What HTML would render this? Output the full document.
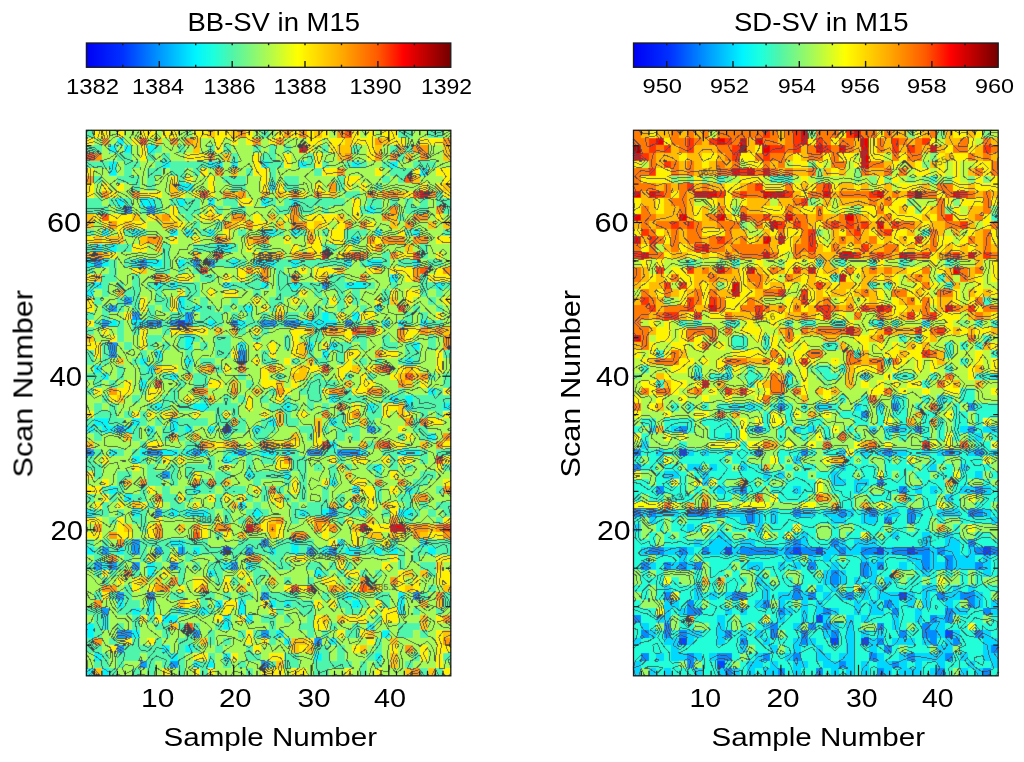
<!DOCTYPE html>
<html><head><meta charset="utf-8"><style>html,body{margin:0;padding:0;background:#fff;}svg{display:block;}</style></head>
<body><svg width="1024" height="762" viewBox="0 0 1024 762">
<defs><filter id="bl" filterUnits="userSpaceOnUse" x="0" y="0" width="1024" height="762"><feConvolveMatrix order="3" kernelMatrix="0 1 0 1 8 1 0 1 0" divisor="12" edgeMode="duplicate"/></filter></defs>
<defs><linearGradient id="cb" x1="0" x2="1" y1="0" y2="0"><stop offset="0.0" stop-color="#0000f5"/><stop offset="0.1" stop-color="#0032ff"/><stop offset="0.2" stop-color="#0096ff"/><stop offset="0.3" stop-color="#00f5ff"/><stop offset="0.35" stop-color="#1effdc"/><stop offset="0.4" stop-color="#50f5aa"/><stop offset="0.5" stop-color="#affa50"/><stop offset="0.58" stop-color="#ffff00"/><stop offset="0.7" stop-color="#ffaa00"/><stop offset="0.8" stop-color="#ff5a00"/><stop offset="0.87" stop-color="#ff0000"/><stop offset="1.0" stop-color="#730000"/></linearGradient></defs>
<rect width="1024" height="762" fill="#fff"/>
<g filter="url(#bl)"><g transform="translate(86.4 130.3) scale(7.59167 7.57639)" shape-rendering="crispEdges">
<path fill="#50f5aa" d="M0 0h1v1h-1zM23 0h1v1h-1zM41 0h2v1h-2zM45 0h2v1h-2zM0 2h2v1h-2zM9 2h1v1h-1zM12 2h1v1h-1zM16 2h1v1h-1zM18 2h1v1h-1zM22 2h1v1h-1zM24 2h1v1h-1zM26 2h1v1h-1zM31 2h1v1h-1zM35 2h1v1h-1zM40 2h1v1h-1zM42 2h1v1h-1zM4 3h2v1h-2zM8 3h1v1h-1zM10 3h1v1h-1zM19 3h1v1h-1zM23 3h2v1h-2zM29 3h1v1h-1zM41 3h1v1h-1zM0 4h3v1h-3zM5 4h2v1h-2zM9 4h1v1h-1zM11 4h5v1h-5zM24 4h2v1h-2zM29 4h1v1h-1zM31 4h1v1h-1zM34 4h1v1h-1zM36 4h1v1h-1zM39 4h1v1h-1zM43 4h3v1h-3zM5 5h1v1h-1zM8 5h2v1h-2zM11 5h2v1h-2zM14 5h1v1h-1zM21 5h1v1h-1zM24 5h1v1h-1zM30 5h1v1h-1zM40 5h3v1h-3zM1 6h1v1h-1zM4 6h3v1h-3zM8 6h1v1h-1zM12 6h1v1h-1zM18 6h3v1h-3zM24 6h1v1h-1zM26 6h2v1h-2zM33 6h1v1h-1zM39 6h1v1h-1zM41 6h1v1h-1zM6 7h1v1h-1zM8 7h1v1h-1zM19 7h2v1h-2zM26 7h2v1h-2zM33 7h1v1h-1zM38 7h1v1h-1zM34 8h2v1h-2zM46 8h1v1h-1zM0 9h2v1h-2zM3 9h1v1h-1zM5 9h1v1h-1zM9 9h1v1h-1zM11 9h1v1h-1zM13 9h2v1h-2zM18 9h2v1h-2zM24 9h1v1h-1zM26 9h1v1h-1zM28 9h6v1h-6zM37 9h2v1h-2zM40 9h1v1h-1zM42 9h1v1h-1zM44 9h1v1h-1zM46 9h2v1h-2zM0 10h3v1h-3zM4 10h1v1h-1zM7 10h1v1h-1zM9 10h1v1h-1zM12 10h3v1h-3zM17 10h1v1h-1zM19 10h2v1h-2zM25 10h2v1h-2zM28 10h2v1h-2zM31 10h1v1h-1zM36 10h1v1h-1zM38 10h1v1h-1zM42 10h3v1h-3zM47 10h1v1h-1zM13 11h1v1h-1zM41 11h1v1h-1zM14 12h1v1h-1zM17 12h1v1h-1zM0 13h1v1h-1zM5 13h1v1h-1zM7 13h1v1h-1zM15 13h1v1h-1zM20 13h1v1h-1zM25 13h1v1h-1zM28 13h1v1h-1zM31 13h1v1h-1zM34 13h3v1h-3zM42 13h1v1h-1zM47 13h1v1h-1zM34 14h1v1h-1zM0 15h1v1h-1zM2 15h1v1h-1zM4 15h2v1h-2zM10 15h1v1h-1zM14 15h3v1h-3zM19 15h1v1h-1zM23 15h1v1h-1zM31 15h2v1h-2zM44 15h1v1h-1zM10 16h1v1h-1zM39 16h1v1h-1zM44 16h1v1h-1zM3 17h1v1h-1zM5 17h1v1h-1zM10 17h1v1h-1zM13 17h1v1h-1zM17 17h2v1h-2zM20 17h1v1h-1zM25 17h2v1h-2zM28 17h6v1h-6zM36 17h1v1h-1zM39 17h1v1h-1zM41 17h2v1h-2zM45 17h2v1h-2zM0 18h1v1h-1zM3 18h1v1h-1zM9 18h2v1h-2zM12 18h1v1h-1zM14 18h1v1h-1zM25 18h1v1h-1zM2 19h2v1h-2zM6 19h1v1h-1zM15 19h2v1h-2zM22 19h1v1h-1zM25 19h2v1h-2zM32 19h2v1h-2zM44 19h1v1h-1zM0 20h1v1h-1zM2 20h1v1h-1zM4 20h1v1h-1zM6 20h1v1h-1zM8 20h1v1h-1zM10 20h1v1h-1zM12 20h3v1h-3zM19 20h4v1h-4zM25 20h2v1h-2zM28 20h3v1h-3zM32 20h2v1h-2zM37 20h1v1h-1zM40 20h1v1h-1zM44 20h2v1h-2zM47 20h1v1h-1zM2 21h1v1h-1zM5 21h2v1h-2zM9 21h1v1h-1zM13 21h2v1h-2zM22 21h1v1h-1zM25 21h3v1h-3zM30 21h1v1h-1zM33 21h1v1h-1zM35 21h1v1h-1zM39 21h1v1h-1zM44 21h1v1h-1zM46 21h1v1h-1zM1 22h1v1h-1zM4 22h1v1h-1zM6 22h1v1h-1zM9 22h2v1h-2zM13 22h1v1h-1zM15 22h1v1h-1zM19 22h1v1h-1zM24 22h2v1h-2zM31 22h1v1h-1zM33 22h1v1h-1zM35 22h1v1h-1zM39 22h1v1h-1zM45 22h1v1h-1zM2 23h1v1h-1zM4 23h1v1h-1zM6 23h1v1h-1zM8 23h1v1h-1zM10 23h1v1h-1zM13 23h1v1h-1zM15 23h2v1h-2zM18 23h1v1h-1zM20 23h1v1h-1zM24 23h1v1h-1zM28 23h1v1h-1zM30 23h1v1h-1zM33 23h1v1h-1zM36 23h1v1h-1zM43 23h1v1h-1zM46 23h1v1h-1zM0 24h1v1h-1zM2 24h1v1h-1zM8 24h1v1h-1zM11 24h2v1h-2zM15 24h3v1h-3zM19 24h1v1h-1zM21 24h1v1h-1zM23 24h1v1h-1zM26 24h2v1h-2zM30 24h1v1h-1zM32 24h1v1h-1zM42 24h1v1h-1zM44 24h1v1h-1zM1 25h1v1h-1zM4 25h1v1h-1zM10 25h1v1h-1zM14 25h2v1h-2zM17 25h1v1h-1zM21 25h2v1h-2zM25 25h1v1h-1zM35 25h1v1h-1zM37 25h1v1h-1zM42 25h1v1h-1zM45 25h2v1h-2zM0 26h1v1h-1zM4 26h1v1h-1zM6 26h1v1h-1zM10 26h1v1h-1zM20 26h1v1h-1zM23 26h1v1h-1zM30 26h1v1h-1zM4 27h1v1h-1zM8 27h2v1h-2zM12 27h1v1h-1zM14 27h1v1h-1zM17 27h2v1h-2zM22 27h1v1h-1zM26 27h1v1h-1zM29 27h2v1h-2zM35 27h2v1h-2zM39 27h1v1h-1zM45 27h1v1h-1zM2 28h1v1h-1zM5 28h1v1h-1zM8 28h1v1h-1zM10 28h1v1h-1zM12 28h1v1h-1zM15 28h1v1h-1zM17 28h2v1h-2zM26 28h1v1h-1zM33 28h2v1h-2zM36 28h1v1h-1zM39 28h2v1h-2zM42 28h1v1h-1zM45 28h1v1h-1zM0 29h1v1h-1zM2 29h1v1h-1zM7 29h1v1h-1zM13 29h1v1h-1zM17 29h2v1h-2zM23 29h1v1h-1zM29 29h1v1h-1zM33 29h1v1h-1zM42 29h2v1h-2zM47 29h1v1h-1zM0 30h1v1h-1zM2 30h1v1h-1zM6 30h1v1h-1zM9 30h1v1h-1zM15 30h2v1h-2zM23 30h2v1h-2zM27 30h1v1h-1zM30 30h2v1h-2zM33 30h1v1h-1zM36 30h1v1h-1zM38 30h1v1h-1zM41 30h1v1h-1zM43 30h1v1h-1zM4 31h1v1h-1zM7 31h1v1h-1zM13 31h1v1h-1zM17 31h1v1h-1zM0 32h2v1h-2zM4 32h1v1h-1zM7 32h2v1h-2zM10 32h1v1h-1zM14 32h2v1h-2zM20 32h1v1h-1zM25 32h1v1h-1zM30 32h1v1h-1zM34 32h1v1h-1zM37 32h1v1h-1zM45 32h1v1h-1zM47 32h1v1h-1zM1 33h1v1h-1zM3 33h1v1h-1zM12 33h1v1h-1zM14 33h2v1h-2zM21 33h1v1h-1zM29 33h4v1h-4zM47 33h1v1h-1zM0 34h1v1h-1zM7 34h1v1h-1zM11 34h1v1h-1zM24 34h1v1h-1zM28 34h3v1h-3zM34 34h1v1h-1zM41 34h1v1h-1zM46 34h1v1h-1zM2 35h1v1h-1zM6 35h1v1h-1zM10 35h2v1h-2zM15 35h1v1h-1zM18 35h1v1h-1zM20 35h1v1h-1zM23 35h1v1h-1zM26 35h1v1h-1zM29 35h2v1h-2zM33 35h4v1h-4zM39 35h1v1h-1zM41 35h1v1h-1zM43 35h5v1h-5zM1 36h1v1h-1zM3 36h1v1h-1zM8 36h1v1h-1zM10 36h1v1h-1zM12 36h2v1h-2zM16 36h4v1h-4zM24 36h2v1h-2zM27 36h1v1h-1zM29 36h1v1h-1zM31 36h1v1h-1zM38 36h1v1h-1zM43 36h4v1h-4zM1 37h3v1h-3zM5 37h1v1h-1zM7 37h1v1h-1zM17 37h1v1h-1zM19 37h1v1h-1zM26 37h1v1h-1zM33 37h1v1h-1zM37 37h2v1h-2zM44 37h1v1h-1zM46 37h1v1h-1zM0 38h1v1h-1zM3 38h2v1h-2zM7 38h1v1h-1zM9 38h1v1h-1zM12 38h4v1h-4zM17 38h2v1h-2zM20 38h1v1h-1zM23 38h1v1h-1zM26 38h2v1h-2zM33 38h1v1h-1zM37 38h1v1h-1zM43 38h1v1h-1zM1 39h1v1h-1zM6 39h1v1h-1zM10 39h1v1h-1zM12 39h1v1h-1zM19 39h2v1h-2zM23 39h2v1h-2zM28 39h2v1h-2zM31 39h1v1h-1zM33 39h3v1h-3zM38 39h1v1h-1zM43 39h2v1h-2zM1 40h1v1h-1zM6 40h1v1h-1zM8 40h1v1h-1zM10 40h1v1h-1zM12 40h1v1h-1zM18 40h1v1h-1zM22 40h2v1h-2zM29 40h1v1h-1zM33 40h1v1h-1zM35 40h1v1h-1zM41 40h1v1h-1zM44 40h1v1h-1zM7 41h1v1h-1zM13 41h2v1h-2zM37 41h1v1h-1zM1 42h1v1h-1zM4 42h1v1h-1zM6 42h1v1h-1zM12 42h1v1h-1zM18 42h1v1h-1zM21 42h2v1h-2zM25 42h1v1h-1zM27 42h1v1h-1zM31 42h2v1h-2zM39 42h2v1h-2zM44 42h1v1h-1zM46 42h2v1h-2zM0 43h1v1h-1zM7 43h1v1h-1zM9 43h1v1h-1zM16 43h1v1h-1zM19 43h1v1h-1zM21 43h1v1h-1zM23 43h2v1h-2zM27 43h2v1h-2zM33 43h1v1h-1zM40 43h1v1h-1zM44 43h1v1h-1zM0 44h2v1h-2zM8 44h1v1h-1zM11 44h1v1h-1zM13 44h4v1h-4zM21 44h1v1h-1zM27 44h2v1h-2zM30 44h1v1h-1zM32 44h1v1h-1zM34 44h1v1h-1zM37 44h1v1h-1zM40 44h1v1h-1zM42 44h1v1h-1zM47 44h1v1h-1zM1 45h1v1h-1zM4 45h2v1h-2zM8 45h2v1h-2zM11 45h1v1h-1zM13 45h1v1h-1zM17 45h2v1h-2zM22 45h4v1h-4zM28 45h1v1h-1zM32 45h1v1h-1zM38 45h1v1h-1zM44 45h2v1h-2zM4 46h1v1h-1zM8 46h2v1h-2zM11 46h1v1h-1zM15 46h1v1h-1zM17 46h1v1h-1zM22 46h1v1h-1zM26 46h1v1h-1zM28 46h1v1h-1zM43 46h2v1h-2zM2 47h1v1h-1zM4 47h1v1h-1zM7 47h1v1h-1zM10 47h1v1h-1zM13 47h1v1h-1zM15 47h2v1h-2zM18 47h3v1h-3zM23 47h1v1h-1zM25 47h1v1h-1zM28 47h1v1h-1zM31 47h1v1h-1zM38 47h1v1h-1zM43 47h1v1h-1zM46 47h1v1h-1zM0 48h1v1h-1zM3 48h1v1h-1zM6 48h2v1h-2zM10 48h2v1h-2zM13 48h1v1h-1zM17 48h1v1h-1zM21 48h1v1h-1zM23 48h1v1h-1zM26 48h1v1h-1zM28 48h1v1h-1zM31 48h1v1h-1zM33 48h1v1h-1zM38 48h1v1h-1zM41 48h2v1h-2zM2 49h1v1h-1zM8 49h1v1h-1zM11 49h2v1h-2zM17 49h1v1h-1zM22 49h1v1h-1zM27 49h1v1h-1zM29 49h3v1h-3zM33 49h1v1h-1zM35 49h1v1h-1zM42 49h1v1h-1zM44 49h1v1h-1zM46 49h2v1h-2zM1 50h2v1h-2zM4 50h1v1h-1zM7 50h1v1h-1zM10 50h1v1h-1zM12 50h1v1h-1zM16 50h1v1h-1zM18 50h1v1h-1zM21 50h1v1h-1zM23 50h1v1h-1zM27 50h1v1h-1zM29 50h2v1h-2zM33 50h3v1h-3zM39 50h1v1h-1zM43 50h1v1h-1zM45 50h1v1h-1zM47 50h1v1h-1zM3 51h1v1h-1zM6 51h2v1h-2zM15 51h2v1h-2zM18 51h1v1h-1zM20 51h1v1h-1zM22 51h1v1h-1zM27 51h1v1h-1zM33 51h1v1h-1zM42 51h1v1h-1zM46 51h1v1h-1zM7 52h1v1h-1zM17 53h1v1h-1zM0 54h1v1h-1zM2 54h1v1h-1zM5 54h1v1h-1zM7 54h4v1h-4zM13 54h3v1h-3zM20 54h3v1h-3zM25 54h2v1h-2zM28 54h2v1h-2zM37 54h1v1h-1zM40 54h1v1h-1zM45 54h3v1h-3zM1 55h1v1h-1zM3 55h1v1h-1zM5 55h1v1h-1zM7 55h1v1h-1zM10 55h1v1h-1zM13 55h1v1h-1zM15 55h3v1h-3zM19 55h2v1h-2zM22 55h2v1h-2zM25 55h2v1h-2zM28 55h1v1h-1zM30 55h1v1h-1zM33 55h1v1h-1zM36 55h2v1h-2zM39 55h1v1h-1zM41 55h1v1h-1zM43 55h2v1h-2zM46 55h2v1h-2zM1 56h1v1h-1zM5 56h1v1h-1zM7 56h1v1h-1zM10 56h1v1h-1zM13 56h1v1h-1zM17 56h1v1h-1zM19 56h1v1h-1zM24 56h2v1h-2zM41 56h1v1h-1zM43 56h1v1h-1zM0 57h1v1h-1zM4 57h1v1h-1zM9 57h1v1h-1zM12 57h1v1h-1zM14 57h1v1h-1zM16 57h2v1h-2zM22 57h1v1h-1zM25 57h2v1h-2zM29 57h2v1h-2zM32 57h1v1h-1zM34 57h1v1h-1zM41 57h1v1h-1zM44 57h2v1h-2zM1 58h1v1h-1zM3 58h1v1h-1zM6 58h1v1h-1zM12 58h1v1h-1zM17 58h1v1h-1zM22 58h2v1h-2zM31 58h1v1h-1zM33 58h1v1h-1zM36 58h1v1h-1zM38 58h1v1h-1zM45 58h1v1h-1zM2 59h1v1h-1zM12 59h1v1h-1zM17 59h1v1h-1zM19 59h1v1h-1zM22 59h1v1h-1zM26 59h1v1h-1zM29 59h1v1h-1zM34 59h1v1h-1zM37 59h1v1h-1zM5 60h1v1h-1zM23 60h1v1h-1zM45 60h1v1h-1zM1 61h1v1h-1zM3 61h1v1h-1zM5 61h1v1h-1zM11 61h2v1h-2zM15 61h2v1h-2zM18 61h1v1h-1zM20 61h2v1h-2zM24 61h4v1h-4zM31 61h1v1h-1zM33 61h1v1h-1zM35 61h1v1h-1zM38 61h2v1h-2zM44 61h1v1h-1zM47 61h1v1h-1zM5 62h2v1h-2zM15 62h1v1h-1zM25 62h1v1h-1zM27 62h3v1h-3zM33 62h2v1h-2zM36 62h1v1h-1zM39 62h1v1h-1zM47 62h1v1h-1zM0 63h2v1h-2zM4 63h2v1h-2zM7 63h1v1h-1zM11 63h1v1h-1zM13 63h2v1h-2zM16 63h1v1h-1zM25 63h1v1h-1zM28 63h2v1h-2zM34 63h2v1h-2zM43 63h1v1h-1zM46 63h1v1h-1zM1 64h1v1h-1zM6 64h1v1h-1zM8 64h1v1h-1zM23 64h2v1h-2zM26 64h1v1h-1zM29 64h1v1h-1zM38 64h1v1h-1zM1 65h1v1h-1zM4 65h1v1h-1zM6 65h1v1h-1zM9 65h2v1h-2zM12 65h1v1h-1zM14 65h1v1h-1zM17 65h1v1h-1zM24 65h1v1h-1zM28 65h2v1h-2zM32 65h1v1h-1zM35 65h1v1h-1zM41 65h3v1h-3zM1 66h1v1h-1zM10 66h1v1h-1zM13 66h1v1h-1zM16 66h1v1h-1zM20 66h1v1h-1zM22 66h1v1h-1zM24 66h1v1h-1zM29 66h1v1h-1zM31 66h1v1h-1zM34 66h2v1h-2zM41 66h2v1h-2zM44 66h1v1h-1zM0 67h1v1h-1zM3 67h1v1h-1zM6 67h1v1h-1zM9 67h1v1h-1zM12 67h2v1h-2zM16 67h1v1h-1zM18 67h1v1h-1zM24 67h1v1h-1zM38 67h1v1h-1zM0 68h2v1h-2zM5 68h5v1h-5zM12 68h1v1h-1zM14 68h1v1h-1zM17 68h1v1h-1zM21 68h1v1h-1zM30 68h2v1h-2zM33 68h1v1h-1zM38 68h1v1h-1zM2 69h1v1h-1zM4 69h3v1h-3zM8 69h3v1h-3zM12 69h1v1h-1zM16 69h1v1h-1zM21 69h2v1h-2zM26 69h2v1h-2zM31 69h1v1h-1zM33 69h1v1h-1zM37 69h1v1h-1zM43 69h1v1h-1zM47 69h1v1h-1zM1 70h2v1h-2zM4 70h1v1h-1zM8 70h1v1h-1zM10 70h1v1h-1zM12 70h1v1h-1zM15 70h1v1h-1zM18 70h1v1h-1zM20 70h1v1h-1zM24 70h1v1h-1zM26 70h2v1h-2zM30 70h5v1h-5zM36 70h1v1h-1zM38 70h1v1h-1zM42 70h1v1h-1zM3 71h1v1h-1zM6 71h1v1h-1zM8 71h1v1h-1zM12 71h1v1h-1zM15 71h1v1h-1zM21 71h1v1h-1zM30 71h2v1h-2zM36 71h1v1h-1zM44 71h1v1h-1zM46 71h1v1h-1z"/>
<path fill="#fff100" d="M1 0h2v1h-2zM4 0h1v1h-1zM7 0h2v1h-2zM10 0h2v1h-2zM14 0h2v1h-2zM17 0h2v1h-2zM21 0h1v1h-1zM25 0h1v1h-1zM27 0h1v1h-1zM29 0h1v1h-1zM31 0h1v1h-1zM35 0h1v1h-1zM37 0h1v1h-1zM39 0h2v1h-2zM0 1h1v1h-1zM6 1h1v1h-1zM17 1h1v1h-1zM19 1h1v1h-1zM21 1h1v1h-1zM24 1h1v1h-1zM29 1h2v1h-2zM32 1h2v1h-2zM35 1h3v1h-3zM40 1h2v1h-2zM44 1h3v1h-3zM7 2h1v1h-1zM17 2h1v1h-1zM29 2h1v1h-1zM32 2h1v1h-1zM37 2h1v1h-1zM7 3h1v1h-1zM13 3h3v1h-3zM22 3h1v1h-1zM26 3h1v1h-1zM30 3h1v1h-1zM37 3h1v1h-1zM22 4h1v1h-1zM26 4h1v1h-1zM30 4h1v1h-1zM0 5h1v1h-1zM15 5h1v1h-1zM22 5h2v1h-2zM31 5h2v1h-2zM38 5h1v1h-1zM43 5h1v1h-1zM46 5h2v1h-2zM11 6h1v1h-1zM13 6h1v1h-1zM16 6h1v1h-1zM23 6h1v1h-1zM34 6h2v1h-2zM47 6h1v1h-1zM0 7h1v1h-1zM2 7h1v1h-1zM4 7h1v1h-1zM16 7h1v1h-1zM23 7h1v1h-1zM25 7h1v1h-1zM30 7h1v1h-1zM34 7h1v1h-1zM36 7h1v1h-1zM44 7h1v1h-1zM46 7h1v1h-1zM0 8h1v1h-1zM3 8h1v1h-1zM7 8h3v1h-3zM12 8h1v1h-1zM14 8h1v1h-1zM16 8h1v1h-1zM26 8h1v1h-1zM28 8h1v1h-1zM31 8h1v1h-1zM38 8h1v1h-1zM42 8h1v1h-1zM47 8h1v1h-1zM20 9h2v1h-2zM35 9h1v1h-1zM11 10h1v1h-1zM16 10h1v1h-1zM35 10h1v1h-1zM1 11h1v1h-1zM3 11h3v1h-3zM8 11h1v1h-1zM11 11h1v1h-1zM15 11h1v1h-1zM17 11h1v1h-1zM22 11h1v1h-1zM26 11h1v1h-1zM29 11h4v1h-4zM35 11h1v1h-1zM46 11h1v1h-1zM2 12h1v1h-1zM4 12h1v1h-1zM6 12h2v1h-2zM12 12h1v1h-1zM20 12h1v1h-1zM22 12h2v1h-2zM29 12h1v1h-1zM31 12h1v1h-1zM33 12h1v1h-1zM37 12h1v1h-1zM4 13h1v1h-1zM18 13h1v1h-1zM32 13h2v1h-2zM41 13h1v1h-1zM0 14h1v1h-1zM2 14h1v1h-1zM11 14h1v1h-1zM14 14h1v1h-1zM26 14h1v1h-1zM30 14h1v1h-1zM32 14h2v1h-2zM38 14h1v1h-1zM46 14h2v1h-2zM6 15h2v1h-2zM21 15h1v1h-1zM27 15h1v1h-1zM29 15h2v1h-2zM34 15h1v1h-1zM37 15h1v1h-1zM3 16h1v1h-1zM22 16h1v1h-1zM30 16h1v1h-1zM33 16h1v1h-1zM41 16h2v1h-2zM46 16h1v1h-1zM6 18h1v1h-1zM20 18h1v1h-1zM22 18h1v1h-1zM28 18h1v1h-1zM30 18h3v1h-3zM37 18h1v1h-1zM40 18h3v1h-3zM46 18h1v1h-1zM0 19h1v1h-1zM12 19h2v1h-2zM18 19h1v1h-1zM20 19h1v1h-1zM30 19h1v1h-1zM42 19h1v1h-1zM45 19h3v1h-3zM12 21h1v1h-1zM16 21h1v1h-1zM18 21h2v1h-2zM28 21h1v1h-1zM40 21h1v1h-1zM42 21h2v1h-2zM0 22h1v1h-1zM7 22h1v1h-1zM11 22h1v1h-1zM22 22h1v1h-1zM27 22h1v1h-1zM32 22h1v1h-1zM34 22h1v1h-1zM38 22h1v1h-1zM42 22h1v1h-1zM47 22h1v1h-1zM0 23h1v1h-1zM7 23h1v1h-1zM11 23h1v1h-1zM23 23h1v1h-1zM25 23h1v1h-1zM5 24h1v1h-1zM33 24h1v1h-1zM36 24h2v1h-2zM46 24h1v1h-1zM0 25h1v1h-1zM2 26h1v1h-1zM7 26h1v1h-1zM11 26h2v1h-2zM14 26h2v1h-2zM22 26h1v1h-1zM27 26h2v1h-2zM34 26h1v1h-1zM38 26h1v1h-1zM42 26h2v1h-2zM3 27h1v1h-1zM7 27h1v1h-1zM27 27h1v1h-1zM34 27h1v1h-1zM42 27h1v1h-1zM0 28h2v1h-2zM7 28h1v1h-1zM22 28h1v1h-1zM24 28h1v1h-1zM27 28h1v1h-1zM31 28h1v1h-1zM1 29h1v1h-1zM19 29h1v1h-1zM24 29h1v1h-1zM27 29h1v1h-1zM34 29h2v1h-2zM39 29h2v1h-2zM46 29h1v1h-1zM22 30h1v1h-1zM26 30h1v1h-1zM34 30h1v1h-1zM46 30h1v1h-1zM10 31h2v1h-2zM18 31h1v1h-1zM23 31h1v1h-1zM25 31h1v1h-1zM27 31h1v1h-1zM29 31h2v1h-2zM33 31h2v1h-2zM37 31h1v1h-1zM41 31h1v1h-1zM43 31h1v1h-1zM46 31h1v1h-1zM23 32h1v1h-1zM33 32h1v1h-1zM36 32h1v1h-1zM40 32h1v1h-1zM5 33h1v1h-1zM16 33h2v1h-2zM23 33h2v1h-2zM27 33h1v1h-1zM36 33h2v1h-2zM44 33h1v1h-1zM1 34h1v1h-1zM4 34h2v1h-2zM8 34h2v1h-2zM26 34h1v1h-1zM31 34h1v1h-1zM35 34h2v1h-2zM47 34h1v1h-1zM3 35h1v1h-1zM8 35h1v1h-1zM13 35h1v1h-1zM21 35h1v1h-1zM25 35h1v1h-1zM21 36h1v1h-1zM35 36h1v1h-1zM39 36h2v1h-2zM0 37h1v1h-1zM6 37h1v1h-1zM8 37h1v1h-1zM10 37h1v1h-1zM14 37h1v1h-1zM18 37h1v1h-1zM23 37h1v1h-1zM28 37h1v1h-1zM34 37h1v1h-1zM39 37h1v1h-1zM42 37h1v1h-1zM47 37h1v1h-1zM34 38h1v1h-1zM45 38h2v1h-2zM41 39h1v1h-1zM30 40h1v1h-1zM42 40h1v1h-1zM8 41h2v1h-2zM17 41h1v1h-1zM21 41h1v1h-1zM25 41h1v1h-1zM27 41h1v1h-1zM30 41h1v1h-1zM40 41h2v1h-2zM47 41h1v1h-1zM2 43h1v1h-1zM10 43h1v1h-1zM12 43h1v1h-1zM25 43h1v1h-1zM32 43h1v1h-1zM35 43h2v1h-2zM39 43h1v1h-1zM41 43h2v1h-2zM47 43h1v1h-1zM6 44h1v1h-1zM18 44h1v1h-1zM25 44h2v1h-2zM33 44h1v1h-1zM46 44h1v1h-1zM0 45h1v1h-1zM14 45h1v1h-1zM40 45h1v1h-1zM2 46h1v1h-1zM27 46h1v1h-1zM31 46h1v1h-1zM35 46h2v1h-2zM47 46h1v1h-1zM0 47h2v1h-2zM8 47h1v1h-1zM22 47h1v1h-1zM27 47h1v1h-1zM36 47h2v1h-2zM40 47h1v1h-1zM2 48h1v1h-1zM12 48h1v1h-1zM16 48h1v1h-1zM18 48h1v1h-1zM20 48h1v1h-1zM24 48h1v1h-1zM37 48h1v1h-1zM1 49h1v1h-1zM4 49h1v1h-1zM7 49h1v1h-1zM9 49h1v1h-1zM14 49h1v1h-1zM25 49h1v1h-1zM34 49h1v1h-1zM37 49h1v1h-1zM40 49h1v1h-1zM40 50h1v1h-1zM0 51h2v1h-2zM4 51h1v1h-1zM9 51h1v1h-1zM17 51h1v1h-1zM23 51h1v1h-1zM29 51h1v1h-1zM34 51h1v1h-1zM47 51h1v1h-1zM4 52h1v1h-1zM8 52h1v1h-1zM15 52h1v1h-1zM23 52h1v1h-1zM25 52h1v1h-1zM31 52h1v1h-1zM37 52h3v1h-3zM0 53h2v1h-2zM4 53h2v1h-2zM8 53h1v1h-1zM15 53h1v1h-1zM18 53h1v1h-1zM25 53h1v1h-1zM31 53h1v1h-1zM35 53h1v1h-1zM41 53h1v1h-1zM45 53h2v1h-2zM32 54h1v1h-1zM35 54h1v1h-1zM39 54h1v1h-1zM8 56h1v1h-1zM11 56h1v1h-1zM27 56h2v1h-2zM40 56h1v1h-1zM46 56h2v1h-2zM33 57h1v1h-1zM39 57h1v1h-1zM2 58h1v1h-1zM10 58h1v1h-1zM20 58h1v1h-1zM34 58h2v1h-2zM41 58h1v1h-1zM46 58h2v1h-2zM4 59h1v1h-1zM6 59h1v1h-1zM14 59h2v1h-2zM18 59h1v1h-1zM21 59h1v1h-1zM31 59h2v1h-2zM41 59h1v1h-1zM43 59h1v1h-1zM46 59h2v1h-2zM6 60h1v1h-1zM8 60h1v1h-1zM12 60h1v1h-1zM14 60h1v1h-1zM18 60h1v1h-1zM26 60h1v1h-1zM28 60h1v1h-1zM35 60h1v1h-1zM38 60h1v1h-1zM41 60h1v1h-1zM43 60h1v1h-1zM2 61h1v1h-1zM13 62h2v1h-2zM18 62h2v1h-2zM23 62h1v1h-1zM30 62h1v1h-1zM32 62h1v1h-1zM38 62h1v1h-1zM18 63h1v1h-1zM24 63h1v1h-1zM37 63h1v1h-1zM39 63h2v1h-2zM7 64h1v1h-1zM9 64h1v1h-1zM17 64h1v1h-1zM20 64h1v1h-1zM30 64h1v1h-1zM34 64h3v1h-3zM39 64h2v1h-2zM46 64h1v1h-1zM30 65h2v1h-2zM21 66h1v1h-1zM33 66h1v1h-1zM36 66h1v1h-1zM46 66h1v1h-1zM5 67h1v1h-1zM8 67h1v1h-1zM21 67h1v1h-1zM23 67h1v1h-1zM29 67h1v1h-1zM37 67h1v1h-1zM46 67h1v1h-1zM3 68h1v1h-1zM22 68h1v1h-1zM28 68h1v1h-1zM35 68h1v1h-1zM40 68h1v1h-1zM44 68h1v1h-1zM46 68h2v1h-2zM14 69h2v1h-2zM19 69h1v1h-1zM24 69h2v1h-2zM44 69h1v1h-1zM46 69h1v1h-1zM46 70h1v1h-1zM10 71h1v1h-1zM14 71h1v1h-1zM16 71h1v1h-1zM23 71h3v1h-3zM27 71h2v1h-2zM34 71h1v1h-1zM38 71h1v1h-1zM47 71h1v1h-1z"/>
<path fill="#a6fa59" d="M3 0h1v1h-1zM5 0h2v1h-2zM9 0h1v1h-1zM12 0h1v1h-1zM22 0h1v1h-1zM24 0h1v1h-1zM32 0h1v1h-1zM36 0h1v1h-1zM38 0h1v1h-1zM43 0h2v1h-2zM47 0h1v1h-1zM1 1h1v1h-1zM3 1h1v1h-1zM5 1h1v1h-1zM8 1h1v1h-1zM10 1h1v1h-1zM12 1h1v1h-1zM15 1h2v1h-2zM18 1h1v1h-1zM20 1h1v1h-1zM23 1h1v1h-1zM26 1h3v1h-3zM31 1h1v1h-1zM42 1h2v1h-2zM2 2h1v1h-1zM4 2h1v1h-1zM6 2h1v1h-1zM10 2h2v1h-2zM13 2h1v1h-1zM15 2h1v1h-1zM19 2h3v1h-3zM23 2h1v1h-1zM25 2h1v1h-1zM27 2h1v1h-1zM30 2h1v1h-1zM36 2h1v1h-1zM39 2h1v1h-1zM45 2h2v1h-2zM2 3h2v1h-2zM6 3h1v1h-1zM9 3h1v1h-1zM11 3h2v1h-2zM17 3h1v1h-1zM20 3h2v1h-2zM25 3h1v1h-1zM27 3h2v1h-2zM31 3h2v1h-2zM35 3h2v1h-2zM39 3h1v1h-1zM43 3h1v1h-1zM45 3h2v1h-2zM4 4h1v1h-1zM7 4h2v1h-2zM18 4h1v1h-1zM20 4h2v1h-2zM27 4h1v1h-1zM32 4h2v1h-2zM37 4h2v1h-2zM41 4h2v1h-2zM46 4h2v1h-2zM1 5h2v1h-2zM4 5h1v1h-1zM6 5h2v1h-2zM10 5h1v1h-1zM13 5h1v1h-1zM16 5h1v1h-1zM18 5h1v1h-1zM20 5h1v1h-1zM25 5h5v1h-5zM34 5h4v1h-4zM39 5h1v1h-1zM45 5h1v1h-1zM2 6h2v1h-2zM7 6h1v1h-1zM9 6h2v1h-2zM14 6h2v1h-2zM17 6h1v1h-1zM21 6h2v1h-2zM25 6h1v1h-1zM28 6h5v1h-5zM36 6h3v1h-3zM40 6h1v1h-1zM44 6h3v1h-3zM1 7h1v1h-1zM3 7h1v1h-1zM5 7h1v1h-1zM7 7h1v1h-1zM9 7h2v1h-2zM14 7h2v1h-2zM17 7h2v1h-2zM21 7h2v1h-2zM28 7h2v1h-2zM31 7h1v1h-1zM35 7h1v1h-1zM37 7h1v1h-1zM39 7h5v1h-5zM45 7h1v1h-1zM1 8h1v1h-1zM4 8h2v1h-2zM10 8h1v1h-1zM13 8h1v1h-1zM17 8h1v1h-1zM21 8h2v1h-2zM24 8h1v1h-1zM29 8h1v1h-1zM33 8h1v1h-1zM36 8h1v1h-1zM2 9h1v1h-1zM6 9h1v1h-1zM10 9h1v1h-1zM15 9h1v1h-1zM17 9h1v1h-1zM22 9h1v1h-1zM25 9h1v1h-1zM34 9h1v1h-1zM36 9h1v1h-1zM39 9h1v1h-1zM41 9h1v1h-1zM43 9h1v1h-1zM45 9h1v1h-1zM3 10h1v1h-1zM6 10h1v1h-1zM10 10h1v1h-1zM15 10h1v1h-1zM18 10h1v1h-1zM21 10h4v1h-4zM30 10h1v1h-1zM32 10h3v1h-3zM39 10h1v1h-1zM41 10h1v1h-1zM45 10h1v1h-1zM7 11h1v1h-1zM12 11h1v1h-1zM14 11h1v1h-1zM18 11h1v1h-1zM21 11h1v1h-1zM23 11h1v1h-1zM25 11h1v1h-1zM28 11h1v1h-1zM34 11h1v1h-1zM36 11h3v1h-3zM42 11h1v1h-1zM45 11h1v1h-1zM47 11h1v1h-1zM1 12h1v1h-1zM8 12h2v1h-2zM13 12h1v1h-1zM15 12h2v1h-2zM24 12h1v1h-1zM26 12h1v1h-1zM32 12h1v1h-1zM35 12h1v1h-1zM38 12h2v1h-2zM41 12h1v1h-1zM43 12h2v1h-2zM46 12h1v1h-1zM1 13h1v1h-1zM3 13h1v1h-1zM8 13h3v1h-3zM12 13h1v1h-1zM14 13h1v1h-1zM17 13h1v1h-1zM19 13h1v1h-1zM21 13h2v1h-2zM26 13h1v1h-1zM30 13h1v1h-1zM37 13h1v1h-1zM39 13h2v1h-2zM44 13h3v1h-3zM5 14h2v1h-2zM10 14h1v1h-1zM12 14h2v1h-2zM15 14h2v1h-2zM19 14h2v1h-2zM24 14h2v1h-2zM27 14h2v1h-2zM31 14h1v1h-1zM36 14h1v1h-1zM42 14h1v1h-1zM45 14h1v1h-1zM8 15h1v1h-1zM11 15h3v1h-3zM20 15h1v1h-1zM22 15h1v1h-1zM24 15h3v1h-3zM28 15h1v1h-1zM33 15h1v1h-1zM35 15h2v1h-2zM39 15h3v1h-3zM43 15h1v1h-1zM45 15h3v1h-3zM4 16h6v1h-6zM11 16h3v1h-3zM15 16h2v1h-2zM18 16h4v1h-4zM26 16h1v1h-1zM32 16h1v1h-1zM37 16h2v1h-2zM45 16h1v1h-1zM47 16h1v1h-1zM4 17h1v1h-1zM11 17h1v1h-1zM15 17h1v1h-1zM21 17h1v1h-1zM35 17h1v1h-1zM40 17h1v1h-1zM44 17h1v1h-1zM47 17h1v1h-1zM1 18h2v1h-2zM4 18h2v1h-2zM8 18h1v1h-1zM11 18h1v1h-1zM13 18h1v1h-1zM16 18h4v1h-4zM24 18h1v1h-1zM26 18h2v1h-2zM29 18h1v1h-1zM34 18h3v1h-3zM39 18h1v1h-1zM45 18h1v1h-1zM4 19h2v1h-2zM7 19h2v1h-2zM11 19h1v1h-1zM14 19h1v1h-1zM17 19h1v1h-1zM19 19h1v1h-1zM21 19h1v1h-1zM24 19h1v1h-1zM28 19h2v1h-2zM34 19h2v1h-2zM37 19h3v1h-3zM41 19h1v1h-1zM3 20h1v1h-1zM5 20h1v1h-1zM7 20h1v1h-1zM15 20h3v1h-3zM24 20h1v1h-1zM38 20h2v1h-2zM41 20h3v1h-3zM1 21h1v1h-1zM3 21h1v1h-1zM7 21h2v1h-2zM10 21h2v1h-2zM15 21h1v1h-1zM17 21h1v1h-1zM20 21h2v1h-2zM23 21h2v1h-2zM29 21h1v1h-1zM31 21h2v1h-2zM34 21h1v1h-1zM36 21h3v1h-3zM41 21h1v1h-1zM45 21h1v1h-1zM47 21h1v1h-1zM2 22h2v1h-2zM8 22h1v1h-1zM14 22h1v1h-1zM16 22h3v1h-3zM20 22h2v1h-2zM23 22h1v1h-1zM26 22h1v1h-1zM28 22h3v1h-3zM36 22h2v1h-2zM41 22h1v1h-1zM43 22h2v1h-2zM46 22h1v1h-1zM1 23h1v1h-1zM5 23h1v1h-1zM9 23h1v1h-1zM17 23h1v1h-1zM19 23h1v1h-1zM22 23h1v1h-1zM26 23h2v1h-2zM29 23h1v1h-1zM31 23h2v1h-2zM34 23h2v1h-2zM37 23h1v1h-1zM39 23h2v1h-2zM42 23h1v1h-1zM44 23h2v1h-2zM47 23h1v1h-1zM1 24h1v1h-1zM3 24h2v1h-2zM7 24h1v1h-1zM9 24h2v1h-2zM14 24h1v1h-1zM18 24h1v1h-1zM20 24h1v1h-1zM22 24h1v1h-1zM24 24h1v1h-1zM28 24h1v1h-1zM34 24h1v1h-1zM38 24h4v1h-4zM43 24h1v1h-1zM45 24h1v1h-1zM47 24h1v1h-1zM5 25h1v1h-1zM18 25h1v1h-1zM33 25h1v1h-1zM36 25h1v1h-1zM38 25h1v1h-1zM40 25h1v1h-1zM43 25h1v1h-1zM47 25h1v1h-1zM1 26h1v1h-1zM3 26h1v1h-1zM5 26h1v1h-1zM8 26h2v1h-2zM16 26h1v1h-1zM18 26h1v1h-1zM21 26h1v1h-1zM24 26h3v1h-3zM39 26h2v1h-2zM1 27h2v1h-2zM5 27h2v1h-2zM10 27h2v1h-2zM15 27h2v1h-2zM19 27h3v1h-3zM23 27h3v1h-3zM28 27h1v1h-1zM31 27h3v1h-3zM37 27h2v1h-2zM40 27h1v1h-1zM43 27h2v1h-2zM46 27h1v1h-1zM4 28h1v1h-1zM6 28h1v1h-1zM9 28h1v1h-1zM11 28h1v1h-1zM14 28h1v1h-1zM16 28h1v1h-1zM19 28h1v1h-1zM21 28h1v1h-1zM23 28h1v1h-1zM25 28h1v1h-1zM30 28h1v1h-1zM35 28h1v1h-1zM37 28h2v1h-2zM41 28h1v1h-1zM44 28h1v1h-1zM46 28h1v1h-1zM4 29h3v1h-3zM8 29h1v1h-1zM10 29h3v1h-3zM14 29h3v1h-3zM21 29h2v1h-2zM25 29h2v1h-2zM30 29h1v1h-1zM32 29h1v1h-1zM36 29h2v1h-2zM41 29h1v1h-1zM44 29h2v1h-2zM1 30h1v1h-1zM3 30h1v1h-1zM5 30h1v1h-1zM8 30h1v1h-1zM10 30h3v1h-3zM14 30h1v1h-1zM17 30h3v1h-3zM21 30h1v1h-1zM25 30h1v1h-1zM28 30h1v1h-1zM32 30h1v1h-1zM35 30h1v1h-1zM37 30h1v1h-1zM39 30h2v1h-2zM44 30h2v1h-2zM47 30h1v1h-1zM0 31h1v1h-1zM2 31h2v1h-2zM5 31h2v1h-2zM12 31h1v1h-1zM14 31h1v1h-1zM19 31h1v1h-1zM21 31h2v1h-2zM26 31h1v1h-1zM32 31h1v1h-1zM36 31h1v1h-1zM40 31h1v1h-1zM44 31h2v1h-2zM47 31h1v1h-1zM3 32h1v1h-1zM5 32h2v1h-2zM9 32h1v1h-1zM12 32h1v1h-1zM16 32h4v1h-4zM21 32h2v1h-2zM24 32h1v1h-1zM26 32h1v1h-1zM29 32h1v1h-1zM31 32h2v1h-2zM35 32h1v1h-1zM38 32h2v1h-2zM46 32h1v1h-1zM0 33h1v1h-1zM2 33h1v1h-1zM4 33h1v1h-1zM6 33h1v1h-1zM8 33h1v1h-1zM10 33h2v1h-2zM13 33h1v1h-1zM18 33h1v1h-1zM20 33h1v1h-1zM22 33h1v1h-1zM26 33h1v1h-1zM28 33h1v1h-1zM33 33h1v1h-1zM35 33h1v1h-1zM38 33h3v1h-3zM43 33h1v1h-1zM45 33h2v1h-2zM2 34h1v1h-1zM6 34h1v1h-1zM10 34h1v1h-1zM12 34h2v1h-2zM16 34h3v1h-3zM20 34h2v1h-2zM23 34h1v1h-1zM27 34h1v1h-1zM39 34h2v1h-2zM42 34h3v1h-3zM0 35h2v1h-2zM5 35h1v1h-1zM7 35h1v1h-1zM9 35h1v1h-1zM12 35h1v1h-1zM14 35h1v1h-1zM17 35h1v1h-1zM19 35h1v1h-1zM22 35h1v1h-1zM24 35h1v1h-1zM27 35h2v1h-2zM31 35h1v1h-1zM37 35h2v1h-2zM0 36h1v1h-1zM2 36h1v1h-1zM4 36h4v1h-4zM11 36h1v1h-1zM20 36h1v1h-1zM22 36h2v1h-2zM28 36h1v1h-1zM30 36h1v1h-1zM32 36h1v1h-1zM34 36h1v1h-1zM36 36h1v1h-1zM4 37h1v1h-1zM9 37h1v1h-1zM12 37h2v1h-2zM15 37h2v1h-2zM20 37h3v1h-3zM24 37h1v1h-1zM27 37h1v1h-1zM29 37h2v1h-2zM32 37h1v1h-1zM36 37h1v1h-1zM40 37h1v1h-1zM43 37h1v1h-1zM45 37h1v1h-1zM5 38h1v1h-1zM8 38h1v1h-1zM10 38h1v1h-1zM16 38h1v1h-1zM21 38h2v1h-2zM28 38h2v1h-2zM31 38h1v1h-1zM35 38h1v1h-1zM38 38h4v1h-4zM47 38h1v1h-1zM7 39h1v1h-1zM9 39h1v1h-1zM14 39h2v1h-2zM17 39h1v1h-1zM21 39h1v1h-1zM25 39h3v1h-3zM32 39h1v1h-1zM36 39h1v1h-1zM39 39h2v1h-2zM42 39h1v1h-1zM45 39h3v1h-3zM0 40h1v1h-1zM2 40h3v1h-3zM7 40h1v1h-1zM9 40h1v1h-1zM13 40h1v1h-1zM15 40h3v1h-3zM19 40h3v1h-3zM24 40h3v1h-3zM28 40h1v1h-1zM31 40h2v1h-2zM34 40h1v1h-1zM36 40h5v1h-5zM43 40h1v1h-1zM46 40h1v1h-1zM1 41h6v1h-6zM10 41h3v1h-3zM20 41h1v1h-1zM22 41h1v1h-1zM28 41h2v1h-2zM33 41h3v1h-3zM42 41h2v1h-2zM45 41h1v1h-1zM2 42h1v1h-1zM5 42h1v1h-1zM16 42h2v1h-2zM28 42h1v1h-1zM37 42h2v1h-2zM45 42h1v1h-1zM1 43h1v1h-1zM3 43h3v1h-3zM8 43h1v1h-1zM11 43h1v1h-1zM13 43h3v1h-3zM17 43h1v1h-1zM20 43h1v1h-1zM22 43h1v1h-1zM29 43h3v1h-3zM34 43h1v1h-1zM37 43h2v1h-2zM43 43h1v1h-1zM45 43h1v1h-1zM2 44h4v1h-4zM7 44h1v1h-1zM9 44h2v1h-2zM12 44h1v1h-1zM17 44h1v1h-1zM19 44h2v1h-2zM22 44h3v1h-3zM29 44h1v1h-1zM31 44h1v1h-1zM35 44h2v1h-2zM39 44h1v1h-1zM41 44h1v1h-1zM43 44h3v1h-3zM2 45h2v1h-2zM6 45h2v1h-2zM12 45h1v1h-1zM15 45h2v1h-2zM19 45h2v1h-2zM27 45h1v1h-1zM29 45h3v1h-3zM33 45h1v1h-1zM35 45h3v1h-3zM39 45h1v1h-1zM41 45h3v1h-3zM46 45h2v1h-2zM0 46h2v1h-2zM3 46h1v1h-1zM6 46h1v1h-1zM10 46h1v1h-1zM12 46h2v1h-2zM19 46h3v1h-3zM23 46h3v1h-3zM29 46h2v1h-2zM33 46h2v1h-2zM37 46h1v1h-1zM39 46h2v1h-2zM42 46h1v1h-1zM45 46h2v1h-2zM5 47h2v1h-2zM9 47h1v1h-1zM11 47h2v1h-2zM17 47h1v1h-1zM21 47h1v1h-1zM26 47h1v1h-1zM29 47h2v1h-2zM32 47h3v1h-3zM39 47h1v1h-1zM41 47h1v1h-1zM44 47h2v1h-2zM1 48h1v1h-1zM4 48h1v1h-1zM8 48h1v1h-1zM14 48h2v1h-2zM19 48h1v1h-1zM22 48h1v1h-1zM27 48h1v1h-1zM29 48h2v1h-2zM32 48h1v1h-1zM34 48h1v1h-1zM36 48h1v1h-1zM39 48h2v1h-2zM45 48h3v1h-3zM0 49h1v1h-1zM3 49h1v1h-1zM5 49h1v1h-1zM10 49h1v1h-1zM13 49h1v1h-1zM15 49h2v1h-2zM18 49h1v1h-1zM21 49h1v1h-1zM23 49h2v1h-2zM26 49h1v1h-1zM28 49h1v1h-1zM36 49h1v1h-1zM38 49h1v1h-1zM41 49h1v1h-1zM43 49h1v1h-1zM45 49h1v1h-1zM3 50h1v1h-1zM5 50h1v1h-1zM8 50h1v1h-1zM17 50h1v1h-1zM19 50h2v1h-2zM24 50h3v1h-3zM37 50h2v1h-2zM44 50h1v1h-1zM46 50h1v1h-1zM2 51h1v1h-1zM5 51h1v1h-1zM8 51h1v1h-1zM10 51h5v1h-5zM19 51h1v1h-1zM26 51h1v1h-1zM28 51h1v1h-1zM32 51h1v1h-1zM35 51h2v1h-2zM38 51h2v1h-2zM41 51h1v1h-1zM43 51h3v1h-3zM0 52h1v1h-1zM2 52h2v1h-2zM6 52h1v1h-1zM10 52h2v1h-2zM13 52h1v1h-1zM16 52h1v1h-1zM19 52h2v1h-2zM26 52h4v1h-4zM33 52h2v1h-2zM2 53h1v1h-1zM6 53h2v1h-2zM10 53h4v1h-4zM16 53h1v1h-1zM19 53h1v1h-1zM21 53h3v1h-3zM26 53h1v1h-1zM29 53h2v1h-2zM32 53h3v1h-3zM36 53h1v1h-1zM39 53h1v1h-1zM42 53h1v1h-1zM1 54h1v1h-1zM3 54h1v1h-1zM16 54h4v1h-4zM24 54h1v1h-1zM30 54h2v1h-2zM34 54h1v1h-1zM36 54h1v1h-1zM38 54h1v1h-1zM41 54h3v1h-3zM8 55h1v1h-1zM11 55h1v1h-1zM42 55h1v1h-1zM0 56h1v1h-1zM2 56h1v1h-1zM4 56h1v1h-1zM6 56h1v1h-1zM9 56h1v1h-1zM12 56h1v1h-1zM14 56h3v1h-3zM18 56h1v1h-1zM20 56h1v1h-1zM23 56h1v1h-1zM26 56h1v1h-1zM29 56h4v1h-4zM34 56h1v1h-1zM36 56h4v1h-4zM42 56h1v1h-1zM44 56h2v1h-2zM5 57h1v1h-1zM7 57h1v1h-1zM10 57h1v1h-1zM13 57h1v1h-1zM15 57h1v1h-1zM20 57h1v1h-1zM23 57h2v1h-2zM27 57h2v1h-2zM31 57h1v1h-1zM35 57h4v1h-4zM40 57h1v1h-1zM42 57h2v1h-2zM47 57h1v1h-1zM0 58h1v1h-1zM4 58h1v1h-1zM7 58h1v1h-1zM9 58h1v1h-1zM11 58h1v1h-1zM13 58h3v1h-3zM18 58h2v1h-2zM21 58h1v1h-1zM24 58h6v1h-6zM32 58h1v1h-1zM37 58h1v1h-1zM39 58h2v1h-2zM43 58h1v1h-1zM0 59h2v1h-2zM3 59h1v1h-1zM5 59h1v1h-1zM8 59h1v1h-1zM10 59h1v1h-1zM13 59h1v1h-1zM16 59h1v1h-1zM20 59h1v1h-1zM23 59h1v1h-1zM25 59h1v1h-1zM27 59h2v1h-2zM30 59h1v1h-1zM33 59h1v1h-1zM35 59h1v1h-1zM38 59h2v1h-2zM42 59h1v1h-1zM44 59h2v1h-2zM0 60h2v1h-2zM4 60h1v1h-1zM7 60h1v1h-1zM11 60h1v1h-1zM13 60h1v1h-1zM16 60h2v1h-2zM19 60h1v1h-1zM21 60h2v1h-2zM24 60h2v1h-2zM30 60h2v1h-2zM34 60h1v1h-1zM39 60h2v1h-2zM44 60h1v1h-1zM46 60h1v1h-1zM0 61h1v1h-1zM6 61h2v1h-2zM9 61h2v1h-2zM13 61h2v1h-2zM17 61h1v1h-1zM19 61h1v1h-1zM22 61h1v1h-1zM28 61h3v1h-3zM32 61h1v1h-1zM36 61h2v1h-2zM40 61h1v1h-1zM42 61h1v1h-1zM45 61h1v1h-1zM0 62h1v1h-1zM2 62h2v1h-2zM7 62h1v1h-1zM9 62h3v1h-3zM16 62h1v1h-1zM21 62h2v1h-2zM31 62h1v1h-1zM37 62h1v1h-1zM40 62h1v1h-1zM42 62h2v1h-2zM45 62h1v1h-1zM3 63h1v1h-1zM9 63h2v1h-2zM17 63h1v1h-1zM19 63h1v1h-1zM21 63h3v1h-3zM26 63h2v1h-2zM30 63h4v1h-4zM36 63h1v1h-1zM38 63h1v1h-1zM42 63h1v1h-1zM44 63h2v1h-2zM47 63h1v1h-1zM0 64h1v1h-1zM3 64h3v1h-3zM12 64h5v1h-5zM19 64h1v1h-1zM22 64h1v1h-1zM25 64h1v1h-1zM27 64h2v1h-2zM32 64h1v1h-1zM37 64h1v1h-1zM41 64h3v1h-3zM45 64h1v1h-1zM3 65h1v1h-1zM5 65h1v1h-1zM7 65h2v1h-2zM15 65h2v1h-2zM19 65h5v1h-5zM25 65h3v1h-3zM33 65h2v1h-2zM36 65h1v1h-1zM38 65h3v1h-3zM45 65h3v1h-3zM2 66h2v1h-2zM7 66h3v1h-3zM11 66h2v1h-2zM15 66h1v1h-1zM17 66h3v1h-3zM26 66h3v1h-3zM30 66h1v1h-1zM32 66h1v1h-1zM38 66h1v1h-1zM40 66h1v1h-1zM43 66h1v1h-1zM45 66h1v1h-1zM2 67h1v1h-1zM4 67h1v1h-1zM7 67h1v1h-1zM10 67h2v1h-2zM14 67h1v1h-1zM17 67h1v1h-1zM19 67h2v1h-2zM22 67h1v1h-1zM25 67h1v1h-1zM31 67h1v1h-1zM33 67h4v1h-4zM39 67h1v1h-1zM41 67h5v1h-5zM2 68h1v1h-1zM11 68h1v1h-1zM15 68h2v1h-2zM18 68h3v1h-3zM23 68h4v1h-4zM32 68h1v1h-1zM34 68h1v1h-1zM37 68h1v1h-1zM39 68h1v1h-1zM41 68h1v1h-1zM43 68h1v1h-1zM45 68h1v1h-1zM0 69h1v1h-1zM3 69h1v1h-1zM7 69h1v1h-1zM13 69h1v1h-1zM17 69h1v1h-1zM20 69h1v1h-1zM23 69h1v1h-1zM28 69h2v1h-2zM32 69h1v1h-1zM34 69h3v1h-3zM39 69h1v1h-1zM41 69h2v1h-2zM45 69h1v1h-1zM0 70h1v1h-1zM3 70h1v1h-1zM5 70h2v1h-2zM9 70h1v1h-1zM13 70h1v1h-1zM17 70h1v1h-1zM19 70h1v1h-1zM21 70h2v1h-2zM28 70h2v1h-2zM35 70h1v1h-1zM37 70h1v1h-1zM39 70h1v1h-1zM41 70h1v1h-1zM43 70h3v1h-3zM47 70h1v1h-1zM4 71h2v1h-2zM7 71h1v1h-1zM9 71h1v1h-1zM11 71h1v1h-1zM13 71h1v1h-1zM17 71h4v1h-4zM22 71h1v1h-1zM26 71h1v1h-1zM29 71h1v1h-1zM32 71h2v1h-2zM35 71h1v1h-1zM37 71h1v1h-1zM39 71h3v1h-3z"/>
<path fill="#89f874" d="M13 0h1v1h-1z"/>
<path fill="#ffc600" d="M16 0h1v1h-1zM19 0h1v1h-1zM30 0h1v1h-1zM9 1h1v1h-1zM14 1h1v1h-1zM34 1h1v1h-1zM39 1h1v1h-1zM14 2h1v1h-1zM33 2h2v1h-2zM38 2h1v1h-1zM41 2h1v1h-1zM47 2h1v1h-1zM18 3h1v1h-1zM33 3h1v1h-1zM42 3h1v1h-1zM47 3h1v1h-1zM19 5h1v1h-1zM43 6h1v1h-1zM11 7h1v1h-1zM47 7h1v1h-1zM11 8h1v1h-1zM19 8h1v1h-1zM23 8h1v1h-1zM25 8h1v1h-1zM32 8h1v1h-1zM41 8h1v1h-1zM0 11h1v1h-1zM6 11h1v1h-1zM9 11h1v1h-1zM16 11h1v1h-1zM24 11h1v1h-1zM33 11h1v1h-1zM40 11h1v1h-1zM0 12h1v1h-1zM5 12h1v1h-1zM10 12h2v1h-2zM19 12h1v1h-1zM25 12h1v1h-1zM30 12h1v1h-1zM40 12h1v1h-1zM45 12h1v1h-1zM47 12h1v1h-1zM29 13h1v1h-1zM1 14h1v1h-1zM3 14h2v1h-2zM7 14h1v1h-1zM18 14h1v1h-1zM21 14h1v1h-1zM9 15h1v1h-1zM42 15h1v1h-1zM0 16h1v1h-1zM2 16h1v1h-1zM14 16h1v1h-1zM23 16h3v1h-3zM27 16h1v1h-1zM7 18h1v1h-1zM33 18h1v1h-1zM38 18h1v1h-1zM1 19h1v1h-1zM10 19h1v1h-1zM31 19h1v1h-1zM4 21h1v1h-1zM40 22h1v1h-1zM25 24h1v1h-1zM29 24h1v1h-1zM13 26h1v1h-1zM17 26h1v1h-1zM19 26h1v1h-1zM29 26h1v1h-1zM31 26h1v1h-1zM33 26h1v1h-1zM45 26h1v1h-1zM47 26h1v1h-1zM0 27h1v1h-1zM28 28h1v1h-1zM28 29h1v1h-1zM4 30h1v1h-1zM29 30h1v1h-1zM9 31h1v1h-1zM15 31h1v1h-1zM28 31h1v1h-1zM35 31h1v1h-1zM42 31h1v1h-1zM13 32h1v1h-1zM27 32h2v1h-2zM41 32h1v1h-1zM43 32h1v1h-1zM19 33h1v1h-1zM25 33h1v1h-1zM34 33h1v1h-1zM42 33h1v1h-1zM22 34h1v1h-1zM4 35h1v1h-1zM16 35h1v1h-1zM41 36h1v1h-1zM11 37h1v1h-1zM25 37h1v1h-1zM41 37h1v1h-1zM19 38h1v1h-1zM25 38h1v1h-1zM30 38h1v1h-1zM36 38h1v1h-1zM30 39h1v1h-1zM5 40h1v1h-1zM11 40h1v1h-1zM14 40h1v1h-1zM27 40h1v1h-1zM0 41h1v1h-1zM16 41h1v1h-1zM18 41h1v1h-1zM24 41h1v1h-1zM36 41h1v1h-1zM44 41h1v1h-1zM34 45h1v1h-1zM5 46h1v1h-1zM18 46h1v1h-1zM25 48h1v1h-1zM35 48h1v1h-1zM43 48h1v1h-1zM6 49h1v1h-1zM19 49h1v1h-1zM32 49h1v1h-1zM39 49h1v1h-1zM21 51h1v1h-1zM24 51h1v1h-1zM37 51h1v1h-1zM5 52h1v1h-1zM12 52h1v1h-1zM35 52h1v1h-1zM42 52h1v1h-1zM45 52h1v1h-1zM20 53h1v1h-1zM24 53h1v1h-1zM37 53h2v1h-2zM40 53h1v1h-1zM44 53h1v1h-1zM21 56h1v1h-1zM33 56h1v1h-1zM35 56h1v1h-1zM46 57h1v1h-1zM42 58h1v1h-1zM44 58h1v1h-1zM7 59h1v1h-1zM9 59h1v1h-1zM24 59h1v1h-1zM20 60h1v1h-1zM33 60h1v1h-1zM42 60h1v1h-1zM47 60h1v1h-1zM12 62h1v1h-1zM44 62h1v1h-1zM46 62h1v1h-1zM31 64h1v1h-1zM33 64h1v1h-1zM44 64h1v1h-1zM11 65h1v1h-1zM44 65h1v1h-1zM37 66h1v1h-1zM47 66h1v1h-1zM15 67h1v1h-1zM27 67h2v1h-2zM40 67h1v1h-1zM27 68h1v1h-1zM29 68h1v1h-1zM36 68h1v1h-1zM40 69h1v1h-1zM25 70h1v1h-1zM40 70h1v1h-1zM1 71h1v1h-1zM42 71h1v1h-1zM45 71h1v1h-1z"/>
<path fill="#ff9a00" d="M20 0h1v1h-1zM26 0h1v1h-1zM28 0h1v1h-1zM33 0h1v1h-1zM2 1h1v1h-1zM11 1h1v1h-1zM13 1h1v1h-1zM22 1h1v1h-1zM25 1h1v1h-1zM38 1h1v1h-1zM47 1h1v1h-1zM43 2h2v1h-2zM1 3h1v1h-1zM16 3h1v1h-1zM34 3h1v1h-1zM38 3h1v1h-1zM40 3h1v1h-1zM44 3h1v1h-1zM17 5h1v1h-1zM33 5h1v1h-1zM0 6h1v1h-1zM32 7h1v1h-1zM2 8h1v1h-1zM6 8h1v1h-1zM18 8h1v1h-1zM20 8h1v1h-1zM27 8h1v1h-1zM30 8h1v1h-1zM37 8h1v1h-1zM39 8h2v1h-2zM45 8h1v1h-1zM27 10h1v1h-1zM40 10h1v1h-1zM46 10h1v1h-1zM10 11h1v1h-1zM19 11h2v1h-2zM27 11h1v1h-1zM39 11h1v1h-1zM43 11h2v1h-2zM3 12h1v1h-1zM18 12h1v1h-1zM21 12h1v1h-1zM27 12h2v1h-2zM34 12h1v1h-1zM36 12h1v1h-1zM42 12h1v1h-1zM8 14h2v1h-2zM17 14h1v1h-1zM22 14h2v1h-2zM29 14h1v1h-1zM37 14h1v1h-1zM39 14h3v1h-3zM43 14h2v1h-2zM38 15h1v1h-1zM1 16h1v1h-1zM28 16h2v1h-2zM34 16h1v1h-1zM36 16h1v1h-1zM40 16h1v1h-1zM21 18h1v1h-1zM23 18h1v1h-1zM43 18h1v1h-1zM47 18h1v1h-1zM9 19h1v1h-1zM23 19h1v1h-1zM27 19h1v1h-1zM36 19h1v1h-1zM43 19h1v1h-1zM32 26h1v1h-1zM36 26h1v1h-1zM41 26h1v1h-1zM44 26h1v1h-1zM46 26h1v1h-1zM41 27h1v1h-1zM47 27h1v1h-1zM47 28h1v1h-1zM38 29h1v1h-1zM16 31h1v1h-1zM20 31h1v1h-1zM24 31h1v1h-1zM38 31h1v1h-1zM44 32h1v1h-1zM41 33h1v1h-1zM3 34h1v1h-1zM14 34h2v1h-2zM19 34h1v1h-1zM25 34h1v1h-1zM32 34h2v1h-2zM37 34h2v1h-2zM33 36h1v1h-1zM31 37h1v1h-1zM35 37h1v1h-1zM42 38h1v1h-1zM44 38h1v1h-1zM47 40h1v1h-1zM15 41h1v1h-1zM19 41h1v1h-1zM23 41h1v1h-1zM26 41h1v1h-1zM38 41h1v1h-1zM46 41h1v1h-1zM26 43h1v1h-1zM7 46h1v1h-1zM14 46h1v1h-1zM16 46h1v1h-1zM38 46h1v1h-1zM41 46h1v1h-1zM24 47h1v1h-1zM47 47h1v1h-1zM9 48h1v1h-1zM44 48h1v1h-1zM25 51h1v1h-1zM30 51h2v1h-2zM40 51h1v1h-1zM1 52h1v1h-1zM9 52h1v1h-1zM14 52h1v1h-1zM17 52h2v1h-2zM22 52h1v1h-1zM24 52h1v1h-1zM30 52h1v1h-1zM32 52h1v1h-1zM43 52h2v1h-2zM46 52h1v1h-1zM3 53h1v1h-1zM9 53h1v1h-1zM27 53h2v1h-2zM43 53h1v1h-1zM47 53h1v1h-1zM4 54h1v1h-1zM3 56h1v1h-1zM22 56h1v1h-1zM5 58h1v1h-1zM11 59h1v1h-1zM36 59h1v1h-1zM40 59h1v1h-1zM2 60h2v1h-2zM9 60h2v1h-2zM15 60h1v1h-1zM32 60h1v1h-1zM37 60h1v1h-1zM46 61h1v1h-1zM1 62h1v1h-1zM47 64h1v1h-1zM1 67h1v1h-1zM47 67h1v1h-1zM42 68h1v1h-1zM43 71h1v1h-1z"/>
<path fill="#ff5a00" d="M34 0h1v1h-1zM7 1h1v1h-1zM0 3h1v1h-1zM42 6h1v1h-1zM15 8h1v1h-1zM43 8h1v1h-1zM2 11h1v1h-1zM17 16h1v1h-1zM35 16h1v1h-1zM43 16h1v1h-1zM15 18h1v1h-1zM44 18h1v1h-1zM41 23h1v1h-1zM35 26h1v1h-1zM37 26h1v1h-1zM31 31h1v1h-1zM39 31h1v1h-1zM42 32h1v1h-1zM9 33h1v1h-1zM31 41h1v1h-1zM39 41h1v1h-1zM46 43h1v1h-1zM47 52h1v1h-1zM14 53h1v1h-1zM27 60h1v1h-1zM29 60h1v1h-1zM36 60h1v1h-1zM13 65h1v1h-1z"/>
<path fill="#06f7f8" d="M4 1h1v1h-1zM3 2h1v1h-1zM5 2h1v1h-1zM8 2h1v1h-1zM3 4h1v1h-1zM10 4h1v1h-1zM16 4h2v1h-2zM19 4h1v1h-1zM23 4h1v1h-1zM28 4h1v1h-1zM35 4h1v1h-1zM40 4h1v1h-1zM3 5h1v1h-1zM44 5h1v1h-1zM12 7h2v1h-2zM24 7h1v1h-1zM4 9h1v1h-1zM7 9h2v1h-2zM12 9h1v1h-1zM16 9h1v1h-1zM23 9h1v1h-1zM27 9h1v1h-1zM37 10h1v1h-1zM2 13h1v1h-1zM6 13h1v1h-1zM11 13h1v1h-1zM13 13h1v1h-1zM16 13h1v1h-1zM23 13h2v1h-2zM27 13h1v1h-1zM38 13h1v1h-1zM43 13h1v1h-1zM35 14h1v1h-1zM1 15h1v1h-1zM3 15h1v1h-1zM17 15h2v1h-2zM0 17h1v1h-1zM2 17h1v1h-1zM6 17h1v1h-1zM8 17h2v1h-2zM12 17h1v1h-1zM19 17h1v1h-1zM22 17h3v1h-3zM27 17h1v1h-1zM34 17h1v1h-1zM37 17h2v1h-2zM43 17h1v1h-1zM40 19h1v1h-1zM1 20h1v1h-1zM9 20h1v1h-1zM11 20h1v1h-1zM18 20h1v1h-1zM23 20h1v1h-1zM27 20h1v1h-1zM34 20h3v1h-3zM46 20h1v1h-1zM0 21h1v1h-1zM12 22h1v1h-1zM12 23h1v1h-1zM14 23h1v1h-1zM21 23h1v1h-1zM38 23h1v1h-1zM31 24h1v1h-1zM35 24h1v1h-1zM3 25h1v1h-1zM6 25h2v1h-2zM16 25h1v1h-1zM20 25h1v1h-1zM28 25h5v1h-5zM39 25h1v1h-1zM41 25h1v1h-1zM44 25h1v1h-1zM13 27h1v1h-1zM13 28h1v1h-1zM20 28h1v1h-1zM29 28h1v1h-1zM32 28h1v1h-1zM43 28h1v1h-1zM9 29h1v1h-1zM31 29h1v1h-1zM7 30h1v1h-1zM13 30h1v1h-1zM42 30h1v1h-1zM1 31h1v1h-1zM8 31h1v1h-1zM2 32h1v1h-1zM11 32h1v1h-1zM7 33h1v1h-1zM45 34h1v1h-1zM32 35h1v1h-1zM40 35h1v1h-1zM42 35h1v1h-1zM9 36h1v1h-1zM14 36h2v1h-2zM26 36h1v1h-1zM37 36h1v1h-1zM42 36h1v1h-1zM47 36h1v1h-1zM1 38h2v1h-2zM6 38h1v1h-1zM11 38h1v1h-1zM24 38h1v1h-1zM32 38h1v1h-1zM0 39h1v1h-1zM2 39h2v1h-2zM5 39h1v1h-1zM8 39h1v1h-1zM11 39h1v1h-1zM13 39h1v1h-1zM16 39h1v1h-1zM22 39h1v1h-1zM45 40h1v1h-1zM32 41h1v1h-1zM3 42h1v1h-1zM7 42h1v1h-1zM10 42h2v1h-2zM13 42h1v1h-1zM15 42h1v1h-1zM19 42h1v1h-1zM23 42h2v1h-2zM26 42h1v1h-1zM36 42h1v1h-1zM41 42h3v1h-3zM6 43h1v1h-1zM18 43h1v1h-1zM38 44h1v1h-1zM21 45h1v1h-1zM26 45h1v1h-1zM32 46h1v1h-1zM3 47h1v1h-1zM14 47h1v1h-1zM35 47h1v1h-1zM42 47h1v1h-1zM5 48h1v1h-1zM20 49h1v1h-1zM0 50h1v1h-1zM6 50h1v1h-1zM11 50h1v1h-1zM13 50h3v1h-3zM22 50h1v1h-1zM28 50h1v1h-1zM31 50h1v1h-1zM36 50h1v1h-1zM41 50h2v1h-2zM11 54h2v1h-2zM27 54h1v1h-1zM33 54h1v1h-1zM44 54h1v1h-1zM0 55h1v1h-1zM4 55h1v1h-1zM14 55h1v1h-1zM24 55h1v1h-1zM27 55h1v1h-1zM31 55h1v1h-1zM34 55h2v1h-2zM38 55h1v1h-1zM40 55h1v1h-1zM45 55h1v1h-1zM2 57h1v1h-1zM8 57h1v1h-1zM18 57h1v1h-1zM21 57h1v1h-1zM8 58h1v1h-1zM16 58h1v1h-1zM30 58h1v1h-1zM34 61h1v1h-1zM41 61h1v1h-1zM4 62h1v1h-1zM8 62h1v1h-1zM17 62h1v1h-1zM20 62h1v1h-1zM24 62h1v1h-1zM26 62h1v1h-1zM35 62h1v1h-1zM41 62h1v1h-1zM6 63h1v1h-1zM8 63h1v1h-1zM12 63h1v1h-1zM15 63h1v1h-1zM20 63h1v1h-1zM41 63h1v1h-1zM2 64h1v1h-1zM10 64h2v1h-2zM18 64h1v1h-1zM21 64h1v1h-1zM0 65h1v1h-1zM2 65h1v1h-1zM18 65h1v1h-1zM37 65h1v1h-1zM0 66h1v1h-1zM6 66h1v1h-1zM25 66h1v1h-1zM39 66h1v1h-1zM26 67h1v1h-1zM32 67h1v1h-1zM10 68h1v1h-1zM13 68h1v1h-1zM1 69h1v1h-1zM11 69h1v1h-1zM18 69h1v1h-1zM30 69h1v1h-1zM38 69h1v1h-1zM14 70h1v1h-1zM16 70h1v1h-1zM0 71h1v1h-1zM2 71h1v1h-1z"/>
<path fill="#f40000" d="M28 2h1v1h-1zM44 8h1v1h-1zM31 16h1v1h-1zM21 52h1v1h-1zM36 52h1v1h-1zM40 52h2v1h-2z"/>
<path fill="#009fff" d="M5 10h1v1h-1zM8 10h1v1h-1zM1 17h1v1h-1zM7 17h1v1h-1zM14 17h1v1h-1zM16 17h1v1h-1zM31 20h1v1h-1zM5 22h1v1h-1zM3 23h1v1h-1zM6 24h1v1h-1zM13 24h1v1h-1zM2 25h1v1h-1zM8 25h2v1h-2zM11 25h1v1h-1zM13 25h1v1h-1zM19 25h1v1h-1zM23 25h2v1h-2zM26 25h2v1h-2zM34 25h1v1h-1zM3 28h1v1h-1zM3 29h1v1h-1zM20 29h1v1h-1zM20 30h1v1h-1zM4 39h1v1h-1zM37 39h1v1h-1zM0 42h1v1h-1zM8 42h2v1h-2zM14 42h1v1h-1zM20 42h1v1h-1zM29 42h2v1h-2zM33 42h3v1h-3zM10 45h1v1h-1zM9 50h1v1h-1zM32 50h1v1h-1zM6 54h1v1h-1zM23 54h1v1h-1zM2 55h1v1h-1zM6 55h1v1h-1zM9 55h1v1h-1zM12 55h1v1h-1zM21 55h1v1h-1zM29 55h1v1h-1zM32 55h1v1h-1zM1 57h1v1h-1zM3 57h1v1h-1zM6 57h1v1h-1zM11 57h1v1h-1zM19 57h1v1h-1zM4 61h1v1h-1zM8 61h1v1h-1zM23 61h1v1h-1zM43 61h1v1h-1zM2 63h1v1h-1zM4 66h2v1h-2zM14 66h1v1h-1zM23 66h1v1h-1zM30 67h1v1h-1zM4 68h1v1h-1zM7 70h1v1h-1zM11 70h1v1h-1zM23 70h1v1h-1z"/>
<path fill="#0046ff" d="M12 25h1v1h-1zM18 39h1v1h-1zM18 55h1v1h-1z"/>
</g>
<path transform="scale(0.1)" fill="none" stroke="#40404a" stroke-width="10.0" shape-rendering="crispEdges" d="M1844 3224l-50-12-43 12 43 7 50-7M2416 3608l-1-16-2 16 2 1 1-1M1175 4299l-1 0-1 0 1 1 1-1M2275 4299l-15-13-11 13 11 16 15-16M2268 5529l-8-7-10 7 10 6 8-6M1265 2071l-13-16-20 16 20 8 13-8M964 2609l-22-6-29 6 29 11 22-11M1445 2609l-38-14-36 14 36 8 38-8M1953 2609l-4-3-7 3 7 6 4-6M2121 2609l-16-11-11 11 11 12 16-12M3290 2840l-23-9-20 9 20 13 23-13M1256 2993l-4-4-5 4 5 2 4-2M1102 3070l-5-5-6 5 6 4 5-4M1332 3147l-3-3-2 3 2 12 3-12M1894 3224l-9-77-13-19-19 19-59 44-77 16-20 17 20 9 77 11 78-12 22-8M1585 3224l-23-14-78-7-22 21 22 12 78 4 23-16M2383 3224l-46-15-9 15 9 5 46-5M2737 3224l-12-8-78-18-23 26 23 19 78-11 12-8M2962 3224l-5-2-77-13-19 15 19 10 77-9 5-1M3508 3224l-8-6-8 6 8 4 8-4M1107 3454l-10-7-18 7 18 72 10-72M2433 3608l-4-77-14-35-12 35-8 77 20 12 18-12M1216 4299l-42-24-34 24 34 17 42-17M2297 4299l-37-33-27 33 27 39 37-39M864 4535l4-5-4-2M1588 4530l-26-9-78 6-11 3 11 4 78 16 26-20M1978 4530l-29-19-33 19 33 13 29-13M3199 4530l-9-5-78-8-11 13 11 10 78-3 9-7M3578 4530l0 0-78-9-77 0-12 9 12 13 77-3 78-10 0 0M3354 5145l-9-4-16 4 16 4 9-4M1351 5529l-3-77-19-9-11 9-10 77 21 14 22-14M2662 5452l-15-14-18 14 18 26 15-26M1032 5529l-13-10-11 10 11 6 13-6M1579 5529l-17-19-14 19 14 13 17-13M2287 5529l-27-23-34 23 34 23 27-23M2502 5529l-10-9-9 9 9 3 10-3M3128 5529l-16-16-18 16 18 12 16-12M3355 5529l-10-5-22 5 22 7 10-7M961 5682l-19-13-13 13 13 10 19-10M1114 5682l-17-6-25 6 25 19 17-19M1335 5682l-6-5-4 5 4 7 6-7M2347 5682l-10-17-27 17 27 11 10-11M1200 5990l-26-15-23 15 23 42 26-42M1496 5990l-12-10-12 10 12 28 12-28M4204 5990l-6-3-4 3 4 3 6-3M1023 6143l-4-4-8 4 8 47 4-47M1279 6374l-27-14-78-2-10 16 10 8 78 3 27-11M1959 6374l-10-16-13 16 13 9 10-9M3199 6451l-9-9-6 9 6 13 9-13M1181 6528l-7-5-3 5 3 8 7-8M1409 6681l-2-1-2 1 2 2 2-2M1731 6681l-14-18-15 18 15 9 14-9M2662 6681l-15-10-10 10 10 7 15-7M1110 1457l-13-15-16 15 16 13 13-13M1665 1610l-26-28-33 28 33 17 26-17M2123 1610l-18-2-14 2 14 5 18-5M3040 1610l-5-1-1 1 1 2 5-2M3585 1610l-7-3-5 3 5 4 7-4M1101 1687l-4-23-6 23 6 7 4-7M4298 1687l-23-50-16 50 16 21 23-21M2730 1841l-5-14-6 14 6 9 5-9M1287 2071l-35-41-55-36-23-17-21 17 21 33 25 44 53 21 35-21M1520 2071l-36-70-22-7-55-4-7 4 7 16 37 61 40 18 36-18M2663 1994l-16-3-7 3 7 8 16-8M4431 1994l-1 0 0 0 0 1 1-1M1350 2302l-21-8-19 8 19 12 21-12M2110 2302l-5-6-12 6 12 5 5-5M2731 2302l-6-5-78-1-9 6 9 4 78 0 6-4M2960 2302l-3-1-2 1 2 2 3-2M3585 2379l-7-13-13 13 13 6 7-6M2289 2455l-29-6-78 6-8 0 8 1 78 11 29-12M864 2614l78 26 64-31-64-17-78 16M1584 2609l-22-10-78 0-77-26-78 27-22 9 22 6 78 15 77-10 78 18 22-29M1802 2609l-8-3-3 3 3 6 8-6M1975 2609l-26-18-47 18 47 36 26-36M2150 2609l-45-32-31 32 31 33 45-33M2638 2609l-68-5-8 5 8 5 68-5M2740 2609l-15-5-70 5 70 9 15-9M3978 2763l-13-8-14 8 14 18 13-18M864 2922l9-6 69-73 6-3-6-2-30 2-48 29M1578 2840l-16-4-21 4 21 13 16-13M1748 2840l-31-10-20 10 20 8 31-8M2970 2840l-13-4-14 4 14 16 13-16M3320 2840l-53-21-47 21 47 31 53-31M3544 2840l-44-17-29 17 29 16 44-16M3663 2840l-8-3-22 3 22 5 8-5M4448 2840l-18-7-21 7 21 17 18-17M1296 2993l-44-43-48 43 48 23 44-23M1926 3224l-21-77 44-75 5-2-5-2-4 2-73 30-56-30-21-77-1 0 0 0-8 77 8 21 30 56-30 22-77 10-54 45 54 25 77 9 78-13 54-21M1133 3070l-36-39-40 39 40 28 36-28M2493 3070l-1-2-2 2 2 4 1-4M3822 3070l-12-7-13 7 13 10 12-10M1371 3224l-16-77-26-33-22 33 6 77 16 26 42-26M1119 3224l-22-9-78-25-34 34 34 14 78-7 22-7M1618 3224l-56-33-78-27-62 60 62 34 78 3 56-37M2453 3224l-38-16-78-32-30 48 30 18 78 10 38-28M2773 3224l-48-30-78-25-48 55 48 42 78-9 48-33M3040 3224l-5-1-78-36-77-3-51 40 51 27 77-11 78-16 5 0M3242 3224l-52-29-41 29 41 26 52-26M3535 3224l-35-29-39 29 39 20 35-20M3900 3224l-12-14-12 14 12 11 12-11M4073 3224l-30-17-15 17 15 6 30-6M1117 3531l11-77-31-23-55 23 4 77 51 26 20-26M2450 3608l-1-77-29-77-5-5-7 5-21 77-11 77 39 23 35-23M3115 3454l-3-10-1 10 1 4 3-4M3376 3454l-31-21-13 21 13 18 31-18M1576 3531l-14-13-17 13 17 44 14-44M4121 3608l-1 0 0 0 0 0 1 0M1021 3762l-2-2-2 2 2 1 2-1M1720 3762l-3-2-9 2 9 3 3-3M3986 3992l-21-11-19 11 19 7 21-7M1569 4069l-7-5-8 5 8 5 7-5M1951 4069l-2 0 0 0 0 0 2 0M2897 4069l-17-5-7 5 7 5 17-5M3740 4069l-7-5-4 5 4 8 7-8M4133 4069l-13-50-3 50 3 3 13-3M4508 4035l-22 34 22 9M864 4309l17-10 61-54 48 54 29 23 56-23-56-75-3-1-74-26-37 26-41 48M1263 4299l66-60 10-16-10-4-5 4-72 73-78-46-68 49 68 33 78-31 11-2M1746 4299l-21-76-8-3-6 3-8 76 14 3 29-3M3369 4223l-24-11-8 11 8 10 24-10M1494 4299l-10-9-8 9 8 14 10-14M2108 4299l-3-4-3 4 3 5 3-5M2320 4299l-60-52-42 52 42 63 60-63M2600 4299l-30-17-18 17 18 36 30-36M3761 4299l-28-34-25 34 25 19 28-19M864 4581l43-51-43-16M1109 4530l-12-6-7 6 7 8 12-8M1632 4530l-70-23-78 5-64 18 64 25 78 27 70-52M2020 4530l-71-46-77 37-7 9 7 4 77 29 71-33M2451 4530l-36-17-77 17 77 20 36-20M2741 4530l-16-5-30 5 30 17 16-17M3229 4530l-39-21-78-18-32 39 32 28 78 2 39-30M3663 4530l-8-5-77-24-78-4-77 0-41 33 41 45 77-9 78-18 77-13 8-5M4148 4530l-28-4-61 4 61 3 28-3M1364 4607l-35-25-16 25 16 10 35-10M2270 4607l-10-10-7 10 7 3 10-3M3811 4684l-1-2-2 2 2 1 1-1M1675 4760l-36-20-35 20 35 23 36-23M2509 4760l-17-25-15 25 15 14 17-14M3353 4837l-8-15-5 15 5 8 8-8M1962 4914l-13-4-22 4 22 7 13-7M2432 5068l-17-10-8 10 8 13 17-13M1350 5145l-21-6-9 6 9 16 21-16M1605 5145l-43-17-21 17 21 15 43-15M1744 5145l-27-20-31 20 31 14 27-14M2044 5145l-17-10-78 1-77-10-32 19 32 17 77-5 78 6 17-18M3052 5145l-17-10-22 10 22 11 17-11M3393 5145l-48-17-78 8-4 9 4 1 78 23 48-24M3666 5145l-11-10-15 10 15 11 11-11M4130 5145l-10-15-30 15 30 9 10-9M1385 5529l9-77-65-32-39 32-13 77 52 36 56-36M1828 5529l-6-77-28-13-77 10-4 3 4 2 56 75 21 18 34-18M2738 5529l-13-6-43-71-35-33-43 33 43 62 55 15 23 15 13-15M3390 5529l33-48 16-29-16-13-11 13-67 56-78 13-13 8 13 7 78 23 45-30M4277 5452l-2-1-1 1 1 3 2-3M864 5531l5-2-5-5M1072 5529l-53-40-46 40 46 25 53-25M1174 5529l0 0 0 0 0 0 0 0M1608 5529l-46-50-37 50 37 36 46-36M1969 5529l-20-22-15 22 15 8 20-8M2307 5529l-47-39-58 39 58 39 47-39M2543 5529l-51-46-44 46 44 17 51-17M3155 5529l-43-44-51 44 51 35 43-35M3608 5529l-30-8-40 8 40 8 30-8M1017 5682l-75-52-51 52 51 37 75-37M1149 5682l-52-18-76 18 76 57 52-57M1362 5682l-33-30-25 30 25 42 33-42M1760 5682l-43-16-23 16 23 22 43-22M2367 5682l-30-50-77 50 77 30 30-30M2503 5682l-11-3-5 3 5 7 11-7M1485 5759l-1-10 0 10 0 1 1-1M2125 5759l-20-39-13 39 13 13 20-13M3207 5759l-17-19-10 19 10 7 17-7M1194 6067l40-77-60-35-53 35 39 77 14 16 20-16M1492 6143l-6-76 30-77-32-26-34 26 33 77-19 76 20 10 8-10M2732 6067l-7-7-39-70-39-31-23 31 23 17 76 60 2 1 7-1M4243 5990l-45-18-26 18 26 24 45-24M2185 6067l-3-6-4 6 4 3 3-3M2910 6067l-30-20-29 20 29 14 30-14M3579 6067l-1-3-2 3 2 2 1-2M4053 6143l-6-76-4-15-4 15-2 76 6 10 10-10M1024 6297l13-77 5-77-23-25-43 25-7 77 40 77 10 6 5-6M2052 6143l-25-22-15 22 15 14 25-14M2417 6143l-2-17-2 17 2 2 2-2M1721 6220l-4-20-29 20 29 2 4-2M864 6353l7-56-7-5M1316 6374l-64-33-78-23-34 56 34 28 78-2 64-26M1979 6374l-30-50-43 50 43 29 30-29M2667 6374l-20-13-25 13 25 8 20-8M2810 6374l-8-8-11 8 11 7 8-7M3223 6451l-33-29-22 29 22 47 33-47M1216 6528l-42-27-18 27 18 50 42-50M1643 6528l-4-4-12 4 12 6 4-6M951 6604l-9-7-6 7 6 14 9-14M2264 6604l-4-6-11 6 11 10 4-10M3812 6604l-2-2-2 2 2 3 2-3M1448 6681l-41-24-24 24 24 30 41-30M1761 6681l-44-55-46 55 46 28 44-28M2690 6681l-43-31-31 31 31 21 43-21M871 6758l-7-11M1129 1687l2-77 43-65 65 65 13 38 77-35 2-3-2-2-77-22-55-53 55-25 27-51-27-26-47-51-31-21-41 21-36 28-50 49 50 44 68 32-68 49-78 24-17 4 17 3 42 74 36 49 32-49M1174 1525l-34-68 34-43 49 43-49 68M1485 1764l77-62 16-15 61-32 69-45-69-75-77 62-67-64 67-60 16-16-16-5-78-20-18 25 14 76 4 11 64 66-64 76-1 1 1 77 0 11 1-11M1815 1457l-21-24-20 24 20 22 21-22M4125 1457l-5-17-6 17 6 7 5-7M2802 1610l0 0-77-3-48-74-30-14-9 14-9 77 18 19 78-8 77-10 0-1M1886 1610l-14 0-6 0 6 2 14-2M2205 1610l-23-21-77 5-78 7-56 9 56 8 78 30 77-29 23-9M2350 1610l-13-50-10 50 10 4 13-4M3127 1610l-15-49-77 19-25 30 25 45 77-16 15-29M3662 1610l-7-5-77-32-55 37 55 36 77-31 7-5M4061 1687l-18-3-58-74-20-10-77-6-19 16 19 14 77 43 60 20 18 21 18-21M4323 1687l30-64 37-13-37-13-78 5-77 0-16 8 16 7 43 70 34 44 48-44M1339 1764l-10-12-32 12 32 17 10-17M2371 1764l-34-1-37 1 37 22 34-22M1911 1841l-39-18-78-15-8 33 8 9 78 26 39-35M2747 1841l-22-58-24 58 24 40 22-40M3818 1841l-8-6-4 6 4 3 8-3M1308 2071l-56-67-15-10-63-47-60 47 47 77 13 7 78 27 56-34M1558 2071l-21-77-53-20-77-4-38 24 27 77 11 8 77 29 74-37M1895 2071l54-74 1-3-1 0-2 0-75 53-29-53-49-13-33 13 33 62 36 15 42 35 23-35M2134 1994l-29-16-28 16 28 17 29-17M2733 1994l-8-10-78-8-40 18 40 43 78-35 8-8M3121 2071l69-66 22-11-22-3-78-43-77 37-78 0-68 9 68 10 78 28 57 39 20 5 9-5M3831 2071l11-77-32-13-74 13-3 5-32 72 32 20 77-3 21-17M4496 1994l-66-41-35 41 35 14 66-14M4165 2071l-45-31-10 31 10 7 45-7M1900 2302l49-65 17-12-17-12-13 12-64 46-27 31 27 34 28-34M2140 2302l42-72 2-5-2-3-6 3-71 39-74 38 74 35 35-35M864 2302l1 0-1 0M1059 2302l-40-19-44 19 44 21 40-21M1397 2302l-68-27-62 27 62 40 68-40M1735 2302l-18-10-21 10 21 13 18-13M2419 2302l-4-1-3 1 3 3 4-3M2776 2302l-51-41-78 15-38 26 38 19 78 18 51-37M3004 2302l-47-14-39 14 39 42 47-42M3826 2302l-16-11-8 11 8 5 16-5M4225 2302l-27-18-57 18 57 10 27-10M3616 2379l-38-68-68 68 68 31 38-31M999 2455l-57-15-56 15 56 12 57-12M1150 2455l-53-15-61 15 61 21 53-21M2360 2455l-23-23-77 0-78 8-77-2-78 16-78-2-8 3 8 4 78-3 78 20 77-7 78 27 77-22 23-19M2663 2455l-16-4-11 4 11 6 16-6M1641 2686l2-77 4-77-8-46-10 46-67 39-78 0-77-20-78 17-77 28-13 13 13 17 77 9 78 9 77 7 58 35 20 7 77-6 2-1M864 2677l78-16 77-28 62-24-62-12-77-16-78 9M1996 2609l-47-33-77 15-78-25-37 43 37 73 78-60 77 53 47-66M2179 2609l-74-52-50 52 50 54 74-54M2406 2609l-69-37-76 37 76 32 69-32M2791 2609l-66-22-78 6-77-7-39 23 39 24 77-9 78 21 66-36M3051 2609l-16-2-78-16-76 18 76 33 78-29 16-4M3523 2609l-23-8-58 8 58 20 23-20M3872 2609l-62-33-77 0-59 33 59 18 77-2 62-16M4212 2609l-14-3-32 3 32 4 14-4M4422 2609l-69-23-24 23 24 16 69-16M864 2944l75 49 3 4 4-4-4-5-35-72 35-36 64-40 13-74 26-3-26-1 0 1-77 58-78 0M1336 2763l-7-4-6 4 6 33 7-33M2119 2763l-14-13-46 13 46 12 14-12M2874 2840l-1-77-71-61-21 61 4 77 17 65 72-65M3434 2916l66-30 78 4 77-9 55-41-55-21-77-3-78-25-72-28-5-2-7 2-71 63-78-19-74 33-3 21-61-21-17-2-8 2 8 1 66 75 12 13 11-13 66-27 78-42 70 69 8 20 11-20M4008 2763l-43-26-45 26 45 57 43-57M1164 3070l10-40 78 6 77-20 6-23 12-77-18-50-77 43-65-69-13-12-15 12 15 5 75 71-75 71-55 6-22 4-74 73 74 52 67-52M1334 3301l73-63 77 42 78 3 77-26 78 8 77 7 78-15 77-25 78-8 78 33 56-33-56-62-78 57-78-9-24-63 24-41 71-36-71-39-70-38 70-61 15-16-15-71-8-5-69-5-78-8-77-25-78 36-77-18-78 4-16 16 16 12 78 56 77-66 78 31 77-19 78 20 34 42-34 52-78 1-22 24-8 77 30 75 2 2-2 1-77 2-78 57-77-36-55-24-23-55-24 55-53 50-29-50-49-63-42 63-10 77 40 77 12 12 5-12M2294 2840l-34-16-26 16 26 16 34-16M2683 2840l-36-16-77-37-78 41-38 12 38 26 78 34 77-23 36-37M2961 2916l63-76-67-18-75 18 44 76 31 4 4-4M4500 2840l-70-26-77 23-78-60-16 63 16 59 78-53 77 63 70-69M1641 2993l-2-2-77-52-13 54 13 25 77-11 2-14M2810 2993l-8-50-39 50 39 3 8-3M1872 3071l-1-1 1-13 1 13-1 1M2109 3070l-4-5-36 5 36 23 4-23M2548 3224l-38-77 19-77-37-50-60 50 48 77-65 38-73-38-5-5-5 5-45 77 50 32 78 36 77-50 56-18M3148 3454l24-77 18-54 1-22 76-64 78-2 56-11-50-77-6-14-78-15-72-48-5-5-4 5 0 77-74 65-77-27-78-32-77 6-78 61-77-48-64-25-14-7-15 7-59 77 74 64 78-6 77-48 78 35 77-13 78-12 77-9 76 66-76 66-18 10 2 77 16 59 36-59M3849 3070l-39-22-43 22 43 35 39-35M4130 3224l-2-77 70-74 2-3-2-2-4 2-74 66-13 11-64 26-44 51 44 19 77-15 10-4M864 3152l10-5-10-4M3562 3224l16-30 17-47-17-35-34 35-44 25-69 52 69 35 62-35M1202 3224l-28-21-77-22-78-28-71 71 71 29 78 9 77 5 28-43M3930 3224l-42-50-43 50 43 38 42-38M4356 3224l-3-1-78-56-29 57 29 15 78-15 3 0M1913 3454l30-77-71-16-63 16-15 21-24 56 24 24 78 19 41-43M2256 3377l-74-3-6 3 6 20 74-20M3588 3377l-10-1-3 1 3 6 10-6M957 3838l62-36 40-40-40-35-48-42 48-67 15-10 63-23 41-54 11-77-52-38-78 26-9 12-3 77 1 77-66 47-34 30 34 53 19 24-19 45-9 31 9 6 15-6M1497 3685l65-65 22-12 18-77 37-70 7-7-7-7-6 7-71 39-49 38 25 77-54 52-48-52-21-77-8-3-6 3-53 77 42 77 17 62 77-10 13-52M2466 3608l3-77-16-77-38-38-47 38 3 77-14 77 58 34 51-34M3423 3531l0-7-3-70-75-53-31 53-47 58-38 19 38 59 30-59 48-34 77 34 1 3 0-3M4196 3608l2-13 6-64 23-77-29-22-78 21-3 1 3 5 65 72-65 30-62 47 62 15 76-15M2237 3531l-55-28-12 28 12 24 55-24M1874 3685l29-77-31-50-29 50 28 77 1 0 2 0M2653 3608l-6-5-1 5 1 1 6-1M3811 3608l-1 0 0 0 0 0 1 0M2185 3685l-3-14-2 14 2 8 3-8M2085 4069l-51-77-7-6-21 6-57 37-77 38-78-7-50-68-4-77 54-63 16-14-16-12-45-64-32-24-78 16-10 8 10 17 78 20 62 39-62 52-27 25-51 74-2 3-75 42-62 35 62 37 55-37 22-70 78 16 70 54 7 8 78-3 77 20 78 25 58-50M2815 3762l-13-6-10 6 10 5 13-5M1408 3915l17-77-18-64-18 64 15 77 3 3 1-3M3214 3992l-20-77 8-77-12-49-78 41-6 8-30 77 15 77 21 17 78 3 24-20M3351 3838l-6-10-9 10 9 3 6-3M4358 4069l-5-17-78-28-77 12-8-44-70-47-69-30-8-1-4 1-74 37-70 40 70 25 78-25 0-1 0 1 56 77 21 22 78-18 77 14 78-17 5-1M4419 3915l-66-32-35 32 35 72 66-72M2277 3992l-17-12-16 12 16 55 17-55M3407 3992l-62-13-33 13 33 32 62-32M3508 3992l-8-7-19 7 19 2 8-2M3792 4069l-59-37-63-40-15-8-26 8 26 10 50 67 28 63 59-63M4508 3982l-69 10 3 77 66 27M2977 4069l-20-21-77-26-64 47 64 50 77-18 20-32M864 4340l66-41 12-10 9 10 68 55 78-32 77 26 78-29 77 21 17-41 49-76-66-24-36 24-41 41-78-38-77 10-11-13 11-28 14-49-14-33-78-11-66 44-11 2-78 62M2285 4376l52-58 37-19-37-5-77-67-48-4-25-77-5-76-13 76-1 77-63 29-33 47 33 49 35-49 42-68 20 68 40 77 18 9 25-9M2350 4146l-13-67-9 67 9 7 13-7M3470 4299l-41-76 4-77-10-9-25 9-53 34-34 43 34 40 76 36 2 21 47-21M1921 4299l-49-54-78 14-25-36-52-19-35 19-43 73-7 3 7 30 78-11 77 48 78-33 49-34M2662 4376l63-57 17-20-5-76-12-23-47 23-31 60-77-31-48 47 32 77 16 16 77-12 15-4M3802 4299l-62-76-7-25-3 25-55 76 58 45 69-45M1532 4299l-48-45-37 45 37 66 48-66M4380 4376l-27-36-78 18-55-59-22-15-10 15 10 14 66 63 11 4 78 19 27-23M3115 4376l-3-45-13 45 13 15 3-15M4045 4376l-2-2-5 2 5 3 2-3M3427 4607l73-16 78-25 77-13 40-23-40-24-77-33-78 1-77 0-43-21-35-26-10 26 10 58 7 19 70 77 1 1 4-1M864 4659l52 25 25 76 1 1 0-1 8-76-8-6-58-71 58-71 6-6-6-5-78-26M1165 4530l-68-34-39 34 39 47 68-47M1569 4607l70-57 78 8 47-28-47-22-78-14-77-2-78 5-77-35-72 68-6 3-46 74 46 31 78-13 15-18 62-31 67 31 11 13 7-13M2113 4684l-7-77-1-1-54-76-24-13-78-61-77 1-61 73 61 33 77 20 78-21 76 45-17 77 19 6 8-6M2326 4607l11-13 78-20 77-37 78 12 77 25 78 19 62-63-62-20-78 13-77-18-78 24-77-37-78 24-58 14-19 17-42 60 42 23 66-23M2951 4530l-71-13-56 13 56 15 71-15M3047 4760l9-76-6-77 62-30 78 6 70-53-70-37-78-27-54 64-23 57-61 20 3 77 46 76 12 55 12-55M4272 4530l-74-27-78-2-77 7-74 22 74 18 77 6 78 2 74-26M1740 4837l-23-58-3-19 3-9 29-67-29-33-22 33-56 33-73 43 73 47 64 30 14 16 23-16M1881 4760l62-76-71-14-20 14 4 76 16 25 9-25M2549 4760l-49-76-8-23-8 23-43 76 51 46 57-46M3193 4684l-3-5-5 5 5 5 3-5M3852 4684l-42-44-77 36-8 8 8 6 77 57 42-63M2914 4760l-34-13-78 9-77-8-66 12 66 14 77-6 78 26 34-34M3383 4837l-37-77-1-26 0 26-27 77 27 39 38-39M4178 5145l-50-77-6-77 52-77 24-59 77-11 8-7 49-77-57-18-10 18-67 72-5 5-73 50-30 27 21 77-2 77-66 45-15 32 15 30 77 31 58-61M1308 4991l-56-26-70-51-8-33-77 16-74 17 69 77 5 7 7-7 70-68 48 68 30 29 56-29M2009 4914l-60-18-77-5-20 23 20 27 77 8 60-35M2109 4914l-4-1-10 1 10 2 4-2M2351 4914l-14-2-3 2 3 2 14-2M3039 4991l14-77-18-62-9 62 4 77 5 4 4-4M3598 4914l-20-17-43 17 43 15 20-15M1413 4991l-6-19-23 19 23 3 6-3M2649 4991l-2-41-6 41 6 12 2-12M2885 4991l-5-5-2 5 2 4 5-4M3696 5145l-41-35-75-42-2-1-2 1-76 75-77-14-78-15-73-46-4-77-1 0 0 0-55 77 2 77 53 16 78 28 78-15 77-28 5-1 73-72 23 72 54 40 41-40M3449 4991l-26-21-24 21 24 28 26-28M2467 5068l-52-28-24 28 24 40 52-40M4508 5059l-25 9 22 77 3 2M864 5157l78-10 77 4 8-6-8-55-77 51-78-18M1184 5145l-10-6-14 6 14 5 10-5M1407 5298l8-77-1-76-7-4-78-19-38 23 38 70 28 6 48 77 2 2 0-2M2105 5221l1-76-1-1-78-43-78 16-77-20-78 24-77-35-78 39-77-14-45 34 45 31 77-18 78 29 77-37 78 40 77-5 72 36 6 3 78-2 0-1M2634 5145l-64-68-46 68 46 61 64-61M3102 5145l-67-38-78-15-7 53 7 31 78 14 67-45M2283 5221l-23-66-10 66 10 7 23-7M864 5694l78 52 77-39 63 52-63 70-8 7 8 4 8-4 70-60 15-17 62-67 11-10 67-66 32 66 45 77 60-77-60-56-60-20 60-19 78-6 23-52 41-77-64-38-78-17-68 55-9 47-78 16-77-1-78-55-77 65-78-70M1637 5529l-51-77-24-3-38 3-21 77 59 58 75-58M2101 5529l-70-77-4-2-78-2-77-13-78-25-77 3-59 39 59 37 30 40 47 40 74-40 4-22 5 22 72 36 78-28 74-8M2195 5836l-13-48-12-29-32-77 44-76 33 76 45 37 77 12 49-49-35-76 64-72 77 26 78-25 77 22 59 49 19 16 71 60 6 7 22-7-17-76 52-77 21-8 7 8 70 12 78-7 77 52 70-57-70-71-22-6-55-9-78 1-77-19-78 25-4 2-73 38-23-38-55-52-68 52-9 40-57-40-21-9-18 9-59 66-10 11-68 55-10-55-67-55-78 47-74 8 74 77-77 48-24 28-17 77 41 41 57 36 20 22 13-22M4050 5529l-7-7-78-45-77 46-78-37-62-34-15-3-9 3-69 63-77-11-78 0-33-52-44-37-31 37-47 39-78-1-63 39 63 37 78 16 78-52 77 22 78 1 77-13 42-11 36-46 17 46 60 30 78-19 77 9 78 6 7-26M4212 5606l46-77 17-3 4 3 74 43 77-35 48-8-12-77-36-5-17 5-60 32-30-32-48-16-37 16-40 68-10 9 5 77 5 3 14-3M864 5569l57 37-57 59M1174 5669l-77-18-78 3-64-48 64-32 78-38 77 27 65 43-65 63M2260 5648l-78-42 78-21 66 21-66 42M1514 5759l48-71 6-6-6-10-78-10-44 20 9 77 35 30 30-30M1806 5682l-12-9-77-23-47 32 47 44 77 2 12-46M1978 5682l-29-26-28 26 28 25 29-25M2561 5682l-69-20-34 20 34 43 69-43M3266 5759l-69-77-7-6-24 6-21 77 45 32 76-32M4354 5682l-1-4-10 4 10 6 1-6M2583 5836l64-68 5-9-5-6-39 6-38 29-5 48 5 10 13-10M3739 5836l71-76 0-1 0 0 0 0-77 73-69-73-9-11-5 11 5 3 76 74 2 1 6-1M2354 5836l-17-16-11 16 11 18 17-18M3510 5836l-10-6-15 6 15 12 10-12M4286 5990l67-77 0 0 0 0 0 0-78 66-77-23-47 34 47 44 77-40 11-4M1246 6067l6-16 34-61-34-36-78-18-77 50-6 4 6 16 27 61 50 57 72-57M1544 6143l-11-76 4-77-53-43-57 43 17 77-37 47-78-24-67 53 67 75 78-62 77 62 60-75M2106 6143l76-47 26-29-26-47-63-30-14-11-57 11 57 8 44 69-44 75-78-69-48 70 48 44 78-39 1-5M3070 6143l42-38 12-38-12-17-74 17-3 3-5-3-73-58-77-4-78 12-46-27-31-4-78-59-47 63 47 35 53 42 25 23 77 0 78 20 77-32 62 65 16 25 35-25M3592 6143l36-76-45-77-5-3-78-27-74 30 74 55 18 22 8 76 52 9 14-9M4086 6143l5-76-25-77-23-15-21 15-18 77 14 76 25 40 43-40M2534 6220l-42-24-40-53 5-76-42-73-21 73-13 76 34 23 64 54 13 24 42-24M864 6432l78-53 18-5 59-34 32-43 6-77 4-77-42-46-77 46 0 0-32 77-46 31M1755 6220l39-45 78-24 12-8-12-4-78-11-77-6-24 21-54 51-21 26 21 63 78-43 38-20M2294 6297l-12-77-22-16-20 16-52 77 72 27 34-27M2741 6220l-16-6-23 6 23 56 16-56M3766 6297l44-51 10-26-10-19-18 19-59 53-32 24 32 14 33-14M942 6316l-6-19 6-12 5 12-5 19M1330 6451l24-77-25-42-77-10-57-25-21-19-17 19-42 77 59 49 78-8 77 36 0 10 1-10M1801 6758l-7-50-3-27-2-77 5-5 78-45 49-26-33-77 61-28 50-49-41-77-9-11-3 11-70 77-4 22-78 40-9 15-7 77-61 61-46-61-32-38-77-15-29 53-49 52-14 24-63 30-47 47-31 66-18 11M3579 6374l20-77-21-11-13 11-1 77 14 2 1-2M2108 6451l-3-77 0-1-1 1-1 77 2 9 3-9M2712 6374l-65-41-77 35-3 6 3 6 77 21 65-27M2896 6451l-16-39-34-38-44-41-63 41 63 41 42 36 36 38 16-38M3433 6681l-10-39-78 35-51-73 3-76 48-41 24-36-24-26-62-51-16-8-15 8-62 28-37 49 34 77-22 76 2 77 23 53 77-32 78-19 78 7 10-9M3923 6374l-35-35-32 35 32 36 35-36M2264 6451l-4-3-5 3 5 2 4-2M3267 6501l-21-50 21-57 45 57-45 50M1119 6758l55-68 7-9 51-77 18-76-76-48-33 48 19 76-1 77-62 45-70-45-8-29-9-48-68-50-59-26-19-31M864 6538l41 66 24 77-65 37M1489 6758l0-77 22-77 51-45 77 32 28 13-27 77 77 46 69 31M2147 6681l-11-77-31-32-9 32-33 77 42 20 42-20M2285 6604l-25-32-57 32 57 54 25-54M2906 6681l-20-77-6-2-1 2-1 77 2 5 26-5M3847 6604l-37-55-43 55 43 67 37-67M1988 6681l-39-23-33 23 33 22 39-22M2421 6681l-6-8-11 8 11 7 6-7M2718 6681l-71-51-51 51 51 34 71-34M888 6758l54-71 59 71M1349 6758l58-19 68 19M864 1323l24-20M864 2087l78-6 77 3 60-13 18-23 13 23 64 33 78 14 77-46 78 59 77-4 78-36 67-20-25-77-42-21-78-21-77-2-70 44-8 69-22-69-55-44-71-32-7-3-70-74 70-52 78 27 40 25 37 6 37-6 21-77-58-73-5-4 5-4 53-73-53-66-16-11 7-76-68-63-13-14-65-44-77 22-4 22-74 72-77-36-78 23M1779 1303l15 50 78-48 4-2M2586 1303l61 42 42-42M2958 1457l15-77-16-5-6 5-71 44-44 33 44 21 77-13 1-8M4028 1303l15 9 77 46 36-55M4297 1303l56 30 77-17 21-13M1174 1466l-5-9 5-6 7 6-7 9M2170 2302l12-21 19-56-19-35-64 35-13 8-78-3-4-5-74-52-34-25 34-40 78-28 10-9 68-36 56 36 21 24 78 1 77-11 78-8 32-6-32-10-59-67-19-12-77-3-65 15-13 16-6-16-71-38-66 38-12 45-19-45-59-27-75-49 75-70 12-7 66-45 24-32-24-23-59-54 59-45 78 39 77-46 66-25-66-62-77 32-78-13-78 13-77 1-78-23-44-25 44-13 58-63-58-67-59 67-18 51-72-51-6-18-77-7-78-32-42 57 11 76 24 77-31 77-17 77-1 77 56 28 78-21 28-7 49-65 2-12 76-53 63 53-14 77 28 31 77 46-77 43-77 29-19 4 19 7 51 70 26 63 16 14 62 53 17 24-17 12-56 65 56 73 60-73 17-23 30 23 48 54 78 11 65-65M2127 1457l-22-47-52 47 52 14 22-14M2414 1610l-36-77-41-72-7-4-70-28-18 28 18 14 55 62-41 77 63 22 77-22M3872 2071l16-77-78-34-77 18-77-60-1-3-77-56-78 41-61-59 15-77-31-19-51 19 40 77 11 38 38 39-38 30-78 33-78-4-77-4-65-55-12-77-1-6-64-71 64-55 30-22 11-77-20-77 57-74 77 57 61 17-61 22-21 55 21 17 63-17 15-53 2-24-2-2-53-74-25-32-77 29-3 3-75 53-40 23-37 19-49 58 5 77-34 15-77-3-78 59-25-71 25-23 32-54-32-49-44-28 4-76-37-16-39 16-39 22-44-22-33-9-35 9 35 15 42 61-6 77 41 42 50 35 8 77-22 77 42 71 39-71 38-76 64 76 14 17 77-1 77-16 1-20 33 20 24 77-57 41-78 11-77-1-47 25-31 35-26-35-51-66-78 32-74 34-3 27-25 50 25 7 77 2 5-9 73-27 36 27 41 45 78-16 15-29 62-51 66 51 12 48 77-9 71-39 7-7 10 7 67 25 70-25 8-11 78-9 74-57 3-4 78-45 77-7 11 56-11 30-12 47 12 32 78 28 77-9 62-51M3624 1457l-46-25-18 25 18 61 46-61M4508 1609l-68-76-10-28-49 28-28 10-78 43-77-19-78 39-65-73 65-47 21-29-21-68-25 68-52 66-73-66-5-8-14 8 14 4 68 72-68 50-77-33-71 60 71 53 34 24-34 31-57 46-21 19-44 58 44 26 71-26 7-8 64-69 13-15 15 15 63 46 13-46 64-65 29-12 49-40 25 40 52 66 73-66 5-10 77-39 78-26M864 1467l78 8 71 58-71 61-78 10M1097 1535l-9-2 9-1 2 1-2 2M3754 1610l-21-2-78-62-77-7-78 59-30 12 30 68 78 1 77-6 78-30 21-33M4043 1639l-22-29 22-46 65 46-65 29M864 1621l78 53 77-9 12 22-12 67-77-48-12 58 12 74 77-72 73 75 5 6 75 71-75 56-56 20-22 16-18-16-59-59-78 37M1174 1727l-18-40 18-56 35 56-35 40M1639 1745l-8-58 8-4 12 4-12 58M2472 1841l0-77 20-20 32-57-32-52-72 52-5 6-78 51-77-44-56 64 56 43 36 34 41 16 78 3 57-19M1562 1811l-16-47 16-13 64 13-64 47M1949 1818l-77-16-62-38 62-75 77 42 28 33-28 54M4508 1967l-70-49-8-8-76-69-1-7-1 7 1 0 74 77-68 76 71 28 66 49 12 36M4002 1994l-37-11-77 11 77 13 37-13M4089 2148l31-27 78-33 77-6 58-11 7-77-65-9-40 9-37 35-38-35-40-26-39 26-33 77-5 6-19 71 19 71 46-71M864 2329l78-17 77 35 78-42 5-3-5-3-78-36-77 2-78 14M1447 2302l-40-24-78-21-77 27-22 18 22 51 77 18 78-52 40-17M1769 2302l-52-29-60 29 60 37 52-37M4508 3525l-12 6 3 77 3 77-42 77-18 76-12 13-77-2-71 66-7 14-31-14-46-44-78 31-77-9-63 22-15 7-77 35-49 35-29 33-77-26-12-7-66-37-77 20-62-60-16-12-9 12-68 62-78-15-78 28-43-75 43-73 78 20 51-24-43-76-8-26-15 26-63 71-38-71-39-28-52 28-26 21-40 55-37 48-44 29 0 77-34 19-49-19-28-15-11 15-67 54-77-30-28-24 28-22 18-55-18-24-47 24-31 37-46 40 17 77 29 13 78 38 77-31 65 57-5 77 18 37 77 8 31 31 33 77 14 60 15 17-13 77-2 5-8-5-70-24-77-3-78 7-77-14-78 12-77-43-78 32-77-26-78 30-77 9-78 6-22 14-55 34-25-34-53-27-61-50-17-18-77-45-14-14 14-7 77-59 37-11 41-26 15 26 33 77 30 9 40-9 27-77 10-15 5 15 10 77 63 33 77-28 78-2 7-3 70-73 17 73 61 64 77-44 69-20 9-8 63-69-31-76-32-63-78 40-77 22-2 1-76 72-27-72-50-36-26-41-2-77 28-26 30-51 16-77 31-21 43-56-20-76-23-13-77 7-78 1-77 1-48-73 2-77 46-31 34-46 43-62 18 62-16 77 76 45 68-45 6-77-3-77-71-70-66-7 66-15 77-52 31 67 47 16 32-16 45-44 78-9 36-23 41-15 78 0 77-15 78-8 77-8 53 46-53 46-57 30 26 77 16 77 15 17 60 60 18 24 77-12 56-12 10-77 12-9 20 9-1 77 59 26 27-26-4-77 54-59 64-18 14-8 10 8 67 73 78-54 22-19-22-17-43-60-35-8-77-9-28 17-50 57-77-42-38-15-40-5-31 5-18 77-29 35-77 15-10-50 10-20 54-57-33-76 56-47 78-5 78-8 77 34 78-43 31-8 6-77 40-53 68-24-68-54-44-23 44-77 0 0 1 0 77 30 25-30 44-76-69-54-78 15-77-26-57-12-21-14-77-11-78 17-6 8-72 32-77 19-76-51-2-70-4 70-73 32-78 13-59-45-18-77-1 0 1-1 77-9 78-31 77 41 78-49 77-12 78-11 78 16 77 36 65-57-65-24-77 1-78-8-78 25-77-16-78 9-77-7-78-17-77-10-78 29-77-22-78 8-77-10-70 42 70 43 77-14 78 35 27 13-16 77-3 77-8 54-6-54-72-32-64-45-13-19-27 19-51 35-77 23-75-58-3-13-3 13-74 37-78-37 0-1-77-70-78 57-67-63 57-77-68-48-68-29 68-47 78 15 78 23 77-41 78 43 69 7-69 16-78 47-77-59-69 73 69 75 77-22 78 10 77 3 78-42 60-24-59-77 7-77-7-76 76-70 37-7-37-8-77-23-68 31-10 26-9 51-68 36-78 11-77-30-78 4-78 28-65 27-12 36-78 1-11 40-60 77-1 77 72 28 68-28 10-8 14 8 57 77-71 45-78-5-77-29-78 40-77-9-78-35-71 70 71 54 31 22-1 77-30 40-24 37-44 77-9 9-5-9-54-77 20-77 35-77-5-76-10-77-59-33-59 33 0 77-18 14-14-14-64-57-24-20 1-77-8-77 31-44 23 44 55 70 77-23 78 1 77 25 7 4 71 26 77-1 73-25-7-77-23-77 27-77-70-39-21 39-37 77-19 11-78 1-55-12-22-5-45 5-33 4-77 17-42-21 42-26 33-51-33-57-78 44-77-18-78 5-77-9-78 14M2870 2302l-68-13-77-63-78 30-67 46 67 33 78 37 77-40 68-30M2968 2379l67-55 8-22-8-7-78-19-75 26 70 77 5 6 11-6M3291 2302l-24-23-41 23 41 63 24-63M3427 2455l73-56 78 36 70-56 7-15 49-62-49-18-77-30-78 30-30 18 7 77-54 71-78-9-78-42-15 56 15 7 78 43 78-44 4-6M3924 2302l-36-43-78-23-52 66 52 30 78-25 36-5M4274 2302l-76-48-78 33-21 15 21 52 78-23 76-29M4508 2286l-56 16 56 20M2720 2455l-73-22-52 22 52 25 73-25M4487 2609l-57-27-77-47-17-3-32-77-29-2-15 2 12 77-74 60-78-1-77-4-58 22 58 28 77-7 78-1 77-20 0-5 1 5 77 50 77-25 57-25M864 2474l78 8 77-10 78 25 62 35-62 52-78-4-77-11-78 3M3960 3224l3-77-75-26-12-51 12-72 1-5 19-77 57-63 45-13 27-77-72-43-71-34 51-77-41-77-16-40-60 40-18 9-77-2-78 56-55 14 55 63 78-26 77-4 73 44 5 67 0 10 16 77-16 11-43 65 42 77-77 39-73 38 73 59 59 18-54 77 73 65 72-65M864 2714l61-28 17-5 77-13 36 18-36 26-23 51-54 41-78-6M4508 2817l-78-22-77 13-49-45-29-14-16 14-41 77 38 76 19 59 22 18 56 48 25 29 52 26 78 51-78 54-77-34-27-20-51-44-25-33-52-56-78 54-1 2-76 73-75 4 2 77 73 32 77-7 53-25 7-77 18-20 27 20-9 77 59 30 78-7 77-12 30-11 48-77M1174 2965l-77-31-18-18 13-76 5-4 2 4 75 27 52 49-52 49M2182 3116l-26-46-51-63-17-14-61-66-8-11 5-76 3-4 78-10 77-62 10 76 68 41 77-32 78 29 53 38-53 57-78-2-77 2-48 20 2 77-32 46M942 2918l-1-2 1 0 1 0-1 2M1717 3115l-48-45 2-77-32-57-23-20 23-19 78 1 77-15 46 33-46 28-44 49-7 77-26 45M2647 2956l-5-40 5-2 34 2-34 40M3112 3191l-77-44-1 0 1-1 49-76-49-75-48 75-30 32-70-32-7-48-2-29 2-3 77-43 32-31 46-52 77 35 16 17 62 63 32 14-32 16-52 61 25 77-51 44M3345 3070l-78 12-18-12 18-35 17-42-17-32-24-45 24-10 78-16 26 26 33 77-59 77 0 0M4508 3146l-31-76-47-48-33-29 33-29 45-48 33-32M864 2966l42 27 36 47 34 30-34 76-78-29M1019 3011l-15-18 15-17 18 17-18 18M1949 2995l-3-2 3-3 5 3-5 2M2570 3147l0 0-6-77-58-77 64-56 75 56 2 3 59 74-59 43-77 34 0 0M3500 3150l-77 52-47-55 47-54 60-23-46-77 63-76 68 76 10 66 4 11-4 2-73 75-5 3M1252 3201l-78-52-77-1-2-1 2-1 77-3 40-73 38-13 42 13-27 77-15 54M2337 3094l-30-24 30-33 33 33-33 24M2802 3201l-77-51-8-3 8-17 17-60 60-48 76 48-11 77-65 54M1639 3156l-77-4-12-5 12-43 77 29 13 14-13 9M1949 3159l-4-12 4-8 19 8-19 12M1329 4178l-48-32 20-77 28-12 67-65 11-4 25-73 29-77 23-37 38-39-5-77 45-46 58-31 8-77 11-22 60-55-60-63-15-14 15-22 26-54 52-20 77 4 78-15 77-5 78-9 78 37 77-50 53-19-15-77 40-26 20 26-14 77 71 45 59 32-59 75-77-72-78 45-50 28 13 77-20 77-20 30-78-7-57 54-21 60-12-60-25-77 37-39 78 11 42-49-42-59-15-18-63-35-77 2-78 2-34 31-30 77 64 63 33 14-15 77 13 77 47 22 59 55-46 76 64 14 78 3 23-17 14-76-37-17-74-60 74-55 78-7 55 62 22 76 6 1 67 76 5 11 3-11 74-75 73 75-8 77-65 77-77-53-71 53-7 9-77 50-49-59-29-23-78 21-2 2-75 51-78-45-4-6-10-77 14-16 70-61-70-54-15-22-62-45-78 7-49 38 47 76 2 50 3 27-3 5-58 72-19 11-78 44-65 22-12 11-26 66-52 32M2415 3161l-28-14 28-37 25 37-25 14M864 3185l45 39-45 55M3799 3224l-66-27-44 27 44 13 66-13M864 3312l68-11 10-6 77-27 78 25 20 8 31 76-51 24-78 7-33 46-4 77-28 77-12 9-21-9-42-77-15-11M1407 3503l-66-49-10-77 28-76 48-41 74 41-24 76 18 77-68 49M2570 3362l-76-61 76-51 61 51-61 61M2900 3454l-10-77-10-20-21 20-8 77 29 51 20-51M4032 3454l-67-47-29-30-48-52-62 52 20 77 42 18 77 9 67-27M4252 3608l-1-77 24-54 78 25 44-48-16-77-28-12-64 12-14 22-77-17-78 49-68 23 43 77-52 39-55 38 55 20 77 11 78-4 54-27M1174 4161l-11-15-20-77-46-23-51-54-27-47-77 38-61-68 61-45 77-24 78 10 43-18 34-36 50-40 27-77-77-18-73-59 58-77 12-77 3-13 12 13 58 77 8 12 27 65 50 43 23 34 4 77-1 76-22 77-4 10-77 64-2 3-15 77-47 77-14 15M1562 3468l-52-14 52-27 25 27-25 14M1329 3559l-65-28 65-42 21 42-21 28M2785 3608l-60-17-68-60-10-16-16 16-9 77 25 29 78-21 60-8M1484 3622l-13-14 13-60 15 60-15 14M3003 3608l-46-24-37 24 37 28 46-28M3771 3762l-38-21-72-56 61-77-67-73-59 73 54 77 5 5 57 72 21 23 38-23M3872 3608l-62-19-67 19 67 17 62-17M1097 3755l-78-62-10-8 10-14 78-45 30 59-30 70M2864 3762l-62-29-48 29 48 28 62-28M3538 3762l-38-19-16 19 16 14 38-14M4403 3762l-50-64-15 64 15 56 50-56M864 3799l33 39-33 50M1717 3844l-41-6 41-4 7 4-7 6M4508 3955l-50-40 50-48M864 4039l14 30 30 77-44 35M1639 4246l-28-23-49-60-78 53-51-70 51-53 78 45 77-53 46-16 32-15 19 15 58 63 59 14-59 29-77 14-64 34-14 23M3267 4518l-77-42-58-23 8-77-6-77-22-58-77 3-23-21-47-77 46-77 24-39 42 39 35 33 58-33 20-10 19 10 58 13 78-4 4 68-4 3-59 74-19 34-22 42 22 43 63-43 15-7 14 7 11 77-25 16-22 61-56 65M3655 4286l-77-34-78 21-46-50-1-77-30-25-78-52 78-61 77 25 78-22 77 24 25 34-25 67-3 10 3 5 51 72-51 63M4508 5437l-78-17-77 19-78-17-73 30-4 6-78 67-77-63-16-10-62-15-19 15-58 47-64-47-14-10-77-14-72 24-6 5-77 30-78-29-4-6-73-60-50 60-28 23-78-16-77 33-39-40-39-40-77 15-78 3-77-50-78 43-68 29-9 5-3-5-75-71-69-6-8-1-37 1-41 3-77 61-40 13-38 40-77-34-78 20-77-7-19-19-59-33-78 14-72-58-5-22-45 22-33 5-77-2-78 22-77 31-78-1-69-55 16-77 21-77 11-76 21-49 10 49 68 48 77 17 78 6 77-13 78 15 77-4 15 7 63 31 78 8 27-39 46-76 4-6 4 6 40 76 34 24 77-12 78 45 18-57 59-66 59 66 19 14 24-14 53-52 78-22 77-2 10 0-10-2-77-14-25-61-25-77-11-77-17-62-16-15 16-14 78-3 77-9 67 26-67 40-10 37 10 14 55 63 23 55 24 22-11 77 20 76-33 71-2 6 2 24 12-24 65-21 78-39 3-17 74-56 78-11 77 22 78 32 40 13 38 35 19-35 58-49 78 25 77 17 70-69-70-60-31-17 31-73 1-4-1-2-35-75-42-35-78 18-29 17-48 15-68 62 65 77-75 33-52-33 38-77-9-77 23-6 68-71-7-77-36-76 53-51 57 51 20 18 78-16 9-2-9-2-59-75 59-23 77-13 72-41 6-15 16-62 61-71 23-6 55-59 26-18-26-38-78-28-7-10 7-12 24-65 1-77 53-48 77 15 78-19 37 52 40 42 78 14 39 21-39 51-5 26-59 76 60 77 4 19 77 7 78 38 74-64-20-77-54-15-78 5-72-66 72-69 31-8 47-29 41 29 36 20 18-20 60-32M1949 4199l-72-53 72-27 53 27-53 53M2260 4196l-44-50 44-48 40 48-40 50M1252 4232l-21-9 21-19 9 19-9 9M2337 4271l-57-48 57-48 62 48-62 48M1407 4386l-13-10-4-77 17-24 11 24 0 77-11 10M4508 4276l-38 23 38 4M864 4370l14 6 64 51 49 26-49 24-78 8M1252 4493l-78-25-77 1-53-16-2-77 55-22 77 11 78-28 59 39-7 77-52 40M1562 4477l-78 6-53-30 53-55 40-22 38-59 35 59 39 77-74 24M1794 4479l-77-16-58-10-1-77 59-43 59 43 18 56 21 21-21 26M3500 4425l-14-49 14-13 23 13-23 49M3655 4487l-66-34 63-77 3-4 78-2 38 6-38 19-24 58-54 34M4071 4376l-28-35-69 35 69 33 28-33M1019 4677l-77-58-10-12 10-12 63-65 14-37 8 37 60 77-68 70M4508 4510l-78 4-49 16-28 64-23-64-55-23-77-42-78 12-77 9-78 15-77 23-35 6-43 53-41 24-36 10-69 67 69 60 21 16 56 17 64-17 14-49 77-10 72 59 6 3 41-3 36-8 48-68-48-29-66 29-11 41-20-41-49-77 69-40 77 9 78 18 25 13 49 77-43 76-31 34-45 43-33 23-60 54-17 42-29 35 29 77-35 77 35 72 9 4 68 17 78-15 11-2 66-68 63 68 15 3 77 11 29-14 49-41M1252 4617l-48-10 48-5 0 5 0 10M1484 4649l-21-42 21-11 23 11-23 42M1639 4695l-77-1-19-10 19-8 38-69 39-32 69 32-51 77-18 11M2027 4622l-78-1-77 7-78 55-71-76 71-58 78 43 77 10 78-2 11 7-11 15M2182 4622l-2-15 2-7 1 7-1 15M2337 4849l-77 58-51-70 51-52 75-25-75-24-73-52 73-35 77 29 54-71 24-9 27 9-11 77-16 39-72 37 56 77-62 12M2880 4728l-78 3-77-26-78-13-77 26-20-34-24-77 44-26 42 26 35 66 78-22 19-44 58-59 78 14 58 45-2 77-56 44M3267 4893l-77-45-78 52-25-63 25-60 78 37 13-54 45-76-58-77-78 59-22-59 22-11 78 11 77-42 78-13 50 55-50 50-57 27 14 76-6 77-29 56M3888 4679l-68-72 68-62 66 62-66 72M4508 5005l-78 8-43 55-34 32-35-32-43-13-42 13-35 36-24-36-32-77 56-64 34-13 43-29 60-48 18-22 51-55-51-58-72-18 72-61 1-16 76-66 78 14M864 4708l49 52 29 62 77-60 3-2 20-76 55-48 77-10 17 58-17 2-42 74-2 77-33 22-78 23-25 32 25 33 42 44-42 44-28 33-49 46-78-30M1329 4932l-77 1-26-19-36-77 62-71 51-6-45-76 71-25 78 15 24 10 8 76 28 77-60 64-58 13-20 18M4508 4662l-16 22 16 37M1794 4800l-24-40 24-72 19 72-19 40M2105 4891l-61-54-17-34-14 34-64 46-72-46 31-77 41-47 78 3 78 31 16 13 40 77-56 54M1639 4856l-16-19 16-5 12 5-12 19M2957 4992l-1-1-76-75-3-2 3-15 4-62 73-72 52 72-14 77-36 77-2 1M1562 5093l-67-25-11-27-22-50-30-77 52-46 70 46 8 3 60 74 6 77-66 25M2570 4978l-78-31-24-33 24-72 78 23 47 49-47 64M3908 4991l-16-77-4-17-78 0-25 17 1 77 24 59 78-52 20-7M4444 4914l-14-32-37 32 37 55 14-55M864 5045l46-54-46-31M864 5180l78-10 77 51 1 0 77 50 26-50 51-42 61-34-61-35-77 17-20-59 20-17 60-60 17-17 12 17 66 64 77-46 78 13 67 46-67 45-78-8-68 40-9 76 76 77 0 77-76 55-13 22-65 49-77-28-31-21-47-51-73 51-4 3-4-3-74-25M1794 5041l-47-50 47-75 62 75-62 50M1949 5097l-76-29 32-77 44-14 62 14 14 77-76 29M2105 5094l-72-26 2-77 70-39 50 39-15 77-35 26M2415 5168l-78 48-34-71-43-49-36-28-20-77 56-69 77 41 78-22 59 50-59 30-40 47 40 67 35 10-35 23M3190 5014l-78-7-13-16 13-52 78 15 22 37-22 23M3578 5047l-78-56 78-46 76 46-76 56M3035 5079l-24-11 24-22 26 22-26 11M3500 5106l-71-38 71-77 38 77-38 38M3894 5221l15-76-21-18-69 18 18 76 51 18 6-18M4430 5182l-38-37 38-40 31 40-31 37M2191 5375l-9-6-15 6 15 22 9-22M1794 5631l-77 2-51-27 41-77 10-5 3 5 74 63 40 14-40 25M1174 5617l-77 22-78-14-25-19 25-13 78-39 77 44 12 8-12 11M1484 5640l-51-34 51-69 69 69-69 34M864 5735l42 24 36 31 30 46 47 22 51-22 27-23 48-54 29-31 54-46 24-24 11 24 49 77 17 28 65-28 13-29 7 29 70 58 60-58 18-27 62-50 15-18 7 18 71 67 27 10 32 77 18 26 33-26 20-77 10-77 15-25 11 25 66 58 66-58-66-61-33-15 33-13 78-9 68 22-54 76-5 77 69 69 12 8 65 72 42-72 28-77 8-3 77-5 69-69 9-67 13 67 62 77 2 4 40 73 38 73 8 4-3 77-5 30-18-30-60-44-77 23-59 21 12 77-19 76 66 44 39 33 38 69 78-13 77-7 17 28-17 7-77 5-32 65 32 74 77-29 56 32 22 66 70-66 7-3 3 3 50 77-5 76 8 77 22 49 77-27 33-22 21-77-54-17-75-59 31-77-24-77-9-7-78-68-5-2 5-22 78-9 57-46-57-66-16-11 16-4 77-16 20 20 29 77-18 77 47 39 35 38 42 26 26 51 28 77-31 76-12 77 19 77M2260 5614l-16-8 16-5 13 5-13 8M3425 6758l75-66 38-11-38-24-31-53 6-76-52-52-18-25-60-64-16-13 16-62 33-15-33-27-3 27-75 46-61 31-16 7-23-7-26-77-5-77 17-77-4-76-37-53-77-1-24-23-54-13-77-10-78-37-77-4-22-13-49-77 50-77-57-70-8-7-69-19-78-18-75-39 75-32 78-19 77 50 1 1 77 67 11 9 66 69 78-24 69-45-69-40-29-36 29-32 77-14 78-1 73 47-48 76 27 77-4 77 29 6 74 71 4 22 39 55 38 38 39-38-39-51-43-26-34-17-56-60 56-21 77-23 60-33 18-23 25 23 52 77 1 0 77 64 51-64-51-34-57-43 57-49 57-28-57-64-29 64-48 56-55-56-23-73-46 73-32 24-21-24-56-55-62-21 62-29 77 18 78 10 78-54 77 46 78-27 77 20 78-13 77 24 78-15 77-9 43 29-4 76 39 11 28-11 44-76 5-54 4 54 74 53 32 23 45 17 68 60-11 77-50 77-7 5-77 23-69 49-9 41-15-41-62-39-56 39-19 77 31 76 44 70 23 7-23 19-54 58-24 76-76-76-1 0-47-77-31-60-57 60-20 18-76 59 76 34 77-16 6 59-6 17-21 60-56 70-4 7-70 76-4 1-58 76 10 77M3695 6758l14-77 24-51 24 51 53 28 78 5 7-33-7-47-6-30-9-76 15-55 1-22 76-77 78 6 77 41 67 30 11 18 14-18 63-38 38 38 32 77 1 76 7 11 5-11 3-76 12-77-20-42-36-35-42-16-51-61-26-75-3-2 3-2 59-75-59-39-50-37 50-12 77-39 71-26 7-9 45-68-36-77 4-77 13-77-11-76 62-38 78-16M1019 5794l-51-35 51-26 31 26-31 35M3826 5836l39-77-55-62-54 62-23 22-21-22-57-72-34 72 34 20 59 57 19 18 77-10 16-8M2399 5836l-62-59-41 59 41 67 62-67M2917 5836l-37-29-30 29 30 14 37-14M864 5923l34 67 44 11 21-11-21-40-70-37-8-10M2530 6758l-38-32-31-45 31-70 78 33 6 37 71 48 78-26 16-22-16-22-78-49-34-6-43-13-56-63-22-21-45 21 26 76-58 13-78 61-31-74-46-59-34-17 34-30 71-47 6-71 78 35 27-41-27-51-77-26-1 0-25-77-52-38-47 38-31 43-56-43 23-77 33-20 49-56 29-48 54-29-54-27-78-30-77-17-78 59-59 15 39 77-58 73-77-29-78-2-77-19-60 53-18 17-33-17-8-76-36-49-5-28-73-59-77 24-78 14-55-56-22-39-58 39-20 3-77 51-35 23 9 77-52 10-77 48-78-30M1875 5990l-3-2-78-14-77-54-57 70 57 39 77-28 78-11 3 0M3644 6143l11-25 41-51-41-54-12-23-65-28-78-39-77 44-49 23 29 77 20 56 18 20 59 33 78 5 66-38M3957 6067l-39-77-30-42-78 15-52 27 52 16 62 61 16 24 69-24M4508 5984l-4 6-12 77-62 60-61 16 61 29 50-29 28-29M2105 6092l-29-25 29-24 14 24-14 25M2725 6185l-78-12-77-29-78 6-5-7 5-22 78 22 16-76 61-24 29 24 49 44 54 32-54 42M1252 6303l-13-6-65-59-54 59-23 56-18-56-1-77 2-77 17-60 47 60 30 42 78 0 33 35-3 77-30 6M4120 6150l-1-7 1-11 7 11-7 7M1484 6514l-77-14-25-49 9-77-28-77-7-77 51-42 51 42 26 68 13 9 65 48 36 29-36 25-24 52-54 63M1562 6268l-41-48 41-48 29 48-29 48M1837 6758l23-77 10-77 2-1 77-45 75-30-75-49-17-28 17-8 70-69-23-77-47-58-16 58-61 65-73-65-5-47-6-30 6-7 78-17 77-38 78 58 17 4 61 52 14 25-14 13-57 64 33 77-50 77 37 76-41 70-78-42-71 49 71 48 53 29M1717 6551l-18-23-60-71-14-6 14-22 40-55-19-77 57-39 68 39-3 77-41 77 0 77-24 23M3604 6374l49-77-75-40-46 40-32 44-21 33 21 63 78-27 26-36M2182 6456l-5-5-10-77 15-16 78-1 76 17-76 24-73 53-5 5M1097 6664l-38-60-40-54-37-22-40-9-64-68 64-54 77-14 36 68 42 19 29 58-1 76-28 60M1252 6495l-78-37-27-7 27-8 78-12 44 20-44 44M864 6588l10 16 6 77-16 9M1407 6611l-20-7 20-39 14 39-14 7M4162 6681l36-31 29-46-29-54-78 53-9 1-34 77 43 14 42-14M4508 6580l-25 24 25 72M1329 6698l-77 42-30-59 30-35 77 13 8 22-8 17M1542 6758l14-77 6-11 6 11 71 38 78 27 27 12M905 6758l37-49 40 49M1159 6758l15-19 48 19M2045 6758l60-36 77-8 41 44M2309 6758l28-49 78 22 40 27M3326 6758l19-13 59 13M4286 6758l-11-27-8 27M4452 6758l-22-26-15 26M1069 1303l2 77-52 51-73-51-4-12-23-65M864 1348l70 32-70 33M1210 1303l-36 11-34-11M1512 1303l-28 44-8 33-58 77 8 76-19 45-35-45 6-76-49-50-31-27 31-53 11-24M1562 1411l-62-31 62-48 49 48-49 31M1745 1303l28 77-56 61-54-61-24-48-27-29M2540 1303l30 21 66 56-66 47-78-29-25-18-52-9-17 9-61 42-72-42-5-7-9 7-44 77-25 40-23-40-21-77-33-22-78-21-20 43-5 77 25 76 78-43 60 43-60 32-78-31-78 13-77 5-37-19 37-44 19-32-19-15-55-62 55-49 56-28M3983 1303l60 39 48 38-15 77-33 42-46-42-32-51-77 42-10 9-6 76-62 57-77-32-30-25-24-76-24-47-77-14-44 61 18 76-52 41-77 31-50-72-28-50-19-26-59-76-77 32-50 44-28 20-77 50-62-70 62-67 28-10-28-17-78-33-77 49-1 1-77 64-77-33-58-31 58-58 21-19M3311 1303l34 31 14-31M3621 1303l34 53 41-53M3791 1303l19 7 12-7M4508 1574l-36-41-25-76-17-28-77-9-12 37-8 76-58 38-76-38-1-1-41-75 41-75 6-2 71-41 78 25 77-14 76-47M864 1482l78 12 48 39-48 41-78 14M2260 1581l-50-48 50-33 29 33-29 48M2647 1945l-50-27-5-77 20-77-42-50-13-27-29-77 3-77 39-24 17 24-3 77 63 65 17 12 5 77-3 77 34 77-53 27M2957 1626l-77 10-14-26-41-77 55-28 48 28 29 58 5 19-5 16M3190 1635l-11-25-15-77 26-34 40 34-24 77-16 25M3965 1566l-58-33 58-47 45 47-45 33M4120 1573l-35-40 35-25 75 25-75 40M864 1651l46 36-1 77-7 77-9 77-29 17M1407 1694l-5-7 5-7 2 7-2 7M2027 1711l-26-24 26-20 39 20-39 24M2182 1747l-56-60 56-35 56 35-56 60M2337 1725l-55-38 55-37 53 37-53 38M3423 1724l-78 3-78 13-40-53 40-30 78 0 78-41 50 71-50 37M3810 1710l-17-23 17-18 33 18-33 23M4198 1833l-78-2-49-67 49-50 65-27 13-10 6 10 47 77-53 69M4508 1933l-22-15-56-56-23-21 23-37 32-40-32-45-23-32 23-12 78-12M1794 1940l-77 22-61-44 9-77 16-77 36-26 30 26-1 77 48 52 40 25-40 22M1872 1780l-27-16 27-32 44 32-44 16M2105 1933l-78 49-78-42-34-22 34-32 75-45 3-2 54-75 24-37 42 37-11 77 16 77-47 15M3500 1866l-26-25 14-77 12-22 78-18 56 40-56 40-38 37-40 25M1097 1936l-78 37-55-55 14-77 41-39 38 39 40 53 25 24-25 18M1174 1857l-15-16 15-12 24 12-24 16M3035 1933l-78 22-77-15-78 39-51-61 30-77 21-42 35 42 43 50 77-17 78 15 21 29-21 15M3345 1955l-78-10-77 9-43-36 9-77 34-34 40 34 37 35 21-35 57-61 44 61 13 77-57 37M3655 1876l-43-35 43-57 66 57-66 35M4353 1972l-78 1-77 16-78-55-77 49-78-16-77 4-78-31-77 22-56-44 56-73 77 46 78-28 77-15 78 11 77 19 78-34 15-3 62-38 26 38 52 26 49 51-49 54M1562 1936l-78-6-77 0-78 47-64-59 64-50 78 13 77 19 78-5 41 23-41 18M2492 2037l-77-9-30-34-48-32-77-5-64-39 64-68 77 26 78 4 66 38 11 23 34 53-34 43M3578 2202l-57-54 8-77 19-77 30-18 32 18-11 77 29 77-50 54M1794 2273l-77-18-78 24-47-54-30-26-78-37-13-14 13-3 78-32 77-18 44-24 34-28 21 28 2 77 54 50 32 27-32 48M2182 2157l-77 45-78-18-53-36 53-31 53-46 25-13 20 13 57 65 28 12-28 9M3267 2590l-77-39-78 24-77-4-78-18-58-21 40-77 18-14 37 14 41 10 21-10-14-76 26-77-33-27-78-12-65-38-12-48-33-29 33-12 34-65 43-36 46 36 16 77 16 16 64-16 13-4 78-39 77 22 78-6 78-24 59 51 18 12 64 65-64 41-60 36 7 77-24 33-78-6-38-27 12-77 26-38 44-39-44-51-38 51-40 27-77 39-11 11 11 67 4 10 25 76 48 21 66 56-66 58M3965 2263l-36-38-41-20-71-57 71-61 16-16 61-44 56 44-17 77-5 77-34 38M4430 2202l-31-54-28-77 59-36 48 36 8 77-56 54M864 2111l78-1 77-12 78 5 77 27 78 1 77-31 57 48 21 35 42 42-42 23-78-10-77 19-56 45 33 77-55 39-77-10-78-16-77 8-78 3M2260 2399l-78 13-62-33 62-61 38-16-2-77 42-64 13-13 64-44 78-7 66 51 11 15 25-15 53-33 44 33 33 41 30 36-30 12-77 15-78 17-77-27-78 34-44 26 4 77-37 20M2725 2195l-53-47 53-63 60 63-60 47M4353 2281l-78-53-31-3-46-2-67-75 67-42 77-5 59 47 19 27 67 50-67 56M864 2357l78-12 77 25 78-39 49-29-49-27-78-33-43-17-34-26-25 26-53 32M2802 2256l-38-31 38-52 49 52-49 31M3733 2269l-78-4-63-40 63-59 78 21 32 38-32 44M4120 2268l-55-43 55-66 76 66-76 43M4508 2264l-68-39 68-69M3810 2514l-77-8-64-51 5-76 59-66 77 45 78-29 77-11 33-16 45-41 28 41 31 77-59 71-78-11-77 7-9 9-69 59M1562 2507l-78-43-77 28-78-21-8-16 8-18 24-58 54-37 77-31 78 6 70 62-40 76-30 52M1717 2411l-60-32 60-16 49 16-49 32M1949 2404l-41-25 41-55 49 55-49 25M2492 2500l-36-45-15-76 51-47 78-16 77 33 56 30-56 36-77 31-20 9-58 45M2880 2410l-48-31 48-30 27 30-27 31M4275 2431l-77 4-56-56 56-30 77-25 69 55-69 52M4508 2424l-78 1-58-46 58-43 78 14M3655 2575l-77 21-78-27-77-11-42-26 42-34 36-43 41-31 68 31 10 4 77 7 57 66-57 43M4198 2578l-78-15-77-4-78 29-40-56 40-56 78-10 7-11 70-54 56 54 22 12 56 65-56 46M864 2500l78-2 77-4 78 23 26 15-26 22-78 8-77-4-78-4M1949 2546l-32-14 32-22 61 22-61 14M2182 2579l-61-47 61-37 62 37-62 47M2802 2568l-77-16-78 9-77-12-41-17 41-53 77 20 78-10 77-6 62 49-62 36M4430 2554l-35-22 35-43 39 43-39 22M1407 2736l-78-36-28-14 28-10 78-6 45 16-45 50M2027 2733l-50-47 50-65 59 65-59 47M2647 2792l-41-29-36-51-72 51-6 4-77 24-36-28-10-77 46-27 77-32 78 43 77-17 63 33-8 77-55 29M3035 2713l-19-27 19-8 15 8-15 27M3267 2783l-77 3-35-23 26-77 9-6 77-17 78-15 78 7 56 31-56 29-78 8-32 40-46 20M3810 2738l-77-7-44-45 44-21 77-6 45 27-45 52M4198 2827l-78-25-32-39-45-52-78-9-34-16 34-43 78 29 77-10 78-17 77-18 73 59-73 48-33 29-44 64M4508 2790l-78-15-77 4-17-16 17-57 12-20 65-26 78-31M864 2746l78-33 32 50-32 24-78-12M1639 2789l-77 0-52-26 52-32 77 5 50 27-50 26M1872 2781l-78-3-38-15 38-19 78-14 28 33-28 18M2260 2776l-27-13 27-31 25 31-25 13M2957 2794l-41-31 41-58 65 58-65 31M3655 2783l-48-20 48-45 47 45-47 20M1174 2944l-49-28 49-27 29 27-29 28M1794 2920l-26-4 26-4 6 4-6 4M2105 2956l-39-40 39-40 68 40-68 40M2337 2938l-77-6-61-16 61-10 77-16 49 26-49 22M3035 2948l-19-32 19-21 39 21-39 32M3965 3059l-42-66 10-77 32-35 57 35 11 77-68 66M4120 3029l-65-36 15-77 50-46 78-12 35 58-35 56-31 21-47 36M864 2988l9 5 47 77-56 21M1407 3108l-26-38 20-77 6-12 41 12-18 77-23 38M1717 3078l-9-8-6-77 15-48 11 48-6 77-5 8M2570 3036l-33-43 33-28 38 28-38 43M2957 3043l-34-50 34-20 34 20-34 50M3345 3019l-21-26 21-43 20 43-20 26M3500 3039l-34-46 34-41 36 41-36 46M3810 3016l-57-23 57-61 46 61-46 23M4508 3044l-49-51 49-53M2647 3086l-32-16 32-27 22 27-22 16M2802 3181l-52-34 24-77 28-23 36 23 6 77-42 34M4043 3125l-73-55 73-73 57 73-57 55M3112 3171l-41-24 41-54 27 54-27 24M3423 3172l-21-25 21-24 37 24-37 25M3733 3165l-78 39-21-57 21-27 78-3 52 30-52 18M4430 3168l-39-21 39-20 31 20-31 21M864 3218l7 6-7 8M4508 3508l-66-54-5-77-7-6-77-34-78 16-77-9-30 33-48 32-77 21-63-53-6-76 69-32 77 0 78-25 77 26 78 0 77-18 70-28 8-12M1019 3371l-42-70 42-17 46 17-46 70M1407 3478l-32-24 3-77 7-76 22-19 34 19-15 76 14 77-33 24M2027 3327l-78-23-77 22-78-20-77 65-9-70 9-4 77 2 78-17 77 16 78-10 27 13-27 26M2182 3323l-41-22 41-28 38 28-38 22M2337 3345l-46-44 46-19 35 19-35 44M2570 3327l-32-26 32-22 26 22-26 26M3035 3593l-78-36-44-26 21-77-7-77-34-76 64-14 78-5 77-6 30 25-30 25-77 27-27 24 27 15 30 62 9 77-39 62M3500 3405l-42-28-35-26-78 1-78 5-35-56 35-30 78-7 78 1 77 26 78-41 77-16 78 18 77 13 44 36-44 38-77 28-78-18-77-5-54 33-24 28M864 3338l76 39 2 3 20 74-5 77-15 34-24-34-54-42M1097 3385l-65-8 65-31 17 31-17 8M2570 3511l-38-57 38-27 55 27-55 57M2725 3546l-18-15-41-77 59-52 77 52-49 77-28 15M3267 3467l-34-13 34-36 11 36-11 13M2337 3539l-4-8 4-6 2 6-2 8M3423 3816l-35-54-9-77 44-21 60-56-13-77 30-34 78 1 31 33-31 37-44 40 44 31 36 46-36 53-78-30-47 54-30 54M3965 3569l-77-13-78 14-61-39 61-59 78 44 77-5 58 20-58 38M4430 3740l-47-55-8-77 12-77 43-46 29 46 5 77 6 77-40 55M1174 3642l-42-34 42-63 54 63-54 34M2570 3655l-56-47 56-62 28 62-28 47M2802 4016l-43-24 5-77-39-53-78 29-62-53 24-76-1-77 39-20 78-28 77 4 57 44-57 26-77 43-20 8 20 17 77 34 78 10 19-61 18-77 40-16 78-46 17-15 60-36 36 36 42 57 77-29 65 49-65 74-77-56-78 27-16 32-58 76-3 5-78 43-50 29-27 13-48 64-30 24M1717 3695l-78-2-77 55-26-63 26-26 77-3 78 3 47 26-47 10M2105 3751l-78-32-43-34 43-31 78-10 36 41-36 66M2260 3716l-21-31 21-51 53 51-53 31M2415 3731l-66-46 66-21 62 21-62 46M3888 3748l-78 4-77-43-31-24 31-36 77-6 78-23 68 65-68 63M4275 3878l-39-40-38-24-34 24-44 33-77 1-50-34-28-56-21-20 21-30 25-47 53-30 77-1 78 9 46 22 31 12 46 65-3 76-43 40M1872 3811l-59-49 59-33 35 33-35 49M3888 3917l-78 63-77-7-78-47-77 11-23-22 23-32 27-45 2-76 48-32 25 32 53 59 50 17 27 7 78 62 4 8-4 2M1174 4051l-77-40-18-19-45-77 63-40 77-21 28-16 50-36 54 36-19 77-35 33-28 44-50 59M1484 4016l-34-24 7-77 27-59 7-18 71-70 58 70-11 77-47 53-36 24-42 24M2105 4025l-28-33-50-41-78 18-57-54 57-44 78 4 50-37 28-58 77 28 29 30-29 41-57 36 26 77-46 33M2337 3965l-63-50 24-77 39-40 39 40 3 77-42 50M3500 3875l-58-37 58-34 48 34-48 37M942 3946l-28-31 28-20 48 20-48 31M2570 3971l-55-56 55-66 60 66-60 56M3423 3958l-78-14-78-5-13-24 13-23 78-10 78-32 47 65-47 43M4508 3929l-17-14 17-16M1872 4018l-42-26 42-43 39 43-39 26M2492 4113l-36-44 20-77 16-35 38 35-2 77-36 44M3423 4105l-54-36 54-43 75 43-75 36M3500 4246l-21-23-6-77 27-74 10-3 68-17 77 17 0 0 0 1-25 76-52 64-28 13-50 23M4120 4281l-56-58-21-26-55-51-23-36-43 36-34 31-20-31 4-77 16-15 77 0 78-11 19 26 58 61 46 16 5 77-51 58M864 4129l8 17-8 6M1329 4158l-18-12 18-30 20 30-20 12M1484 4170l-17-24 17-18 32 18-32 24M1717 4174l-78 23-45-51 45-32 78-25 55 57-55 28M1949 4149l-4-3 4-2 3 2-3 3M2260 4162l-14-16 14-16 13 16-13 16M2647 4163l-49-17 49-21 34 21-34 17M2802 4271l-24-48-26-77 50-30 35 30-3 77-32 48M3035 4180l-24-34 24-49 54 49-54 34M3267 4503l-77-43-18-7-7-77-7-77-16-76 8-77 40-18 77-26 55 44-55 69-13 8-32 76 30 77 15 6 43 71-43 50M4508 4189l-26-43 26-14M2337 4249l-31-26 31-26 33 26-33 26M3655 4256l-54-33 54-38 26 38-26 33M4430 4249l-77-5-78 24-50-45 50-48 78 4 77 26 33 18-33 26M4043 4308l-21-9 21-17 19 17-19 9M1252 4422l-62-46 62-20 31 20-31 46M1717 4430l-38-54 38-28 38 28-38 54M1949 4415l-55-39 55-44 64 44-64 39M2957 4480l-77 9-78-10-77 3-78 11-60-40 60-41 78-13 77 7 78-13 32-17 45-55 33 55 9 77-42 27M4120 4451l-22-75 22-41 34 41-34 75M4508 4485l-78 7-55-39 55-50 24-27 54-49M864 4407l54 46-54 17M1562 4463l-78 5-26-15 26-27 78-28 30 55-30 10M2337 4487l-77-7-78-8-77 51-78-35-43-35 43-65 78 23 77 12 78 9 77-29 74 50-74 34M2492 4465l-61-12 61-29 28 29-28 12M3655 4467l-28-14 28-33 23 33-23 14M4043 4464l-78 6-77 37-78 5-39-59 39-45 78-23 77 38 78 16 73 14-73 11M4275 4483l-49-30 49-28 51 28-51 30M1019 4634l-34-27 34-36 26 36-26 27M1639 4634l-8-27 8-7 15 7-15 27M1794 4645l-35-38 35-29 53 29-53 38M2880 4710l-78-3-51-23 22-77 29-30 78 1 37 29-4 77-33 26M3345 4631l-67-24 67-26 24 26-24 24M3655 4647l-77-26-12-14 12-5 77-12 42 17-42 40M3888 4632l-24-25 24-21 22 21-22 25M4120 4622l-77 28-36-43 36-21 77 11 32 10-32 15M4508 4628l-43 56-35 54-50-54-7-77 57-50 78 30M1329 4696l-10-12 10-4 13 4-13 12M2260 4707l-33-23 33-16 36 16-36 23M3423 4728l-27-44 27-26 29 26-29 44M864 4738l21 22-3 77 60 32 27 45-27 59-78-44M1949 4869l-50-32 36-77 14-16 66 16-21 77-45 32M3500 4826l-49-66 49-32 60 32-60 66M3965 4805l-28-45 28-19 23 19-23 45M1019 4849l-24-12 24-19 35 19-35 12M1252 4901l-42-64 42-48 67 48-67 64M1407 4879l-67-42 67-67 39 67-39 42M2105 4869l-36-32 36-50 33 50-33 32M2260 4866l-21-29 21-21 36 21-36 29M2957 4928l-14-14-21-77 35-34 25 34-18 77-7 14M3267 4850l-19-13 19-46 7 46-7 13M3733 5110l-59-42 18-77-37-49-13-28-64-52-68-25 68-60 77 10 63 50 15 21 23 56 5 77 15 77-43 42M3810 4876l-67-39 67-39 59 39-59 39M4043 4901l-67-64 67-50 72 50-72 64M4508 4971l-44-57-14-77 58-33M1484 4939l-10-25 10-9 14 9-14 25M2570 4935l-34-21 34-16 15 16-15 21M2802 5090l-29-22-48-34-24-43-20-77 44-62 48 62 29 39 33 38 0 77-33 22M3965 4979l-37-65 37-57 55 57-55 65M1019 5002l-38-11 38-11 10 11-10 11M1562 5075l-20-7-44-77 64-53 43 53-24 77-19 7M1794 5007l-15-16 15-24 20 24-20 16M2105 5005l-7-14 7-4 4 4-4 14M2260 5033l-21-42 21-25 44 25-44 42M2415 5002l-46-11 46-19 22 19-22 11M3578 5027l-51-36 51-30 49 30-49 36M4275 5034l-77 17-35-60 35-41 77-26 61 67-61 43M942 5087l-43-19 43-53 20 53-20 19M1174 5081l-31-13 31-32 33 32-33 13M1407 5086l-78 2-51-20 51-32 78 14 26 18-26 18M1949 5077l-25-9 25-38 25 38-25 9M2337 5133l-58-65 58-60 22 60-22 65M3345 5087l-30-19 30-50 44 50-44 19M3500 5068l-1 0 1-1 1 1-1 0M4508 5419l-78-26-77 9-78 5-77 23-56-55-22-28-42 28-35 36-78 2-66-38-11-45-10 45-68 44-77-12-66-32-12-4-16 4-19 77-42 18-43-18-24-77-2-77 69-50 77-16 30-11 48-47 46 47 31 53 78 14 26-67 22-76-48-40-54-37 54-43 77-21 37 64-15 77 36 76 20 13 77 27 78-19 77-7 78 18 77 1 68-33 10-8M864 5203l78-10 43 28 20 77-22 77-41 33-78-7M1174 5487l-65-35-12-15-60-62 60-60 39-17 21-77 17-14 26 14 52 43 33 34-4 77-29 21-31 56-47 35M1562 5413l-78-10-36-28 6-77 30-70 12-7 66-11 36 11 28 77-5 77-59 38M2415 5416l-78-17-77 21-33-45-45-29-77-48 55-77 22-35 20 35 58 41 58 36 19 59 78-37 50 55-50 41M2802 5397l-77 27-54-49-24-45-77 24-78 6-65-62 29-77 36-40 36 40 42 31 55-31 22-22 78-23 77-2 63 47-26 77 0 77-37 22M3267 5407l-66-32-11-3-61-74-17-26-40-51 40-30 78-18 77 18 67 30 11 11 70 66-70 66-30 11-48 32M3500 5284l-27-63 27-22 40 22-40 63M864 5329l17-31-17-36M1794 5344l-45-46 45-49 59 49-59 46M2105 5376l-78 13-78 30-54-44-12-77 66-58 78 40 77 18 1 7 0 70 0 1M3035 5410l-78 5-59-40 59-61 78 3 68 58-68 35M3345 5459l-28-7 28-43 8 43-8 7M3888 5475l-32-23 32-60 28 60-28 23M1097 5627l-65-21 65-33 53 33-53 21M1484 5618l-19-12 19-26 26 26-26 12M1717 5616l-20-10 20-33 49 33-49 10M2570 5641l-78-14-42-21 42-18 78-13 47 31-47 35M3035 5649l-78 3-62-46 62-27 78 5 34 22-34 43M3423 5702l-20-20-30-76 50-35 52 35-35 76-17 20M3578 5654l-46-48 46-19 48 19-48 48M4508 5957l-67-44-11-14-37-63 10-77 0-77 18-76 9-6 78-20M3888 5721l-35-39 35-39 37 39-37 39M4508 5650l-28 32 28 56M1019 5759l0 0 0 0 0 0 0 0M1252 5822l-74-63 74-66 44 66-44 63M1639 5801l-45-42 45-33 39 33-39 42M2415 5800l-45-41 45-45 32 45-32 41M3578 5806l-78-31-21-16 21-18 78-16 15 34-15 47M4198 5926l-78 43-77-42-47-14-31-12-61-65 61-54 33-23 45-36 77-27 54 63-54 60-27 17 27 18 25-18 53-44 63 44-26 77-37 13M4275 5825l-51-66 51-36 41 36-41 66M1174 5868l-48-32 48-63 41 63-41 32M1329 5917l-4-4-41-77 45-22 78-28 62 50-62 47-71 30-7 4M1639 5971l-77-3-78-54-7-1 7-16 18-61 60-58 56 58 21 13 55 64-55 58M1717 5887l-62-51 62-59 38 59-38 51M2027 5959l-78 0-50-46-27-55-8-22 8-20 77-24 78-1 44 45 14 77-58 46M2260 5929l-27-16 20-77 7-15 6 15 22 77-28 16M2492 5860l-18-24 18-12 7 12-7 24M2725 5888l-44-52 44-56 60 56-60 52M3423 5944l-78 34-60-65-18-54-50-23 50-10 78-23 27 33 51 33 49 44-49 31M3810 5919l-77 54-78 0-77-37-43-23 43-56 9-21 68-40 42 40 36 35 77 33 13 9-13 6M1019 6027l-19-37-44-77 63-36 78-28 53 64-53 35-64 42-14 37M1794 5938l-32-25 32-21 43 21-43 25M2415 5946l-51-33 51-54 59 54-59 33M3112 5983l-77-19-78-2-77-32-30-17 30-21 77-44 78 9 77 2 56 54-56 70M4430 6108l-71-41 15-77 56-69 52 69-9 77-43 41M942 6107l-65-40 65-46 62 46-62 40M1949 6111l-77-29-78 9-63-24 63-38 78 10 77-24 35 52-35 44M2260 6160l-61-17 55-76 6-10 77-5 4 15-4 15-34 61-43 17M2647 6087l-13-20 13-5 6 5-6 20M3190 6110l-16-43 16-47 47 47-47 43M3345 6120l-56-53 56-56 30 56-30 53M3810 6119l-53-52 53-34 35 34-35 52M4275 6114l-58-47 58-29 69 29-69 47M2725 6157l-32-14 32-10 18 10-18 14M3733 6190l-38-47 38-43 43 43-43 47M3965 6257l-77 5-26-42 3-77 23-10 77-25 15 35 20 77-35 37M1407 6272l-24-52 24-19 24 19-24 52M1562 6224l-4-4 4-4 2 4-2 4M2182 6227l-8-7 8-34 5 34-5 7M2415 6258l-63-38 63-11 13 11-13 38M3267 6320l-77-14-4-9-8-77 12-28 77-44 51 72-14 77-37 23M3655 6239l-77-10-78 66-77-27-50-48 50-51 77 46 78-4 77-13 31 22-31 19M4275 6324l-22-27-27-77 49-52 73 52-23 77-50 27M4508 6282l-78-10-61-52 61-15 78-49M1717 6350l-31-53 31-21 37 21-37 53M1872 6347l-57-50 57-68 47 68-47 50M2492 6474l-55-23 37-77 18-31 16 31 17 77-33 23M3423 6425l-48-51 48-42 29 42-29 51M3655 6575l-77-16-44-31 29-77 15-7 51-70 26-40 78 17 44 23-29 77-15 19-32 58-46 47M4508 6555l-52 49-12 77-14 9-40-9 4-77 7-76 15-77-29-77 43-60 78 4M942 6497l-43-46 43-37 63 37-63 46M1252 6461l-26-10 26-5 10 5-10 10M1484 6479l-48-28 48-44 25 44-25 28M2027 6497l-56-46 56-55 33 55-33 46M2647 6496l-32-45 32-13 23 13-23 45M3112 6595l-77-27-78-6-43-34 15-77 28-59 78-7 77 46 10 20 23 77-33 67M3965 6735l-44-54-13-77 26-76-14-77 45-46 70 46-30 77 20 76 0 77-60 54M1097 6591l-46-63 46-28 14 28-14 63M2570 6550l-19-22 19-28 40 28-40 22M4120 6580l-62-52 62-66 60 66-60 52M4275 6640l-10-36-34-76 44-48 33 48-17 76-16 36M2027 6627l-78-22-2-1 2-1 78-24 13 25-13 23M2337 6628l-10-24 10-35 30 35-30 24M2590 6758l57-15 78-12 37-50-37-51-43-26 43-38 77 6 19 32 18 77 17 77M2901 6758l56-27 75-50 3-8 7 8 47 77M922 6758l20-26 21 26M1636 6758l3-1 6 1M1886 6758l63-3 7 3M2078 6758l27-16 39 16M3470 6758l30-27 39 27M3770 6758l40-17 36 17M4066 6758l54-40 78-23 46 63M4315 6758l38-68 35 68M4487 6758l21-30M864 1374l14 6-14 6M1022 1303l27 77-30 29-42-29 27-77M1431 1303l25 77-49 62-63-62 51-77M1562 1391l-23-11 23-17 18 17-18 11M1717 1411l-27-31 27-66 28 66-28 31M1949 1486l-15-29-62-48-26-29 26-23 77-28 31 51-16 77-15 29M2154 1303l-49 16-38-16M2502 1303l-10 19-77 20-68 38-10 6-11-6-66-77M2570 1405l-46-25 46-31 36 31-36 25M2802 1414l-77-32-4-2 4-4 77-69 41 73-41 34M2937 1303l-57 41-74-41M3231 1303l-41 48-52 29-26 14-4-14-73-44-58-33M3577 1303l-37 77-33 77 14 76-21 17-77 17-24-34-9-76 33-44 23-33-23-10-40-67M3915 1303l29 77-56 35-50 42 9 76-37 34-57-34-20-51-11-25-1-77 12-23 77-20 62-34M4043 1474l-20-17-13-77 33-9 11 9 3 77-14 17M4508 1538l-4-5-23-76-45-77 72-50M3035 1510l-47-53 47-51 69 51-69 53M4275 1555l-43-22-34-30-26-46 26-47 77-17 41 64-8 76-33 22M864 1497l78 16 25 20-25 22-78 18M2105 1551l-43-18 43-24 33 24-33 18M2260 1541l-8-8 8-5 4 5-4 8M2880 1535l-1-2 1 0 1 0-1 2M3965 1549l-28-16 28-22 22 22-22 16M4120 1539l-5-6 5-3 12 3-12 6M864 1681l8 6 16 77-24 73M2182 1719l-30-32 30-19 30 19-30 32M2337 1707l-28-20 28-19 27 19-27 20M3267 1687l0 0 0 0 1 0-1 0M3423 1703l-50-16 50-30 21 30-21 16M4198 1773l-78 38-34-47 34-34 78 20 7 14-7 9M1019 1945l-27-27 24-77 3-3 3 3 48 77-51 27M1794 1920l-77 14-22-16 5-77 17-67 10 67 67 74 4 3-4 2M2647 1929l-21-11 20-77 1-5 1 5 22 77-23 11M2802 1941l-19-23 15-77 4-8 7 8 52 77-59 23M3345 1928l-57-10 29-77 28-30 22 30-5 77-17 10M4508 1882l-42-41 42-54M1329 1953l-38-35 38-30 61 30-61 35M2027 1963l-73-45 73-56 68 56-68 45M2415 1995l-1-1-77-53-77-6-29-17 29-30 77 7 78 5 31 18-30 76-1 1M2957 1940l-68-22 68-26 61 26-61 22M3190 1935l-21-17 21-62 67 62-67 17M4043 1939l-78 11-77-3-78-27-77 25-35-27 35-45 77 42 78-28 77-16 78 27 37 20-37 21M4353 1945l-78 17-77 6-64-50 64-53 77-15 78 42 25 26-25 27M3112 2446l-42-67 24-77-59-48-78-4-43-25-10-77 29-77 24-20 26 20 12 77 40 41 77 22 69-63 9-4 20 4 55 77-75 26-49 51 18 77-47 67M3965 2208l-77-26-42-34 42-36 42-41 35-25 32 25-12 77-20 60M4430 2132l-37-61 37-22 30 22-30 61M864 2135l78 4 77-27 78 34 12 2 65 37 40-37 38-4 77-17 25 21-25 57-48 20-29 5-78 32-77-11-68-26-10-5-77-60-61 65-17 10M1717 2236l-78 2-11-13-66-58-32-19 32-13 77-13 47 26 31 40 41 37-41 11M2105 2172l-64-24 64-50 40 50-40 24M2337 2245l-77 42-25-62 25-38 40-39 37-26 78-5 40 31-40 60-32 17-46 20M2725 2165l-19-17 19-22 21 22-21 17M3423 2193l-34-45 34-14 16 14-16 45M3578 2156l-9-8 9-19 7 19-7 8M4275 2196l-77-6-37-42 37-23 77-6 37 29-37 48M2492 2244l-49-19 49-26 42 26-42 19M3500 2248l-64-23 64-36 36 36-36 23M3655 2246l-33-21 33-31 56 31-56 21M4120 2249l-31-24 31-38 43 38-43 24M4353 2243l-26-18 26-16 21 16-21 18M4508 2242l-30-17 30-30M4043 2415l-78 2-77-1-68-37 68-27 77-12 76-38 2-2 1 2 29 77-30 36M942 2379l-12 0 12-1 4 1-4 0M1174 2394l-77-2-45-13 45-23 77-27 21 50-21 15M1562 2464l-14-9-64-36-73 36-4 2-5-2-16-76 21-15 77-19 78 2 36 32-31 76-5 9M1949 2380l-2-1 2-3 3 3-3 1M2260 2382l-78 16-35-19 35-35 78 6 6 29-6 3M2492 2460l-4-5-22-76 26-25 78-15 77 25 29 15-29 18-77 25-72 33-6 5M3810 2489l-77-14-25-20-9-76 34-38 69 38 8 8 40 68-40 34M4275 2409l-77-10-20-20 20-11 77-21 41 32-41 30M4508 2380l-18-1 18-1M3655 2556l-77 22-78-24-72-22 63-77 9-6 14 6 64 25 77 16 31 36-31 24M4198 2563l-78-27-48-4 24-77 24-19 20 19 58 33 39 44-39 31M864 2526l78-13 77 3 56 16-56 13-77 2-78-10M2182 2563l-40-31 40-25 41 25-41 31M2802 2545l-77-10-78 9-67-12 67-14 78 8 77-11 22 17-22 13M3112 2554l-77-1-78-18-7-3 7-12 78-23 77-28 53 63-53 22M3267 2576l-67-44 67-43 50 43-50 44M3965 2560l-20-28 20-27 72 27-72 28M1407 2695l-24-9 24-3 8 3-8 9M2027 2717l-33-31 33-43 39 43-39 31M2492 2734l-77-48 77-35 69 35-69 48M2647 2776l-19-13-48-77 67-18 34 18-9 77-25 13M3423 2691l-78 0-22-5 22-5 78-1 10 6-10 5M3810 2705l-77-16-4-3 4-2 77-8 16 10-16 19M4198 2801l-61-38-7-77 68-26 77-14 50 40-50 33-51 44-26 38M4508 2762l-78-76 0 0 0 0 78-27M942 2770l-38-7 38-15 9 15-9 7M1639 2765l-77 9-22-11 22-14 77 12 4 2-4 2M2957 2780l-22-17 22-32 36 32-36 17M3267 2771l-62-8 62-50 19 50-19 8M3655 2766l-7-3 7-6 7 6-7 3M1174 2922l-10-6 10-5 6 5-6 6M3965 3007l-8-14 1-77 7-7 12 7 2 77-14 14M4198 2937l-63-21 63-21 13 21-13 21M2570 2994l-1-1 1 0 1 0-1 1M3500 2999l-4-6 4-5 5 5-5 6M3810 3001l-18-8 18-19 15 19-15 8M4043 3107l-49-37 49-49 38 49-38 37M2802 3162l-22-15 22-66 18 66-18 15M3112 3150l-5-3 5-7 4 7-4 3M3655 3151l-1-4 1-2 11 2-11 4M1019 3307l-4-6 4-2 4 2-4 6M1872 3309l-27-8 27-6 26 6-26 8M2337 3314l-14-13 14-6 11 6-11 13M3112 3306l-71-5 71-5 6 5-6 5M3423 3318l-78 13-78-6-15-24 15-14 78-8 78 9 46 13-46 17M3733 3345l-78-16-77-1-65-27 65-32 77-8 78 7 69 33-69 44M4508 3490l-44-36-3-77-31-29-77-39-78 18-77-19-64 69-14 10-77 16-30-26-11-76 41-19 77 7 78 2 77-6 78 8 77-25 78 2M864 3364l26 13 14 77-40 5M3035 3557l-69-26 9-77 60-31 15 31 1 77-16 26M3500 3561l-7-30 7-8 36 8-36 30M3810 3551l-32-20 32-31 49 31-49 20M1174 3617l-11-9 11-17 15 17-15 9M2570 3615l-8-7 8-9 4 9-4 7M3112 3661l-18-53 18-11 11 11-11 53M1562 3700l-7-15 7-7 24 7-24 15M2105 3716l-78-23-11-8 11-8 78-12 17 20-17 31M2415 3706l-31-21 31-10 28 10-28 21M2802 3689l-77 35-65-39 65-27 77 20 9 7-9 4M3035 3801l-78 24-28-63 28-51 32-26 46-27 61 27-31 77-30 39M3267 3734l-64-49 64-32 43 32-43 49M3578 3685l-3 0 3-1 0 1 0 0M3888 3732l-78-8-66-39 66-25 78-24 51 49-51 47M4120 3840l-77 12-20-14-22-76 36-77 6-3 77-12 63 15 15 18 77 17 30 42-30 70-77-48-76 54-2 2M4430 3696l-9-11 9-74 9 74-9 11M1872 3778l-20-16 20-11 12 11-12 16M1562 3932l-78 11-3-28 3-7 28-70 50-50 41 50-27 77-14 17M2105 3839l-1-1 1 0 1 0-1 1M2337 3938l-29-23 24-77 5-4 5 4 14 77-19 23M2802 3978l-18-63-17-77 35-2 10 2 32 77-42 63M3500 3846l-12-8 12-7 10 7-10 8M3655 3871l-16-33 16-51 37 51-37 33M1174 4020l-51-28-26-24-32-53 32-20 77 12 34 8-10 77-24 28M2027 3934l-78 13-34-32 34-26 78 5 45 21-45 19M2570 3935l-19-20 19-23 21 23-21 20M3423 3939l-78-13-41-11 41-12 78-24 26 36-26 24M3810 3957l-77-9-53-33 53-55 77 11 50 44-50 42M1872 3994l-3-2 3-3 3 3-3 2M2105 3999l-7-7 7-20 10 20-10 7M3423 4089l-30-20 30-24 41 24-41 20M4043 4168l-24-22 14-77 10-1 0 1 64 77-64 22M1717 4158l-78-9-2-3 2-2 78-24 24 26-24 12M2802 4229l-3-6-3-77 6-4 4 4 1 77-5 6M3267 4183l-46-37 46-24 30 24-30 37M3578 4183l-78 15-6-52 6-18 78-36 30 54-30 37M2337 4226l-4-3 4-4 5 4-5 3M3190 4377l0-1-8-77 2-76 6-12 8 12 0 76-8 77 0 1M3655 4225l-4-2 4-3 2 3-2 2M4120 4255l-32-32 32-69 29 69-29 32M4275 4247l-27-24 27-26 56 26-56 24M1252 4382l-8-6 8-2 4 2-4 6M1717 4400l-17-24 17-12 17 12-17 24M1949 4395l-26-19 26-21 31 21-31 19M2957 4454l-77 21-72-22 72-37 75-40 2-2 2 2 0 77-2 1M4508 4460l-78 9-23-16 23-21 50-56 28-26M864 4446l8 7-8 3M2105 4481l-78-8-24-20 24-37 78 20 42 17-42 28M2337 4472l-71-19 71-28 42 28-42 19M2725 4468l-78 9-37-24 37-25 78-3 68 28-68 15M3267 4488l-61-35 61-49 30 49-30 35M3888 4491l-78-12-17-26 17-19 78-28 64 47-64 38M4275 4458l-9-5 9-5 10 5-10 5M1794 4607l0 0 0-1 1 1-1 0M2880 4691l-69-7-9-35-1-42 1-2 78-10 15 12-6 77-9 7M4043 4611l-4-4 4-2 14 2-14 4M4430 4697l-12-13-26-77 38-34 66 34-57 77-9 13M3423 4684l-1 0 1-1 0 1 0 0M3500 4772l-9-12 9-5 11 5-11 12M1252 4870l-21-33 21-24 34 24-34 33M1407 4857l-32-20 32-32 19 32-19 20M1949 4855l-28-18 28-57 25 57-25 18M2105 4847l-12-10 12-16 10 16-10 10M3655 4864l-77-20-19-7 19-16 77 8 11 8-11 27M3810 4856l-31-19 31-18 28 18-28 19M4043 4871l-36-34 36-27 38 27-38 34M942 4918l-10-4 10-3 1 3-1 4M2725 4986l-27-72 27-38 29 38-29 72M3965 4916l-1-2 1-1 2 1-2 2M4508 4945l-24-31 24-47M1562 5046l-38-55 38-31 25 31-25 55M2802 5026l-63-35 63-13 11 13-11 35M3578 5008l-23-17 23-14 22 14-22 17M3733 5036l-5-45 5-29 3 29-3 45M4275 5014l-77 2-15-25 15-17 77-19 33 36-33 23M1329 5071l-8-3 8-5 28 5-28 3M2337 5087l-17-19 17-18 7 18-7 19M3345 5074l-9-6 9-15 13 15-13 6M3888 5082l-22-14 22-17 69 17-69 14M4508 5400l-62-25-16-16-77-11-16 27-62 17-77 14-32-31-46-59-77 54-22 5-56 15-25-15-37-77 30-77 31-76 1-31 1 31 36 76 41 27 77 37 78-24 77-3 78 24 77-9 78-34M942 5362l-37-64-4-77 41-5 8 5 30 77-38 64M2570 5333l-78 11-49-46 36-77 13-14 13 14 65 48 59 29-59 35M2725 5392l-19-17-34-77 2-77 51-15 77-4 26 19-26 72-3 5-17 77-57 17M3190 5340l-34-42-44-69-6-8 6-5 78-25 77 15 35 15-35 54-20 23-57 42M3733 5252l-8-31 8-7 7 7-7 31M1562 5395l-78-18-2-2-4-77 6-15 78-49 39 64-8 77-31 20M1794 5306l-7-8 7-8 10 8-10 8M1949 5404l-36-29 0-77 36-32 62 32 0 77-62 29M2260 5370l-78-48-39-24 39-65 78 46 31 19-31 72M3345 5332l-54-34 54-34 36 34-36 34M3578 5453l-3-1-1-77-19-77 23-16 77-36 72 52-72 57-74 20 0 77-3 1M864 5373l8 2-8 1M1174 5473l-39-21-38-46-30-31 30-30 77-4 38 34-10 77-28 21M2415 5393l-39-18 39-24 22 24-22 18M3035 5394l-78 7-37-26 37-39 78 8 36 31-36 19M3810 5396l-77-10-23-11 23-50 77 4 32 46-32 21M1097 5614l-27-8 27-14 22 14-22 8M2570 5619l-78-9-9-4 9-4 78-8 17 12-17 13M2957 5619l-17-13 17-8 59 8-59 13M3423 5652l-21-46 21-15 21 15-21 46M3578 5611l-6-5 6-3 6 3-6 5M4430 5706l-2-24 2-9 6 9-6 24M1252 5798l-46-39 46-40 27 40-27 39M4120 5784l-77 36-9-61 9-7 77-19 22 26-22 25M4275 5780l-16-21 16-11 13 11-13 21M1407 5851l-53-15 53-16 20 16-20 15M1639 5944l-77-4-41-27 32-77 9-8 8 8 69 42 30 35-30 31M1717 5859l-28-23 28-27 17 27-17 23M2725 5856l-17-20 17-22 23 22-23 20M3733 5949l-78 3-74-39 34-77 40-24 25 24 53 52 49 25-49 36M3965 5870l-32-34 32-28 74 28-74 34M4198 5855l-3-19 3-2 3 2-3 19M4430 5845l-5-9 5-31 30 31-30 9M1097 5929l-78 34-30-50 30-18 78-11 24 29-24 16M2027 5942l-78-27-2-2 2-8 78-68 38 76-38 29M2415 5924l-17-11 17-18 20 18-20 11M3112 5961l-77-40-78 27-64-35 64-46 78 37 77-28 39 37-39 48M3423 5921l-78 31-36-39 36-59 78 48 12 11-12 8M4120 5935l-47-22 47-24 63 24-63 22M4508 5930l-26-17 26-54M4430 6089l-38-22 7-77 31-39 29 39-6 77-23 22M942 6089l-36-22 36-25 34 25-34 22M1794 6072l-15-5 15-9 33 9-33 5M1949 6081l-41-14 41-18 12 18-12 14M3345 6071l-4-4 4-5 2 5-2 4M3810 6077l-11-10 11-8 7 8-7 10M4275 6078l-13-11 13-7 17 7-17 11M3267 6295l-34-75 34-26 19 26-19 75M3423 6236l-17-16 17-17 28 17-28 16M3888 6228l-5-8 5-17 28 17-28 8M4275 6281l-21-61 21-22 31 22-31 61M4508 6259l-59-39 59-40M1717 6306l-5-9 5-3 6 3-6 9M1872 6333l-40-36 40-48 34 48-34 36M3423 6376l-3-2 3-2 1 2-1 2M3733 6388l-78-9-1-5 1-2 78-1 5 3-5 14M4508 6530l-22-2-31-77-8-77 61-25M942 6474l-22-23 22-19 32 19-32 23M2027 6466l-19-15 19-19 11 19-11 15M2957 6537l-12-9 1-77 11-24 78-7 54 31-54 60-29 17-49 9M3965 6491l-14-40 14-15 23 15-23 40M3112 6551l-54-23 54-46 12 46-12 23M3655 6545l-50-17 50-35 17 35-17 17M4120 6558l-35-30 35-38 34 38-34 30M3965 6704l-18-23-14-77 32-58 34 58-9 77-25 23M2802 6746l-18-65 18-54 17 54-17 65M939 6758l3-3 2 3M2641 6758l6-2 55 2M2964 6758l71-16 11 16M4096 6758l24-18 78-13 23 31M4343 6758l10-17 9 17M1019 1387l-10-7 10-20 7 20-7 7M1407 1417l-37-37 37-50 29 50-29 37M1717 1380l0 0 0-1 0 1 0 0M1949 1395l-44-15 44-7 4 7-4 15M2442 1303l-27 11-78-7-3-4M2570 1384l-7-4 7-5 5 5-5 4M2802 1383l-8-3 8-8 5 8-5 3M2887 1303l-7 5-9-5M3048 1303l-13 6-10-6M3548 1303l-48 61-77-35-16-26M3888 1381l-78 50-30-51 30-16 78 11 2 5-2 1M4508 1440l-31-60 31-22M3035 1493l-32-36 32-35 47 35-47 36M4275 1539l-11-6-66-58-10-18 10-18 77-5 15 23-6 76-9 6M864 1512l78 20 2 1-2 2-78 22M2105 1537l-9-4 9-4 6 4-6 4M3810 1544l-18-11 18-46 12 46-12 11M2182 1691l-4-4 4-2 4 2-4 4M2337 1688l-1-1 1-1 1 1-1 1M864 1752l3 12-3 9M4120 1790l-19-26 19-19 46 19-46 26M1329 1928l-12-10 12-10 19 10-19 10M2027 1945l-43-27 43-33 40 33-40 27M2337 1921l-38-3 38-4 46 4-46 3M2957 1925l-23-7 23-9 21 9-21 7M3733 1928l-14-10 14-18 32 18-32 10M3965 1934l-77-10-17-6 17-6 77-17 51 23-51 16M4353 1918l-78 32-77-3-37-29 37-31 77-19 78 49 1 1-1 0M3035 2234l-78 4-21-13 4-77 12-77 5-4 6 4 7 77 65 66 26 11-26 9M3965 2141l-8-70 8-6 8 6-8 70M4430 2096l-14-25 14-9 12 9-12 25M1019 2191l-53-43 53-21 48 21-48 43M2415 2170l-78 17-10-39 10-7 78-4 14 11-14 22M3888 2158l-13-10 13-11 72 11-72 10M4275 2166l-77-9-8-9 8-5 77-6 14 11-14 18M1097 2227l-7-2 7-8 10 8-10 2M2260 2244l-8-19 8-12 43 12-43 19M3500 2230l-13-5 13-7 7 7-7 5M3655 2227l-3-2 3-3 6 3-6 2M4120 2231l-7-6 7-9 10 9-10 6M1562 2381l-78-2-2 0 2-1 78 0 1 1-1 2M2182 2383l-9-4 9-9 23 9-23 4M2647 2379l-77 19-78-14-2-5 2-2 78-16 77 17 1 1-1 0M3112 2401l-13-22 13-50 16 50-16 22M3733 2418l-10-39 10-11 19 11-19 39M4043 2381l-78 14-77-10-12-6 12-5 77-12 78 12 2 5-2 2M4275 2388l-37-9 37-10 12 10-12 9M3810 2464l-38-9 38-18 11 18-11 9M942 2536l-22-4 22-4 38 4-38 4M2182 2547l-19-15 19-12 20 12-20 15M3035 2535l-10-3 10-4 72 4-72 3M3267 2562l-46-30 46-29 35 29-35 30M3655 2536l-77 24-78-22-19-6 19-25 78-6 77 26 5 5-5 4M4198 2549l-45-17 45-24 21 24-21 17M2027 2701l-16-15 16-21 19 21-19 15M2492 2701l-24-15 24-11 21 11-21 15M2647 2726l-10-40 10-3 5 3-5 40M4198 2776l-21-13-5-77 26-10 77-11 27 21-27 17-68 60-9 13M2957 2766l-4-3 4-6 7 6-7 3M4043 3089l-25-19 25-25 19 25-19 19M3345 3310l-52-9 52-7 38 7-38 9M3733 3324l-78-14-77 2-27-11 27-13 77 0 78-4 36 17-36 23M4043 3365l-13-64 13-6 40 6-40 64M4430 3324l-46-23 46-17 54 17-54 23M4508 3472l-22-18 0-77 22-51M3810 3533l-2-2 2-2 4 2-4 2M2725 3694l-15-9 15-7 21 7-21 9M3267 3709l-31-24 31-16 21 16-21 24M3888 3716l-78-20-19-11 19-7 78-25 34 32-34 31M4120 3808l-67-46 67-75 67 75-67 46M4275 3792l-59-30 59-18 13 18-13 30M1562 3893l-29-55 29-29 24 29-24 55M1097 3917l-2-2 2 0 3 0-3 2M2027 3917l-78 8-10-10 10-8 78 7 4 1-4 2M3423 3920l-31-5 31-7 5 7-5 5M3810 3933l-77-10-12-8 12-12 77-7 22 19-22 18M3423 4073l-6-4 6-5 8 5-8 4M3267 4151l-6-5 6-3 4 3-4 5M3578 4155l-27-9 27-14 8 14-8 9M4120 4230l-7-7 7-16 7 16-7 7M4275 4227l-4-4 4-5 10 5-10 4M4508 4385l-2-9 2-2M2027 4458l-6-5 6-9 39 9-39 5M2337 4458l-17-5 17-7 10 7-10 5M2725 4454l-78 8-13-9 13-9 78 8 2 1-2 1M2880 4461l-27-8 27-13 29 13-29 8M3267 4472l-34-19 34-27 17 27-17 19M3888 4474l-66-21 66-27 36 27-36 21M4430 4654l-20-47 20-17 35 17-35 47M1252 4838l-1-1 1 0 0 0 0 1M1949 4841l-5-4 5-12 6 12-6 4M4043 4842l-5-5 5-3 5 3-5 5M2725 4939l-10-25 10-13 10 13-10 25M4508 4918l-3-4 3-6M1562 5008l-12-17 12-10 8 10-8 17M4275 4993l-24-2 24-4 4 4-4 2M3190 5307l-8-9-26-77 34-11 77 11 2 0-2 3-64 74-13 9M4043 5350l-78 14-43-66 30-77 13-32 15 32 63 41 66 36-66 52M942 5319l-12-21 12-30 12 30-12 21M1562 5377l-8-2-26-77 34-23 14 23-11 77-3 2M1949 5390l-18-15 11-77 7-6 12 6 19 77-31 15M2260 5308l-78-9 0-1 0-1 78-2 4 3-4 10M2570 5313l-78 15-32-30 32-63 78 51 24 12-24 15M2725 5314l-6-16 6-15 7 15-7 16M3345 5300l-3-2 3-2 2 2-2 2M3655 5339l-65-41 65-37 52 37-52 41M4275 5378l-77 4-8-7-45-77 53-18 77 2 48 16-38 77-10 3M4508 5381l-15-6-63-62-31-15 31-6 78-29M1097 5375l-1 0 1 0 1 0-1 0M3035 5377l-78 9-16-11 16-17 78 13 4 4-4 2M1174 5459l-13-7 13-34 9 34-9 7M1252 5774l-18-15 18-15 10 15-10 15M3733 5925l-78 6-34-18 22-77 12-7 7 7 71 68 16 9-16 12M3965 5838l-2-2 2-2 5 2-5 2M1639 5918l-72-5 72-6 5 6-5 5M2027 5926l-36-13 36-35 17 35-17 13M2957 5934l-37-21 37-27 50 27-50 21M3112 5939l-46-26 46-20 21 20-21 26M3345 5925l-12-12 12-19 33 19-33 12M4430 6069l-5-2-2-77 7-9 7 9-4 77-3 2M942 6071l-7-4 7-5 6 5-6 4M4508 6236l-24-16 24-16M1872 6318l-24-21 24-29 20 29-20 21M942 6452l-1-1 1-1 1 1-1 1M4508 6476l-17-25 17-53M4120 6535l-8-7 8-9 8 9-8 7M3965 6645l-8-41 8-14 8 14-8 41M1407 1391l-12-11 12-15 9 15-9 11M3518 1303l-18 23-48-23M3035 1476l-18-19 18-19 25 19-25 19M864 1527l26 6-26 8M4120 1769l-3-5 3-4 10 4-10 5M2027 1926l-13-8 13-10 12 10-12 8M4275 1938l-77-12-10-8 10-9 77-23 50 32-50 20M1019 2163l-18-15 18-7 16 7-16 15M2957 2225l0 0 0-1 2 1-2 0M3267 2549l-25-17 25-16 19 16-19 17M3578 2542l-35-10 35-10 30 10-30 10M4198 2535l-8-3 8-4 3 4-3 3M4275 2688l-21-2 21-3 4 3-4 2M4043 3071l-1-1 1-1 0 1 0 1M3733 3302l-9-1 9-2 2 2-2 1M4430 3301l0 0 0-1 1 1-1 0M3888 3700l-48-15 48-16 16 16-16 15M4120 3777l-22-15 22-25 22 25-22 15M1562 3854l-8-16 8-8 6 8-6 16M3267 4457l-6-4 6-5 4 5-4 4M3888 4458l-14-5 14-6 8 6-8 5M4430 4610l-1-3 1-1 3 1-3 3M2492 5313l-15-15 15-30 59 30-59 15M3655 5324l-40-26 40-23 33 23-33 26M4043 5330l-78 4-23-36 23-61 78 39 40 22-40 32M4508 5330l-31-32 31-11M2957 5919l-11-6 11-8 16 8-16 6M3112 5917l-7-4 7-4 4 4-4 4M1872 6304l-8-7 8-10 7 10-7 7M3035 1460l-3-3 3-3 4 3-4 3M4275 1926l-42-8 42-14 22 14-22 8M3267 2535l-3-3 3-2 3 2-3 3M3655 5308l-15-10 15-9 13 9-13 10M4043 5310l-78-5-4-7 4-11 78 3 15 8-15 12"/>
<g transform="translate(633.5 130.3) scale(7.59792 7.57639)" shape-rendering="crispEdges">
<path fill="#ff7a00" d="M0 0h1v1h-1zM5 0h1v1h-1zM7 0h1v1h-1zM9 0h1v1h-1zM11 0h6v1h-6zM18 0h1v1h-1zM20 0h1v1h-1zM24 0h3v1h-3zM30 0h2v1h-2zM33 0h1v1h-1zM39 0h1v1h-1zM0 1h2v1h-2zM5 1h2v1h-2zM8 1h1v1h-1zM13 1h1v1h-1zM17 1h2v1h-2zM20 1h1v1h-1zM25 1h1v1h-1zM27 1h2v1h-2zM32 1h1v1h-1zM35 1h1v1h-1zM37 1h1v1h-1zM43 1h1v1h-1zM46 1h1v1h-1zM1 2h1v1h-1zM3 2h1v1h-1zM6 2h1v1h-1zM11 2h2v1h-2zM20 2h1v1h-1zM23 2h1v1h-1zM26 2h1v1h-1zM28 2h1v1h-1zM32 2h1v1h-1zM37 2h1v1h-1zM42 2h2v1h-2zM47 2h1v1h-1zM2 3h1v1h-1zM12 3h1v1h-1zM16 3h1v1h-1zM18 3h2v1h-2zM23 3h2v1h-2zM26 3h1v1h-1zM34 3h1v1h-1zM36 3h2v1h-2zM44 3h1v1h-1zM46 3h1v1h-1zM2 4h1v1h-1zM5 4h1v1h-1zM7 4h1v1h-1zM11 4h1v1h-1zM13 4h1v1h-1zM17 4h1v1h-1zM19 4h1v1h-1zM26 4h2v1h-2zM31 4h2v1h-2zM47 4h1v1h-1zM0 5h2v1h-2zM5 5h1v1h-1zM7 5h1v1h-1zM11 5h2v1h-2zM16 5h1v1h-1zM18 5h1v1h-1zM20 5h1v1h-1zM23 5h1v1h-1zM30 5h1v1h-1zM33 5h1v1h-1zM35 5h1v1h-1zM45 5h1v1h-1zM47 5h1v1h-1zM0 6h1v1h-1zM0 7h3v1h-3zM4 7h1v1h-1zM6 7h1v1h-1zM9 7h1v1h-1zM15 7h1v1h-1zM20 7h1v1h-1zM24 7h1v1h-1zM40 7h2v1h-2zM4 8h1v1h-1zM6 8h1v1h-1zM13 8h1v1h-1zM15 8h2v1h-2zM23 8h2v1h-2zM27 8h4v1h-4zM34 8h1v1h-1zM38 8h2v1h-2zM41 8h1v1h-1zM44 8h1v1h-1zM46 8h1v1h-1zM5 9h2v1h-2zM21 9h1v1h-1zM31 9h1v1h-1zM33 9h1v1h-1zM40 9h1v1h-1zM46 9h1v1h-1zM1 10h1v1h-1zM6 10h1v1h-1zM11 10h1v1h-1zM14 10h1v1h-1zM20 10h1v1h-1zM24 10h1v1h-1zM32 10h1v1h-1zM40 10h1v1h-1zM46 10h1v1h-1zM1 11h2v1h-2zM10 11h1v1h-1zM15 11h2v1h-2zM21 11h2v1h-2zM24 11h1v1h-1zM27 11h1v1h-1zM29 11h1v1h-1zM33 11h1v1h-1zM40 11h1v1h-1zM45 11h1v1h-1zM1 12h1v1h-1zM3 12h2v1h-2zM6 12h1v1h-1zM8 12h1v1h-1zM11 12h3v1h-3zM16 12h1v1h-1zM22 12h1v1h-1zM25 12h1v1h-1zM27 12h1v1h-1zM29 12h1v1h-1zM35 12h2v1h-2zM41 12h2v1h-2zM47 12h1v1h-1zM2 13h1v1h-1zM5 13h1v1h-1zM7 13h2v1h-2zM12 13h1v1h-1zM19 13h1v1h-1zM22 13h1v1h-1zM28 13h1v1h-1zM32 13h1v1h-1zM39 13h1v1h-1zM46 13h1v1h-1zM3 14h1v1h-1zM5 14h1v1h-1zM7 14h2v1h-2zM10 14h1v1h-1zM12 14h1v1h-1zM14 14h1v1h-1zM22 14h1v1h-1zM27 14h1v1h-1zM29 14h1v1h-1zM31 14h1v1h-1zM39 14h1v1h-1zM44 14h1v1h-1zM46 14h1v1h-1zM0 15h1v1h-1zM2 15h1v1h-1zM5 15h1v1h-1zM10 15h2v1h-2zM13 15h5v1h-5zM21 15h2v1h-2zM26 15h1v1h-1zM33 15h2v1h-2zM39 15h1v1h-1zM46 15h1v1h-1zM2 16h2v1h-2zM12 16h1v1h-1zM14 16h3v1h-3zM18 16h1v1h-1zM21 16h1v1h-1zM23 16h1v1h-1zM31 16h1v1h-1zM33 16h1v1h-1zM37 16h1v1h-1zM41 16h1v1h-1zM47 16h1v1h-1zM0 18h1v1h-1zM9 18h1v1h-1zM12 18h1v1h-1zM18 18h1v1h-1zM28 18h1v1h-1zM31 18h1v1h-1zM33 18h1v1h-1zM38 18h1v1h-1zM43 18h1v1h-1zM45 18h1v1h-1zM0 19h1v1h-1zM5 19h1v1h-1zM10 19h1v1h-1zM15 19h2v1h-2zM20 19h1v1h-1zM37 19h1v1h-1zM43 19h1v1h-1zM16 20h1v1h-1zM38 20h1v1h-1zM1 21h1v1h-1zM4 21h1v1h-1zM8 21h1v1h-1zM10 21h1v1h-1zM17 21h2v1h-2zM30 21h1v1h-1zM34 21h2v1h-2zM40 21h2v1h-2zM2 22h1v1h-1zM8 22h1v1h-1zM11 22h1v1h-1zM15 22h1v1h-1zM25 22h1v1h-1zM36 22h1v1h-1zM38 22h1v1h-1zM45 22h1v1h-1zM0 23h2v1h-2zM4 23h3v1h-3zM11 23h1v1h-1zM14 23h2v1h-2zM17 23h1v1h-1zM19 23h1v1h-1zM21 23h1v1h-1zM26 23h1v1h-1zM28 23h1v1h-1zM31 23h1v1h-1zM38 23h1v1h-1zM42 23h1v1h-1zM46 23h2v1h-2zM0 24h2v1h-2zM3 24h1v1h-1zM12 24h1v1h-1zM22 24h1v1h-1zM29 24h1v1h-1zM32 24h1v1h-1zM38 24h1v1h-1zM45 24h1v1h-1zM0 25h1v1h-1zM0 26h2v1h-2zM7 26h4v1h-4zM12 26h1v1h-1zM20 26h1v1h-1zM22 26h1v1h-1zM24 26h4v1h-4zM29 26h1v1h-1zM39 26h1v1h-1zM1 27h1v1h-1zM7 27h1v1h-1zM10 27h1v1h-1zM20 27h1v1h-1zM32 27h1v1h-1zM44 27h1v1h-1zM1 28h1v1h-1zM9 28h1v1h-1zM5 29h1v1h-1zM18 29h1v1h-1zM23 29h2v1h-2zM28 29h1v1h-1zM39 29h1v1h-1zM3 30h3v1h-3zM12 30h3v1h-3zM17 30h1v1h-1zM19 30h1v1h-1zM28 30h2v1h-2zM31 30h2v1h-2zM34 30h1v1h-1zM32 31h1v1h-1zM18 32h1v1h-1zM41 32h1v1h-1zM18 33h2v1h-2zM40 33h1v1h-1zM1 34h1v1h-1zM3 34h2v1h-2zM8 34h1v1h-1zM18 34h2v1h-2zM21 34h1v1h-1zM33 34h1v1h-1zM17 35h1v1h-1zM31 35h1v1h-1zM0 36h1v1h-1zM39 36h1v1h-1zM11 37h1v1h-1zM27 40h1v1h-1zM17 41h1v1h-1zM25 41h1v1h-1zM31 41h1v1h-1zM43 41h1v1h-1zM16 48h1v1h-1zM24 48h1v1h-1zM4 49h1v1h-1zM9 49h1v1h-1z"/>
<path fill="#ffbc00" d="M1 0h1v1h-1zM3 0h2v1h-2zM6 0h1v1h-1zM8 0h1v1h-1zM19 0h1v1h-1zM34 0h2v1h-2zM38 0h1v1h-1zM41 0h1v1h-1zM44 0h1v1h-1zM9 1h1v1h-1zM15 1h1v1h-1zM19 1h1v1h-1zM29 1h1v1h-1zM33 1h1v1h-1zM36 1h1v1h-1zM41 1h2v1h-2zM47 1h1v1h-1zM5 2h1v1h-1zM8 2h3v1h-3zM15 2h1v1h-1zM22 2h1v1h-1zM29 2h1v1h-1zM33 2h1v1h-1zM35 2h1v1h-1zM38 2h1v1h-1zM40 2h1v1h-1zM45 2h1v1h-1zM3 3h3v1h-3zM7 3h2v1h-2zM11 3h1v1h-1zM20 3h1v1h-1zM22 3h1v1h-1zM41 3h1v1h-1zM45 3h1v1h-1zM47 3h1v1h-1zM3 4h1v1h-1zM6 4h1v1h-1zM8 4h1v1h-1zM10 4h1v1h-1zM12 4h1v1h-1zM18 4h1v1h-1zM33 4h1v1h-1zM36 4h1v1h-1zM39 4h1v1h-1zM6 5h1v1h-1zM8 5h3v1h-3zM19 5h1v1h-1zM21 5h2v1h-2zM25 5h1v1h-1zM27 5h1v1h-1zM31 5h2v1h-2zM44 5h1v1h-1zM3 7h1v1h-1zM5 7h1v1h-1zM8 7h1v1h-1zM10 7h2v1h-2zM14 7h1v1h-1zM22 7h1v1h-1zM27 7h2v1h-2zM30 7h1v1h-1zM33 7h1v1h-1zM38 7h1v1h-1zM44 7h1v1h-1zM1 8h1v1h-1zM7 8h1v1h-1zM21 8h1v1h-1zM26 8h1v1h-1zM33 8h1v1h-1zM35 8h1v1h-1zM45 8h1v1h-1zM47 8h1v1h-1zM1 9h2v1h-2zM4 9h1v1h-1zM7 9h1v1h-1zM11 9h1v1h-1zM15 9h3v1h-3zM19 9h2v1h-2zM25 9h1v1h-1zM27 9h4v1h-4zM32 9h1v1h-1zM2 10h1v1h-1zM4 10h2v1h-2zM7 10h1v1h-1zM9 10h1v1h-1zM15 10h2v1h-2zM21 10h1v1h-1zM35 10h1v1h-1zM39 10h1v1h-1zM44 10h2v1h-2zM3 11h3v1h-3zM7 11h1v1h-1zM9 11h1v1h-1zM12 11h1v1h-1zM18 11h2v1h-2zM23 11h1v1h-1zM25 11h2v1h-2zM30 11h1v1h-1zM32 11h1v1h-1zM38 11h1v1h-1zM44 11h1v1h-1zM0 12h1v1h-1zM2 12h1v1h-1zM9 12h2v1h-2zM20 12h1v1h-1zM23 12h1v1h-1zM31 12h1v1h-1zM33 12h1v1h-1zM37 12h1v1h-1zM39 12h2v1h-2zM44 12h1v1h-1zM4 13h1v1h-1zM6 13h1v1h-1zM13 13h2v1h-2zM17 13h1v1h-1zM26 13h1v1h-1zM30 13h1v1h-1zM36 13h1v1h-1zM40 13h1v1h-1zM42 13h1v1h-1zM45 13h1v1h-1zM1 14h1v1h-1zM6 14h1v1h-1zM9 14h1v1h-1zM13 14h1v1h-1zM16 14h1v1h-1zM18 14h1v1h-1zM21 14h1v1h-1zM26 14h1v1h-1zM28 14h1v1h-1zM30 14h1v1h-1zM33 14h1v1h-1zM35 14h1v1h-1zM45 14h1v1h-1zM4 15h1v1h-1zM7 15h1v1h-1zM12 15h1v1h-1zM18 15h1v1h-1zM24 15h1v1h-1zM27 15h1v1h-1zM29 15h1v1h-1zM31 15h2v1h-2zM36 15h1v1h-1zM38 15h1v1h-1zM41 15h1v1h-1zM43 15h1v1h-1zM45 15h1v1h-1zM47 15h1v1h-1zM5 16h2v1h-2zM9 16h1v1h-1zM11 16h1v1h-1zM13 16h1v1h-1zM22 16h1v1h-1zM24 16h3v1h-3zM30 16h1v1h-1zM34 16h1v1h-1zM40 16h1v1h-1zM43 16h1v1h-1zM45 16h1v1h-1zM25 17h1v1h-1zM45 17h1v1h-1zM1 18h1v1h-1zM8 18h1v1h-1zM10 18h1v1h-1zM13 18h1v1h-1zM16 18h1v1h-1zM19 18h1v1h-1zM22 18h1v1h-1zM25 18h2v1h-2zM30 18h1v1h-1zM32 18h1v1h-1zM34 18h2v1h-2zM41 18h1v1h-1zM44 18h1v1h-1zM1 19h1v1h-1zM3 19h1v1h-1zM8 19h2v1h-2zM11 19h3v1h-3zM17 19h1v1h-1zM21 19h1v1h-1zM23 19h1v1h-1zM30 19h2v1h-2zM33 19h1v1h-1zM36 19h1v1h-1zM38 19h1v1h-1zM41 19h1v1h-1zM44 19h1v1h-1zM0 20h1v1h-1zM2 20h2v1h-2zM8 20h1v1h-1zM10 20h1v1h-1zM15 20h1v1h-1zM18 20h2v1h-2zM23 20h1v1h-1zM25 20h1v1h-1zM27 20h2v1h-2zM30 20h1v1h-1zM42 20h1v1h-1zM2 21h1v1h-1zM5 21h1v1h-1zM7 21h1v1h-1zM11 21h2v1h-2zM16 21h1v1h-1zM24 21h1v1h-1zM26 21h2v1h-2zM29 21h1v1h-1zM31 21h1v1h-1zM37 21h1v1h-1zM44 21h1v1h-1zM46 21h1v1h-1zM0 22h1v1h-1zM3 22h1v1h-1zM16 22h1v1h-1zM21 22h1v1h-1zM24 22h1v1h-1zM28 22h1v1h-1zM31 22h1v1h-1zM35 22h1v1h-1zM40 22h2v1h-2zM3 23h1v1h-1zM8 23h2v1h-2zM18 23h1v1h-1zM23 23h1v1h-1zM27 23h1v1h-1zM36 23h2v1h-2zM40 23h1v1h-1zM43 23h1v1h-1zM2 24h1v1h-1zM6 24h1v1h-1zM13 24h3v1h-3zM20 24h2v1h-2zM23 24h1v1h-1zM33 24h1v1h-1zM35 24h1v1h-1zM44 24h1v1h-1zM46 24h1v1h-1zM2 26h1v1h-1zM19 26h1v1h-1zM23 26h1v1h-1zM32 26h1v1h-1zM34 26h3v1h-3zM42 26h1v1h-1zM44 26h1v1h-1zM47 26h1v1h-1zM25 27h2v1h-2zM31 27h1v1h-1zM39 27h1v1h-1zM0 28h1v1h-1zM27 28h1v1h-1zM36 28h1v1h-1zM38 28h1v1h-1zM46 28h1v1h-1zM6 29h1v1h-1zM30 29h1v1h-1zM35 29h1v1h-1zM40 29h1v1h-1zM2 30h1v1h-1zM15 30h2v1h-2zM30 30h1v1h-1zM40 30h1v1h-1zM28 31h1v1h-1zM45 31h1v1h-1zM3 32h1v1h-1zM19 32h1v1h-1zM28 32h1v1h-1zM4 33h1v1h-1zM11 33h1v1h-1zM17 33h1v1h-1zM28 33h1v1h-1zM42 33h1v1h-1zM45 33h1v1h-1zM7 34h1v1h-1zM13 34h1v1h-1zM24 34h1v1h-1zM26 34h1v1h-1zM22 35h1v1h-1zM3 36h1v1h-1zM13 37h1v1h-1zM23 37h1v1h-1zM37 37h1v1h-1zM36 38h1v1h-1zM39 38h1v1h-1zM3 39h1v1h-1zM18 41h1v1h-1zM30 41h1v1h-1zM26 43h2v1h-2zM17 44h1v1h-1zM14 46h1v1h-1zM41 46h1v1h-1zM9 48h1v1h-1zM25 48h1v1h-1zM35 48h1v1h-1zM7 49h1v1h-1zM26 49h1v1h-1zM30 49h1v1h-1zM40 52h1v1h-1zM34 58h1v1h-1zM9 59h1v1h-1zM11 59h1v1h-1zM7 64h1v1h-1z"/>
<path fill="#fff400" d="M2 0h1v1h-1zM27 0h1v1h-1zM32 0h1v1h-1zM37 0h1v1h-1zM42 0h2v1h-2zM45 0h1v1h-1zM4 1h1v1h-1zM23 1h1v1h-1zM26 1h1v1h-1zM31 1h1v1h-1zM39 1h1v1h-1zM44 1h1v1h-1zM16 2h1v1h-1zM31 2h1v1h-1zM41 2h1v1h-1zM44 2h1v1h-1zM6 3h1v1h-1zM9 3h2v1h-2zM14 3h2v1h-2zM21 3h1v1h-1zM25 3h1v1h-1zM27 3h2v1h-2zM31 3h2v1h-2zM35 3h1v1h-1zM40 3h1v1h-1zM42 3h2v1h-2zM0 4h1v1h-1zM9 4h1v1h-1zM15 4h2v1h-2zM21 4h2v1h-2zM24 4h1v1h-1zM29 4h1v1h-1zM34 4h1v1h-1zM37 4h1v1h-1zM40 4h1v1h-1zM42 4h1v1h-1zM45 4h2v1h-2zM3 5h2v1h-2zM26 5h1v1h-1zM37 5h2v1h-2zM40 5h1v1h-1zM42 5h1v1h-1zM46 5h1v1h-1zM1 6h4v1h-4zM8 6h1v1h-1zM14 6h3v1h-3zM22 6h1v1h-1zM32 6h1v1h-1zM34 6h1v1h-1zM42 6h1v1h-1zM45 6h1v1h-1zM47 6h1v1h-1zM12 7h2v1h-2zM17 7h3v1h-3zM21 7h1v1h-1zM23 7h1v1h-1zM26 7h1v1h-1zM29 7h1v1h-1zM32 7h1v1h-1zM35 7h3v1h-3zM42 7h2v1h-2zM45 7h3v1h-3zM5 8h1v1h-1zM12 8h1v1h-1zM22 8h1v1h-1zM40 8h1v1h-1zM0 9h1v1h-1zM3 9h1v1h-1zM10 9h1v1h-1zM12 9h1v1h-1zM14 9h1v1h-1zM34 9h2v1h-2zM41 9h1v1h-1zM43 9h3v1h-3zM47 9h1v1h-1zM0 10h1v1h-1zM3 10h1v1h-1zM8 10h1v1h-1zM12 10h1v1h-1zM17 10h3v1h-3zM22 10h2v1h-2zM25 10h1v1h-1zM27 10h1v1h-1zM30 10h2v1h-2zM33 10h2v1h-2zM36 10h1v1h-1zM38 10h1v1h-1zM42 10h1v1h-1zM8 11h1v1h-1zM13 11h1v1h-1zM31 11h1v1h-1zM34 11h4v1h-4zM39 11h1v1h-1zM42 11h2v1h-2zM46 11h1v1h-1zM17 12h1v1h-1zM24 12h1v1h-1zM38 12h1v1h-1zM46 12h1v1h-1zM0 13h1v1h-1zM3 13h1v1h-1zM9 13h3v1h-3zM18 13h1v1h-1zM20 13h2v1h-2zM27 13h1v1h-1zM31 13h1v1h-1zM34 13h2v1h-2zM44 13h1v1h-1zM47 13h1v1h-1zM4 14h1v1h-1zM15 14h1v1h-1zM20 14h1v1h-1zM24 14h1v1h-1zM32 14h1v1h-1zM34 14h1v1h-1zM36 14h1v1h-1zM38 14h1v1h-1zM40 14h2v1h-2zM43 14h1v1h-1zM47 14h1v1h-1zM1 15h1v1h-1zM6 15h1v1h-1zM19 15h2v1h-2zM25 15h1v1h-1zM28 15h1v1h-1zM35 15h1v1h-1zM37 15h1v1h-1zM40 15h1v1h-1zM42 15h1v1h-1zM44 15h1v1h-1zM4 16h1v1h-1zM7 16h2v1h-2zM10 16h1v1h-1zM19 16h1v1h-1zM39 16h1v1h-1zM1 17h1v1h-1zM3 17h1v1h-1zM16 17h1v1h-1zM20 17h2v1h-2zM23 17h1v1h-1zM32 17h1v1h-1zM39 17h1v1h-1zM47 17h1v1h-1zM5 18h2v1h-2zM14 18h1v1h-1zM17 18h1v1h-1zM20 18h1v1h-1zM24 18h1v1h-1zM27 18h1v1h-1zM29 18h1v1h-1zM36 18h2v1h-2zM40 18h1v1h-1zM47 18h1v1h-1zM2 19h1v1h-1zM4 19h1v1h-1zM6 19h2v1h-2zM14 19h1v1h-1zM18 19h1v1h-1zM22 19h1v1h-1zM24 19h2v1h-2zM28 19h1v1h-1zM32 19h1v1h-1zM34 19h1v1h-1zM45 19h1v1h-1zM47 19h1v1h-1zM1 20h1v1h-1zM7 20h1v1h-1zM9 20h1v1h-1zM12 20h1v1h-1zM14 20h1v1h-1zM17 20h1v1h-1zM20 20h1v1h-1zM22 20h1v1h-1zM26 20h1v1h-1zM29 20h1v1h-1zM34 20h1v1h-1zM37 20h1v1h-1zM39 20h1v1h-1zM45 20h1v1h-1zM3 21h1v1h-1zM6 21h1v1h-1zM9 21h1v1h-1zM14 21h2v1h-2zM23 21h1v1h-1zM25 21h1v1h-1zM28 21h1v1h-1zM32 21h1v1h-1zM36 21h1v1h-1zM38 21h1v1h-1zM42 21h1v1h-1zM45 21h1v1h-1zM47 21h1v1h-1zM6 22h1v1h-1zM9 22h1v1h-1zM12 22h3v1h-3zM20 22h1v1h-1zM23 22h1v1h-1zM27 22h1v1h-1zM30 22h1v1h-1zM32 22h1v1h-1zM34 22h1v1h-1zM37 22h1v1h-1zM39 22h1v1h-1zM42 22h1v1h-1zM44 22h1v1h-1zM12 23h2v1h-2zM20 23h1v1h-1zM22 23h1v1h-1zM29 23h1v1h-1zM34 23h2v1h-2zM45 23h1v1h-1zM7 24h1v1h-1zM10 24h2v1h-2zM17 24h3v1h-3zM24 24h1v1h-1zM27 24h1v1h-1zM34 24h1v1h-1zM37 24h1v1h-1zM40 24h3v1h-3zM47 24h1v1h-1zM2 25h1v1h-1zM4 25h1v1h-1zM15 25h1v1h-1zM18 25h1v1h-1zM28 25h1v1h-1zM41 25h1v1h-1zM3 26h2v1h-2zM6 26h1v1h-1zM14 26h3v1h-3zM31 26h1v1h-1zM38 26h1v1h-1zM41 26h1v1h-1zM43 26h1v1h-1zM45 26h2v1h-2zM3 27h2v1h-2zM6 27h1v1h-1zM8 27h1v1h-1zM16 27h1v1h-1zM18 27h1v1h-1zM21 27h1v1h-1zM29 27h2v1h-2zM38 27h1v1h-1zM2 28h1v1h-1zM5 28h2v1h-2zM8 28h1v1h-1zM11 28h1v1h-1zM18 28h1v1h-1zM20 28h1v1h-1zM22 28h1v1h-1zM30 28h1v1h-1zM32 28h1v1h-1zM34 28h1v1h-1zM37 28h1v1h-1zM47 28h1v1h-1zM0 29h1v1h-1zM2 29h1v1h-1zM4 29h1v1h-1zM13 29h4v1h-4zM19 29h1v1h-1zM21 29h2v1h-2zM33 29h2v1h-2zM36 29h2v1h-2zM45 29h1v1h-1zM1 30h1v1h-1zM6 30h2v1h-2zM9 30h1v1h-1zM11 30h1v1h-1zM18 30h1v1h-1zM21 30h1v1h-1zM23 30h1v1h-1zM26 30h1v1h-1zM35 30h1v1h-1zM37 30h1v1h-1zM39 30h1v1h-1zM45 30h1v1h-1zM47 30h1v1h-1z"/>
<path fill="#befb41" d="M10 0h1v1h-1zM47 0h1v1h-1zM40 1h1v1h-1zM45 1h1v1h-1zM29 3h1v1h-1zM33 3h1v1h-1zM38 3h1v1h-1zM1 4h1v1h-1zM14 4h1v1h-1zM20 4h1v1h-1zM25 4h1v1h-1zM28 4h1v1h-1zM35 4h1v1h-1zM41 4h1v1h-1zM43 4h2v1h-2zM28 5h1v1h-1zM34 5h1v1h-1zM36 5h1v1h-1zM39 5h1v1h-1zM41 5h1v1h-1zM43 5h1v1h-1zM6 6h1v1h-1zM10 6h1v1h-1zM13 6h1v1h-1zM17 6h1v1h-1zM21 6h1v1h-1zM23 6h1v1h-1zM25 6h4v1h-4zM30 6h1v1h-1zM35 6h1v1h-1zM37 6h1v1h-1zM40 6h1v1h-1zM43 6h1v1h-1zM31 7h1v1h-1zM34 7h1v1h-1zM39 7h1v1h-1zM8 9h2v1h-2zM13 9h1v1h-1zM18 9h1v1h-1zM24 9h1v1h-1zM26 9h1v1h-1zM37 9h3v1h-3zM10 10h1v1h-1zM26 10h1v1h-1zM28 10h1v1h-1zM43 10h1v1h-1zM15 12h1v1h-1zM45 12h1v1h-1zM15 13h2v1h-2zM25 13h1v1h-1zM37 13h1v1h-1zM41 13h1v1h-1zM43 13h1v1h-1zM25 14h1v1h-1zM42 14h1v1h-1zM3 15h1v1h-1zM20 16h1v1h-1zM0 17h1v1h-1zM2 17h1v1h-1zM4 17h2v1h-2zM9 17h2v1h-2zM12 17h1v1h-1zM14 17h2v1h-2zM17 17h2v1h-2zM22 17h1v1h-1zM28 17h3v1h-3zM33 17h2v1h-2zM37 17h2v1h-2zM40 17h1v1h-1zM43 17h2v1h-2zM46 17h1v1h-1zM2 18h1v1h-1zM4 18h1v1h-1zM39 18h1v1h-1zM46 18h1v1h-1zM19 19h1v1h-1zM29 19h1v1h-1zM35 19h1v1h-1zM39 19h1v1h-1zM42 19h1v1h-1zM46 19h1v1h-1zM5 20h1v1h-1zM21 20h1v1h-1zM32 20h1v1h-1zM35 20h2v1h-2zM40 20h1v1h-1zM43 20h2v1h-2zM46 20h2v1h-2zM0 21h1v1h-1zM20 21h2v1h-2zM33 21h1v1h-1zM39 21h1v1h-1zM43 21h1v1h-1zM5 22h1v1h-1zM17 22h3v1h-3zM26 22h1v1h-1zM29 22h1v1h-1zM33 22h1v1h-1zM43 22h1v1h-1zM47 22h1v1h-1zM39 23h1v1h-1zM9 24h1v1h-1zM26 24h1v1h-1zM28 24h1v1h-1zM30 24h2v1h-2zM43 24h1v1h-1zM1 25h1v1h-1zM3 25h1v1h-1zM5 25h1v1h-1zM9 25h3v1h-3zM14 25h1v1h-1zM16 25h2v1h-2zM19 25h1v1h-1zM21 25h1v1h-1zM24 25h2v1h-2zM29 25h2v1h-2zM33 25h1v1h-1zM35 25h3v1h-3zM39 25h2v1h-2zM42 25h1v1h-1zM44 25h1v1h-1zM46 25h1v1h-1zM5 26h1v1h-1zM11 26h1v1h-1zM13 26h1v1h-1zM17 26h2v1h-2zM21 26h1v1h-1zM30 26h1v1h-1zM2 27h1v1h-1zM5 27h1v1h-1zM9 27h1v1h-1zM11 27h2v1h-2zM15 27h1v1h-1zM19 27h1v1h-1zM22 27h3v1h-3zM27 27h2v1h-2zM33 27h2v1h-2zM36 27h1v1h-1zM40 27h4v1h-4zM45 27h1v1h-1zM47 27h1v1h-1zM3 28h2v1h-2zM7 28h1v1h-1zM10 28h1v1h-1zM12 28h1v1h-1zM15 28h2v1h-2zM19 28h1v1h-1zM21 28h1v1h-1zM23 28h2v1h-2zM28 28h2v1h-2zM31 28h1v1h-1zM33 28h1v1h-1zM35 28h1v1h-1zM39 28h2v1h-2zM42 28h1v1h-1zM44 28h1v1h-1zM1 29h1v1h-1zM7 29h6v1h-6zM17 29h1v1h-1zM20 29h1v1h-1zM25 29h3v1h-3zM31 29h2v1h-2zM42 29h3v1h-3zM46 29h1v1h-1zM0 30h1v1h-1zM8 30h1v1h-1zM10 30h1v1h-1zM24 30h2v1h-2zM27 30h1v1h-1zM36 30h1v1h-1zM38 30h1v1h-1zM41 30h2v1h-2zM44 30h1v1h-1zM46 30h1v1h-1z"/>
<path fill="#ff3300" d="M17 0h1v1h-1zM21 0h1v1h-1zM28 0h1v1h-1zM2 1h1v1h-1zM7 1h1v1h-1zM10 1h1v1h-1zM12 1h1v1h-1zM21 1h1v1h-1zM24 1h1v1h-1zM34 1h1v1h-1zM38 1h1v1h-1zM2 2h1v1h-1zM4 2h1v1h-1zM7 2h1v1h-1zM13 2h1v1h-1zM18 2h2v1h-2zM21 2h1v1h-1zM25 2h1v1h-1zM34 2h1v1h-1zM36 2h1v1h-1zM46 2h1v1h-1zM1 3h1v1h-1zM13 3h1v1h-1zM17 3h1v1h-1zM4 4h1v1h-1zM2 5h1v1h-1zM14 5h1v1h-1zM7 7h1v1h-1zM16 7h1v1h-1zM25 7h1v1h-1zM3 8h1v1h-1zM11 8h1v1h-1zM14 8h1v1h-1zM20 8h1v1h-1zM31 8h1v1h-1zM36 8h1v1h-1zM43 8h1v1h-1zM22 9h1v1h-1zM17 11h1v1h-1zM41 11h1v1h-1zM5 12h1v1h-1zM7 12h1v1h-1zM19 12h1v1h-1zM21 12h1v1h-1zM26 12h1v1h-1zM28 12h1v1h-1zM30 12h1v1h-1zM34 12h1v1h-1zM43 12h1v1h-1zM1 13h1v1h-1zM23 13h1v1h-1zM29 13h1v1h-1zM33 13h1v1h-1zM2 14h1v1h-1zM11 14h1v1h-1zM23 14h1v1h-1zM37 14h1v1h-1zM8 15h1v1h-1zM23 15h1v1h-1zM30 15h1v1h-1zM0 16h1v1h-1zM29 16h1v1h-1zM32 16h1v1h-1zM36 16h1v1h-1zM38 16h1v1h-1zM42 16h1v1h-1zM46 16h1v1h-1zM3 18h1v1h-1zM7 18h1v1h-1zM21 18h1v1h-1zM4 20h1v1h-1zM6 20h1v1h-1zM24 20h1v1h-1zM19 21h1v1h-1zM22 21h1v1h-1zM1 22h1v1h-1zM7 22h1v1h-1zM10 22h1v1h-1zM22 22h1v1h-1zM2 23h1v1h-1zM7 23h1v1h-1zM16 23h1v1h-1zM24 23h2v1h-2zM30 23h1v1h-1zM33 23h1v1h-1zM44 23h1v1h-1zM4 24h2v1h-2zM8 24h1v1h-1zM16 24h1v1h-1zM25 24h1v1h-1zM36 24h1v1h-1zM39 24h1v1h-1zM33 26h1v1h-1zM37 26h1v1h-1zM40 26h1v1h-1zM38 29h1v1h-1zM22 30h1v1h-1zM12 34h1v1h-1zM14 34h1v1h-1zM38 41h1v1h-1z"/>
<path fill="#e90000" d="M22 0h1v1h-1zM29 0h1v1h-1zM3 1h1v1h-1zM11 1h1v1h-1zM14 1h1v1h-1zM16 1h1v1h-1zM22 1h1v1h-1zM30 1h1v1h-1zM17 2h1v1h-1zM24 2h1v1h-1zM27 2h1v1h-1zM30 2h1v1h-1zM39 2h1v1h-1zM0 3h1v1h-1zM30 3h1v1h-1zM30 4h1v1h-1zM13 5h1v1h-1zM15 5h1v1h-1zM17 5h1v1h-1zM0 8h1v1h-1zM2 8h1v1h-1zM8 8h3v1h-3zM17 8h3v1h-3zM25 8h1v1h-1zM32 8h1v1h-1zM42 8h1v1h-1zM0 11h1v1h-1zM6 11h1v1h-1zM11 11h1v1h-1zM14 11h1v1h-1zM20 11h1v1h-1zM28 11h1v1h-1zM18 12h1v1h-1zM32 12h1v1h-1zM0 14h1v1h-1zM17 14h1v1h-1zM19 14h1v1h-1zM9 15h1v1h-1zM1 16h1v1h-1zM17 16h1v1h-1zM27 16h2v1h-2zM35 16h1v1h-1zM44 16h1v1h-1zM11 18h1v1h-1zM15 18h1v1h-1zM23 18h1v1h-1zM42 18h1v1h-1zM27 19h1v1h-1zM13 20h1v1h-1zM13 21h1v1h-1zM10 23h1v1h-1zM32 23h1v1h-1zM41 23h1v1h-1zM28 26h1v1h-1zM0 27h1v1h-1zM9 33h1v1h-1z"/>
<path fill="#80f87d" d="M23 0h1v1h-1zM36 0h1v1h-1zM40 0h1v1h-1zM46 0h1v1h-1zM39 3h1v1h-1zM23 4h1v1h-1zM38 4h1v1h-1zM24 5h1v1h-1zM29 5h1v1h-1zM5 6h1v1h-1zM7 6h1v1h-1zM9 6h1v1h-1zM12 6h1v1h-1zM24 6h1v1h-1zM29 6h1v1h-1zM31 6h1v1h-1zM33 6h1v1h-1zM36 6h1v1h-1zM38 6h1v1h-1zM41 6h1v1h-1zM44 6h1v1h-1zM46 6h1v1h-1zM23 9h1v1h-1zM36 9h1v1h-1zM42 9h1v1h-1zM13 10h1v1h-1zM29 10h1v1h-1zM37 10h1v1h-1zM41 10h1v1h-1zM47 10h1v1h-1zM14 12h1v1h-1zM24 13h1v1h-1zM6 17h1v1h-1zM8 17h1v1h-1zM11 17h1v1h-1zM19 17h1v1h-1zM26 17h1v1h-1zM36 17h1v1h-1zM42 17h1v1h-1zM11 20h1v1h-1zM4 22h1v1h-1zM7 25h1v1h-1zM43 25h1v1h-1zM0 32h1v1h-1zM14 32h1v1h-1zM24 32h1v1h-1zM21 33h1v1h-1zM25 33h1v1h-1z"/>
<path fill="#a90000" d="M0 2h1v1h-1zM14 2h1v1h-1zM37 8h1v1h-1z"/>
<path fill="#32fbc8" d="M11 6h1v1h-1zM18 6h3v1h-3zM39 6h1v1h-1zM47 11h1v1h-1zM38 13h1v1h-1zM7 17h1v1h-1zM13 17h1v1h-1zM24 17h1v1h-1zM27 17h1v1h-1zM31 17h1v1h-1zM35 17h1v1h-1zM41 17h1v1h-1zM26 19h1v1h-1zM40 19h1v1h-1zM31 20h1v1h-1zM33 20h1v1h-1zM41 20h1v1h-1zM46 22h1v1h-1zM6 25h1v1h-1zM8 25h1v1h-1zM12 25h2v1h-2zM20 25h1v1h-1zM22 25h2v1h-2zM26 25h2v1h-2zM31 25h1v1h-1zM34 25h1v1h-1zM45 25h1v1h-1zM47 25h1v1h-1zM13 27h2v1h-2zM17 27h1v1h-1zM35 27h1v1h-1zM37 27h1v1h-1zM46 27h1v1h-1zM13 28h2v1h-2zM17 28h1v1h-1zM25 28h2v1h-2zM41 28h1v1h-1zM43 28h1v1h-1zM45 28h1v1h-1zM3 29h1v1h-1zM29 29h1v1h-1zM41 29h1v1h-1zM47 29h1v1h-1zM20 30h1v1h-1zM33 30h1v1h-1zM43 30h1v1h-1z"/>
<path fill="#00f5ff" d="M32 25h1v1h-1zM38 25h1v1h-1z"/>
<path fill="#bbfb44" d="M0 31h1v1h-1zM2 31h3v1h-3zM7 31h1v1h-1zM9 31h2v1h-2zM14 31h1v1h-1zM16 31h2v1h-2zM19 31h3v1h-3zM26 31h1v1h-1zM33 31h1v1h-1zM35 31h2v1h-2zM38 31h1v1h-1zM40 31h1v1h-1zM42 31h2v1h-2zM46 31h1v1h-1z"/>
<path fill="#31fbc9" d="M1 31h1v1h-1zM8 31h1v1h-1zM12 31h1v1h-1zM15 31h1v1h-1zM24 31h2v1h-2zM27 31h1v1h-1zM41 31h1v1h-1z"/>
<path fill="#fff600" d="M5 31h2v1h-2zM11 31h1v1h-1zM13 31h1v1h-1zM18 31h1v1h-1zM22 31h1v1h-1zM29 31h3v1h-3zM34 31h1v1h-1zM37 31h1v1h-1zM39 31h1v1h-1zM44 31h1v1h-1zM47 31h1v1h-1z"/>
<path fill="#7ff87d" d="M23 31h1v1h-1z"/>
<path fill="#b8fb47" d="M1 32h2v1h-2zM5 32h3v1h-3zM9 32h1v1h-1zM13 32h1v1h-1zM17 32h1v1h-1zM21 32h1v1h-1zM23 32h1v1h-1zM27 32h1v1h-1zM29 32h1v1h-1zM31 32h2v1h-2zM37 32h2v1h-2zM40 32h1v1h-1zM42 32h2v1h-2z"/>
<path fill="#fff700" d="M4 32h1v1h-1zM22 32h1v1h-1zM33 32h1v1h-1zM44 32h1v1h-1z"/>
<path fill="#00f0ff" d="M8 32h1v1h-1zM12 32h1v1h-1zM20 32h1v1h-1zM30 32h1v1h-1zM47 32h1v1h-1z"/>
<path fill="#30fcca" d="M10 32h2v1h-2zM15 32h2v1h-2zM25 32h2v1h-2zM34 32h3v1h-3zM39 32h1v1h-1zM45 32h2v1h-2z"/>
<path fill="#b5fa4a" d="M0 33h1v1h-1zM7 33h1v1h-1zM10 33h1v1h-1zM12 33h3v1h-3zM23 33h2v1h-2zM26 33h2v1h-2zM29 33h1v1h-1zM31 33h1v1h-1zM33 33h1v1h-1zM35 33h1v1h-1zM39 33h1v1h-1zM43 33h2v1h-2zM46 33h2v1h-2z"/>
<path fill="#fff800" d="M1 33h2v1h-2zM5 33h2v1h-2zM8 33h1v1h-1zM16 33h1v1h-1zM22 33h1v1h-1zM30 33h1v1h-1zM32 33h1v1h-1zM34 33h1v1h-1zM36 33h2v1h-2zM41 33h1v1h-1z"/>
<path fill="#2efccc" d="M3 33h1v1h-1zM15 33h1v1h-1zM20 33h1v1h-1zM38 33h1v1h-1z"/>
<path fill="#b2fa4d" d="M0 34h1v1h-1zM6 34h1v1h-1zM9 34h1v1h-1zM11 34h1v1h-1zM16 34h1v1h-1zM20 34h1v1h-1zM23 34h1v1h-1zM27 34h4v1h-4zM34 34h1v1h-1zM36 34h2v1h-2zM39 34h2v1h-2zM45 34h2v1h-2z"/>
<path fill="#fff900" d="M2 34h1v1h-1zM5 34h1v1h-1zM10 34h1v1h-1zM15 34h1v1h-1zM17 34h1v1h-1zM22 34h1v1h-1zM25 34h1v1h-1zM31 34h2v1h-2zM35 34h1v1h-1zM38 34h1v1h-1zM41 34h2v1h-2zM47 34h1v1h-1z"/>
<path fill="#2dfccd" d="M43 34h2v1h-2z"/>
<path fill="#fffa00" d="M0 35h1v1h-1zM3 35h1v1h-1zM6 35h1v1h-1zM9 35h1v1h-1zM12 35h1v1h-1zM16 35h1v1h-1zM25 35h1v1h-1z"/>
<path fill="#affa50" d="M1 35h2v1h-2zM4 35h2v1h-2zM7 35h2v1h-2zM10 35h2v1h-2zM13 35h3v1h-3zM18 35h1v1h-1zM20 35h2v1h-2zM23 35h2v1h-2zM26 35h1v1h-1zM28 35h2v1h-2zM32 35h2v1h-2zM36 35h2v1h-2zM39 35h1v1h-1zM42 35h1v1h-1zM45 35h3v1h-3z"/>
<path fill="#2cfcce" d="M19 35h1v1h-1zM27 35h1v1h-1zM30 35h1v1h-1zM35 35h1v1h-1zM38 35h1v1h-1zM41 35h1v1h-1zM43 35h2v1h-2z"/>
<path fill="#00e9ff" d="M34 35h1v1h-1zM40 35h1v1h-1z"/>
<path fill="#adfa52" d="M1 36h1v1h-1zM4 36h1v1h-1zM6 36h1v1h-1zM8 36h1v1h-1zM10 36h1v1h-1zM17 36h1v1h-1zM21 36h1v1h-1zM23 36h1v1h-1zM27 36h2v1h-2zM31 36h1v1h-1zM33 36h1v1h-1zM36 36h1v1h-1zM38 36h1v1h-1zM41 36h1v1h-1zM43 36h1v1h-1z"/>
<path fill="#fffb00" d="M2 36h1v1h-1z"/>
<path fill="#2afcd0" d="M5 36h1v1h-1zM7 36h1v1h-1zM9 36h1v1h-1zM11 36h2v1h-2zM14 36h1v1h-1zM16 36h1v1h-1zM18 36h1v1h-1zM20 36h1v1h-1zM22 36h1v1h-1zM26 36h1v1h-1zM30 36h1v1h-1zM35 36h1v1h-1zM37 36h1v1h-1zM40 36h1v1h-1zM42 36h1v1h-1zM45 36h3v1h-3z"/>
<path fill="#00e7ff" d="M13 36h1v1h-1zM15 36h1v1h-1zM24 36h2v1h-2zM29 36h1v1h-1zM32 36h1v1h-1z"/>
<path fill="#0096ff" d="M19 36h1v1h-1zM34 36h1v1h-1zM44 36h1v1h-1z"/>
<path fill="#fffd00" d="M0 37h1v1h-1zM4 37h1v1h-1zM8 37h2v1h-2zM18 37h1v1h-1zM21 37h1v1h-1zM25 37h1v1h-1zM41 37h1v1h-1z"/>
<path fill="#aafa55" d="M1 37h3v1h-3zM5 37h3v1h-3zM10 37h1v1h-1zM12 37h1v1h-1zM14 37h3v1h-3zM19 37h1v1h-1zM22 37h1v1h-1zM24 37h1v1h-1zM26 37h1v1h-1zM31 37h1v1h-1zM33 37h1v1h-1zM36 37h1v1h-1zM40 37h1v1h-1zM44 37h1v1h-1z"/>
<path fill="#29fdd1" d="M17 37h1v1h-1zM20 37h1v1h-1zM27 37h3v1h-3zM32 37h1v1h-1zM34 37h2v1h-2zM38 37h2v1h-2zM42 37h2v1h-2zM45 37h3v1h-3z"/>
<path fill="#0094ff" d="M30 37h1v1h-1z"/>
<path fill="#a7fa58" d="M0 38h1v1h-1zM3 38h1v1h-1zM8 38h1v1h-1zM13 38h1v1h-1zM15 38h1v1h-1zM21 38h2v1h-2zM25 38h4v1h-4zM31 38h1v1h-1zM34 38h1v1h-1zM37 38h1v1h-1zM41 38h1v1h-1zM44 38h1v1h-1zM47 38h1v1h-1z"/>
<path fill="#28fdd2" d="M1 38h2v1h-2zM4 38h4v1h-4zM9 38h4v1h-4zM17 38h1v1h-1zM20 38h1v1h-1zM23 38h2v1h-2zM29 38h2v1h-2zM32 38h1v1h-1zM35 38h1v1h-1zM38 38h1v1h-1zM40 38h1v1h-1zM42 38h2v1h-2zM45 38h1v1h-1z"/>
<path fill="#fffe00" d="M14 38h1v1h-1zM16 38h1v1h-1zM18 38h2v1h-2zM33 38h1v1h-1zM46 38h1v1h-1z"/>
<path fill="#27fdd3" d="M0 39h1v1h-1zM4 39h1v1h-1zM7 39h1v1h-1zM10 39h4v1h-4zM15 39h1v1h-1zM17 39h1v1h-1zM19 39h1v1h-1zM22 39h1v1h-1zM25 39h1v1h-1zM28 39h1v1h-1zM36 39h1v1h-1zM38 39h1v1h-1zM40 39h1v1h-1zM42 39h1v1h-1zM45 39h1v1h-1z"/>
<path fill="#a4f95a" d="M1 39h1v1h-1zM8 39h2v1h-2zM18 39h1v1h-1zM20 39h1v1h-1zM24 39h1v1h-1zM27 39h1v1h-1zM29 39h2v1h-2zM32 39h1v1h-1zM39 39h1v1h-1zM41 39h1v1h-1z"/>
<path fill="#00e0ff" d="M2 39h1v1h-1zM5 39h1v1h-1zM21 39h1v1h-1zM23 39h1v1h-1zM31 39h1v1h-1zM33 39h1v1h-1zM35 39h1v1h-1zM43 39h1v1h-1zM46 39h2v1h-2z"/>
<path fill="#0091ff" d="M6 39h1v1h-1zM16 39h1v1h-1zM34 39h1v1h-1zM37 39h1v1h-1zM44 39h1v1h-1z"/>
<path fill="#ffff00" d="M14 39h1v1h-1zM26 39h1v1h-1z"/>
<path fill="#fdff02" d="M0 40h1v1h-1zM4 40h1v1h-1zM6 40h1v1h-1zM14 40h1v1h-1zM24 40h1v1h-1zM41 40h1v1h-1z"/>
<path fill="#26fed4" d="M1 40h1v1h-1zM10 40h2v1h-2zM13 40h1v1h-1zM19 40h1v1h-1zM22 40h1v1h-1zM25 40h1v1h-1zM29 40h1v1h-1zM33 40h1v1h-1zM35 40h1v1h-1zM38 40h1v1h-1zM40 40h1v1h-1zM42 40h1v1h-1zM44 40h1v1h-1zM47 40h1v1h-1z"/>
<path fill="#a2f95d" d="M2 40h2v1h-2zM5 40h1v1h-1zM7 40h3v1h-3zM15 40h4v1h-4zM20 40h2v1h-2zM23 40h1v1h-1zM26 40h1v1h-1zM28 40h1v1h-1zM30 40h3v1h-3zM34 40h1v1h-1zM36 40h2v1h-2zM39 40h1v1h-1zM43 40h1v1h-1zM46 40h1v1h-1z"/>
<path fill="#00ddff" d="M12 40h1v1h-1zM45 40h1v1h-1z"/>
<path fill="#9ff95f" d="M0 41h1v1h-1zM2 41h4v1h-4zM7 41h3v1h-3zM19 41h1v1h-1zM21 41h2v1h-2zM24 41h1v1h-1zM26 41h3v1h-3zM32 41h1v1h-1zM34 41h4v1h-4zM40 41h1v1h-1zM42 41h1v1h-1zM44 41h1v1h-1z"/>
<path fill="#00dbff" d="M1 41h1v1h-1z"/>
<path fill="#24fed6" d="M6 41h1v1h-1zM14 41h1v1h-1zM45 41h2v1h-2z"/>
<path fill="#fcff03" d="M10 41h4v1h-4zM15 41h2v1h-2zM20 41h1v1h-1zM23 41h1v1h-1zM29 41h1v1h-1zM33 41h1v1h-1zM39 41h1v1h-1zM41 41h1v1h-1zM47 41h1v1h-1z"/>
<path fill="#008cff" d="M0 42h1v1h-1zM16 42h1v1h-1zM22 42h1v1h-1zM33 42h1v1h-1zM41 42h1v1h-1zM45 42h1v1h-1zM0 44h1v1h-1zM32 46h1v1h-1zM3 47h1v1h-1zM14 47h1v1h-1zM35 47h1v1h-1zM45 47h1v1h-1zM0 50h1v1h-1zM2 50h1v1h-1zM7 50h3v1h-3zM11 50h1v1h-1zM15 50h1v1h-1zM21 50h1v1h-1zM27 50h1v1h-1zM31 50h1v1h-1zM36 50h1v1h-1zM44 50h2v1h-2zM15 51h1v1h-1zM33 51h1v1h-1zM36 51h1v1h-1zM21 54h1v1h-1zM26 54h1v1h-1zM44 54h1v1h-1zM2 55h2v1h-2zM6 55h1v1h-1zM9 55h1v1h-1zM14 55h5v1h-5zM20 55h1v1h-1zM22 55h2v1h-2zM27 55h1v1h-1zM30 55h2v1h-2zM34 55h2v1h-2zM37 55h2v1h-2zM40 55h1v1h-1zM45 55h1v1h-1zM47 55h1v1h-1zM38 56h1v1h-1zM41 56h1v1h-1zM1 57h1v1h-1zM4 57h1v1h-1zM6 57h1v1h-1zM8 57h1v1h-1zM23 57h1v1h-1zM30 57h1v1h-1zM32 57h1v1h-1zM38 57h1v1h-1zM41 57h1v1h-1zM45 57h1v1h-1zM26 58h1v1h-1zM30 58h1v1h-1zM26 59h1v1h-1zM21 60h1v1h-1zM4 61h1v1h-1zM13 61h2v1h-2zM21 61h1v1h-1zM23 61h1v1h-1zM28 61h1v1h-1zM40 61h1v1h-1zM43 61h2v1h-2zM7 62h1v1h-1zM17 62h1v1h-1zM33 62h1v1h-1zM44 62h1v1h-1zM7 63h2v1h-2zM19 63h1v1h-1zM25 63h1v1h-1zM34 63h1v1h-1zM41 63h1v1h-1zM46 63h1v1h-1zM0 64h1v1h-1zM39 64h1v1h-1zM41 64h1v1h-1zM4 65h1v1h-1zM18 65h1v1h-1zM23 65h1v1h-1zM25 65h1v1h-1zM32 65h1v1h-1zM38 65h1v1h-1zM1 66h1v1h-1zM4 66h1v1h-1zM6 66h1v1h-1zM12 66h1v1h-1zM18 66h1v1h-1zM22 66h1v1h-1zM26 66h1v1h-1zM35 66h1v1h-1zM38 66h2v1h-2zM45 66h1v1h-1zM14 67h1v1h-1zM22 67h1v1h-1zM32 67h1v1h-1zM39 67h1v1h-1zM42 67h1v1h-1zM33 68h1v1h-1zM47 68h1v1h-1zM1 69h1v1h-1zM7 69h1v1h-1zM11 69h2v1h-2zM17 69h1v1h-1zM21 69h1v1h-1zM31 69h1v1h-1zM36 69h1v1h-1zM41 69h1v1h-1zM7 70h1v1h-1zM27 70h1v1h-1zM34 70h1v1h-1zM12 71h1v1h-1zM19 71h1v1h-1zM24 71h1v1h-1zM32 71h1v1h-1zM40 71h1v1h-1zM46 71h1v1h-1z"/>
<path fill="#23fed7" d="M1 42h2v1h-2zM4 42h2v1h-2zM8 42h1v1h-1zM10 42h2v1h-2zM13 42h3v1h-3zM19 42h3v1h-3zM23 42h1v1h-1zM25 42h2v1h-2zM29 42h1v1h-1zM31 42h1v1h-1zM36 42h2v1h-2zM39 42h1v1h-1zM43 42h1v1h-1zM46 42h1v1h-1zM0 43h1v1h-1zM2 43h2v1h-2zM6 43h6v1h-6zM13 43h2v1h-2zM19 43h1v1h-1zM28 43h1v1h-1zM30 43h1v1h-1zM33 43h1v1h-1zM35 43h1v1h-1zM39 43h2v1h-2zM43 43h3v1h-3zM1 44h2v1h-2zM4 44h2v1h-2zM11 44h2v1h-2zM15 44h2v1h-2zM20 44h1v1h-1zM22 44h2v1h-2zM26 44h1v1h-1zM28 44h4v1h-4zM33 44h4v1h-4zM38 44h1v1h-1zM41 44h1v1h-1zM44 44h3v1h-3zM3 45h1v1h-1zM6 45h1v1h-1zM8 45h1v1h-1zM10 45h7v1h-7zM18 45h1v1h-1zM21 45h2v1h-2zM24 45h2v1h-2zM27 45h2v1h-2zM30 45h2v1h-2zM33 45h1v1h-1zM35 45h1v1h-1zM37 45h2v1h-2zM40 45h2v1h-2zM43 45h2v1h-2zM47 45h1v1h-1zM0 46h2v1h-2zM3 46h2v1h-2zM6 46h1v1h-1zM11 46h1v1h-1zM15 46h1v1h-1zM17 46h1v1h-1zM20 46h4v1h-4zM28 46h1v1h-1zM31 46h1v1h-1zM33 46h3v1h-3zM38 46h3v1h-3zM42 46h2v1h-2zM46 46h1v1h-1zM0 47h3v1h-3zM4 47h3v1h-3zM8 47h1v1h-1zM10 47h1v1h-1zM12 47h1v1h-1zM15 47h2v1h-2zM18 47h3v1h-3zM22 47h2v1h-2zM26 47h3v1h-3zM30 47h1v1h-1zM33 47h2v1h-2zM36 47h1v1h-1zM38 47h1v1h-1zM40 47h1v1h-1zM42 47h1v1h-1zM47 47h1v1h-1zM0 48h1v1h-1zM2 48h2v1h-2zM5 48h3v1h-3zM11 48h2v1h-2zM14 48h1v1h-1zM19 48h4v1h-4zM27 48h2v1h-2zM31 48h3v1h-3zM36 48h1v1h-1zM38 48h2v1h-2zM42 48h1v1h-1zM46 48h2v1h-2zM27 49h2v1h-2zM34 49h2v1h-2zM38 49h2v1h-2zM42 49h1v1h-1zM45 49h2v1h-2zM6 50h1v1h-1zM17 50h1v1h-1zM19 50h2v1h-2zM24 50h1v1h-1zM29 50h1v1h-1zM32 50h1v1h-1zM35 50h1v1h-1zM38 50h2v1h-2zM43 50h1v1h-1zM47 50h1v1h-1zM0 51h1v1h-1zM3 51h1v1h-1zM5 51h1v1h-1zM7 51h4v1h-4zM12 51h2v1h-2zM17 51h1v1h-1zM19 51h7v1h-7zM28 51h2v1h-2zM32 51h1v1h-1zM34 51h2v1h-2zM37 51h2v1h-2zM40 51h1v1h-1zM43 51h4v1h-4zM3 52h1v1h-1zM5 52h2v1h-2zM8 52h1v1h-1zM11 52h1v1h-1zM13 52h2v1h-2zM18 52h3v1h-3zM22 52h2v1h-2zM26 52h1v1h-1zM29 52h4v1h-4zM34 52h2v1h-2zM37 52h2v1h-2zM42 52h1v1h-1zM0 53h1v1h-1zM2 53h1v1h-1zM4 53h1v1h-1zM6 53h1v1h-1zM10 53h1v1h-1zM12 53h1v1h-1zM15 53h2v1h-2zM19 53h1v1h-1zM21 53h1v1h-1zM23 53h1v1h-1zM26 53h1v1h-1zM28 53h2v1h-2zM31 53h1v1h-1zM33 53h1v1h-1zM35 53h3v1h-3zM39 53h2v1h-2zM42 53h1v1h-1zM45 53h2v1h-2zM0 54h3v1h-3zM4 54h4v1h-4zM9 54h1v1h-1zM13 54h1v1h-1zM16 54h4v1h-4zM23 54h3v1h-3zM28 54h1v1h-1zM32 54h6v1h-6zM39 54h2v1h-2zM43 54h1v1h-1zM45 54h3v1h-3zM0 55h1v1h-1zM8 55h1v1h-1zM43 55h1v1h-1zM0 56h2v1h-2zM3 56h3v1h-3zM7 56h1v1h-1zM9 56h5v1h-5zM15 56h5v1h-5zM21 56h1v1h-1zM24 56h1v1h-1zM26 56h1v1h-1zM28 56h2v1h-2zM31 56h1v1h-1zM33 56h3v1h-3zM40 56h1v1h-1zM45 56h1v1h-1zM47 56h1v1h-1zM0 57h1v1h-1zM3 57h1v1h-1zM10 57h3v1h-3zM14 57h1v1h-1zM17 57h2v1h-2zM20 57h1v1h-1zM22 57h1v1h-1zM24 57h2v1h-2zM27 57h3v1h-3zM33 57h2v1h-2zM36 57h1v1h-1zM47 57h1v1h-1zM1 58h1v1h-1zM3 58h1v1h-1zM8 58h1v1h-1zM10 58h2v1h-2zM13 58h1v1h-1zM16 58h1v1h-1zM18 58h2v1h-2zM22 58h2v1h-2zM28 58h2v1h-2zM32 58h2v1h-2zM37 58h1v1h-1zM39 58h1v1h-1zM41 58h1v1h-1zM43 58h1v1h-1zM45 58h1v1h-1zM47 58h1v1h-1zM1 59h3v1h-3zM5 59h1v1h-1zM8 59h1v1h-1zM10 59h1v1h-1zM12 59h3v1h-3zM17 59h1v1h-1zM19 59h2v1h-2zM22 59h3v1h-3zM28 59h1v1h-1zM30 59h1v1h-1zM34 59h1v1h-1zM36 59h2v1h-2zM39 59h1v1h-1zM43 59h1v1h-1zM45 59h1v1h-1zM0 60h2v1h-2zM3 60h1v1h-1zM5 60h3v1h-3zM10 60h1v1h-1zM12 60h2v1h-2zM16 60h1v1h-1zM18 60h3v1h-3zM22 60h1v1h-1zM25 60h1v1h-1zM28 60h1v1h-1zM31 60h1v1h-1zM33 60h5v1h-5zM41 60h1v1h-1zM43 60h1v1h-1zM45 60h3v1h-3zM1 61h1v1h-1zM3 61h1v1h-1zM6 61h2v1h-2zM9 61h1v1h-1zM11 61h1v1h-1zM15 61h2v1h-2zM18 61h1v1h-1zM24 61h1v1h-1zM26 61h1v1h-1zM29 61h1v1h-1zM31 61h1v1h-1zM37 61h1v1h-1zM39 61h1v1h-1zM46 61h1v1h-1zM0 62h1v1h-1zM6 62h1v1h-1zM8 62h1v1h-1zM10 62h2v1h-2zM13 62h1v1h-1zM15 62h1v1h-1zM20 62h1v1h-1zM23 62h1v1h-1zM25 62h4v1h-4zM30 62h1v1h-1zM32 62h1v1h-1zM35 62h1v1h-1zM39 62h2v1h-2zM42 62h1v1h-1zM46 62h1v1h-1zM0 63h3v1h-3zM5 63h1v1h-1zM9 63h3v1h-3zM13 63h1v1h-1zM15 63h4v1h-4zM21 63h1v1h-1zM23 63h1v1h-1zM27 63h2v1h-2zM30 63h1v1h-1zM33 63h1v1h-1zM35 63h2v1h-2zM38 63h3v1h-3zM44 63h2v1h-2zM1 64h2v1h-2zM6 64h1v1h-1zM8 64h3v1h-3zM12 64h1v1h-1zM14 64h3v1h-3zM18 64h1v1h-1zM20 64h2v1h-2zM23 64h1v1h-1zM29 64h1v1h-1zM31 64h3v1h-3zM35 64h2v1h-2zM38 64h1v1h-1zM43 64h3v1h-3zM47 64h1v1h-1zM0 65h1v1h-1zM2 65h1v1h-1zM6 65h2v1h-2zM10 65h1v1h-1zM12 65h1v1h-1zM14 65h1v1h-1zM16 65h1v1h-1zM19 65h2v1h-2zM24 65h1v1h-1zM27 65h1v1h-1zM29 65h1v1h-1zM33 65h1v1h-1zM35 65h1v1h-1zM37 65h1v1h-1zM41 65h3v1h-3zM45 65h3v1h-3zM0 66h1v1h-1zM3 66h1v1h-1zM5 66h1v1h-1zM9 66h2v1h-2zM13 66h1v1h-1zM15 66h1v1h-1zM17 66h1v1h-1zM20 66h2v1h-2zM23 66h2v1h-2zM27 66h1v1h-1zM29 66h1v1h-1zM31 66h1v1h-1zM33 66h2v1h-2zM36 66h2v1h-2zM43 66h2v1h-2zM47 66h1v1h-1zM1 67h3v1h-3zM8 67h3v1h-3zM12 67h2v1h-2zM15 67h2v1h-2zM18 67h3v1h-3zM24 67h2v1h-2zM27 67h1v1h-1zM29 67h1v1h-1zM33 67h1v1h-1zM37 67h1v1h-1zM40 67h1v1h-1zM43 67h3v1h-3zM0 68h5v1h-5zM6 68h8v1h-8zM16 68h2v1h-2zM20 68h1v1h-1zM22 68h2v1h-2zM25 68h3v1h-3zM29 68h2v1h-2zM32 68h1v1h-1zM34 68h1v1h-1zM36 68h3v1h-3zM43 68h3v1h-3zM0 69h1v1h-1zM2 69h1v1h-1zM4 69h1v1h-1zM9 69h1v1h-1zM13 69h1v1h-1zM15 69h1v1h-1zM18 69h2v1h-2zM22 69h2v1h-2zM26 69h1v1h-1zM29 69h2v1h-2zM33 69h2v1h-2zM42 69h1v1h-1zM44 69h2v1h-2zM1 70h5v1h-5zM9 70h2v1h-2zM12 70h1v1h-1zM14 70h1v1h-1zM17 70h1v1h-1zM19 70h2v1h-2zM23 70h2v1h-2zM29 70h1v1h-1zM31 70h1v1h-1zM36 70h1v1h-1zM38 70h2v1h-2zM41 70h3v1h-3zM45 70h2v1h-2zM3 71h1v1h-1zM5 71h3v1h-3zM9 71h2v1h-2zM14 71h1v1h-1zM16 71h1v1h-1zM20 71h1v1h-1zM22 71h2v1h-2zM25 71h1v1h-1zM27 71h1v1h-1zM29 71h1v1h-1zM31 71h1v1h-1zM34 71h1v1h-1zM38 71h1v1h-1zM41 71h1v1h-1zM44 71h1v1h-1zM47 71h1v1h-1z"/>
<path fill="#00d8ff" d="M3 42h1v1h-1zM7 42h1v1h-1zM9 42h1v1h-1zM12 42h1v1h-1zM27 42h1v1h-1zM30 42h1v1h-1zM32 42h1v1h-1zM34 42h2v1h-2zM38 42h1v1h-1zM40 42h1v1h-1zM42 42h1v1h-1zM44 42h1v1h-1zM47 42h1v1h-1zM21 43h1v1h-1zM7 44h2v1h-2zM10 44h1v1h-1zM14 44h1v1h-1zM27 44h1v1h-1zM39 44h1v1h-1zM43 44h1v1h-1zM4 45h2v1h-2zM9 45h1v1h-1zM17 45h1v1h-1zM19 45h1v1h-1zM26 45h1v1h-1zM45 45h1v1h-1zM9 46h1v1h-1zM26 46h2v1h-2zM29 46h2v1h-2zM11 47h1v1h-1zM13 47h1v1h-1zM21 47h1v1h-1zM29 47h1v1h-1zM37 47h1v1h-1zM39 47h1v1h-1zM43 47h2v1h-2zM46 47h1v1h-1zM41 48h1v1h-1zM1 50h1v1h-1zM3 50h3v1h-3zM10 50h1v1h-1zM12 50h3v1h-3zM16 50h1v1h-1zM18 50h1v1h-1zM22 50h2v1h-2zM25 50h2v1h-2zM28 50h1v1h-1zM30 50h1v1h-1zM33 50h2v1h-2zM37 50h1v1h-1zM40 50h3v1h-3zM46 50h1v1h-1zM2 51h1v1h-1zM14 51h1v1h-1zM16 51h1v1h-1zM18 51h1v1h-1zM26 51h2v1h-2zM30 51h2v1h-2zM47 51h1v1h-1zM0 52h1v1h-1zM7 52h1v1h-1zM16 52h1v1h-1zM11 53h1v1h-1zM22 53h1v1h-1zM34 53h1v1h-1zM38 53h1v1h-1zM41 53h1v1h-1zM8 54h1v1h-1zM10 54h3v1h-3zM14 54h2v1h-2zM20 54h1v1h-1zM22 54h1v1h-1zM27 54h1v1h-1zM29 54h3v1h-3zM38 54h1v1h-1zM41 54h2v1h-2zM1 55h1v1h-1zM4 55h2v1h-2zM7 55h1v1h-1zM10 55h2v1h-2zM13 55h1v1h-1zM19 55h1v1h-1zM25 55h2v1h-2zM28 55h2v1h-2zM33 55h1v1h-1zM39 55h1v1h-1zM41 55h2v1h-2zM44 55h1v1h-1zM6 56h1v1h-1zM20 56h1v1h-1zM23 56h1v1h-1zM25 56h1v1h-1zM30 56h1v1h-1zM32 56h1v1h-1zM36 56h2v1h-2zM39 56h1v1h-1zM42 56h3v1h-3zM46 56h1v1h-1zM2 57h1v1h-1zM5 57h1v1h-1zM7 57h1v1h-1zM15 57h2v1h-2zM19 57h1v1h-1zM21 57h1v1h-1zM26 57h1v1h-1zM31 57h1v1h-1zM35 57h1v1h-1zM37 57h1v1h-1zM39 57h2v1h-2zM42 57h3v1h-3zM46 57h1v1h-1zM25 58h1v1h-1zM27 58h1v1h-1zM31 58h1v1h-1zM38 58h1v1h-1zM46 58h1v1h-1zM16 59h1v1h-1zM25 59h1v1h-1zM27 59h1v1h-1zM29 59h1v1h-1zM31 59h1v1h-1zM33 59h1v1h-1zM4 60h1v1h-1zM8 60h1v1h-1zM17 60h1v1h-1zM24 60h1v1h-1zM26 60h1v1h-1zM30 60h1v1h-1zM32 60h1v1h-1zM38 60h2v1h-2zM42 60h1v1h-1zM44 60h1v1h-1zM8 61h1v1h-1zM10 61h1v1h-1zM12 61h1v1h-1zM17 61h1v1h-1zM19 61h2v1h-2zM22 61h1v1h-1zM25 61h1v1h-1zM27 61h1v1h-1zM30 61h1v1h-1zM32 61h3v1h-3zM36 61h1v1h-1zM38 61h1v1h-1zM41 61h2v1h-2zM45 61h1v1h-1zM4 62h2v1h-2zM16 62h1v1h-1zM19 62h1v1h-1zM22 62h1v1h-1zM24 62h1v1h-1zM29 62h1v1h-1zM31 62h1v1h-1zM34 62h1v1h-1zM36 62h1v1h-1zM38 62h1v1h-1zM41 62h1v1h-1zM45 62h1v1h-1zM47 62h1v1h-1zM4 63h1v1h-1zM6 63h1v1h-1zM12 63h1v1h-1zM14 63h1v1h-1zM20 63h1v1h-1zM22 63h1v1h-1zM24 63h1v1h-1zM26 63h1v1h-1zM29 63h1v1h-1zM31 63h2v1h-2zM37 63h1v1h-1zM42 63h2v1h-2zM47 63h1v1h-1zM3 64h2v1h-2zM11 64h1v1h-1zM19 64h1v1h-1zM22 64h1v1h-1zM25 64h1v1h-1zM28 64h1v1h-1zM30 64h1v1h-1zM34 64h1v1h-1zM37 64h1v1h-1zM40 64h1v1h-1zM1 65h1v1h-1zM11 65h1v1h-1zM17 65h1v1h-1zM21 65h1v1h-1zM26 65h1v1h-1zM28 65h1v1h-1zM34 65h1v1h-1zM39 65h2v1h-2zM2 66h1v1h-1zM7 66h2v1h-2zM11 66h1v1h-1zM14 66h1v1h-1zM16 66h1v1h-1zM25 66h1v1h-1zM28 66h1v1h-1zM30 66h1v1h-1zM32 66h1v1h-1zM40 66h1v1h-1zM42 66h1v1h-1zM46 66h1v1h-1zM0 67h1v1h-1zM4 67h2v1h-2zM7 67h1v1h-1zM11 67h1v1h-1zM17 67h1v1h-1zM21 67h1v1h-1zM23 67h1v1h-1zM28 67h1v1h-1zM31 67h1v1h-1zM34 67h3v1h-3zM38 67h1v1h-1zM41 67h1v1h-1zM46 67h2v1h-2zM5 68h1v1h-1zM14 68h1v1h-1zM18 68h1v1h-1zM21 68h1v1h-1zM24 68h1v1h-1zM28 68h1v1h-1zM31 68h1v1h-1zM40 68h2v1h-2zM46 68h1v1h-1zM3 69h1v1h-1zM5 69h2v1h-2zM8 69h1v1h-1zM10 69h1v1h-1zM16 69h1v1h-1zM20 69h1v1h-1zM24 69h2v1h-2zM27 69h2v1h-2zM32 69h1v1h-1zM35 69h1v1h-1zM37 69h4v1h-4zM43 69h1v1h-1zM46 69h2v1h-2zM0 70h1v1h-1zM15 70h2v1h-2zM18 70h1v1h-1zM21 70h2v1h-2zM25 70h2v1h-2zM28 70h1v1h-1zM30 70h1v1h-1zM32 70h2v1h-2zM35 70h1v1h-1zM37 70h1v1h-1zM40 70h1v1h-1zM44 70h1v1h-1zM47 70h1v1h-1zM0 71h1v1h-1zM2 71h1v1h-1zM4 71h1v1h-1zM8 71h1v1h-1zM11 71h1v1h-1zM13 71h1v1h-1zM15 71h1v1h-1zM17 71h2v1h-2zM21 71h1v1h-1zM26 71h1v1h-1zM28 71h1v1h-1zM30 71h1v1h-1zM33 71h1v1h-1zM35 71h3v1h-3zM39 71h1v1h-1zM43 71h1v1h-1zM45 71h1v1h-1z"/>
<path fill="#0046ff" d="M6 42h1v1h-1zM12 55h1v1h-1zM21 55h1v1h-1zM24 55h1v1h-1zM32 55h1v1h-1zM36 55h1v1h-1zM46 55h1v1h-1zM35 61h1v1h-1zM24 64h1v1h-1zM41 66h1v1h-1zM6 67h1v1h-1zM26 67h1v1h-1zM30 67h1v1h-1zM11 70h1v1h-1z"/>
<path fill="#9cf962" d="M17 42h2v1h-2zM24 42h1v1h-1zM1 43h1v1h-1zM5 43h1v1h-1zM12 43h1v1h-1zM15 43h3v1h-3zM20 43h1v1h-1zM22 43h3v1h-3zM29 43h1v1h-1zM31 43h2v1h-2zM34 43h1v1h-1zM37 43h2v1h-2zM41 43h2v1h-2zM47 43h1v1h-1zM3 44h1v1h-1zM6 44h1v1h-1zM9 44h1v1h-1zM13 44h1v1h-1zM18 44h2v1h-2zM21 44h1v1h-1zM24 44h2v1h-2zM32 44h1v1h-1zM37 44h1v1h-1zM40 44h1v1h-1zM42 44h1v1h-1zM47 44h1v1h-1zM1 45h2v1h-2zM7 45h1v1h-1zM20 45h1v1h-1zM23 45h1v1h-1zM29 45h1v1h-1zM34 45h1v1h-1zM36 45h1v1h-1zM39 45h1v1h-1zM46 45h1v1h-1zM2 46h1v1h-1zM7 46h1v1h-1zM12 46h2v1h-2zM16 46h1v1h-1zM18 46h2v1h-2zM25 46h1v1h-1zM36 46h2v1h-2zM44 46h2v1h-2zM47 46h1v1h-1zM7 47h1v1h-1zM9 47h1v1h-1zM17 47h1v1h-1zM25 47h1v1h-1zM31 47h2v1h-2zM41 47h1v1h-1zM1 48h1v1h-1zM4 48h1v1h-1zM8 48h1v1h-1zM10 48h1v1h-1zM13 48h1v1h-1zM15 48h1v1h-1zM17 48h1v1h-1zM23 48h1v1h-1zM26 48h1v1h-1zM29 48h2v1h-2zM34 48h1v1h-1zM37 48h1v1h-1zM40 48h1v1h-1zM43 48h1v1h-1zM45 48h1v1h-1zM6 49h1v1h-1zM8 49h1v1h-1zM10 49h1v1h-1zM13 49h1v1h-1zM18 49h4v1h-4zM24 49h2v1h-2zM29 49h1v1h-1zM31 49h1v1h-1zM33 49h1v1h-1zM36 49h2v1h-2zM41 49h1v1h-1zM43 49h2v1h-2zM47 49h1v1h-1zM1 51h1v1h-1zM4 51h1v1h-1zM6 51h1v1h-1zM11 51h1v1h-1zM39 51h1v1h-1zM41 51h2v1h-2zM1 52h2v1h-2zM4 52h1v1h-1zM10 52h1v1h-1zM12 52h1v1h-1zM15 52h1v1h-1zM17 52h1v1h-1zM24 52h2v1h-2zM27 52h2v1h-2zM33 52h1v1h-1zM36 52h1v1h-1zM39 52h1v1h-1zM41 52h1v1h-1zM43 52h1v1h-1zM45 52h3v1h-3zM1 53h1v1h-1zM3 53h1v1h-1zM5 53h1v1h-1zM7 53h3v1h-3zM13 53h2v1h-2zM18 53h1v1h-1zM24 53h2v1h-2zM27 53h1v1h-1zM32 53h1v1h-1zM43 53h2v1h-2zM47 53h1v1h-1zM3 54h1v1h-1zM2 56h1v1h-1zM8 56h1v1h-1zM14 56h1v1h-1zM22 56h1v1h-1zM27 56h1v1h-1zM9 57h1v1h-1zM13 57h1v1h-1zM0 58h1v1h-1zM2 58h1v1h-1zM4 58h4v1h-4zM9 58h1v1h-1zM12 58h1v1h-1zM14 58h2v1h-2zM17 58h1v1h-1zM20 58h2v1h-2zM24 58h1v1h-1zM35 58h2v1h-2zM40 58h1v1h-1zM42 58h1v1h-1zM44 58h1v1h-1zM0 59h1v1h-1zM6 59h2v1h-2zM15 59h1v1h-1zM18 59h1v1h-1zM21 59h1v1h-1zM32 59h1v1h-1zM35 59h1v1h-1zM38 59h1v1h-1zM41 59h2v1h-2zM44 59h1v1h-1zM46 59h2v1h-2zM2 60h1v1h-1zM9 60h1v1h-1zM11 60h1v1h-1zM14 60h2v1h-2zM23 60h1v1h-1zM27 60h1v1h-1zM40 60h1v1h-1zM0 61h1v1h-1zM2 61h1v1h-1zM47 61h1v1h-1zM1 62h3v1h-3zM9 62h1v1h-1zM12 62h1v1h-1zM18 62h1v1h-1zM21 62h1v1h-1zM37 62h1v1h-1zM43 62h1v1h-1zM5 64h1v1h-1zM13 64h1v1h-1zM26 64h2v1h-2zM42 64h1v1h-1zM46 64h1v1h-1zM3 65h1v1h-1zM5 65h1v1h-1zM8 65h2v1h-2zM13 65h1v1h-1zM15 65h1v1h-1zM22 65h1v1h-1zM30 65h2v1h-2zM36 65h1v1h-1zM19 66h1v1h-1zM15 68h1v1h-1zM19 68h1v1h-1zM35 68h1v1h-1zM39 68h1v1h-1zM42 68h1v1h-1zM14 69h1v1h-1zM6 70h1v1h-1zM8 70h1v1h-1zM13 70h1v1h-1zM1 71h1v1h-1zM42 71h1v1h-1z"/>
<path fill="#faff05" d="M28 42h1v1h-1zM4 43h1v1h-1zM18 43h1v1h-1zM25 43h1v1h-1zM36 43h1v1h-1zM46 43h1v1h-1zM0 45h1v1h-1zM32 45h1v1h-1zM42 45h1v1h-1zM5 46h1v1h-1zM8 46h1v1h-1zM10 46h1v1h-1zM24 46h1v1h-1zM24 47h1v1h-1zM18 48h1v1h-1zM44 48h1v1h-1zM0 49h4v1h-4zM5 49h1v1h-1zM11 49h2v1h-2zM14 49h4v1h-4zM22 49h2v1h-2zM32 49h1v1h-1zM40 49h1v1h-1zM9 52h1v1h-1zM21 52h1v1h-1zM44 52h1v1h-1zM17 53h1v1h-1zM20 53h1v1h-1zM30 53h1v1h-1zM4 59h1v1h-1zM40 59h1v1h-1zM29 60h1v1h-1zM5 61h1v1h-1zM14 62h1v1h-1zM3 63h1v1h-1zM17 64h1v1h-1zM44 65h1v1h-1z"/>
</g>
<path transform="scale(0.1)" fill="none" stroke="#40404a" stroke-width="10.0" shape-rendering="crispEdges" d="M6810 4530l-9-6-7 6 7 7 9-7M7295 5529l-29-27-28 27 28 17 29-17M7501 5529l-2-1-4 1 4 0 2 0M8022 5529l-57-48-71 48 71 16 57-16M8216 5529l-19-11-38 11 38 12 19-12M8841 5529l-23-12-78 9-11 3 11 1 78 18 23-19M9179 5529l-51-14-53 14 53 20 51-20M9956 5529l-52-19-39 19 39 26 52-26M9287 5682l-3-15-4 15 4 3 3-3M9073 5990l-22-13-22 13 22 13 22-13M6335 6221l1-1-1-1M8210 6220l-13-15-6 15 6 6 13-6M9532 6374l-16-10-16 10 16 19 16-19M6822 6451l-21-71-29 71 29 18 21-18M8362 6451l-10-39-10 39 10 9 10-9M8682 6451l-19-15-11 15 11 10 19-10M9982 6525l-2 3 2 2M7202 6681l-13-37-11 37 11 18 13-18M7818 4069l-9-7-8 7 8 5 9-5M8978 4069l-5-10-3 10 3 6 5-6M8666 4146l-3-6-6 6 6 5 3-5M8997 4299l-24-6-23 6 23 7 24-7M9209 4299l-3-1-2 1 2 2 3-2M9765 4299l-16-6-18 6 18 12 16-12M6335 4537l5-7-5-3M6846 4530l-45-27-32 27 32 33 45-33M8900 4530l-4-1-4 1 4 2 4-2M9545 4530l-29-5-26 5 26 8 29-8M9845 4530l-18-18-31 18 31 16 18-16M8831 4837l-13-4-10 4 10 6 13-6M6578 4914l-10-12-11 12 11 10 10-10M7431 4914l-10-3-16 3 16 8 10-8M9867 4914l-40-11-29 11 29 11 40-11M6335 5158l23-13-23-6M6522 5145l-32-6-22 6 22 34 32-34M7039 5145l-6-1-77-9-78 4-17 6 17 17 78 2 77-18 6-1M7220 5145l-31-8-37 8 37 11 31-11M7520 5221l8-76-29-5-43 5 16 76 27 6 21-6M7973 5145l-8-2-4 2 4 3 8-3M8474 5145l-44-25-51 25 51 36 44-36M8749 5145l-9-6-20 6 20 24 9-24M9148 5221l8-76-28-8-15 8-2 76 17 11 20-11M9875 5145l-48-25-78 15-18 10 18 16 78 7 48-23M8916 5221l-20-28-18 28 18 10 20-10M8260 5529l-63-35-77 15-78-54-4-3-73-16-41 16-37 27-47 50 47 56 78-16 77-25 78 14 77 12 63-41M8459 5529l-29-28-48-49-30-12-12 12 12 27 52 50 26 7 29-7M9982 5509l-78-24-77 32-64-65-14-6-13 6 13 61 18 16 60 10 77 49 78-38M6603 5529l-35-13-78-9-43 22 43 13 78 9 35-22M6830 5529l-29-21-51 21 51 45 29-45M7105 5529l-72-17-18 17 18 18 72-18M7332 5529l-66-61-63 61 63 39 66-39M7761 5529l-29-13-78-10-77 11-78-34-78-21-54 67 54 14 78 13 78-15 77 10 78-9 29-13M8887 5529l-69-35-78-20-77 22-56 33 56 62 77-30 78 26 69-58M9338 5682l1-76 0-77-55-40-78 19-78-16-77 15-78 2-58 20 58 18 78 5 77 31 78 15 8 8 23 76 47 44 54-44M9559 5682l6-76-39-77-10-14-77-12-57 26 57 35 42 42-15 76 50 28 43-28M6439 5682l-26-13-14 13 14 13 26-13M6666 5682l-21-9-9 9 9 5 21-5M6856 5682l-55-43-36 43 36 10 55-10M6960 5682l-4-4-37 4 37 10 4-10M8138 5682l-18-24-15 24 15 17 18-17M8714 5759l-6-77-45-62-23 62-5 77 28 27 51-27M8833 5682l-15-34-36 34 36 15 15-15M9876 5682l-49-14-37 14 37 15 49-15M8403 5836l-3-77-48-42-43 42 0 77 43 43 51-43M8028 5990l-44-77-19-11-20 11-28 77 48 13 63-13M6650 5990l-5-15-11 15 11 22 5-22M7427 5990l-6-3-77-19-38 22 38 20 77-19 6-1M8127 5990l-7-5-43 5 43 9 7-9M8520 5990l-12-10-28 10 28 15 12-15M9116 5990l-65-37-64 37 64 38 65-38M9480 5990l-41-15-26 15 26 26 41-26M9793 6067l8-77-52-41-77 30-34 11 34 7 62 70 15 20 44-20M6968 6143l-12-13-55-63-23-25-25 25-16 76 41 8 78 3 12-11M7668 6067l-14-47-50 47 50 23 14-23M8991 6143l-18-40-27-36-50-71-24 71 24 23 60 53 17 34 18-34M7856 6143l-47-38-19 38 19 48 47-48M8387 6451l-10-77-25-47-46-30-31-40-13-37 13-26 39-51-39-17-77 17-1 1-35 76-42 63-8 14-70 68-14 9-31 77 45 21 34-21-19-77 63-64 12-13 65-45 67 45 11 32 29 45 9 77 39 33 35-33M9528 6220l31-77-43-43-19 43-20 77 39 19 12-19M9930 6143l-26-14-13 14 13 6 26-6M6335 6253l31-33-31-33M9376 6451l34-77-49-74-3-3 3-5 34-72-34-15-19 15-58 49-26 28 6 77 20 37 48 40 29 7 15-7M6669 6374l-21-77-3-10-2 10-22 77 24 35 24-35M7743 6374l-5-77-6-6-13 6-9 77 22 22 11-22M8834 6297l-16-17-9 17 9 48 16-48M6447 6374l-34-24-11 24 11 12 34-12M6856 6451l15-77-70-26-33 26-39 77 72 47 55-47M7287 6374l-21-19-34 19 34 23 21-23M9069 6374l-18-17-18 17 18 43 18-43M9620 6451l-26-41-23-36-55-34-58 34 58 67 19 10 59 12 26-12M9844 6374l-17-9-9 9 9 10 17-10M7447 6451l-26-56-25 56 25 43 26-43M8725 6451l-62-48-36 48 36 33 62-33M8911 6528l-15-16-51-61-27-58-55 58 55 39 52 38 26 14 15-14M9982 6472l-46 56 46 59M6426 6604l-13-15-17 15 17 13 13-13M6892 6681l17-77-31-17-37 17 22 77 15 22 14-22M7303 6758l-37-23-33-54 33-57 15-20-15-12-77-7-34 19-2 77 36 58 38 19M7676 6604l-22-20-53 20 53 24 22-24M7980 6604l-15-29-26 29 26 46 15-46M8785 6604l-45-26-12 26 12 17 45-17M9159 6604l-31-11-29 11 29 17 31-17M9532 6604l-16-39-44 39 44 20 16-20M8477 6681l-47-26-45 26 45 13 47-13M9013 6681l-40-19-41 19 41 22 40-22M7817 6758l-8-11-27 11M8215 6758l-18-21-15 21M8863 6758l-45-41-18 41M9207 6758l-1-3-4 3M9464 6758l-25-66-42 66M9919 6758l-15-15-49 15M7500 4069l-1-1-2 1 2 0 1 0M7853 4069l-44-35-41 35 41 24 44-24M8820 4069l-2-2-2 2 2 6 2-6M9010 4069l-37-71-22 71 22 42 37-42M9782 4069l-33-34-18 34 18 20 33-20M8686 4146l-23-44-48 44 48 38 23-38M6830 4299l-29-31-62 31 62 12 29-12M7612 4299l-35-13-34 13 34 16 35-16M9064 4299l-13-11-78-12-77 19-6 4 6 12 77 15 78-15 13-12M9250 4299l-44-20-37 20 37 22 44-22M9831 4376l-4-24-16-53-62-25-74 25 74 46 67 31 11 10 4-10M9982 4288l-63 11 63 26M6335 4580l36-50 42-69 4-8-4-10-4 10-74 56M6576 4530l-8-3-9 3 9 9 8-9M6890 4530l-12-3-77-46-57 49 57 58 77-46 12-12M7060 4530l-27-12-35 12 35 27 27-27M7591 4530l-14-11-31 11 31 16 14-16M7968 4607l74-55 39-22-39-18-55 18-22 62-4 15 4 2 3-2M8972 4530l-76-16-77 16 77 40 76-40M9614 4530l-20-10-78-8-77 9-22 9 22 23 77 7 78-19 20-11M9876 4530l-49-47-78 45-5 2 5 4 78 39 49-43M9982 4528l-9 2 9 3M6335 4698l47-14-47-46M7059 4760l52-66 10-10-10-9-3 9-75 67-75-67-2-10-19 10 19 7 50 69 27 34 26-34M7447 4684l-26-21-11 21 11 21 26-21M8458 4837l-28-27-61-50 61-62 16-14-16-3-11 3-67 64-11 12 2 77 9 18 78 5 28-23M9697 4684l-25-29-10 29 10 25 25-25M6734 4760l-11-11-78-10-20 21 20 18 78-14 11-4M7810 4760l-1 0-1 0 1 1 1-1M8604 4914l59-73 5-4-5-7-78 2-14 5-7 77 21 9 19-9M8874 4837l-56-19-46 19 46 26 56-26M6615 4914l-47-52-49 52 49 43 47-43M7470 4914l-49-15-77 13-6 2 6 3 77 37 49-40M7983 4914l-18-30-39 30 39 20 18-20M9097 4914l-46-41-35 41 35 12 46-12M9374 4914l-13-14-17 14 17 18 13-18M9942 4914l-38-27-77-5-78 29-77-17-20 20 20 8 77-6 78 28 77 2 38-32M9537 4991l-21-7-8 7 8 8 21-8M6335 5193l78-48 65 76 12 13 27-13 51-52 77-14 78 3 18-13-18-4-78 0-77-4-78-13-77 20-78-19M7595 5221l2-76-20-7-78-12-78 7-77-2-78 9-77-18-78 11-78 1-77-15-78 9-53 17 53 54 78 0 77-10 78-22 78 13 77-13 78 29 29 25 48 26 78 2 78 19 18-47M7758 5221l-8-76-18-6-13 6-6 76 19 19 26-19M8151 5145l-31-8-78 2-77-18-43 24 43 39 77-11 78 8 31-36M8440 5221l68-49 21-27-21-25-78-29-78 46-77-3-32 11 32 23 67 53 10 9 78-6 10-3M8769 5221l14-76-43-26-77 22-16 4 1 76 15 13 77 23 29-36M8953 5221l20-44 33-32-33-21-77 19-5 2-47 76 52 28 57-28M9186 5221l20-48 21-28-21-8-78-19-55 27 2 76 53 34 58-34M9625 5145l-31-28-78 22-77 1-14 5 14 12 77-6 78 5 31-11M9982 5192l-43-47-35-49-77-9-78 30-53 28 53 46 78 7 77-18 46 41 32 11M6335 5318l5-20-5-15M9982 5477l-78-17-77 12-20-20-58-25-55 25 12 77-34 48-56-48 20-77-42-39-60-38-18-4-13 4-19 77-45 21-78 14-53-35-6-77-18-12-18 12 0 77-60 27-78-10-77 8-78-4-77 16-78-17-47-20-31-27-77 25-78-22-32 24-45 49-51-49-27-10-78-34-47 44-30 44-78-26-77 3-30-21-33-77-15-12-14 12-63 32-78 37-27 8-51 54-77-23-78-13-77 9-55-27-23-15-78-5-50 20-27 32-37-32-41-33-56-44-21-20-20 20-58 50-25 27-53 29-51 48 51 52 78-13 78-1 77 23 78-31 77 3 78 21 78-5 77 7 78-8 77-27 47 56-47 52-23 24 23 30 34-30 44-36 75 36 3 1 1-1-1-2-35-74 35-13 77-30 75 43-48 76 51 54 60-54-38-76 55-7 28 7 50 45 36 31-36 34-9 43-15 77 24 28 51 49-51 53-23 24-55 57-31-57-46-28-78-16-22-33-55-30-57 30-21 39-78 10-20 28 11 77-40 76 19 77-47 34-78 40-13 3-64 56-27 21 27 26 47 51 30 29 72 48-72 20-77 24-34 32-44 69-7 8-28 77M8995 5375l-22-17-21 17 21 26 22-26M6983 5682l-27-26-78-15-42-35 41-77-76-54-78 9-78 27-77-15-78-21-77 26-27 28 27 27 77 5 78 25 77-35 78 19 39 36-39 48-78-23-46 51 46 24 78-15 78 20 77-9 78 38 27-58M8585 6036l-29-46-48-40-78 30-68-67 68-63 35-14-4-77-31-24-59-53-19-20-54-56 54-59 78 11 78-4 77 20 29 32-11 76-2 77-16 39-30 38 30 9 72 68-29 77-43 46M8740 5640l-26-34 26-14 36 14-36 34M9982 6091l-78-5-38-19-7-77-32-31-59-46-19-8-21 8-56 28-71-28-7-2-5 2-73 62-77-17-67-45-11-18-77 10-15 8-10 77 11 77 14 42 22-42 6-77 49-48 21 48 57 59 40 18-15 76-25 50-78-22-64 49-13 11-34-11-44-63-28 63 28 35 17 42 7 77 30 77 24 29 77-3 68 51-68 72-77-17-78-13-78-9-77 32-30 11-48 23-77 20-38-43 38-24 55-52 22-41 78-19 77 5 26-22-26-35-20-42-57-52-58-25 21-77 20-77-19-76 36-14 59 14 18 13 6-13 31-77-37-29-77-33-78 26-77-4-69-37 69-58 14-19-14-18-9 18-69 73-69-73 26-77 43-26 55-51-19-76 42-33 77 8 78 2 53 23 24 25 54 51 24 21 63 56 15 6 13-6 64-49 78-15 77 46 78-52 78 7 77 0 78 40 60 23 17 6 12-6 31-77-8-76 43-22M9827 5633l-40-27 40-29 47 29-47 27M6510 5682l-20-8-77-41-52 49 52 48 77-40 20-8M7600 5682l-23-28-76 28 76 25 23-25M7686 6067l-9-77 3-77-26-22-64-55-13-15-7 15 7 16 52 61-7 77-45 42-31 35 31 31 77 22 32-53M8663 5887l-42-51 42-18 51 18-51 51M7002 6143l-46-50-23-26 23-40 33-37-20-77-13-31-52 31 10 77-36 19-60 58-17 44-57-44-21-4-56-73-22-71-51 71 44 77 7 74 78-59 51 61 27 17 77 3 78 21 46-41M8740 6034l-32-44-22-77 54-54 67 54-17 77-50 44M7475 5990l-54-23-77-29-78 37-17 15 17 6 78 42 77-31 54-17M8547 6758l3-77-4-77-4-76 0-77 7-77-11-77-14-77-16-16-6 16-30 77-17 77 20 77 3 77-48 61-23 15-55 32-49-32-28-19-51-57-27-26-61-51-16-20-26-57 26-26 49-51 28-19 29 19 18 77 31 49 10 28 67 57 60-57 4-77-30-77-34-16-58-61 58-62 33-15-33-26-77-27-55-23 55-52 23-25 54-52 53 52 25 26 78 32 34 19 43 69 33-69 45-42 53 42-18 76-35 55-20 22 20 6 21-6 56-37 78-11 35-29 43-18 21 18 30 77 9 77 17 22 22 55-22 42-35 35-42 22-19-22-29-77 20-77-50-51-29 51-13 77-36 36-64-36-13-4-13 4-49 77 62 56 58 21-28 76-30 47-37 30-18 77M7849 6758l-40-56-37-21-40-40-18-37 18-69 1-7-1-8-44-69 44-18 30-59 16-77 31-44 40-33 38-38 36-39-36-29-56-47 56-48 78 4 77 31 78-8 48 21-27 76-7 77-14 22-62-22 5-77-21-34-13 34 3 77-67 65-15 12 15 15 26 62-26 43-35 34 21 77-64 69-16 7 16 24 28 53 23 77M8818 6109l-47-42 47-52 19 52-19 42M9672 6121l-78-11-42-43 42-38 78-8 40 46-40 54M7273 6143l-7-2-7 2 7 8 7-8M9497 6758l-10-77 29-20 46-57-32-76 64-47 66-30-42-77-24-24-78-35-48-18 48-25 33-52 45-63 78 26 37-40 40-25 78-17 23 42 54 25 78-6M6335 6480l37-29 41-26 77-16 56-35-56-35-52-42-25-30-17-47-61-66M6988 6758l-32-15-44-62 44-67 16-10-16-25-78-33-77-10-8-8 8-2 77-43 32-32 46-41 26-36-26-10-78-33-77-10-67 53-11 21-13-21-40-77-18-77-7-74-63 74 38 77-42 77 52 77 15 21 48 56-2 76 32 28 78-12 41 61 36 53 47 24M6335 6284l42 13-10 77-32 46M7222 6451l44-18 55-59-55-48-52-29-25-72-29 72 13 77-11 77 27 30 33-30M8042 6343l-71-46 71-72 47 72-47 46M7432 6528l47-77-15-77-43-29-39 29-17 77 25 77 31 10 11-10M7654 6420l-50-46 50-60 20 60-20 46M9982 6418l-67-44-11-7-77-39-46 46 46 52 43 25 15 77 19 67 5 9 31 77-36 25-77 15-60-40-18-14-56-63-21-28-23 28 23 35 52 42 25 20 38 57M9439 6499l-25-48 25-43 35 43-35 48M8004 6758l38-67 10-10-10-8-25-69-21-76 46-18 78-40 47 58-3 76 33 62 18 15-18 8-50 69M6356 6758l-21-77 78-31 49-46-49-56-58 56-20 76M6592 6604l-24-17-24 17 24 15 24-15M7381 6758l-37-13-78-59-3-5 3-5 55-72-55-46-77-9-78 34-15 21 15 23 18 54 27 77M7654 6722l-24-41 24-12 28 12-28 41M8703 6758l6-77 31-16 33 16-4 77M9128 6707l-31-26 31-15 32 15-32 26M9241 6758l-6-77 49-59 77-4 38 63-38 54-18 23M6502 6758l-12-9-6 9M6653 6758l-8-6-7 6M7536 6758l41-33 51 33M8256 6758l19-36 28 36M8385 6758l45-33 56 33M8945 6758l28-14 29 14M9955 6758l27-37M8821 3224l-3-1-23 1 23 1 3-1M6972 3762l-16-60-17 60 17 11 16-11M7284 3762l-18-35-46 35 46 14 18-14M7891 3762l-4-5-3 5 3 19 4-19M8679 3762l-16-10-15 10 15 13 16-13M9076 3762l-25-8-22 8 22 7 25-7M9982 3751l-56 11 56 13M8985 4146l56-77-13-77-55-20-25 20-16 77 40 77 1 2 12-2M9478 3992l-39-14-14 14 14 48 39-48M7547 4069l-48-25-78 23-77-12-60 14 60 8 77-6 78 25 48-27M7889 4069l-2-2-78-62-74 64 74 44 78-35 2-9M8324 4069l-49-11-78-8-24 19 24 22 78-9 49-13M8707 4146l-39-77-5-18-78-2-23 20-39 77 62 27 78 45 44-72M8819 4146l27-77-28-25-27 25 26 77 1 5 1-5M9817 4069l-68-70-37 70 37 43 68-43M9285 4146l-1-1-1 1 1 2 1-2M9982 4265l-78 17-77-58-78 30-70-31-7-29-50-48-28-32-4 32 4 73 4 4-4 1-17 75 17 56 78-29 74 50 3 2 78 75-78 52-66 25-11 28-9-28-69-35-78 3-77-4-78 33-77-6-78 0-49 9 49 10 78 15 74 52-74 69-9 8 9 28 77 0 68 48 10 35 26-35-26-11-45-65 45-67 12-10 65-24 78-16 64 40-19 77 29 76-10 77-63 77-1 8-78 38-36 31 36 34 70 43-70 44-77 9-70 24 70 62 77-26 78-1 78 23 77 18 3 0 75 10 77 4 78 20M6505 4299l-15-60-75-16-2-1-1 1 1 0 49 76 28 27 15-27M6870 4299l8-55 3-21-3-3-39 3-38 3-78 18-72 55 72 23 78 6 69-29M8139 4299l-13-76-6-1-2 1-76 65-77-16-30 27 30 29 77 19 78-26 19-22M7315 4376l-3-77-46-74-77 45-46 29 4 77 42 6 77 10 49-16M7656 4299l-2-11-77-18-74 29 74 36 77-34 2-2M8757 4299l-17-19-15 19 15 16 17-16M9118 4299l-67-60-78 19-77 19-31 22 31 62 77-15 78 14 67-61M9290 4299l-6-22-78-18-71 40 71 42 78-24 6-18M7813 4376l-4-25-4 25 4 4 4-4M9982 4508l-78 12-77-67 35-77 42-47 78 47 0 0M6335 4996l9-5 69-66 77 41 78 25 77-71 78 25 34 46 44 10 35-10-31-77 6-77-10-76-1-1-75-76 76-65 50 65 27 28 61 48 17 9 65 68 12 20 14-20 64-68 78 31 33-40 44-61 6-15-6-5-69-72 69-51 67-26-67-14-76 14-1 6-22-6-56-1-78-36-77 23-78-16-77-40-78 63-70 7 70 9 63 68-63 75-78-2-76-73 75-77-76-31-78 27-45-73-32-68-28 68-50 37M6413 4668l-64-61 53-77 11-18 61 18 13 77-74 61M7479 4530l-58-36-53 36 53 62 58-62M7612 4530l-35-25-74 25 74 39 35-39M8121 4684l-1-1-78-2-41-74 41-30 78-43 5-4-5-3-78-34-77 18-74 19 37 77 37 32 75 45 2 19 78-18 1-1M8449 4530l-19-23-72 23 72 12 19-12M8729 4530l-66-13-59 13 59 60 66-60M8897 4607l76-49 78 30 64-58-64-26-78-2-77-3-78 6-66 25 66 28 77 49 1 26 1-26M9982 4898l-76-61-2-2-45-75-14-76-18-37-78 11-38-51 38-17 78 11 77-70 78 29M6568 4756l-66-72 66-74 70 74-70 72M7033 4725l-46-41 46-72 46 72-46 41M7722 4760l-68-15-77-27-45-34-33-11-78-63-42 74 38 76 4 1 78 69 78-55 77 42 68-57M9982 5443l-76-68-2-1-77-3-4 4-74 32-77 29-63-61-15-46-78 17-77 26-78-9-77-58-30-7 30-18 12-59 30-76-33-77 68-22 11-55 54-77-65-73-18-4-59-33-10 33-68 49-78 13-68-62-3-77-6-76-9 76-69 67-77-44-78 19-78-27-4-15 4-6 12-70-12-13-77-14-59 27 40 76-59 41-63-41 54-76-68-45-78 28-78 15-3 2-70 76 38 77 35 64 59 13 19 48 75 29-75 18-3 59-75 56-77-13-78 22-77-13-78 2-77-23-78 41-78-8-77-20-71 33-7 62-6-62-71-22-78-11-78 6-77-10-78 14-77-15-78 2-78 15-77-22-78 14-77 16-78-8-78 6-77-10-78-10-77 16-78-16M6335 4715l78-17 77-4 73 66-17 77-56 63-77-50-7-13-71-12M7980 4991l60-77 2-23 29 23 49 2 1-2-1-33-38-44-40-30-77-34-78 45-45-58-33-30-68 30 68 29 61 48-61 75-77-7-11 9 11 8 77-1 60 70 18 5 78 0 15-5M6723 4910l-78-43-15-30 15-5 78-46 69 51-69 73M9827 4861l-78 18-74-42 74-55 78 14 75 41-75 24M7239 4991l17-77-67-59-58 59 56 77 2 1 50-1M7532 4914l-33-64-78 37-77-1-69 28 69 33 77 39 78-65 33-7M8508 4976l-8-62 8-2 0 2 0 62M8818 5155l-1-10-77-46-77 29-78 17-69-77-8-77 77-43 69-34 9-10 77-63 78 41 77 32-32 77 33 10 10-10 3-77 64-18 3 18 75 25 77 21 78-18 73 49 4 77-77 45-78-14-77-31-78 2-77 45-75 30-3 10M9749 5099l-77 34-71-65-1-77 72-44 77-12 78 29 64 27-64 59-16 18-62 31M9982 5132l-54-64 17-77 37-28M6568 5476l-64-24-14-40-77 32-63-69 15-77-22-77 70-47 40 47 37 37 78-26 3-11 74-35 78 35 78-64 62 64-54 77 69 29 68-29 10-20 77-50 57-7 21-4 78-13 54 17-54 59-10 18-68 71-6 6-72 74-77-19-78 13-77-29-78 18-78-9-10 29-67 24M8818 5446l-78-69-77 52-78-46-77 0-78 34-78-41-77 71-78-7-77-64-1-1-77-60-72 60-5 3-78 49-78 10-77 12-78-7-77-36-78-19-78 22-77 23-66-57-12-15-65-62 65-61 78 40 74 21 3 1 1-1 77-27 47 27 31 63 23-63 54-76 78 75 77-7 65-69 13-29 78 28 5 1 72 42 78 16 77-49 71-9 7-1 1 1 76 64 78-33 78-17 77 21 62 42 16 3 77 69 62-72 16-28 78-4 77 25 78-15 77 1 66 21-66 71-77-43-78-25-77 66-9 8-69 71M6490 5645l-66-39 66-26 58 26-58 39M6956 5633l-62-27 62-65 64 65-64 27M7499 5971l-78-24-71-34 29-77-35-54-78 52 0 2-1 77-76 69-78-46-78 51-41-74-34-77 17-77 30-77 28-63 73 63-3 77 8 22 39-22 39-38 77-32 5-7 61-76 12-3 77-22 69 25-69 67-7 9 7 8 78 21 75 48-30 77 28 77-73 58M8042 5669l-55-63 55-23 40 23-40 63M8430 5686l-4-4-69-76 73-27 68 27-53 76-15 4M7732 5906l-78-66-4-4-71-77 72-77 3-11 78-1 2 12 34 77 31 77-67 70M6335 5694l71 65 6 77-57 77 58 66 10-66 67-67 77 67-11 77 12 12 46 65 10 76-56 56-78-48-2-8-75-18-78-32M6490 5826l-70-67 70-42 70 42-70 67M6801 5925l-15-12-63-26-78 8-77-4-5-55 5-6 6-71 71-35 78-9 78 14 77-3 54 33 18 77-72 54-73 23-4 12M7965 5864l-78-2-36-26-31-77 67-62 78 14 70 48-12 77-58 28M8197 5831l-63-72 63-57 43 57-43 72M9051 5894l-78-17-13-41-64-77 77-71 78 22 77-13 70 62-70 70-8 7-69 58M9516 5921l-77 19-41-27-37-62-77 23-73 39-5 24-78-16-28-8 28-48 55-29 23-21 78-19 77-29 2-8 76-41 62 41 15 16 17-16 61-43 78 38 77-34 63 39 12 77-75 43-77-27-78 33-68 28-10 8M9982 6045l-73-55 72-77-77-8-74-69 74-42 73-35 5-14M8818 5877l-39-41 39-62 39 62-39 41M8120 5939l-59-26 59-59 43 59-43 26M8585 5985l-77-64-78 33-42-41 42-39 78 0 77-11 53 50-53 72M6723 6041l-40-51 40-72 71 72-71 51M7732 6141l-27-74 16-77 11-46 11 46 29 77-40 74M7111 6161l-52-18-26-2-67-74 67-74 78 49 57 25-32 76-25 18M7266 6111l-71-44 71-43 77 43-77 44M7421 6124l-77-57 77-44 76 44-76 57M7965 6127l-74-60 74-24 46 24-46 60M9206 6107l-36-40 36-65 32 65-32 40M9361 6096l-5-29 5-18 15 18-15 29M9672 6091l-53-24 53-21 18 21-18 24M7033 6366l-77-27-67-42-11-5-77-17-5 22-73 52-32-52-15-77 47-66 78 55 77-35 78 39 31 7 46 14 70 63-70 69M7499 6356l-78-52-77 57-77-64 8-77 69-70 62 70 15 52 78-43 67 68-67 59M7654 6273l-71-53 71-70 76 70-76 53M8430 6284l-78-30-32-34 32-35 78-27 38 62-38 64M9594 6293l-25-73 25-35 63 35-63 73M9904 6305l-34-8-43-40-5 40-73 74-77-14-60-60 60-37 41-40 36-45 78 24 77-13 75 34-12 77-63 8M6568 6346l-66-49 66-45 30 45-30 49M8042 6320l-36-23 36-36 24 36-24 23M8740 6357l-77-14-78-37-2-9 2-8 78-36 77-16 29 60-29 60M9128 6356l-65-59 65-64 59 64-59 59M7887 6552l-78 39-45-63 39-77-23-77 29-69 68 69-57 77 67 25 23 52-23 24M8896 6389l-5-15 5-27 15 27-15 15M6568 6536l-27-8-13-77 40-21 13 21 31 77-44 8M7499 6603l-38-75 38-60 77 60-77 75M9128 6529l-77 35-57-36 57-34 77 31 8 3-8 1M9361 6573l-63-45 63-33 43 33-43 45M9534 6758l56-77 3-77-38-76 39-28 66 28-64 76 2 77 47 77M7033 6699l-77 17-25-35 25-37 63-40 14-49 14 49 3 77-17 18M7421 6704l-77 15-48-38 48-59 21-18 56-34 76 34-64 77-12 23M9827 6653l-78-43-5-6 5-30 78-19 16 49-16 49M6568 6734l-78-49-46-4 46-16 78-3 60 19-60 53M6801 6740l-75-59 75-30 20 30-20 59M6386 6758l27-74 33 74M7882 6758l5-17 7 17M8427 6758l3-3 4 3M9275 6758l9-41 11 41M7207 1764l-18-3-8 3 8 4 18-4M7890 1764l-3-1-78-7-74 8 74 10 78-9 3-1M9382 1764l-21-18-41 18 41 19 21-19M9982 2115l-16 33 16 10M9285 2302l-1-3-6 3 6 3 1-3M6899 2609l-21-9-27 9 27 4 21-4M7350 2609l-6-2-6 2 6 3 6-3M8202 2609l-5-5-6 5 6 7 5-7M8747 2609l-7-3-8 3 8 4 7-4M9442 2763l-3-5-8 5 8 7 3-7M8904 2840l-8-6-15 6 15 16 8-16M6831 3224l-30-7-13 7 13 9 30-9M7361 3224l-17-7-78 7-1 0 1 0 78 16 17-16M7894 3224l-7-4-7 4 7 2 7-2M8067 3224l-25 0-1 0 1 0 25 0M8434 3224l-4-4-78-11-15 15 15 5 78-3 4-2M8854 3224l-36-14-78-17-24 31 24 17 78-2 36-15M8992 3224l-19-12-23 12 23 10 19-10M9309 3224l-25-11-28 11 28 15 25-15M9833 3224l-6-2-6 2 6 3 6-3M9982 3215l-17 9 17 8M7436 3454l-1-77-14-11-77-15-26 26 1 77 25 18 77-8 15-10M7661 3377l-7-10-6 10 6 77 7-77M9054 3377l-3-1-3 1 3 3 3-3M9216 3377l-10-4-19 4 19 9 10-9M9827 3454l77-70 14-7-14-8-13 8-64 76-1 1 1 1 0-1M8323 3454l-48-5-12 5 12 11 48-11M9540 3531l-5-77-19-17-22 17 11 77 11 22 24-22M9684 3454l-12-9-10 9 10 14 12-14M6576 3531l-8-11-8 11 8 4 8-4M8587 3531l-2-3-1 3 1 1 2-1M9982 3516l-22 15 22 13M8898 3608l-2-5-3 5 3 7 2-7M9691 3608l-19-26-21 26 21 24 19-24M6438 3685l-25-17-27 17 27 26 25-26M6997 3762l-14-77-27-26-30 26-12 77 42 29 41-29M7311 3762l-40-77-5-3-6 3-71 62-78-13-25 28 25 24 78-15 77 27 45-36M8385 3762l45-69 3-8-3-6-10 6-68 41-50-41-27-21-78 1-35 20 35 34 34 43 44 45 77-11 33-34M9536 3685l-20-17-21 17 21 7 20-7M7509 3838l68-66 12-10-12-14-78-47-52 61 37 76 15 10 10-10M7922 3838l-2-76-33-32-19 32 11 76 8 21 35-21M8706 3762l-43-28-40 28 40 35 43-35M9146 3762l-18-20-77-18-78 27-11 11 11 9 78 28 77-24 18-13M9298 3838l63-53 17-23-17-14-24 14-53 62-8 14 8 9 14-9M9982 3731l-78 7-77 21-5 3 5 3 77 28 78 5M6568 3838l0 0 0 0 0 0 0 0M9982 4040l-78 2-77-7-42-43-5-77-31-25-77 0-14 25-24 77-40 41-50-41-28-12-77-28-39 40 29 77-68 74-77-40-43-34 43-49 18-28-18-14-25 14-53 46-29 31 29 12 61 65-13 77-48 17-78 45-65-62 10-77 8-77 5-77-35-17-78-25-52 42-8 77 24 77 36 40 46 37-46 17-77 19-60-36 18-77 19-77-55-49-51 49 3 77 8 77-38 21-31-21 18-77-24-77-32-77-8-23-22 23-56 32-53 45-24 35-78 6-48-41 48-56 15-21-15-14-17 14-61 51-77-3-78-12-52 41 52 48 78-15 77-8 47 52 31 35 78 10 44 32-44 32-30 44 30 35 54 42 23 13 22-13-22-27-37-50 37-47 78 4 32 43 45 45 49-45 29-46 23 46 17 77 38 20 43-20 34-11 35 11 43 38 27-38 50-46 78 31 51 15 27 6 28-6 15-77-33-76 67-74 70 74-32 76 0 77 40 44 17-44 21-77-15-76-23-23-67-54 67-47 30-30 47-53 46 53 6 77-13 77-8 76 28 77 19 41 39-41 39-21 32 21 45 36 43 41-43 28-77 37-78-48-78 15-77-18-78 36-77 7-78-20-78 6-77-22-78 0-77 9-78-3-78 39-77-15-78 8-24 18-53 52-36-52-42-52-78 15-77 27-39 10 39 16 77 0 78 11 64 50-64 46-78 13-45 18-32 34-78-8-23-26-54-38-78-26-7-13 7-6 78-32 50-39-50-25-78-32-77 8-78 25-78-14-35 38 11 77 24 48 28 29-28 16-77 20-78 9-63-45-14-39-78-17-26-21 26-27 78 12 56-62-56-40-78 15-56-52-22-21-60-56 4-77-21-31-41-45-37-32-77 22-78-23-78 15-34 18 34 32 42 44 2 77 34 20 78 7 77 8 78-18 57 60-57 53-78-10-77 11-78-1-78-38-77 13-78-8-41-20-36-20-38 20-40 30-78 12-77-23-78 8-17-27-21-77 38-23 29-54 0-76-29-30-77-3-42 33-36 38M8301 4376l-5-77-21-35-50-41-28-26-77 7-42 19-36 31-77-11-40-20-21-77 26-77-43-45-46-32-32-7-23 7-54 44-39 33-39 39-54-39-23-12-78-38-78 18-77-8-78 20-77 0-28 20 28 6 77 22 78-4 77 10 78 20 78-29 36 52 19 77-55 31-78 12-23 33 23 34 78 21 77-21 49-34-29-76 3-77 55-54 77 40 40 14 17 77-57 53-44 23 1 77 43 43 42-43 5-77 31-33 16 33 62 58 34 19 43 33 36-33 42-26 46-51 31-52 44 52 17 77 17 10 26-10M6738 4069l-15-16-15 16 15 13 15-13M6910 4069l-32-24-26 24 26 27 32-27M7065 4069l-32-17-26 17 26 13 32-13M8069 4069l-27-10-28 10 28 20 27-20M9672 4115l-45-46 45-43 20 43-20 46M9749 4235l-27-12-6-77 33-12 34 12-3 77-31 12M6907 4299l13-76-42-36-77 1-78 11-78 4-31 20 14 76 17 22 78 29 78-5 77-11 29-35M9982 4242l-78 20-51-39 51-60 78 7M6413 4332l-34-33 34-29 19 29-19 33M6335 4321l56 55-31 77-25 19M9904 4409l-12-33 12-14 23 14-23 33M9982 4489l-59-36 59-49M6413 4631l-26-24 26-39 29 39-29 24M6723 4623l-78 31-49-47 49-50 78 35 14 15-14 16M7266 4628l-20-21 20-15 26 15-26 21M7887 4622l-16-15 16-16 8 16-8 15M8585 4624l-21-17 21-22 21 22-21 17M8818 4787l-50-27 22-76-50-53-35-24 35-32 78 12 31 20 3 77 20 76-54 27M8973 4645l-32-38 32-21 39 21-39 38M9206 4708l-27-24-51-19-57-58 57-56 78 22 78 15 27 19-27 25-59 52-19 24M9594 4818l-62-58 15-76-31-70-4-7 4-2 78-13 23 15 0 77 27 76-50 58M9982 4725l-56-41-22-11-57-66 57-52 78 32M6568 4701l-16-17 16-18 16 18-16 17M6801 4709l-25-25 25-22 16 22-16 25M7033 4698l-16-14 16-26 16 26-16 14M7344 4695l-9-11 9-11 4 11-4 11M7965 4710l-26-26 26-15 24 15-24 26M9439 4698l-10-14 10-15 23 15-23 14M6335 4731l78 1 77 7 24 21-22 77-2 3-3-3-74-41-78 6M6878 4947l-24-33-5-77 9-77 20-12 16 12 62 31 44 46-44 57-46 20-32 33M7887 4777l-13-17 13-23 24 23-24 17M8120 4770l-10-10 10-8 11 8-11 10M8585 4770l-14-10 14-18 14 18-14 10M8973 4776l-21-16 21-22 16 22-16 16M9206 4853l-78 8-26-24-7-77 33-43 42 43 36 49 22 28-22 16M9361 4789l-33-29 33-17 24 17-24 29M9904 4783l-13-23 13-42 28 42-28 23M6723 4878l-46-41 46-29 39 29-39 41M7111 4891l-39-54 39-42 53 42-53 54M7421 4875l-77-15-78 14-40-37 40-42 78 0 77-16 60 58-60 38M7577 4875l-32-38 32-24 38 24-38 38M7809 4869l-77 4-50-36 50-44 77 24 26 20-26 32M6335 5020l49-29 29-28 35 28 42 24 78 1 39-25 38-35 43 35 35 19 78 32 77-37 35-14 43-42 39-35 38-24 40 24 38 35 35 42 43 29 77-5 53-24 25-14 27 14 50 21 29-21 49-41 78-26 34-10 43-43 30 43 48 34 57 43 20 37 78 7 78 11 77-40 25-15 53-41 28-36-1-77 50-52 78 20 17 32 33 77 27 32 41 45 16 77-57 43-77-23-78 13-77 1-78 4-77-29-78 23-78-8-77-7-78 38-77-16-78-8-78 3-77-17-78 20-77-13-78-7-78 29-77-29-78 20-77-13-78 16-78 10-77-15-78-7-77 12-78-12M9516 4936l-42-22-22-77 64-66 65 66-27 77-38 22M9827 4841l-78 7-18-11 18-13 78 7 11 6-11 4M9982 4862l-31-25 31-36M8818 4952l-78 3-41-41 41-36 78 24 30 12-30 38M8896 5087l-78 33-78-42-77 37-78-16-28-31-5-77 33-19 78-22 41 41 36 48 78-30 78 32 32 27-32 19M9051 5048l-78-26-27-31 27-32 78-6 62 38-62 57M9206 5088l-78-7-31-13 31-37 48-40 30-16 23 16 12 77-35 20M9516 5085l-77 18-52-35 29-77 23-31 14 31 63 60 28 17-28 17M9749 5080l-77 17-32-29 1-77 31-19 77-18 78 30 17 7-17 16-52 61-26 12M9982 5091l-19-23 19-34M6413 5407l-30-32 6-77-4-77 28-18 15 18 62 62 38 15-38 35-36 42-41 32M6645 5340l-42-42 36-77 6-3 8 3 31 77-39 42M6801 5254l-31-33 31-25 24 25-24 33M9516 5321l-77 35-78-28-38-30 7-77 31-40 44 40 34 13 51-13 26-11 78-6 35 17-35 39-34 38-44 23M7033 5405l-77-5-78 1-37-26 37-18 78-20 24-39 53-46 78 16 25 30-25 27-49 50-29 30M7266 5307l-10-9 10-9 15 9-15 9M7499 5317l-15-19 15-5 9 5-9 19M7732 5408l-78 13-56-46 31-77 25-35 36 35 42 42 44 35-44 33M7965 5350l-55-52 55-50 57 50-57 52M8275 5405l-78-14-19-16-15-77 34-27 78-9 42 36-9 77-33 30M8430 5393l-33-18-3-77 36-18 78-4 34 22-34 28-45 49-33 18M8896 5329l-38-31 38-14 35 14-35 31M9982 5403l-32-28-46-45-77-2-48 47-30 13-77 14-28-27-20-77 48-43 77-8 78 23 77 1 78 8M6568 5456l-10-4-25-77 35-36 36 36-26 77-10 4M6723 5393l-31-18 31-26 31 26-31 18M7421 5387l-77 7-22-19 22-31 77 5 32 26-32 12M7887 5410l-60-35 60-56 54 56-54 35M8663 5408l-51-33 51-46 49 46-49 33M8818 5408l-36-33 36-38 32 38-32 33M6490 5616l-18-10 18-8 16 8-16 10M6956 5611l-12-5 12-13 12 13-12 5M7421 5622l-19-16 19-7 17 7-17 16M8042 5614l-7-8 7-4 6 4-6 8M8430 5620l-13-14 13-5 12 5-12 14M7033 5946l-19-33-38-77 31-77 21-77 5-13 15 13 16 77 36 77-23 77-44 33M7344 5715l-29-33 29-31 27 31-27 33M6335 5733l28 26 11 77-39 41M6490 5782l-24-23 24-14 24 14-24 23M6878 5857l-77 20-50-41-28-33-19 33-59 39-51-39 19-77 32-16 78-4 78 8 77 4 14 8 14 77-28 21M7266 5775l-19-16 19-15 19 15-19 16M7499 5932l-78-5-29-14 29-41 37-36-37-39-31-38 31-25 78 6 30 19-12 77 7 77-25 19M7654 5789l-28-30 28-30 35 30-35 30M7965 5845l-30-9-48-40-28-37 28-26 78 7 28 19-9 77-19 9M8197 5788l-25-29 25-23 18 23-18 29M9051 5842l-11-6-67-14-59-63 59-55 78 36 77 2 20 17-20 20-69 57-8 6M9439 5923l-15-10-45-77 28-77 32-17 26 17 51 53 54-53 24-17 32 17 5 77-37 23-78 10-46 44-31 10M9749 5853l-32-17 0-77 32-16 25 16 5 77-30 17M7189 5944l-43-31-24-77 67-61 58 61-24 77-34 31M7732 5863l-32-27 32-36 26 36-26 27M8818 5845l-8-9 8-14 9 14-9 9M9284 5844l-17-8 17-8 22 8-22 8M9982 5872l-78-16-22-20 22-12 78-25M6568 6177l-47-34-31-40-77-16-35-20 35-28 36-49 20-77 21-21 24 21 10 77 44 46 22 31 11 76-33 34M8120 5916l-7-3 7-7 5 7-5 3M8430 5929l-16-16 16-15 36 15-36 16M8585 5958l-55-45 55-32 34 32-34 45M6335 5962l27 28-27 34M6723 6019l-23-29 23-41 41 41-41 29M9982 6020l-40-30 40-43M7033 6099l-29-32 29-32 43 32-43 32M7266 6081l-23-14 23-14 26 14-26 14M7421 6104l-50-37 50-29 49 29-49 37M7732 6090l-9-23 9-29 12 29-12 23M7965 6077l-13-10 13-5 8 5-8 10M9206 6067l-1 0 1-2 1 2-1 0M6723 6313l-10-16-13-77 23-32 43 32-21 77-22 16M6878 6275l-62-55 62-35 63 35-63 55M7344 6319l-27-22 2-77 25-25 22 25 8 77-30 22M7654 6252l-43-32 43-42 46 42-46 32M8430 6227l-78 0-6-7 6-7 78 0 4 7-4 7M9594 6234l-5-14 5-6 12 6-12 14M9904 6260l-40-40 40-16 36 16-36 40M6568 6309l-16-12 16-11 7 11-7 12M7033 6323l-77-8-28-18 28-37 77 13 27 24-27 26M7499 6314l-25-17 25-19 19 19-19 17M8042 6298l-1-1 1-1 1 1-1 1M8740 6316l-77-1-31-18 31-17 77-2 10 19-10 19M9128 6319l-24-22 24-24 22 24-22 22M9749 6344l-54-47 54-54 47 54-47 47M7809 6402l-10-28 10-25 25 25-25 28M7499 6544l-9-16 9-14 17 14-17 16M7809 6548l-14-20 14-26 41 26-41 20M9051 6536l-13-8 13-8 17 8-17 8M9361 6546l-26-18 26-14 18 14-18 18M9594 6554l-13-26 13-10 22 10-22 26M7421 6614l-6-10 6-3 8 3-8 10M6801 6681l-1 0 1 0 0 0 0 0M6956 6688l-5-7 5-7 16 7-16 7M7344 6693l-16-12 16-19 28 19-28 12M9576 6758l18-23 15 23M9124 1303l4 4 9-4M9433 1303l6 22 8-22M9899 1303l5 2 19-2M8223 1764l-24-77-2-2-74-75-3-1-3 1 3 2 76 75-17 77 18 5 26-5M9285 1610l-1-8-3 8 3 4 1-4M8623 1764l-32-77-6-11-24 11-19 77 43 12 38-12M7289 1764l-23-6-77-11-44 17 44 23 77-10 23-13M7931 1764l-44-17-78-8-77 11-43 14 43 25 77 7 78-16 44-16M9170 1764l-42-20-27 20 27 13 42-13M9419 1764l-58-52-77 28-49 24 49 13 77 40 58-53M9210 2071l-4-8-77-69-1 0 0 0 0 1 74 76 4 4 4-4M9982 2071l0 0-37 77 37 24M7446 2225l-25-4-6 4 6 8 25-8M8205 2302l-8-4-1 4 1 4 8-4M9301 2302l-17-29-54 29 54 28 17-28M6966 2609l-10-4-78-33-77 28-27 9 27 12 77 5 78-14 10-3M7393 2609l-49-19-46 19 46 23 49-23M7824 2609l-15-13-23 13 23 10 15-10M8220 2609l-23-23-30 23 30 32 23-32M8468 2609l-38-11-78 10-1 1 1 2 78 24 38-26M8772 2609l-32-18-44 18 44 18 32-18M9125 2609l-74-11-50 11 50 21 74-21M9570 2609l-54-12-43 12 43 19 54-19M8362 2763l-10-16-21 16 21 22 10-22M9535 2840l-19-20-52-57-25-30-57 30 57 51 33 26 44 13 19-13M8797 2840l-57-19-17 19 17 18 57-18M8930 2840l-34-24-62 24 62 68 34-68M6654 2993l-9-2-3 2 3 3 9-3M9948 2993l-44-16-12 16 12 12 44-12M7007 3224l-51-13-78-3-77-9-49 25 49 34 77-27 78 6 51-13M7404 3224l-60-23-78 7-56 16 56 16 78 40 60-56M7939 3224l-52-24-48 24 48 17 52-17M8163 3224l-43-18-78 3-50 15 50 16 78 3 43-19M8459 3224l-29-30-78-18-51 48 51 18 78-1 29-17M8886 3224l-68-27-78-42-54 69 54 40 78-11 68-29M9025 3224l-52-33-65 33 65 29 52-29M9342 3224l-58-24-63 24 63 35 58-35M9700 3224l-28-21-24 21 24 13 28-13M9883 3224l-56-18-51 18 51 29 56-29M9982 3193l-59 31 59 29M7478 3454l-8-77-49-39-77-21-59 60 1 77 58 42 77-7 57-35M7681 3454l11-77-38-52-31 52-11 77 42 44 27-44M9120 3377l-69-20-53 20 53 57 69-57M9242 3377l-36-18-71 18 71 34 36-34M9851 3454l53-48 55-29-55-32-53 32-24 30-65 47 65 39 24-39M8375 3454l-23-17-77-6-57 23 57 51 77-4 23-47M9576 3531l-3-77-57-52-67 52 38 77 29 57 60-57M9738 3454l-66-48-53 48 53 76 66-76M6603 3531l-35-50-35 50 35 18 35-18M8608 3531l-23-53-17 53 17 16 23-16M9982 3489l-64 42 64 36M7916 3608l-29-53-15 53 15 47 29-47M8915 3608l-19-32-18 32 18 49 19-49M9730 3608l-58-76-62 76 62 70 58-70M6335 3789l48-27 30-9 67-68-67-44-71 44-7 25M7022 3762l-5-77-61-57-68 57 1 77 67 46 66-46M7338 3762l-42-77-30-18-35 18-42 37-78-28-61 68 61 59 78-33 77 32 72-58M7538 3838l39-38 46-38-46-52-36-25-42-17-35 17-43 46-58 31 58 46 19 30 59 37 39-37M8331 3838l21-5 69-71 9-15 21-62-21-45-74 45-4 2-2-2-75-59-78 1-77 46-12 12 12 29 50 48 27 30 44 46 34 14 56-14M9579 3685l-63-55-68 55 68 23 63-23M7984 3838l-19-31-16-45-62-60-35 60 14 76 21 59 78-51 19-8M8734 3762l-71-45-66 45 66 58 71-58M9181 3762l-53-61-77-7-78 31-40 37 40 33 78 34 77-26 53-41M9353 3838l8-6 49-70-49-42-71 42-6 8-37 68 37 42 69-42M9982 3712l-78-4-77 32-35 22 35 23 77 47 78-10M6587 3838l-19-22-33 22 33 16 19-16M9982 4009l-78-10-55-7-22-15-10-62-68-57-77-8-37 65-41 72-78-31-77-31-65 67 41 77-54 58-73-58 54-77-58-44-78 34-78-63-77 30-78-21-77 63-20 1-58 5-76 72-2 12-2-12-51-77-24-70-67 70-11 6-77 47-20-53-58-56-67 56-11 9-77 22-78-17-77 43-78-11-77-9-28-37-50-25-78 5-66 20-11 9-78 66-77-39-78-33-78 11-77-2-78 21-77-25-78 29-78-10-77 46-78-55-65 59 65 66 78-64 77 37 78-5 78-13 77 41 78-22 77 26 54 11 24 37 78-23 26 63-26 14-78-9-49 71 49 71 78 3 77-7 53 10 25 4 73 73-73 77 27 77-27 63-8 14-70 30-41-30 1-77 40-77-77-55-78 2-26-24-52-51-28-26-2-77-47-73-4-3-74-64-77 40-78-43-78 25-77 37-78-63-77-5-78 15-78 15-68 43 33 76 35 45 75 32-42 77-33 7-31-7-46-31-57-46 23-77 25-76-69-71-77 6-78 59M6785 4069l-62-67-62 67 62 53 62-53M9128 4267l-46-44 21-77 20-77 5-26 6 26 72 30 44 47-44 73-3 4-75 44M9516 4222l-77-75-2-1 2-1 74-76 3-4 4 4 26 77-30 76M9672 4071l-2-2 2-2 1 2-1 2M7809 4246l-77 36-33-59 3-77 30-29 62 29 15 20 25 57-25 23M8275 4223l-1 0-77-72-77 36-78 18-77 4-35-63 35-69 77 53 78-58 77 71 78-21 77 13 10 11-10 67-61 10-16 0M8896 4241l-31-18 23-77 8-51 7 51 68 77-75 18M8508 4548l-12-18-26-77-40-2-67 2-11 1-77 50-78-22-77 0-78-28-31-1 31-2 78-69 5-6 68-77 4-7 6 7 28 77 44 26 68-26-22-77 31-74 41-2 37-2 7 2 8 76 63 76 2 1 75 41 70-41-18-77 26-3 3 3 74 74 27 3 51 58 78-9 60 28-60 15-78-13-78 50-77-15-78-4-59 44-18 18M9361 4297l-49-74 49-54 51 54-51 74M9904 4242l-25-19 25-29 67 29-67 19M7033 4378l-3-2-74-30-13-47 13-61 77 61 1 0 0 77-1 2M9516 4472l-58-19 23-77 35-77 0-39 1 39 34 77 29 77-64 19M6335 4346l31 30-30 77-1 1M6801 4403l-73-27 73-15 76 15-76 27M9361 4480l-77 19-78-40-78-3-13-3 4-77 9-9 38 9 40 44 78-24 77-2 55 59-55 27M7344 4479l-78-3-77 7-78 0-59-30 59-33 78 5 77 6 78-8 28 30-28 26M7887 4481l-69-28 69-73 72 73-72 28M9749 4458l-77 46-72-51 72-72 77 65 8 7-8 5M9982 4469l-27-16 27-22M6645 4628l-22-21 22-23 42 23-42 21M8120 4609l-7-2 7-3 30 3-30 2M8430 4639l-78 10-77 22-72-64 72-35 77-9 78 9 45 35-45 32M9206 4611l-78 26-30-30 30-30 78 28 7 2-7 4M9904 4642l-30-35 30-28 63 28-63 35M6335 4747l64 13-64 19M8818 4772l-22-12 22-57 23 57-23 12M9594 4791l-33-31 33-75 27 75-27 31M6723 4847l-11-10 11-7 9 7-9 10M6956 4867l-65-30 65-24 23 24-23 30M7111 4858l-15-21 15-16 20 16-20 21M7421 4863l-73-26 73-39 41 39-41 26M7732 4842l-7-5 7-5 26 5-26 5M8352 5098l-73-30-4-4-53 4-25 2-77 15-78 4-54-21 54-35 69-42 9-7 54-70 4-77 19-20 52 20 26 39 12 38 65 76 2 1 38 77-40 30M9516 4911l-45-74 45-47 46 47-46 74M7033 5103l-77-34-78 24-66-25 66-44 78 21 4-54 73-69 73 69-1 77-72 35M7654 5099l-77-8-78-6-78 1-64-18 64-30 63-47 15-12 78-40 77-1 78 36 23 17-23 50-17 27-61 31M9051 5028l-66-37 66-25 40 25-40 37M9749 5049l-62-58 62-17 46 17-46 58M6335 5044l78-40 77 38 78-2 77-48 78 42 61 34-61 23-78 16-77-21-78-5-77 9-78-8M7266 5088l-77-11-55-9 55-19 77-9 65 28-65 20M8663 5101l-69-33 69-76 65 76-65 33M8818 5095l-53-27 53-31 60 31-60 27M9439 5084l-25-16 25-49 55 49-55 16M7033 5355l-26-57 26-22 55 22-55 57M7965 5322l-26-24 26-24 26 24-26 24M9439 5340l-74-42 74-46 75 46-75 42M9749 5356l-77-24-7-34 7-6 77-20 61 26-61 58M7654 5400l-30-25 30-69 67 69-67 25M7887 5393l-30-18 30-28 27 28-27 18M8663 5388l-20-13 20-18 19 18-19 13M8973 5804l-42-45 42-39 67 39-67 45M6335 5826l2 10-2 2M6645 5855l-25-19 25-67 29 67-29 19M6801 5840l-5-4 5-17 16 17-16 4M7033 5907l-39-71 39-70 46 70-46 71M7189 5906l-45-70 45-41 39 41-39 70M9439 5892l-33-56 33-63 60 63-60 56M8585 5932l-23-19 23-13 14 13-14 19M6490 6019l-2-29 2-9 2 9-2 29M6723 5997l-6-7 6-11 11 11-11 7M9982 5995l-7-5 7-8M7421 6083l-22-16 22-13 22 13-22 16M6568 6155l-16-12 16-66 11 66-11 12M6878 6257l-42-37 42-24 43 24-43 37M7654 6232l-15-12 15-15 17 15-17 12M9749 6318l-24-21 24-24 21 24-21 21M8110 1303l10 33 18-33M9097 1303l31 29 60-29M9413 1303l9 77 17 11 11-11 27-77M9850 1303l-23 55-17 22 17 7 5-7 72-54 78 2M8765 1841l30-77-55-27-77 11-51-61-27-50-53-27 53-70 2-7-2-2-7 2-70 51-9 26-7 77-62 61-78-17-77 10-39-54 39-63 6-14-6-16-32 16-46 19-18-19-59-21-52 21 52 27 51 50-51 73-13 4 13 10 77 14 78-16 77 27 78-20 78 9 77 22 78-24 62 55 15 7 25-7M8904 1533l-8-12-27 12 27 14 8-14M9372 1841l67-63 77 5 47-19-2-77 1-77-46-28-45 28 5 77-37 38-47-38-31-16-43-61 43-59 27-18-27-7-77-9-13 16-40 77 53 77 0 0 0 0-78 28-58-28-20-8-72-69-5-6-15 6-63 50-5 27-72 57-56 20 56 30 67-30 10-30 20 30 58 49 77 5 78-22 78 10 57 35 20 11 11-11M6423 1610l-10-7-23 7 23 10 10-10M7438 1610l-17-25-6 25 6 6 17-6M7901 1610l-14-4-3 4 3 4 14-4M9809 1764l-60-34-61-43 61-55 29-22-29-14-77-14-36 28 2 77 0 77 34 28 77 2 60-30M9051 1751l-70-64 70-73 72 73-72 64M6932 1764l-54-18-77 2-78-4-44 20 44 25 78-15 77 5 54-15M7367 1764l-23-5-78-20-77-9-78 26-78-19-54 27 54 18 78-11 78 39 77 12 78-39 23-19M7992 1764l-27-11-78-25-78-9-77 14-78 26-22 5 22 19 78 35 77 4 78-25 78-8 27-25M9953 1764l-49-44-60 44 60 47 49-47M7117 2071l-6-16-61-61-17-4-77 0-11 4 11 23 77-10 66 64 12 6 6-6M7364 2071l-1-77-19-6-20 6-21 77 41 37 20-37M8201 1994l-4-2-77-18-18 20 18 53 77-49 4-4M8382 2071l-21-77-9-10-8 10-18 77 26 15 30-15M9255 2071l29-54 77-10 8-13-8-7-77 1-78 2-78-13-50 17 50 50 27 27 51 50 49-50M9588 2071l6-5 42-72-42-12-55 12-23 25-16 52 16 15 72-15M8641 2071l-56-27-77 26-4 1 4 1 77 18 56-19M9982 2021l-22 50-40 77 62 40M7580 2302l-3-3-68-74-10-8-78-11-26 19 26 35 63 42 15 26 78-23 3-3M8298 2379l-16-77-7-4-78-46-20 50 20 52 36 25 42 31 23-31M9318 2302l-34-59-78 35-22 24 22 11 78 47 34-58M9622 2379l50-70 4-7-4-2-3 2-75 64-74-64-4-2-5 2 5 10 48 67 30 24 28-24M7868 2609l19-51 5-26-5-20-19 20-59 25-77 46-68 6 68 6 77 32 59-38M6335 2616l23-7-23-6M6496 2686l22-77-28-9-28 9 17 77 11 23 6-23M6661 2686l62-54 78 24 77-15 78 0 77-21 78 5 78-3 77-5 78 37 77-19 78-21 22-5-22-6-78-5-77-28-78 30-77-21-78-3-78 15-77-31-78-21-77 32-78 22-78-18-31 34 27 77 4 19 16-19M8065 2609l-23-12-23 12 23 10 23-10M8241 2609l-44-44-58 44 58 61 44-61M8802 2609l-62-34-77 27-78 5-77 0-78-22-78-2-30 26 30 34 78 22 78-52 77 5 78-1 77 27 62-35M9372 2916l67-64 77 20 46-32-46-47-27-30-50-61-61-16 61-44 77 11 78-33 78-1 30-10-30-12-78-1-78-16-77 14-37 15-41 58-55-58-22-4-78 0-78-12-77-9-78 3-77 9-40 13 40 16 77 3 78 28 77 7 78-42 78-6 73 71-20 77 24 42 41 35-41 43-25 33 25 33 11-33M9982 2799l-40-36-7-77-11-77-20-5-10 5-3 77-16 77 4 77 25 6 78 59M7813 2763l-4-6-11 6 11 6 4-6M8377 2763l-25-42-55 42 55 57 25-57M8598 2763l-13-25-17 25 17 16 13-16M9167 2840l-39-25-72-52-5-8-11 8-30 77 41 13 77 24 39-37M6724 2840l-1-2-1 2 1 3 1-3M7234 2840l-45-28-29 28 29 27 45-27M7810 2993l77-58 78-15 2-4 26-76-28-19-41 19-37 61-3 15-75 77-77-6-78-3-13 9 13 9 78 1 77-10 1 0M8908 2993l8-77 45-76-65-45-78 9-78-6-40 42 40 43 78 5 26 28 41 77 11 3 12-3M9699 2993l-2-77 52-47 57-29-57-25-77 20-10 5-34 76 16 77 28 16 27-16M6335 2925l6-9-6-10M6740 2993l-17-9-78-16-31 25 31 23 78-19 17-4M8369 2993l-17-8-5 8 5 6 17-6M8602 2993l-17-14-11 14 11 20 17-20M9982 2932l-78 20-32 41 32 31 78-19M9982 3351l-78-35-77 27-12 34-66 59-67-59-10-39-78 29-78-18-77 20-22 8-56 61-12 16 12 8 78 21 28 48 26 77-54 44-69 33-9 3-11-3-29-77-37-8-36 8-14 77-28 34-25-34-9-77-44-35-39 35-38 33-54 44-24 10-32-10-7-77-38-65-44-12 44-30 63-47 14-14 13 14 65 22 24-22 53-49 78 35 67-63-67-34-78 3-77-12-78 19-77 24-1 0-40 77-37 50-58-50-20-8-16 8 7 77 9 4 78 5 42 68 24 77-66 63-78-20-77-32-78 29-18 37-11 76-48 57-57-57 1-76 20-77-34-77-3-77 73-71 42 71 35 34 49-34-12-77-37-35-55-42-22-4-78-13-25 17-53 35-77-2-68-33-10-6-77-13-78 11-27 8-50 53-28 24-50 32-39-32-39-60-33 60 33 26 46 51-2 77-44 70-23 7 23 11 24 66 17 76 23 77-64 42-77 18-22 17-56 50-77-49-3-1 3-8 14-69-14-48-6-29 6-5 77-63 6-8 35-77-41-14-77 1-78-27-78 35-14 5-63 34-19-34-59-35-69 35-8 7-18-7-8-77 26-20 77-52 32-5 46-7 77-5 78-27 78-22 58 61 19 9 11-9 48-77 15-77 4-14 15-62 62-63 78 21 78 38 77-38 78 7 77-33 78 0 77 24 78 2 59-35-59-60-53-17-25-8-5 8-72 69-78-16-77-16-78 7-77 15-78-31-78 26-50 23-27 27-47-27-31-12-77 10-13 2 13 10 40 67-24 76-16 51-51-51-27-36-78-36-15-4 15-13 46-64-46-23-77-19-78 8-77-1-78-5-69-37-9-2-1 2-76 47-78-26-77 10-78 39-33 7 11 77-15 76-41 38-77 8-42 31-24 77 66 35 67-35 10-31 32-46 46-47 29-30-1-76 50-13 77-38 78 3 77-16 78-3 78 61 77-37 62 43-62 62-77-55-12 69-66 70-78-70 0 0 0 0 0 1 69 76-69 69-77-24-48-45-30-9-40 9 23 77 17 57 22 20-22 14-73 63-4 5-78 40-62-45-16-3-77-10-78-13-77-50-4-1 4-4 40-73-40-10-47 10-31 26M8680 3301l60-11 78-20 78-31 77 35 78-36 77-6 78 6 78 44 77-47 78-3 33-8-33-29-78 19-77-29-78 3-78 32-77-9-78-44-77 31-78-15-58-36-20-17-77 16-2 1-43 77 42 77 3 12 17-12M9982 3167l-78 34-77-14-78 17-68-57-9-8-15 8-63 56-29 21 29 14 78 45 77-43 78 43 77-17 78 11M6427 3224l-14-4-4 4 4 4 14-4M6610 3224l-42-14-36 14 36 40 42-40M7189 3488l-52-34 52-42 41 42-41 34M8042 3820l-29-58-24-77-24-37-14-40-17-77 31-47 27-30 50-47 37 47 41 13 77 3 66 61-66 62-33 15-44 28-50 49 3 77-31 58M8430 3517l-23-63 23-40 61 40-61 63M9982 3456l-78 42-26-44 26-23 78 16M7033 3646l-44-38 44-53 41 53-41 38M8352 3610l-2-2 2-3 6 3-6 2M9749 3786l-15-24-8-77 23-31 41-46 37-62 47 62 17 77-64 33-70 44-8 24M9982 3689l-27-4-18-77 45-13M6568 4118l-78-32-19-17 19-28 31-49-31-34-77 22-64-65 22-77 42-31 77 0 6 31 72 33 41-33-41-48-64-28 64-52 77-14 53 66 25 34 78 23 24 19-24 19-55 58-23 21-78 51-16 5-9 77-52 49M8896 3795l-14-33 14-17 4 17-4 33M9594 3942l-78-15-29-12-48-16-58-61 58-70 8-6 69-36 60 36 18 21 51 55-36 77-15 27M6956 3981l-78-12-50-54 50-55 40-22 38-10 77-55 67 65-67 71-10 6-67 66M7189 3903l-58-65 58-30 65 30-65 65M8740 4044l-35-52 8-77 27-38 58-39 20-17 40 17 38 5 63 72-63 53-78-22-23 46-55 52M8973 3878l-60-40 60-15 33 15-33 40M9206 3854l-78-10-7-6 7-2 78-25 8 27-8 16M9827 3886l-57-48 57-30 46 30-46 48M7111 3930l-27-15 27-19 30 19-30 15M7266 3997l-14-5-57-77 71-70 78 17 77-11 78 55 42 9-42 19-78 46-77-10-60 22-18 5M8042 4014l-39-22-38-24-60-53 60-45 77-12 21 57 20 77-41 22M8275 4003l-43-11-35-22-44-55 44-50 78 29 77-27 57 48-57 50-46 27-31 11M9051 3918l-13-3 13-9 7 9-7 3M9982 3947l-24-32 24-37M6335 3949l47 43 12 77-32 77-27 18M6801 4011l-17-19 17-18 22 18-22 19M9361 4109l-50-40 50-61 37 61-37 40M6645 4153l-20-7 20-22 28 22-28 7M7033 4153l-77 5-17-12 17-13 77 5 20 8-20 7M7189 4182l-59-36 59-39 60 39-60 36M7344 4186l-48-40 48-19 45 19-45 40M7965 4154l-5-8 5-9 13 9-13 8M8120 4166l-47-20 47-38 41 38-41 20M8275 4148l-3-2 3-1 3 1-3 2M9206 4186l-62-40 62-26 24 26-24 40M9516 4156l-10-10 10-11 4 11-4 10M7421 4289l-19-66 19-23 20 23-20 66M7732 4229l-4-6 4-73 20 73-20 6M9128 4246l-24-23 24-61 40 61-40 23M9361 4265l-28-42 28-31 29 31-29 42M6568 4345l-16-46 16-41 20 41-20 46M8352 4308l-3-9 3-7 12 7-12 9M6335 4375l1 1-1 3M6645 4392l-19-16 19-5 13 5-13 16M8197 4383l-5-7 5-6 3 6-3 7M8430 4430l-59-54 59-62 57 62-57 54M9516 4456l-9-3 2-77 7-15 7 15 4 77-11 3M7189 4456l-78 1-7-4 7-4 78 2 65 2-65 3M7732 4496l-78 11-77-49-40-5 40-19 77-40 78 18 41 41-41 43M8120 4455l-7-2 7-6 7 6-7 2M8275 4486l-53-33 53-32 50 32-50 33M8740 4489l-77-14-78-19-7-3 7-3 78-45 77-7 56 55-56 36M9284 4486l-59-33 59-41 76 41-76 33M9672 4487l-48-34 48-48 55 48-55 34M8430 4623l-78 7-77-16-8-7 8-4 77-20 78 6 22 18-22 16M7654 4695l-16-11 16-37 27 37-27 11M7421 4849l-33-12 33-18 19 18-19 12M9516 4875l-23-38 23-24 24 24-24 38M7033 5092l-52-24 11-77 41-39 41 39 7 77-48 24M7654 5071l-77 2-78-4-64-1 64-11 19-66 59-35 58 35 19 64 7 13-7 3M8275 5034l-78 10-55-53 55-69 78 18 46 51-46 43M9051 5005l-25-14 25-10 15 10-15 14M6413 5069l-31-1 31-5 22 5-22 1M6723 5072l-78 22-75-26 75-51 78 45 11 6-11 4M6878 5080l-31-12 31-21 38 21-38 12M8042 5070l-6-2 6-4 35 4-35 2M8352 5082l-35-14 35-38 20 38-20 14M8663 5086l-37-18 37-41 35 41-35 18M9439 5321l-40-23 40-25 41 25-41 23M7654 5375l0 0 0-1 1 1-1 0M8973 5782l-21-23 21-19 34 19-34 23M7033 5869l-18-33 18-33 22 33-22 33M7189 5866l-20-30 20-17 16 17-16 30M9439 5837l-1-1 1-1 1 1-1 1M6878 6237l-19-17 19-11 19 11-19 17M6473 1303l17 6 27-6M7078 1303l33 27 30-27M8093 1303l22 77 5 8 6-8 42-77M8420 1303l-68 74-2 3 2 3 3-3 75-68 6-9M8805 1303l-65 67-4 10 1 77 0 76 3 6 78 15 78 39 29 17 14 77-43 35-78-16-78-2-77 15-27-32-41-77 13-77-23-54-77 39-78 13-5 2 5 6 39 71-25 77-14 14-35-14-43-17-39-60-26-77-12-8-12 8-66 51-77-19-78 14-66-46-11-4-15 4-63 27-37 50 37 42 78 0 77 15 78-2 23 22-23 33-78-13-77 1-78-1-78-10-77 17-78 25-77 12-78 4-78-3-77-12-78-22-77-7-78-4-78-6-77 17-78 3-77-20-78 17-78-29-1-2-76-46-16 46-62 65-77 0-13 12 13 10 77 10 78 5 77-4 78 39 78-20 77-3 78 0 77 5 78 8 78 21 19 6 50 77-16 76 12 77 12 23 66 54 12 7 28 70 49 65 17 12 43 77 18 14 28-14 50-29 53-48 24-52 63 52 15 13 5-13-5-4-71-73-7-7-13 7-64 39-36-39-42-35-78-1-74-41 42-77 32-62 30-15-30-10-77-27-66-39 66-64 26-13 51-43 78-17 78-8 72 68 5 4 78 4 77 0 18-8 60-25 56 25 22 33 77 44 0 0 38 76-38 62-24 15 24 20 78 26 29-46 48-37 65 37 13 28 77 24 78-39 78 8 77 22 78 0 48 34 29 28 28-28-12-77-16-15-77-20-78-26-77 16-78 19-27-51-51-66-49 66-28 60-29-60-49-30-77-15-78-31 78-61 15-16 62-31 78-17 65 48 12 53 41-53 37-18 78 3 51 15 26 10 27-10 51-15 17 15 60 28 78-22 33-6 45-12 22 12 55 29 78 16 77-29 78-14 53-2 25-2 2 2 75 40 76 37-76 38-77 3-78 14-78-16-77 0-78 24-14 13-63 60-16 17 16 16 74 61 3 2 78 10 77 8 78 42 16 15-16 6-66 71-12 24-22-24-55-27-78 25-2 2-29 77 31 19 67 57 11 7 24-7 53-34 44 34 34 15 30-15 48-41 17-35 38-77-21-77-34-47-30-30 30-31 51-46 26-11 40-66 38-74 49 74-13 77 41 38 70 39 8 9 78-7 4-2 41-77 32-54 78 4 11-27-11-22-78 10-77 0-78-17-78 4-75-51-2-2-37-75 37-35 77 1 65 34 13 7 78 2 34-9 43-13 52 13 26 17 77 0 78 16M9389 1303l-28 70-4 7 4 4 78 54 38 19-38 40-78 9-77-26-41 53-37 55-62 22-16 9-9-9-64-77-4-6-4 6-74 52-39-52-38-56-78 35-69-55 0-77 69-66 10-11M9066 1303l62 57 78-33 42-24M9541 1303l53 29 78-8 59 56-2 77-57 59-78-3-59-56-19-38-19-39 13-77M9777 1303l-28 33-31-33M9982 1742l-60-55 2-77-20-18-77-8-78-21-55-30 55-52 31-24 47-28 36-49 41-31 78 24M6817 1533l-16-6-22 6 22 14 16-14M7043 1610l68-32 26-45-26-37-78-2-49 39 45 77 4 9 10-9M7590 1610l-13-14-63-63-15-28-78 18-14 10-21 77 35 28 78-25 78 12 13-15M9516 1536l-10-3 10-8 8 8-8 3M6335 1617l78 32 38-39-38-30-78 27M9361 1619l-6-9 6-8 18 8-18 9M9051 1716l-32-29 32-33 33 33-33 29M9827 1735l-78-45-4-3 4-4 78-58 60 62-60 48M8042 1917l-34-76 34-32 41 32-41 76M6734 1918l-11-26-10 26 10 11 11-11M6587 2071l7-77-26-9-29 9 7 77 22 29 19-29M6972 2148l45-77 16-7 8 7 70 34 36-34-19-77-17-5-78-18-77-1-63 24 31 77 9 77 23 11 16-11M7825 2071l-16-31-27-46-50-18-41 18-37 46-37 31 37 16 78 14 77-1 16-29M9982 1950l-21 44-26 77-31 57-19 20-58 45-44 32-34 63-77-12-52 26-26 22-26-22-52-32-71 32-6 34-6 43-11 76-61 61-11 16-66 49-78-6-78-1-77-6-78-26-77 27-78 24-78-37-77 8-78 17-77 5-78-16-78-15-64 54 64 70 26 7-26 6-77 42-46-48 37-77-69-68-77 50-78-41-77 42-43-60-14-77-4-76 61-47 19-30-19-12-78-19-17 31 12 77-73 65-35 11 14 77-56 38-78 18-77 4-78-17-78-5-77-22-78 22-77-34-15-4-63-15-62 15-16 6-14-6-63-13-78-39-40-25-37-35-19 35 19 50 15 27-15 7-78 2-20-9-58-52-17-25 17-36 11-40-11-19-12 19-65 48-29 28 29 29 57 48-57 61-78-19-77 24-78-18M6335 2078l11-7-11-76M9051 2115l-26-44 26-26 27 26-27 44M8286 2455l56-76-12-77-55-35-58-42-20-22-45 22 5 77 25 77 15 36 56 40 22 20 11-20M9982 2287l-55-62 55-18M6335 2309l9-7-9-36M7203 2302l-14-17-78-11-78 0-18 28 18 25 78-14 78-3 14-8M8442 2302l-12-10-26 10 26 13 12-13M8844 2379l-26-15-62-62-16-28-28 28 28 20 59 57 19 21 26-21M9982 2594l-78-14-58 29 18 77-37 70-19 7-59 15-77 26-48-41-30-19-78-3-16-55 16-4 78-43 78 10 77-2 44-38-44-13-77-40-78 17-78-12-77-10-43-19 43-42 39-35 38-31 42 31 36 12 45-12 33-25 35 25 42 8 23-8-23-15-54-61 54-67 23-10 55-23 77-31 63 54 4 77 11 17M9051 2407l-18-28 18-12 14 12-14 28M9206 2444l-61-65 61-45 63 45-63 65M8538 2455l-30-33-28 33 28 10 30-10M6335 2645l78 0 21 41 8 77-29 32-43 45-35 15M6335 2971l36-55 42-60 34-16 43-40 32-37-2-77 48-65 49 65-4 77 32 14 52 63 25 76-77 27-66-27-11-19-21 19 21 22 14 55 63 46 78-13 78-15 15-18 34-77 28-32 38-44-18-77-20-7-67-70 67-27 78 15 77-22 78 9 78-21 77 6 78 34 35 6 21 77 17 77-4 76-69 68-78-15-16 24 5 77-66 64-78-1-78-32-31 46-46 29-57-29-21-15-51 15-26 7-78 40-78 13-77-27-78 18-77-13-36 39 36 38 77 2 33 37-33 24-27 52 1 77-51 39-78-4M7577 3198l-78-7-78-28-77-3-78 10-62-23 62-64 78 13 13-26 64-71 7-6 71-65 23-12-23-19-65-57 0-77-6-77 71-53 78 15 39 38 38 43 35 34-35 53-6 24 6 8 11-8 67-53 77 37 26 16 25 76-51 52-77-10-78-6-55 41 55 38 78 17 77-19 60 41-60 66-77-34-78 30-10 15-67 51M7809 2699l-77 46-59-59 59-39 77 32 40 7-40 13M8275 3192l-66-45-12-11-30 11-47 12-78 13-77-7-78-18-2 0 2-1 16-76 30-77 32-22 28-55 49-68 65 68 6 77-71 76-2 1 2 2 5-2 73-56 21-21 3-77-24-30-54-46 23-77-47-29-43 29-34 15-78 35-38-50 38-64 7-13 71-65 77 35 78-37 65 67-26 77 38 9 78 24 42 44-42 53-19 23 19 15 38 62 39 40 78-5 33-35 45-66 24 66 44 77-68 50-78-10-78-4-30 41-47 45M8508 2755l-56-69 56-37 52 37-52 69M8896 3160l-78 6-31-19-47-41-77 15-71-51 70-77-77-67-50-10 50-51 12-25 55-77-35-77 46-29 77 6 78-14 78 8 77 10 78 19 1 0-1 1-78 45-38 31-39 8-42-8-36-28-36 28-42 8-65 69 65 70 22 6 15 77 41 9 78 19 60 49-18 77-42 13M9284 2903l-61-63-17-16-78-46-20-15 20-30 78-34 17-13 61-35 35 35-26 77 44 77-53 63M6723 2802l-55-39 55-62 55 62-55 39M8430 2959l-78-24-45-19 45-31 42-45 0-77 36-65 73 65 5 27 57 50-57 55-12 21-66 43M6801 2899l-49-59 49-62 63 62-63 59M7048 2916l34-76-49-36-40 36 25 76 15 58 15-58M7278 2840l-12-41-77-23-68 64 68 64 77-37 12-27M9594 2847l-2-7 2-6 4 6-4 7M9361 3191l-77-24-60-20-18-41-13 41-65 47-77-27-48-20 48-45 27-32-27-36-34-41-44-22-30-55 30-49 78 21 57 28 20 15 70 62 8 25 10-25 68-62 51 62-5 77 31 26 65 51-65 44M9206 2972l-44-56 44-41 49 41-49 56M9982 3132l-38 15-40 14-77 4-78-6-14-12-63-54-78 43-78 5-77-25-29-46-9-77 0-77 38-37 77 15 50 22 1 77 27 14 78 43 77-47 73 67 5 11 8-11 69-25 78-12M9749 2925l-2-9 2-1 9 1-9 9M9904 2923l-35-7 35-13 17 13-17 7M9827 3061l-60-68 60-60 23 60-23 68M8585 3186l-40-39 40-62 34 62-34 39M7111 3417l-45-40-33-32-77 20-15 12-63 38-60-38 7-76 53-29 78 0 77-8 78-4 48 41-10 76-38 40M7266 3332l-39-31 39-21 31 21-31 31M7887 3430l-46-53-32-53-17-23 17-18 78-4 40 22 15 76-55 53M8352 3384l-77 1-16-8-62-38-77-25-78 20-39-33 39-21 78 12 77-28 78-2 77 11 78 7 78-45 77 15 44 51-44 60-77-8-78-22-68 46-10 7M8818 3432l-78-37-35-18 35-27 39-49 39-12 78-27 77 37 78-13 77 6 78-27 63 36-63 24-78-18-77 1-78-3-77 44-34 28-44 55M9439 3346l-78 27-63-72 63-38 78-7 64 45-64 45M9594 3313l-28-12 28-12 20 12-20 12M9749 3411l-38-34 1-76 37-24 44 24-6 76-38 34M7033 3491l-54-37 54-40 37 40-37 37M9128 3490l-13-36 13-12 30 12-30 36M9439 3606l-78-27-77-4-68-44 41-77 27-22 14 22 63 41 78 29 4 7-4 75M6723 3658l-78-7-77-8-78-22-20-13 20-26 78 3 77-28 29-26 49-59 78 23 23 36-23 44-21 33-57 50M7732 3598l-31-67 31-48 61 48-61 67M8197 3563l-77 28-64-60 64-35 77 4 34 31-34 32M8508 3849l-11-11-13-76 11-77-29-77 6-77 36-35 20 35 57 54 78-54 0-1 0 1 77 33 78 10 21 34 14 77-35 33-72-33-6-5-77-30-78 14-35 21-17 77-16 76-9 11M9051 3568l-50-37 50-18 43 18-43 37M7654 3643l-77-7-78-19-78 24-77 26-78-37-45-22 45-37 78-13 77 6 78 12 78-40 77 35 71 37-71 35M7809 3644l-69-36 69-63 23 63-23 36M8042 3672l-56-64 56-67 65 67-65 64M8973 3649l-18-41 18-58 48 58-48 41M9827 3694l-27-9 27-30 17 30-17 9M7654 4015l-35-23 34-77-26-77 27-21 35-55 43-56 77 50 2 6 20 76 16 77-38 25-77 10-53 42-25 23M9516 3826l-28-64 28-15 25 15-25 64M6645 3958l-77 14-55-57 55-23 66-54 11-36 30 36 22 77-52 43M7033 3886l-61-48 61-44 46 44-46 48M7189 3856l-16-18 16-8 17 8-17 18M9439 3871l-31-33 31-38 69 38-69 33M9594 3867l-53-29 53-12 11 12-11 29M9827 3843l-6-5 6-3 5 3-5 5M6413 3949l-33-34 33-53 53 53-53 34M6956 3946l-78-24-6-7 6-6 78-41 31 47-31 31M7421 3957l-77-28-78 40-47-54 47-47 78 34 77-28 56 41-56 42M7965 3936l-24-21 24-18 36 18-36 21M8352 3926l-26-11 26-10 13 10-13 11M8896 3942l-52-27 52-36 32 36-32 27M8740 4013l-14-21 14-41 22 41-22 21M6335 4012l32 57-32 49M6568 4079l-19-10 19-30 10 30-10 10M9361 4088l-24-19 24-29 18 29-18 19M7189 4164l-29-18 29-19 29 19-29 18M9206 4148l-4-2 4-2 2 2-2 2M9361 4228l-3-5 3-4 4 4-4 5M8430 4407l-34-31 34-35 33 35-33 31M7732 4458l-78 24-46-29 46-31 78 26 4 5-4 5M8275 4464l-19-11 19-11 17 11-17 11M8740 4471l-77-14-16-4 16-9 77-18 28 27-28 18M9284 4471l-33-18 33-23 42 23-42 18M9672 4468l-21-15 21-21 24 21-24 15M8352 4608l-5-1 5-2 28 2-28 1M7033 5078l-22-10 18-77 4-4 4 4 17 77-21 10M7577 5030l-26-39 26-15 25 15-25 39M8275 5000l-78 15-25-24 25-31 78 20 9 11-9 9M6645 5079l-31-11 31-21 37 21-37 11M8663 5068l-1 0 1-2 1 2-1 0M9439 5300l-3-2 3-1 2 1-2 2M6384 1303l29 25 77 13 78-16 48 55 29 38 63 39-63 58-77-9-33 27-19 77 5 77-31 32-77-18-67 63 67 52 77 19 20 6 58 16 52-16 25-8 19 8 3 77-22 44-77-6-78 22-68-60-9-22-10 22-68 47M6929 1303l27 27 49 50-49 57-10 20-68 54-77-34-52-20-26-31-20-46-24-77M6764 1303l37 31 34-31M7044 1303l-11 38-40-38M8076 1303l14 77-48 65-18 12-59 38-78-1-36 39-36 77-6 18-32-18-45-26-28 26 28 33 28 44-28 7-78 25-77-16-78 26-78-7-77-3-78-24-77-4-21-4-8-77 29-52 38 52 39 41 39-41-39-44-47-33-30-31-27-45-51-32-56-45 56-23 61-54M7635 1610l-58-59-18-18 18-21 26-55-26-29-64-48-14-31-14 31 1 77-65 45-44 31-21 77 65 50 78-18 78 30 58-62M7767 1303l20 77 22 12 35-12 3-77M8749 1303l-9 9-31 68-1 77-1 76 33 56 78 13 17 8-17 15-78 20-65 42-12 3-2-3-41-77 11-77-25-76-5-77-16-14-37 14 5 77-45 27-78 20-62 29 62 64 7 13-7 18-78-7-7-11-7-77-63-43-62 43-16 13-77-5-42-8-5-76 47-25 41-52 36-73 19-4M8367 1303l-15 16-50 61 50 66 52-66 26-24 38-53M8818 1464l-9-7-9-77 18-18 44 18-28 77-16 7M8951 1303l-55 53-27-53M8973 1545l-9-12-42-76-8-77 59-60 78 36 31 24-31 37-15 40-46 76-17 12M9206 1545l-78 16-23-28-39-76 62-58 32-19 46-18 78-35 34 53-34 54-32 23-38 76-8 12M9366 1303l-5 11-24-11M9672 1464l-78 4-12-11 12-33 41-44 37-13 13 13-6 77-7 7M9982 1511l-30 22-48 14-31-14-27-76 49-77 9-7 21 7 57 51M9361 1484l-60-27 60-41 52 41-52 27M6335 1666l78 13 68-69-68-53-78 26M6723 1690l-7-3-71-35-49-42 49-61 78 29 42 32-33 77-9 3M6878 1695l-22-8-6-77 28-23 37 23-10 77-27 8M9982 1696l-10-9 1-77 9-38M8896 1699l-30-12 30-33 14 33-14 12M9827 1696l-15-9 15-11 11 11-11 9M7189 2481l-78-1-78 27-77-16-52-36-26-42-36-34-14-77-27-26-37 26-6 77-27 76-8 13-13-13-8-76-31-77-26-21-77-29-41-27 41-31 77-9 78-25 8-12 21-77-29-43-36-34 36-15 57-61 1-77 20-6 77-12 59 18-59 66-18 11-36 76 27 77 10 77 17 24 78 38 33 15-26 77 38 77 32 9 38-9 40-15 78-24 63-38-63-75-4-2-74-41-54-36 54-15 67-62 11-43 16 43 47 77 14 46 78 21 4 10-4 20-48 57 29 77-59 50-29 26-48 26M7189 1976l-78-13-78-11-77-2-72-32 72-66 31-11 46-10 39 10 39 15 78 22 31 40-31 58M7887 1974l-78 4-77-24-78 31-77-25-78-1-78-10-77-24-13-7 13-13 77-38 58-26 20-9 78-27 37 36 40 32 78 2 77-3 67-31 11-5 10 5 45 77-55 56M8275 1980l-78-45-77-12-13-5 13-10 60-67 17-9 78-17 35 26 16 77-51 62M9749 1936l-77 14-78-3-78-16-19-13-58-65-6-12 6-6 77-4 18 10 60 33 78 10 77 5 38 29-38 18M8740 2014l-51-20-26-33-78-16-77 8-78 6-28-41 28-33 78 10 77 7 78-10 77-2 78-17 64 45-64 67-27 9-51 20M8973 1933l-36-15 36-12 31 12-31 15M9361 1924l-77 5-78 26-78-18-52-19 52-30 78-21 78 28 77 17 12 6-12 6M9904 2081l-20-10 1-77-24-76 43-21 36 21-19 76-12 77-5 10M8042 2020l-77 33-40-59 40-35 77 4 16 31-16 26M8896 2006l-37-12 37-29 11 29-11 12M9672 2250l-78 15-78-26-38-14-39-39-24-38-3-77 22-77 5-10 6 10 4 77 67 62 28 15 50 53 78-14 60 38-60 25M6335 2107l59-36 19-34 42 34 35 52 17 25-17 24-46 53 46 34 29 43 49 55 14 22-14 10-67 66 67 66 13 11-13 15-78 0-77 23-78-14M7577 2227l-2-2-76-63-78 9-42-23 36-77 6-13 29 13 49 37 78-1 77 9 62 32-62 36-74 41-3 2M8120 2546l-25-14-53-47-47 47-30 18-13-18 0-77 13-33 35-43 34-77-69-41-62-36-16-12-60-65 49-77 11-29 51 29 27 10 77 58 20 9 14 77 44 37 15 40 19 77 22 76-32 77-24 14M8818 2110l-18-39 18-48 19 48-19 39M8197 2156l-17-8 17-71 16 71-16 8M8585 2408l-26-29-51-50-15-27-63-52-78 30-77-44-16-11 16-27 77-35 26-15 52-26 78-10 77 26 36 10 42 24 54 53-54 53-24 24-36 77-18 29M8896 2195l-34-47 34-15 18 15-18 47M9827 2158l-36-10 36-27 13 27-13 10M6335 2335l61 44-26 76 43 29 57-29-37-76-20-22-36-55 16-77-58-25M7809 2419l-60-40 33-77-50-35-41-42 41-63 77 10 60 53-37 77 23 77-46 40M8896 2354l-78-42-10-10-49-77 59-59 67 59 11 14 36 63-36 52M9128 2246l-77-14-78 35-66-42 66-42 78 33 77-4 19 13-19 21M9361 2469l-30-14 9-76 20-77 1-12 6 12 20 77-12 76-14 14M7732 2535l-78 30-77-16-78-3-78-5-35-9-42-41-40-36 40-49 35-27 42-18 10 18 68 56 78-23 18-33 59-54 56 54-17 76 39 65 4 12-4 3M8430 2404l-13-25 13-9 18 9-18 25M9206 2411l-30-32 30-22 31 22-31 32M9749 2379l0 0 0-1 1 1-1 0M9982 2550l-78 6-62-24 19-77 6-76 37-68 18 68 38 76 22 26M8352 2509l-20-54 20-28 45 28-45 54M8663 2517l-51-62 51-36 58 36-58 62M8896 2541l-78 21-78-26-37-4 37-32 78-29 27-16 51-39 77 32 9 7-9 12-56 65-21 9M7266 2538l-12-6 12-29 26 29-26 6M8585 2553l-77 11-78-10-68-22 68-62 78 23 77-10 62 49-62 21M9284 2555l-78-10-78 10-77-4-46-19 46-38 77-13 78 33 78-32 31 50-31 23M9594 2549l-78-8-34-9 34-32 78 5 48 27-48 17M9749 2569l-59-37 59-40 66 40-66 37M6335 2674l34 12-9 77-25 26M6568 2740l-24-54 24-32 24 32-24 54M6878 2710l-23-24 23-9 35 9-35 24M7033 2693l-5-7 5-2 10 2-10 7M7266 2716l-77 23-63-53 63-28 77 17 25 11-25 30M7577 2875l-43-35-35-27-26-50-19-77 45-33 57 33 21 45 29 32-8 77-21 35M7732 2693l-8-7 8-5 12 5-12 7M7965 2735l-38-49 38-35 64 35-64 49M8120 2739l-68-53 68-41 40 41-40 53M8508 2687l-1-1 1-1 1 1-1 1M8740 2700l-26-14 26-3 19 3-19 14M9672 2772l-11-9-67-44-47-33 47-27 78 22 19 5 5 77-24 9M9827 2702l-29-16 29-25 8 25-8 16M6723 2764l-2-1 2-3 2 3-2 1M7111 2791l-35-28 35-43 31 43-31 28M7887 2765l-1-2 1-2 4 2-4 2M8430 2812l-18-49 18-33 37 33-37 49M9206 2773l-19-10 19-11 16 11-16 10M6645 2916l-50-76 50-31 26 31-26 76M6801 2864l-21-24 21-26 26 26-26 24M7344 2958l-72-42 33-76 39-68 44 68-1 76-43 42M8197 2903l-54-63 54-36 57 36-57 63M9284 2845l-6-5 6-9 4 9-4 5M6335 3027l23-34 44-77 11-15 29 15 48 40 37 37 21 77-58 73-38 4-39 2-69 75 69 73 13 4 7 76-8 77-12 9-34-9-44-13M6723 3169l-78 11-77-31-34-2 34-8 47-69 30-7 78-7 78-10 44-53 33-46 55-31 23-25 14 25 17 77-31 51-16 26-62 34-77 4-35 39-43 22M7189 3085l-78 24-65-39 19-77 29-77 17-25 28 25 50 44 21 33-6 77-15 15M7809 2942l-77-14-78-8-14-4 14-6 78-41 77 3 25 44-25 26M8042 3035l-53-42 31-77 22-30 30 30 9 77-39 42M8663 2929l-15-13 15-20 16 20-16 13M8973 2921l-2-5 2-4 24 4-24 5M9516 2917l-77 27-9-28 9-8 77 8 0 0 0 1M7577 3174l-64-27-14-27-78-19-18-31 18-20 63-57 15-14 27 14 51 22 77 45 31 10-31 16-42 61-35 27M8275 3167l-30-20-48-44-53-33 53-52 66-25 12-4 3 4 74 75 8 2-8 2-56 75-21 20M9128 3016l-17-23 17-10 12 10-12 23M7809 3078l-15-8 15-5 7 5-7 8M7965 3098l-16-28 16-28 18 28-18 28M8508 3082l-30-12 30-31 16 31-16 12M8818 3149l-3-2-75-65-77 14-36-26 36-38 77 7 78-14 78 21 29 24-29 45-68 32-10 2M9361 3167l-77-18-6-2-22-77 28-73 13 73 64 54 29 23-29 20M9594 3089l-78 24-59-43 59-59 78 41 34 18-34 19M9749 3117l-53-47 53-36 39 36-39 47M9982 3086l-78-4-7-12 7-3 78-6M6956 3157l-20-10 20-48 16 48-16 10M7266 3149l-6-2 6-6 16 6-16 2M8042 3151l-21-4 21-13 23 13-23 4M9128 3167l-43-20 43-48 28 48-28 20M7111 3387l-10-10-68-65-77 10-66 55-12 7-11-7 0-76 11-7 78-3 77 0 78-4 16 14-7 76-9 10M7887 3388l-9-11 8-76 1-1 0 1 11 76-11 11M8352 3333l-77-8-78-19-15-5 15-6 78-4 77 0 75 10-75 32M8585 3318l-77 14-77-31 77-40 77 25 13 15-13 17M8896 3319l-48-18 48-16 32 16-32 18M9206 3306l-19-5 19-8 14 8-14 5M9439 3322l-78-2-16-19 16-10 78-12 30 22-30 21M8818 3388l-21-11 21-30 9 30-9 11M9749 3385l-8-8 8-31 8 31-8 8M7033 3457l-4-3 4-3 3 3-3 3M6723 3617l-78 2-77-5-19-6 19-4 77-10 69-63 9-11 28 11-18 77-10 9M8197 3532l-77 8-10-9 10-5 77 4 1 1-1 1M9361 3534l-77 15-28-18 28-38 77 36 6 2-6 3M7344 3625l-78-16-3-1 3-2 78-12 55 14-55 17M7654 3614l-34-6 34-6 11 6-11 6M7809 3608l-1 0 1-1 1 1-1 0M8042 3634l-22-26 22-27 26 27-26 26M8585 3615l-77 29-13-36 13-67 77 64 19 3-19 7M8740 3631l-40-23 40-14 75 14-75 23M8818 3688l-7-3 7-66 4 66-4 3M7809 3922l-77 2-19-9-13-77 20-76 12-16 23 16 54 64 4 12 6 77-10 7M7033 3863l-31-25 31-22 23 22-23 25M9439 3842l-4-4 4-4 8 4-8 4M6413 3917l-2-2 2-2 2 2-2 2M6645 3927l-77-5-7-7 7-3 77-28 15 31-15 12M7266 3941l-22-26 22-22 45 22-45 26M7421 3933l-41-18 41-18 24 18-24 18M6335 4061l4 8-4 7M8430 4383l-7-7 7-8 7 8-7 7M7654 4455l-3-2 3-2 6 2-6 2M9284 4456l-6-3 6-4 7 4-7 3M6490 1470l-22-13-18-77 40-10 78-12 19 22-19 52-59 25-19 13M6878 1469l-27-12 1-77 26-23 23 23-7 77-16 12M7266 1438l-77-14-69-44 69-52 77 20 47 32-47 58M7344 1554l-18-21-44-76 62-49 18-28 59-49 28 49 9 77-37 26-72 50-5 21M7577 1400l-28-20 28-54 55 54-55 20M7678 1303l-24 35-35-35M8060 1303l7 77-25 33-67 44-10 7-23-7-9-77-4-77M8275 1457l-78 49-57-49 54-77 3-8 18 8 60 75 1 2-1 0M8668 1303l15 77-2 77-3 76 31 77-46 36-19-36 8-77-12-76-4-77-51-46-77-1-10-30M6335 1389l68 68 10 53 14 23-14 3-78 23M7654 1563l-27-30 2-76 25-59 78 21 77 24 26 14-26 29-77 5-48 42-30 30M8430 1479l-40-22 40-52 67 52-67 22M8973 1470l-6-13 6-56 8 56-8 13M9128 1472l-6-15 6-7 18 7-18 15M9361 1464l-16-7 16-11 14 11-14 7M9904 1476l-11-19 11-20 24 20-24 19M6645 1618l-9-8 9-11 25 11-25 8M6490 1689l-6-2 6-7 2 7-2 2M7499 1704l-78-10-77 6-41-13 41-42 77 37 78-13 39 18-39 17M7654 1701l-41-14 41-44 42 44-42 14M7577 1858l-13-17 13-5 5 5-5 17M8275 1943l-52-25 30-77 22-5 6 5 15 77-21 25M6335 1864l28 54-28 19M6568 1928l-78 16-30-26 30-37 78 20 34 17-34 10M7111 1938l-78-5-77-2-29-13 29-27 77-19 78 18 68 28-68 20M7887 1919l-78 31-77-17-78 13-44-28 44-19 78 0 77-6 78 22 2 3-2 1M8818 1949l-78 1-26-32 26-7 78-14 30 21-30 31M9206 1939l-78-21 0 0 0-1 78-28 54 29-54 21M9672 1920l-78 10-43-12 43-19 78 16 8 3-8 2M6335 2134l33 14-33 18M6801 2211l-32-63 32-55 27 55-27 63M7189 2187l-54-39 54-46 31 46-31 39M7421 2155l-12-7 12-28 37 28-37 7M7654 2153l-19-5 19-4 8 4-8 5M7887 2176l-26-28 26-39 64 39-64 28M8508 2254l-41-29-18-77 59-17 48 17 24 77-72 29M6723 2245l-24-20 24-10 38 10-38 20M6878 2260l-37-35 37-8 16 8-16 35M7809 2248l-77-11-12-12 12-19 77 12 8 7-8 23M7965 2233l-15-8 15-50 31 50-31 8M8352 2243l-34-18 34-20 44 20-44 18M8663 2230l-62-5 62-5 5 5-5 5M8818 2254l-19-29 19-19 22 19-22 29M8973 2236l-17-11 17-11 23 11-23 11M9672 2226l-11-1 11-2 3 2-3 1M6413 2309l-5-7 5-13 16 13-16 7M8585 2314l-12-12 12-64 7 64-7 12M6335 2360l26 19-26 56M6490 2403l-14-24 14-29 25 29-25 24M7189 2411l-28-32 28-11 35 11-35 32M7654 2406l-13-27 13-13 13 13-13 27M7809 2396l-26-17 26-53 20 53-20 17M8120 2465l-12-10-17-76 29-45 8 45-3 76-5 10M9206 2380l-1-1 1-1 1 1-1 1M7033 2481l-77-17-13-9 13-27 77-6 61 33-61 26M6335 2519l78-2 41 15-41 12-78-10M7654 2544l-38-12 38-39 30 39-30 12M8508 2543l-78-3-23-8 23-21 78 7 58 14-58 11M8818 2533l-1-1 1 0 1 0-1 1M9128 2537l-77-1-9-4 9-7 77-2 23 9-23 5M9749 2544l-19-12 19-13 21 13-21 12M9904 2533l-3-1 3-7 7 7-7 1M6568 2687l-1-1 1-1 0 1 0 1M7189 2706l-24-20 24-10 38 10-38 20M7499 2741l-20-55 20-15 25 15-25 55M7965 2695l-7-9 7-6 11 6-11 9M8120 2708l-28-22 28-17 16 17-16 22M9594 2696l-15-10 15-8 27 8-27 10M8430 2767l-1-4 1-3 3 3-3 4M6645 2842l-1-2 1-1 1 1-1 2M7344 2933l-30-17 16-76 14-25 16 25 1 76-17 17M8197 2850l-9-10 9-6 10 6-10 10M7809 2917l-5-1 5-1 1 1-1 1M6413 3026l-15-33 15-27 35 27-35 33M6878 3078l-41-8 36-77 5-7 26 7-12 77-14 8M7111 3087l-28-17 16-77 12-28 34 28 6 77-40 17M8042 3002l-12-9 12-54 9 54-9 9M6490 3090l-33-20 33-36 16 36-16 20M7577 3150l-9-3-21-77 30-13 26 13-22 77-4 3M8275 3126l-78-55-2-1 2-2 78-19 20 21-20 56M8663 3072l-2-2 2-2 9 2-9 2M8896 3070l-78 41-52-41 52-23 78 23 0 0 0 0M9516 3087l-23-17 23-23 41 23-41 17M9749 3078l-9-8 9-6 7 6-7 8M6645 3154l-16-7 16-21 72 21-72 7M8508 3313l-31-12 31-16 41 16-41 12M6335 3331l61 46-61 33M7033 3841l-3-3 3-2 3 2-3 3M7189 1383l-6-3 6-4 10 4-10 3M8047 1303l0 77-5 7-29-7-3-77M8599 1303l-14 5-19-5M6335 1422l34 35-12 76-22 7M7421 1466l-43-9 43-70 14 70-14 9M7654 1475l-4-18 4-10 21 10-21 18M8197 1471l-17-14 17-26 24 26-24 14M8430 1458l-2-1 2-3 4 3-4 1M7033 1918l-8 0 8-1 39 1-39 0M7809 1926l-60-8 60-7 21 7-21 8M8818 1918l-3 0 3-1 1 1-1 0M9206 1925l-28-7 28-11 19 11-19 7M7189 2154l-8-6 8-6 4 6-4 6M8508 2161l-6-13 6-1 4 1-4 13M7033 2459l-16-4 16-4 9 4-9 4M8818 3078l-10-8 10-4 15 4-15 8M6335 3368l12 9-12 7M6335 1453l4 4-4 12"/>
<g font-family="Liberation Sans, sans-serif" font-size="9.5" fill="#40404a"><text x="266.0" y="260" text-anchor="middle">1386.8</text><text x="349.5" y="260" text-anchor="middle">1386.8</text><text x="147.5" y="328" text-anchor="middle">1385.6</text><text x="279.0" y="449" text-anchor="middle">1387.2</text><text x="205.5" y="522" text-anchor="middle">1386.4</text><text transform="translate(393.0 541) rotate(-28)" y="3.5" text-anchor="middle">1388.0</text><text x="325.0" y="559" text-anchor="middle">1385.6</text><text x="382.0" y="590" text-anchor="middle">1385.2</text><text transform="translate(709.5 171) rotate(-15)" y="3.5" text-anchor="middle">955.6</text><text transform="translate(943.0 160) rotate(-25)" y="3.5" text-anchor="middle">955.6</text><text x="950.5" y="260" text-anchor="middle">955.6</text><text transform="translate(722.0 263) rotate(-40)" y="3.5" text-anchor="middle">955.6</text><text transform="translate(763.5 318) rotate(-10)" y="3.5" text-anchor="middle">955.6</text><text transform="translate(678.0 497) rotate(-20)" y="3.5" text-anchor="middle">953.4</text><text transform="translate(929.0 539) rotate(-20)" y="3.5" text-anchor="middle">952.7</text></g></g>
<g font-family="Liberation Sans, sans-serif" fill="#000">
<text x="187.50" y="30.50" font-size="25.41" textLength="172.53" lengthAdjust="spacingAndGlyphs">BB-SV in M15</text>
<text x="734.00" y="31.00" font-size="26.06" textLength="174.53" lengthAdjust="spacingAndGlyphs">SD-SV in M15</text>
<text x="66.00" y="93.50" font-size="21.35" textLength="53.13" lengthAdjust="spacingAndGlyphs">1382</text>
<text x="132.00" y="93.50" font-size="21.35" textLength="52.05" lengthAdjust="spacingAndGlyphs">1384</text>
<text x="203.50" y="93.50" font-size="21.35" textLength="52.09" lengthAdjust="spacingAndGlyphs">1386</text>
<text x="273.50" y="93.50" font-size="21.35" textLength="53.17" lengthAdjust="spacingAndGlyphs">1388</text>
<text x="349.50" y="93.50" font-size="21.35" textLength="52.16" lengthAdjust="spacingAndGlyphs">1390</text>
<text x="421.00" y="93.50" font-size="21.35" textLength="51.10" lengthAdjust="spacingAndGlyphs">1392</text>
<text x="642.50" y="93.00" font-size="20.78" textLength="39.55" lengthAdjust="spacingAndGlyphs">950</text>
<text x="710.00" y="93.00" font-size="20.78" textLength="39.13" lengthAdjust="spacingAndGlyphs">952</text>
<text x="778.00" y="93.00" font-size="20.78" textLength="38.04" lengthAdjust="spacingAndGlyphs">954</text>
<text x="840.50" y="93.00" font-size="20.78" textLength="39.55" lengthAdjust="spacingAndGlyphs">956</text>
<text x="907.00" y="93.00" font-size="20.78" textLength="39.59" lengthAdjust="spacingAndGlyphs">958</text>
<text x="975.00" y="93.00" font-size="20.78" textLength="39.04" lengthAdjust="spacingAndGlyphs">960</text>
<text x="141.00" y="707.00" font-size="26.11" textLength="33.27" lengthAdjust="spacingAndGlyphs">10</text>
<text x="219.00" y="707.00" font-size="26.11" textLength="32.62" lengthAdjust="spacingAndGlyphs">20</text>
<text x="297.50" y="707.00" font-size="26.11" textLength="33.19" lengthAdjust="spacingAndGlyphs">30</text>
<text x="374.00" y="707.00" font-size="26.11" textLength="32.05" lengthAdjust="spacingAndGlyphs">40</text>
<text x="689.50" y="707.00" font-size="26.11" textLength="31.70" lengthAdjust="spacingAndGlyphs">10</text>
<text x="766.50" y="707.00" font-size="26.11" textLength="33.15" lengthAdjust="spacingAndGlyphs">20</text>
<text x="846.00" y="707.00" font-size="26.11" textLength="31.57" lengthAdjust="spacingAndGlyphs">30</text>
<text x="922.00" y="707.00" font-size="26.11" textLength="31.57" lengthAdjust="spacingAndGlyphs">40</text>
<text x="47.00" y="232.00" font-size="27.54" textLength="34.22" lengthAdjust="spacingAndGlyphs">60</text>
<text x="594.50" y="232.00" font-size="27.54" textLength="34.18" lengthAdjust="spacingAndGlyphs">60</text>
<text x="49.50" y="386.00" font-size="27.51" textLength="32.57" lengthAdjust="spacingAndGlyphs">40</text>
<text x="596.00" y="386.00" font-size="27.51" textLength="33.58" lengthAdjust="spacingAndGlyphs">40</text>
<text x="50.50" y="539.50" font-size="26.79" textLength="32.62" lengthAdjust="spacingAndGlyphs">20</text>
<text x="597.00" y="539.50" font-size="26.79" textLength="33.70" lengthAdjust="spacingAndGlyphs">20</text>
<text x="163.50" y="745.82" font-size="26.69" textLength="213.52" lengthAdjust="spacingAndGlyphs">Sample Number</text>
<text x="711.50" y="745.82" font-size="26.69" textLength="213.52" lengthAdjust="spacingAndGlyphs">Sample Number</text>
<text transform="translate(32.50,477.50) rotate(-90)" font-size="27.46" textLength="187.52" lengthAdjust="spacingAndGlyphs">Scan Number</text>
<text transform="translate(580.00,477.50) rotate(-90)" font-size="27.46" textLength="187.52" lengthAdjust="spacingAndGlyphs">Scan Number</text>
</g>
<rect x="86.4" y="43.0" width="364.4" height="24.3" fill="url(#cb)" stroke="#1a1a1a" stroke-width="1.3"/>
<line x1="122.8" x2="122.8" y1="43.0" y2="45.2" stroke="#1a1a1a" stroke-width="1.4"/>
<line x1="122.8" x2="122.8" y1="64.7" y2="67.3" stroke="#1a1a1a" stroke-width="1.4"/>
<line x1="159.3" x2="159.3" y1="43.0" y2="45.2" stroke="#1a1a1a" stroke-width="1.4"/>
<line x1="159.3" x2="159.3" y1="60.9" y2="67.3" stroke="#1a1a1a" stroke-width="1.4"/>
<line x1="195.7" x2="195.7" y1="43.0" y2="45.2" stroke="#1a1a1a" stroke-width="1.4"/>
<line x1="195.7" x2="195.7" y1="64.7" y2="67.3" stroke="#1a1a1a" stroke-width="1.4"/>
<line x1="232.2" x2="232.2" y1="43.0" y2="45.2" stroke="#1a1a1a" stroke-width="1.4"/>
<line x1="232.2" x2="232.2" y1="60.9" y2="67.3" stroke="#1a1a1a" stroke-width="1.4"/>
<line x1="268.6" x2="268.6" y1="43.0" y2="45.2" stroke="#1a1a1a" stroke-width="1.4"/>
<line x1="268.6" x2="268.6" y1="64.7" y2="67.3" stroke="#1a1a1a" stroke-width="1.4"/>
<line x1="305.0" x2="305.0" y1="43.0" y2="45.2" stroke="#1a1a1a" stroke-width="1.4"/>
<line x1="305.0" x2="305.0" y1="60.9" y2="67.3" stroke="#1a1a1a" stroke-width="1.4"/>
<line x1="341.5" x2="341.5" y1="43.0" y2="45.2" stroke="#1a1a1a" stroke-width="1.4"/>
<line x1="341.5" x2="341.5" y1="64.7" y2="67.3" stroke="#1a1a1a" stroke-width="1.4"/>
<line x1="377.9" x2="377.9" y1="43.0" y2="45.2" stroke="#1a1a1a" stroke-width="1.4"/>
<line x1="377.9" x2="377.9" y1="60.9" y2="67.3" stroke="#1a1a1a" stroke-width="1.4"/>
<line x1="414.4" x2="414.4" y1="43.0" y2="45.2" stroke="#1a1a1a" stroke-width="1.4"/>
<line x1="414.4" x2="414.4" y1="64.7" y2="67.3" stroke="#1a1a1a" stroke-width="1.4"/>
<rect x="86.4" y="130.3" width="364.4" height="545.5" fill="none" stroke="#1a1a1a" stroke-width="1.3"/>
<line x1="94.2" x2="94.2" y1="675.8" y2="670.8" stroke="#1a1a1a" stroke-width="1.2"/>
<line x1="94.2" x2="94.2" y1="130.3" y2="135.3" stroke="#1a1a1a" stroke-width="1.2"/>
<line x1="101.9" x2="101.9" y1="675.8" y2="670.8" stroke="#1a1a1a" stroke-width="1.2"/>
<line x1="101.9" x2="101.9" y1="130.3" y2="135.3" stroke="#1a1a1a" stroke-width="1.2"/>
<line x1="109.7" x2="109.7" y1="675.8" y2="670.8" stroke="#1a1a1a" stroke-width="1.2"/>
<line x1="109.7" x2="109.7" y1="130.3" y2="135.3" stroke="#1a1a1a" stroke-width="1.2"/>
<line x1="117.4" x2="117.4" y1="675.8" y2="670.8" stroke="#1a1a1a" stroke-width="1.2"/>
<line x1="117.4" x2="117.4" y1="130.3" y2="135.3" stroke="#1a1a1a" stroke-width="1.2"/>
<line x1="125.2" x2="125.2" y1="675.8" y2="670.8" stroke="#1a1a1a" stroke-width="1.2"/>
<line x1="125.2" x2="125.2" y1="130.3" y2="135.3" stroke="#1a1a1a" stroke-width="1.2"/>
<line x1="132.9" x2="132.9" y1="675.8" y2="670.8" stroke="#1a1a1a" stroke-width="1.2"/>
<line x1="132.9" x2="132.9" y1="130.3" y2="135.3" stroke="#1a1a1a" stroke-width="1.2"/>
<line x1="140.7" x2="140.7" y1="675.8" y2="670.8" stroke="#1a1a1a" stroke-width="1.2"/>
<line x1="140.7" x2="140.7" y1="130.3" y2="135.3" stroke="#1a1a1a" stroke-width="1.2"/>
<line x1="148.4" x2="148.4" y1="675.8" y2="670.8" stroke="#1a1a1a" stroke-width="1.2"/>
<line x1="148.4" x2="148.4" y1="130.3" y2="135.3" stroke="#1a1a1a" stroke-width="1.2"/>
<line x1="156.2" x2="156.2" y1="675.8" y2="664.8" stroke="#1a1a1a" stroke-width="1.2"/>
<line x1="156.2" x2="156.2" y1="130.3" y2="141.3" stroke="#1a1a1a" stroke-width="1.2"/>
<line x1="163.9" x2="163.9" y1="675.8" y2="670.8" stroke="#1a1a1a" stroke-width="1.2"/>
<line x1="163.9" x2="163.9" y1="130.3" y2="135.3" stroke="#1a1a1a" stroke-width="1.2"/>
<line x1="171.7" x2="171.7" y1="675.8" y2="670.8" stroke="#1a1a1a" stroke-width="1.2"/>
<line x1="171.7" x2="171.7" y1="130.3" y2="135.3" stroke="#1a1a1a" stroke-width="1.2"/>
<line x1="179.4" x2="179.4" y1="675.8" y2="670.8" stroke="#1a1a1a" stroke-width="1.2"/>
<line x1="179.4" x2="179.4" y1="130.3" y2="135.3" stroke="#1a1a1a" stroke-width="1.2"/>
<line x1="187.2" x2="187.2" y1="675.8" y2="670.8" stroke="#1a1a1a" stroke-width="1.2"/>
<line x1="187.2" x2="187.2" y1="130.3" y2="135.3" stroke="#1a1a1a" stroke-width="1.2"/>
<line x1="194.9" x2="194.9" y1="675.8" y2="670.8" stroke="#1a1a1a" stroke-width="1.2"/>
<line x1="194.9" x2="194.9" y1="130.3" y2="135.3" stroke="#1a1a1a" stroke-width="1.2"/>
<line x1="202.7" x2="202.7" y1="675.8" y2="670.8" stroke="#1a1a1a" stroke-width="1.2"/>
<line x1="202.7" x2="202.7" y1="130.3" y2="135.3" stroke="#1a1a1a" stroke-width="1.2"/>
<line x1="210.5" x2="210.5" y1="675.8" y2="670.8" stroke="#1a1a1a" stroke-width="1.2"/>
<line x1="210.5" x2="210.5" y1="130.3" y2="135.3" stroke="#1a1a1a" stroke-width="1.2"/>
<line x1="218.2" x2="218.2" y1="675.8" y2="670.8" stroke="#1a1a1a" stroke-width="1.2"/>
<line x1="218.2" x2="218.2" y1="130.3" y2="135.3" stroke="#1a1a1a" stroke-width="1.2"/>
<line x1="226.0" x2="226.0" y1="675.8" y2="670.8" stroke="#1a1a1a" stroke-width="1.2"/>
<line x1="226.0" x2="226.0" y1="130.3" y2="135.3" stroke="#1a1a1a" stroke-width="1.2"/>
<line x1="233.7" x2="233.7" y1="675.8" y2="664.8" stroke="#1a1a1a" stroke-width="1.2"/>
<line x1="233.7" x2="233.7" y1="130.3" y2="141.3" stroke="#1a1a1a" stroke-width="1.2"/>
<line x1="241.5" x2="241.5" y1="675.8" y2="670.8" stroke="#1a1a1a" stroke-width="1.2"/>
<line x1="241.5" x2="241.5" y1="130.3" y2="135.3" stroke="#1a1a1a" stroke-width="1.2"/>
<line x1="249.2" x2="249.2" y1="675.8" y2="670.8" stroke="#1a1a1a" stroke-width="1.2"/>
<line x1="249.2" x2="249.2" y1="130.3" y2="135.3" stroke="#1a1a1a" stroke-width="1.2"/>
<line x1="257.0" x2="257.0" y1="675.8" y2="670.8" stroke="#1a1a1a" stroke-width="1.2"/>
<line x1="257.0" x2="257.0" y1="130.3" y2="135.3" stroke="#1a1a1a" stroke-width="1.2"/>
<line x1="264.7" x2="264.7" y1="675.8" y2="670.8" stroke="#1a1a1a" stroke-width="1.2"/>
<line x1="264.7" x2="264.7" y1="130.3" y2="135.3" stroke="#1a1a1a" stroke-width="1.2"/>
<line x1="272.5" x2="272.5" y1="675.8" y2="670.8" stroke="#1a1a1a" stroke-width="1.2"/>
<line x1="272.5" x2="272.5" y1="130.3" y2="135.3" stroke="#1a1a1a" stroke-width="1.2"/>
<line x1="280.2" x2="280.2" y1="675.8" y2="670.8" stroke="#1a1a1a" stroke-width="1.2"/>
<line x1="280.2" x2="280.2" y1="130.3" y2="135.3" stroke="#1a1a1a" stroke-width="1.2"/>
<line x1="288.0" x2="288.0" y1="675.8" y2="670.8" stroke="#1a1a1a" stroke-width="1.2"/>
<line x1="288.0" x2="288.0" y1="130.3" y2="135.3" stroke="#1a1a1a" stroke-width="1.2"/>
<line x1="295.7" x2="295.7" y1="675.8" y2="670.8" stroke="#1a1a1a" stroke-width="1.2"/>
<line x1="295.7" x2="295.7" y1="130.3" y2="135.3" stroke="#1a1a1a" stroke-width="1.2"/>
<line x1="303.5" x2="303.5" y1="675.8" y2="670.8" stroke="#1a1a1a" stroke-width="1.2"/>
<line x1="303.5" x2="303.5" y1="130.3" y2="135.3" stroke="#1a1a1a" stroke-width="1.2"/>
<line x1="311.2" x2="311.2" y1="675.8" y2="664.8" stroke="#1a1a1a" stroke-width="1.2"/>
<line x1="311.2" x2="311.2" y1="130.3" y2="141.3" stroke="#1a1a1a" stroke-width="1.2"/>
<line x1="319.0" x2="319.0" y1="675.8" y2="670.8" stroke="#1a1a1a" stroke-width="1.2"/>
<line x1="319.0" x2="319.0" y1="130.3" y2="135.3" stroke="#1a1a1a" stroke-width="1.2"/>
<line x1="326.7" x2="326.7" y1="675.8" y2="670.8" stroke="#1a1a1a" stroke-width="1.2"/>
<line x1="326.7" x2="326.7" y1="130.3" y2="135.3" stroke="#1a1a1a" stroke-width="1.2"/>
<line x1="334.5" x2="334.5" y1="675.8" y2="670.8" stroke="#1a1a1a" stroke-width="1.2"/>
<line x1="334.5" x2="334.5" y1="130.3" y2="135.3" stroke="#1a1a1a" stroke-width="1.2"/>
<line x1="342.3" x2="342.3" y1="675.8" y2="670.8" stroke="#1a1a1a" stroke-width="1.2"/>
<line x1="342.3" x2="342.3" y1="130.3" y2="135.3" stroke="#1a1a1a" stroke-width="1.2"/>
<line x1="350.0" x2="350.0" y1="675.8" y2="670.8" stroke="#1a1a1a" stroke-width="1.2"/>
<line x1="350.0" x2="350.0" y1="130.3" y2="135.3" stroke="#1a1a1a" stroke-width="1.2"/>
<line x1="357.8" x2="357.8" y1="675.8" y2="670.8" stroke="#1a1a1a" stroke-width="1.2"/>
<line x1="357.8" x2="357.8" y1="130.3" y2="135.3" stroke="#1a1a1a" stroke-width="1.2"/>
<line x1="365.5" x2="365.5" y1="675.8" y2="670.8" stroke="#1a1a1a" stroke-width="1.2"/>
<line x1="365.5" x2="365.5" y1="130.3" y2="135.3" stroke="#1a1a1a" stroke-width="1.2"/>
<line x1="373.3" x2="373.3" y1="675.8" y2="670.8" stroke="#1a1a1a" stroke-width="1.2"/>
<line x1="373.3" x2="373.3" y1="130.3" y2="135.3" stroke="#1a1a1a" stroke-width="1.2"/>
<line x1="381.0" x2="381.0" y1="675.8" y2="670.8" stroke="#1a1a1a" stroke-width="1.2"/>
<line x1="381.0" x2="381.0" y1="130.3" y2="135.3" stroke="#1a1a1a" stroke-width="1.2"/>
<line x1="388.8" x2="388.8" y1="675.8" y2="664.8" stroke="#1a1a1a" stroke-width="1.2"/>
<line x1="388.8" x2="388.8" y1="130.3" y2="141.3" stroke="#1a1a1a" stroke-width="1.2"/>
<line x1="396.5" x2="396.5" y1="675.8" y2="670.8" stroke="#1a1a1a" stroke-width="1.2"/>
<line x1="396.5" x2="396.5" y1="130.3" y2="135.3" stroke="#1a1a1a" stroke-width="1.2"/>
<line x1="404.3" x2="404.3" y1="675.8" y2="670.8" stroke="#1a1a1a" stroke-width="1.2"/>
<line x1="404.3" x2="404.3" y1="130.3" y2="135.3" stroke="#1a1a1a" stroke-width="1.2"/>
<line x1="412.0" x2="412.0" y1="675.8" y2="670.8" stroke="#1a1a1a" stroke-width="1.2"/>
<line x1="412.0" x2="412.0" y1="130.3" y2="135.3" stroke="#1a1a1a" stroke-width="1.2"/>
<line x1="419.8" x2="419.8" y1="675.8" y2="670.8" stroke="#1a1a1a" stroke-width="1.2"/>
<line x1="419.8" x2="419.8" y1="130.3" y2="135.3" stroke="#1a1a1a" stroke-width="1.2"/>
<line x1="427.5" x2="427.5" y1="675.8" y2="670.8" stroke="#1a1a1a" stroke-width="1.2"/>
<line x1="427.5" x2="427.5" y1="130.3" y2="135.3" stroke="#1a1a1a" stroke-width="1.2"/>
<line x1="435.3" x2="435.3" y1="675.8" y2="670.8" stroke="#1a1a1a" stroke-width="1.2"/>
<line x1="435.3" x2="435.3" y1="130.3" y2="135.3" stroke="#1a1a1a" stroke-width="1.2"/>
<line x1="443.0" x2="443.0" y1="675.8" y2="670.8" stroke="#1a1a1a" stroke-width="1.2"/>
<line x1="443.0" x2="443.0" y1="130.3" y2="135.3" stroke="#1a1a1a" stroke-width="1.2"/>
<line x1="86.4" x2="91.4" y1="645.1" y2="645.1" stroke="#1a1a1a" stroke-width="1.2"/>
<line x1="450.8" x2="445.8" y1="645.1" y2="645.1" stroke="#1a1a1a" stroke-width="1.2"/>
<line x1="86.4" x2="91.4" y1="606.7" y2="606.7" stroke="#1a1a1a" stroke-width="1.2"/>
<line x1="450.8" x2="445.8" y1="606.7" y2="606.7" stroke="#1a1a1a" stroke-width="1.2"/>
<line x1="86.4" x2="91.4" y1="568.2" y2="568.2" stroke="#1a1a1a" stroke-width="1.2"/>
<line x1="450.8" x2="445.8" y1="568.2" y2="568.2" stroke="#1a1a1a" stroke-width="1.2"/>
<line x1="86.4" x2="94.9" y1="529.8" y2="529.8" stroke="#1a1a1a" stroke-width="1.2"/>
<line x1="450.8" x2="442.3" y1="529.8" y2="529.8" stroke="#1a1a1a" stroke-width="1.2"/>
<line x1="86.4" x2="91.4" y1="491.4" y2="491.4" stroke="#1a1a1a" stroke-width="1.2"/>
<line x1="450.8" x2="445.8" y1="491.4" y2="491.4" stroke="#1a1a1a" stroke-width="1.2"/>
<line x1="86.4" x2="91.4" y1="453.0" y2="453.0" stroke="#1a1a1a" stroke-width="1.2"/>
<line x1="450.8" x2="445.8" y1="453.0" y2="453.0" stroke="#1a1a1a" stroke-width="1.2"/>
<line x1="86.4" x2="91.4" y1="414.6" y2="414.6" stroke="#1a1a1a" stroke-width="1.2"/>
<line x1="450.8" x2="445.8" y1="414.6" y2="414.6" stroke="#1a1a1a" stroke-width="1.2"/>
<line x1="86.4" x2="94.9" y1="376.2" y2="376.2" stroke="#1a1a1a" stroke-width="1.2"/>
<line x1="450.8" x2="442.3" y1="376.2" y2="376.2" stroke="#1a1a1a" stroke-width="1.2"/>
<line x1="86.4" x2="91.4" y1="337.7" y2="337.7" stroke="#1a1a1a" stroke-width="1.2"/>
<line x1="450.8" x2="445.8" y1="337.7" y2="337.7" stroke="#1a1a1a" stroke-width="1.2"/>
<line x1="86.4" x2="91.4" y1="299.3" y2="299.3" stroke="#1a1a1a" stroke-width="1.2"/>
<line x1="450.8" x2="445.8" y1="299.3" y2="299.3" stroke="#1a1a1a" stroke-width="1.2"/>
<line x1="86.4" x2="91.4" y1="260.9" y2="260.9" stroke="#1a1a1a" stroke-width="1.2"/>
<line x1="450.8" x2="445.8" y1="260.9" y2="260.9" stroke="#1a1a1a" stroke-width="1.2"/>
<line x1="86.4" x2="94.9" y1="222.5" y2="222.5" stroke="#1a1a1a" stroke-width="1.2"/>
<line x1="450.8" x2="442.3" y1="222.5" y2="222.5" stroke="#1a1a1a" stroke-width="1.2"/>
<line x1="86.4" x2="91.4" y1="184.1" y2="184.1" stroke="#1a1a1a" stroke-width="1.2"/>
<line x1="450.8" x2="445.8" y1="184.1" y2="184.1" stroke="#1a1a1a" stroke-width="1.2"/>
<line x1="86.4" x2="91.4" y1="145.7" y2="145.7" stroke="#1a1a1a" stroke-width="1.2"/>
<line x1="450.8" x2="445.8" y1="145.7" y2="145.7" stroke="#1a1a1a" stroke-width="1.2"/>
<rect x="633.5" y="43.0" width="364.7" height="24.3" fill="url(#cb)" stroke="#1a1a1a" stroke-width="1.3"/>
<line x1="666.7" x2="666.7" y1="43.0" y2="45.2" stroke="#1a1a1a" stroke-width="1.4"/>
<line x1="666.7" x2="666.7" y1="60.9" y2="67.3" stroke="#1a1a1a" stroke-width="1.4"/>
<line x1="699.8" x2="699.8" y1="43.0" y2="45.2" stroke="#1a1a1a" stroke-width="1.4"/>
<line x1="699.8" x2="699.8" y1="64.7" y2="67.3" stroke="#1a1a1a" stroke-width="1.4"/>
<line x1="733.0" x2="733.0" y1="43.0" y2="45.2" stroke="#1a1a1a" stroke-width="1.4"/>
<line x1="733.0" x2="733.0" y1="60.9" y2="67.3" stroke="#1a1a1a" stroke-width="1.4"/>
<line x1="766.1" x2="766.1" y1="43.0" y2="45.2" stroke="#1a1a1a" stroke-width="1.4"/>
<line x1="766.1" x2="766.1" y1="64.7" y2="67.3" stroke="#1a1a1a" stroke-width="1.4"/>
<line x1="799.3" x2="799.3" y1="43.0" y2="45.2" stroke="#1a1a1a" stroke-width="1.4"/>
<line x1="799.3" x2="799.3" y1="60.9" y2="67.3" stroke="#1a1a1a" stroke-width="1.4"/>
<line x1="832.4" x2="832.4" y1="43.0" y2="45.2" stroke="#1a1a1a" stroke-width="1.4"/>
<line x1="832.4" x2="832.4" y1="64.7" y2="67.3" stroke="#1a1a1a" stroke-width="1.4"/>
<line x1="865.6" x2="865.6" y1="43.0" y2="45.2" stroke="#1a1a1a" stroke-width="1.4"/>
<line x1="865.6" x2="865.6" y1="60.9" y2="67.3" stroke="#1a1a1a" stroke-width="1.4"/>
<line x1="898.7" x2="898.7" y1="43.0" y2="45.2" stroke="#1a1a1a" stroke-width="1.4"/>
<line x1="898.7" x2="898.7" y1="64.7" y2="67.3" stroke="#1a1a1a" stroke-width="1.4"/>
<line x1="931.9" x2="931.9" y1="43.0" y2="45.2" stroke="#1a1a1a" stroke-width="1.4"/>
<line x1="931.9" x2="931.9" y1="60.9" y2="67.3" stroke="#1a1a1a" stroke-width="1.4"/>
<line x1="965.0" x2="965.0" y1="43.0" y2="45.2" stroke="#1a1a1a" stroke-width="1.4"/>
<line x1="965.0" x2="965.0" y1="64.7" y2="67.3" stroke="#1a1a1a" stroke-width="1.4"/>
<rect x="633.5" y="130.3" width="364.7" height="545.5" fill="none" stroke="#1a1a1a" stroke-width="1.3"/>
<line x1="641.3" x2="641.3" y1="675.8" y2="670.8" stroke="#1a1a1a" stroke-width="1.2"/>
<line x1="641.3" x2="641.3" y1="130.3" y2="135.3" stroke="#1a1a1a" stroke-width="1.2"/>
<line x1="649.0" x2="649.0" y1="675.8" y2="670.8" stroke="#1a1a1a" stroke-width="1.2"/>
<line x1="649.0" x2="649.0" y1="130.3" y2="135.3" stroke="#1a1a1a" stroke-width="1.2"/>
<line x1="656.8" x2="656.8" y1="675.8" y2="670.8" stroke="#1a1a1a" stroke-width="1.2"/>
<line x1="656.8" x2="656.8" y1="130.3" y2="135.3" stroke="#1a1a1a" stroke-width="1.2"/>
<line x1="664.5" x2="664.5" y1="675.8" y2="670.8" stroke="#1a1a1a" stroke-width="1.2"/>
<line x1="664.5" x2="664.5" y1="130.3" y2="135.3" stroke="#1a1a1a" stroke-width="1.2"/>
<line x1="672.3" x2="672.3" y1="675.8" y2="670.8" stroke="#1a1a1a" stroke-width="1.2"/>
<line x1="672.3" x2="672.3" y1="130.3" y2="135.3" stroke="#1a1a1a" stroke-width="1.2"/>
<line x1="680.1" x2="680.1" y1="675.8" y2="670.8" stroke="#1a1a1a" stroke-width="1.2"/>
<line x1="680.1" x2="680.1" y1="130.3" y2="135.3" stroke="#1a1a1a" stroke-width="1.2"/>
<line x1="687.8" x2="687.8" y1="675.8" y2="670.8" stroke="#1a1a1a" stroke-width="1.2"/>
<line x1="687.8" x2="687.8" y1="130.3" y2="135.3" stroke="#1a1a1a" stroke-width="1.2"/>
<line x1="695.6" x2="695.6" y1="675.8" y2="670.8" stroke="#1a1a1a" stroke-width="1.2"/>
<line x1="695.6" x2="695.6" y1="130.3" y2="135.3" stroke="#1a1a1a" stroke-width="1.2"/>
<line x1="703.3" x2="703.3" y1="675.8" y2="664.8" stroke="#1a1a1a" stroke-width="1.2"/>
<line x1="703.3" x2="703.3" y1="130.3" y2="141.3" stroke="#1a1a1a" stroke-width="1.2"/>
<line x1="711.1" x2="711.1" y1="675.8" y2="670.8" stroke="#1a1a1a" stroke-width="1.2"/>
<line x1="711.1" x2="711.1" y1="130.3" y2="135.3" stroke="#1a1a1a" stroke-width="1.2"/>
<line x1="718.9" x2="718.9" y1="675.8" y2="670.8" stroke="#1a1a1a" stroke-width="1.2"/>
<line x1="718.9" x2="718.9" y1="130.3" y2="135.3" stroke="#1a1a1a" stroke-width="1.2"/>
<line x1="726.6" x2="726.6" y1="675.8" y2="670.8" stroke="#1a1a1a" stroke-width="1.2"/>
<line x1="726.6" x2="726.6" y1="130.3" y2="135.3" stroke="#1a1a1a" stroke-width="1.2"/>
<line x1="734.4" x2="734.4" y1="675.8" y2="670.8" stroke="#1a1a1a" stroke-width="1.2"/>
<line x1="734.4" x2="734.4" y1="130.3" y2="135.3" stroke="#1a1a1a" stroke-width="1.2"/>
<line x1="742.1" x2="742.1" y1="675.8" y2="670.8" stroke="#1a1a1a" stroke-width="1.2"/>
<line x1="742.1" x2="742.1" y1="130.3" y2="135.3" stroke="#1a1a1a" stroke-width="1.2"/>
<line x1="749.9" x2="749.9" y1="675.8" y2="670.8" stroke="#1a1a1a" stroke-width="1.2"/>
<line x1="749.9" x2="749.9" y1="130.3" y2="135.3" stroke="#1a1a1a" stroke-width="1.2"/>
<line x1="757.7" x2="757.7" y1="675.8" y2="670.8" stroke="#1a1a1a" stroke-width="1.2"/>
<line x1="757.7" x2="757.7" y1="130.3" y2="135.3" stroke="#1a1a1a" stroke-width="1.2"/>
<line x1="765.4" x2="765.4" y1="675.8" y2="670.8" stroke="#1a1a1a" stroke-width="1.2"/>
<line x1="765.4" x2="765.4" y1="130.3" y2="135.3" stroke="#1a1a1a" stroke-width="1.2"/>
<line x1="773.2" x2="773.2" y1="675.8" y2="670.8" stroke="#1a1a1a" stroke-width="1.2"/>
<line x1="773.2" x2="773.2" y1="130.3" y2="135.3" stroke="#1a1a1a" stroke-width="1.2"/>
<line x1="780.9" x2="780.9" y1="675.8" y2="664.8" stroke="#1a1a1a" stroke-width="1.2"/>
<line x1="780.9" x2="780.9" y1="130.3" y2="141.3" stroke="#1a1a1a" stroke-width="1.2"/>
<line x1="788.7" x2="788.7" y1="675.8" y2="670.8" stroke="#1a1a1a" stroke-width="1.2"/>
<line x1="788.7" x2="788.7" y1="130.3" y2="135.3" stroke="#1a1a1a" stroke-width="1.2"/>
<line x1="796.5" x2="796.5" y1="675.8" y2="670.8" stroke="#1a1a1a" stroke-width="1.2"/>
<line x1="796.5" x2="796.5" y1="130.3" y2="135.3" stroke="#1a1a1a" stroke-width="1.2"/>
<line x1="804.2" x2="804.2" y1="675.8" y2="670.8" stroke="#1a1a1a" stroke-width="1.2"/>
<line x1="804.2" x2="804.2" y1="130.3" y2="135.3" stroke="#1a1a1a" stroke-width="1.2"/>
<line x1="812.0" x2="812.0" y1="675.8" y2="670.8" stroke="#1a1a1a" stroke-width="1.2"/>
<line x1="812.0" x2="812.0" y1="130.3" y2="135.3" stroke="#1a1a1a" stroke-width="1.2"/>
<line x1="819.7" x2="819.7" y1="675.8" y2="670.8" stroke="#1a1a1a" stroke-width="1.2"/>
<line x1="819.7" x2="819.7" y1="130.3" y2="135.3" stroke="#1a1a1a" stroke-width="1.2"/>
<line x1="827.5" x2="827.5" y1="675.8" y2="670.8" stroke="#1a1a1a" stroke-width="1.2"/>
<line x1="827.5" x2="827.5" y1="130.3" y2="135.3" stroke="#1a1a1a" stroke-width="1.2"/>
<line x1="835.2" x2="835.2" y1="675.8" y2="670.8" stroke="#1a1a1a" stroke-width="1.2"/>
<line x1="835.2" x2="835.2" y1="130.3" y2="135.3" stroke="#1a1a1a" stroke-width="1.2"/>
<line x1="843.0" x2="843.0" y1="675.8" y2="670.8" stroke="#1a1a1a" stroke-width="1.2"/>
<line x1="843.0" x2="843.0" y1="130.3" y2="135.3" stroke="#1a1a1a" stroke-width="1.2"/>
<line x1="850.8" x2="850.8" y1="675.8" y2="670.8" stroke="#1a1a1a" stroke-width="1.2"/>
<line x1="850.8" x2="850.8" y1="130.3" y2="135.3" stroke="#1a1a1a" stroke-width="1.2"/>
<line x1="858.5" x2="858.5" y1="675.8" y2="664.8" stroke="#1a1a1a" stroke-width="1.2"/>
<line x1="858.5" x2="858.5" y1="130.3" y2="141.3" stroke="#1a1a1a" stroke-width="1.2"/>
<line x1="866.3" x2="866.3" y1="675.8" y2="670.8" stroke="#1a1a1a" stroke-width="1.2"/>
<line x1="866.3" x2="866.3" y1="130.3" y2="135.3" stroke="#1a1a1a" stroke-width="1.2"/>
<line x1="874.0" x2="874.0" y1="675.8" y2="670.8" stroke="#1a1a1a" stroke-width="1.2"/>
<line x1="874.0" x2="874.0" y1="130.3" y2="135.3" stroke="#1a1a1a" stroke-width="1.2"/>
<line x1="881.8" x2="881.8" y1="675.8" y2="670.8" stroke="#1a1a1a" stroke-width="1.2"/>
<line x1="881.8" x2="881.8" y1="130.3" y2="135.3" stroke="#1a1a1a" stroke-width="1.2"/>
<line x1="889.6" x2="889.6" y1="675.8" y2="670.8" stroke="#1a1a1a" stroke-width="1.2"/>
<line x1="889.6" x2="889.6" y1="130.3" y2="135.3" stroke="#1a1a1a" stroke-width="1.2"/>
<line x1="897.3" x2="897.3" y1="675.8" y2="670.8" stroke="#1a1a1a" stroke-width="1.2"/>
<line x1="897.3" x2="897.3" y1="130.3" y2="135.3" stroke="#1a1a1a" stroke-width="1.2"/>
<line x1="905.1" x2="905.1" y1="675.8" y2="670.8" stroke="#1a1a1a" stroke-width="1.2"/>
<line x1="905.1" x2="905.1" y1="130.3" y2="135.3" stroke="#1a1a1a" stroke-width="1.2"/>
<line x1="912.8" x2="912.8" y1="675.8" y2="670.8" stroke="#1a1a1a" stroke-width="1.2"/>
<line x1="912.8" x2="912.8" y1="130.3" y2="135.3" stroke="#1a1a1a" stroke-width="1.2"/>
<line x1="920.6" x2="920.6" y1="675.8" y2="670.8" stroke="#1a1a1a" stroke-width="1.2"/>
<line x1="920.6" x2="920.6" y1="130.3" y2="135.3" stroke="#1a1a1a" stroke-width="1.2"/>
<line x1="928.4" x2="928.4" y1="675.8" y2="670.8" stroke="#1a1a1a" stroke-width="1.2"/>
<line x1="928.4" x2="928.4" y1="130.3" y2="135.3" stroke="#1a1a1a" stroke-width="1.2"/>
<line x1="936.1" x2="936.1" y1="675.8" y2="664.8" stroke="#1a1a1a" stroke-width="1.2"/>
<line x1="936.1" x2="936.1" y1="130.3" y2="141.3" stroke="#1a1a1a" stroke-width="1.2"/>
<line x1="943.9" x2="943.9" y1="675.8" y2="670.8" stroke="#1a1a1a" stroke-width="1.2"/>
<line x1="943.9" x2="943.9" y1="130.3" y2="135.3" stroke="#1a1a1a" stroke-width="1.2"/>
<line x1="951.6" x2="951.6" y1="675.8" y2="670.8" stroke="#1a1a1a" stroke-width="1.2"/>
<line x1="951.6" x2="951.6" y1="130.3" y2="135.3" stroke="#1a1a1a" stroke-width="1.2"/>
<line x1="959.4" x2="959.4" y1="675.8" y2="670.8" stroke="#1a1a1a" stroke-width="1.2"/>
<line x1="959.4" x2="959.4" y1="130.3" y2="135.3" stroke="#1a1a1a" stroke-width="1.2"/>
<line x1="967.2" x2="967.2" y1="675.8" y2="670.8" stroke="#1a1a1a" stroke-width="1.2"/>
<line x1="967.2" x2="967.2" y1="130.3" y2="135.3" stroke="#1a1a1a" stroke-width="1.2"/>
<line x1="974.9" x2="974.9" y1="675.8" y2="670.8" stroke="#1a1a1a" stroke-width="1.2"/>
<line x1="974.9" x2="974.9" y1="130.3" y2="135.3" stroke="#1a1a1a" stroke-width="1.2"/>
<line x1="982.7" x2="982.7" y1="675.8" y2="670.8" stroke="#1a1a1a" stroke-width="1.2"/>
<line x1="982.7" x2="982.7" y1="130.3" y2="135.3" stroke="#1a1a1a" stroke-width="1.2"/>
<line x1="990.4" x2="990.4" y1="675.8" y2="670.8" stroke="#1a1a1a" stroke-width="1.2"/>
<line x1="990.4" x2="990.4" y1="130.3" y2="135.3" stroke="#1a1a1a" stroke-width="1.2"/>
<line x1="633.5" x2="638.5" y1="645.1" y2="645.1" stroke="#1a1a1a" stroke-width="1.2"/>
<line x1="998.2" x2="993.2" y1="645.1" y2="645.1" stroke="#1a1a1a" stroke-width="1.2"/>
<line x1="633.5" x2="638.5" y1="606.7" y2="606.7" stroke="#1a1a1a" stroke-width="1.2"/>
<line x1="998.2" x2="993.2" y1="606.7" y2="606.7" stroke="#1a1a1a" stroke-width="1.2"/>
<line x1="633.5" x2="638.5" y1="568.2" y2="568.2" stroke="#1a1a1a" stroke-width="1.2"/>
<line x1="998.2" x2="993.2" y1="568.2" y2="568.2" stroke="#1a1a1a" stroke-width="1.2"/>
<line x1="633.5" x2="642.0" y1="529.8" y2="529.8" stroke="#1a1a1a" stroke-width="1.2"/>
<line x1="998.2" x2="989.7" y1="529.8" y2="529.8" stroke="#1a1a1a" stroke-width="1.2"/>
<line x1="633.5" x2="638.5" y1="491.4" y2="491.4" stroke="#1a1a1a" stroke-width="1.2"/>
<line x1="998.2" x2="993.2" y1="491.4" y2="491.4" stroke="#1a1a1a" stroke-width="1.2"/>
<line x1="633.5" x2="638.5" y1="453.0" y2="453.0" stroke="#1a1a1a" stroke-width="1.2"/>
<line x1="998.2" x2="993.2" y1="453.0" y2="453.0" stroke="#1a1a1a" stroke-width="1.2"/>
<line x1="633.5" x2="638.5" y1="414.6" y2="414.6" stroke="#1a1a1a" stroke-width="1.2"/>
<line x1="998.2" x2="993.2" y1="414.6" y2="414.6" stroke="#1a1a1a" stroke-width="1.2"/>
<line x1="633.5" x2="642.0" y1="376.2" y2="376.2" stroke="#1a1a1a" stroke-width="1.2"/>
<line x1="998.2" x2="989.7" y1="376.2" y2="376.2" stroke="#1a1a1a" stroke-width="1.2"/>
<line x1="633.5" x2="638.5" y1="337.7" y2="337.7" stroke="#1a1a1a" stroke-width="1.2"/>
<line x1="998.2" x2="993.2" y1="337.7" y2="337.7" stroke="#1a1a1a" stroke-width="1.2"/>
<line x1="633.5" x2="638.5" y1="299.3" y2="299.3" stroke="#1a1a1a" stroke-width="1.2"/>
<line x1="998.2" x2="993.2" y1="299.3" y2="299.3" stroke="#1a1a1a" stroke-width="1.2"/>
<line x1="633.5" x2="638.5" y1="260.9" y2="260.9" stroke="#1a1a1a" stroke-width="1.2"/>
<line x1="998.2" x2="993.2" y1="260.9" y2="260.9" stroke="#1a1a1a" stroke-width="1.2"/>
<line x1="633.5" x2="642.0" y1="222.5" y2="222.5" stroke="#1a1a1a" stroke-width="1.2"/>
<line x1="998.2" x2="989.7" y1="222.5" y2="222.5" stroke="#1a1a1a" stroke-width="1.2"/>
<line x1="633.5" x2="638.5" y1="184.1" y2="184.1" stroke="#1a1a1a" stroke-width="1.2"/>
<line x1="998.2" x2="993.2" y1="184.1" y2="184.1" stroke="#1a1a1a" stroke-width="1.2"/>
<line x1="633.5" x2="638.5" y1="145.7" y2="145.7" stroke="#1a1a1a" stroke-width="1.2"/>
<line x1="998.2" x2="993.2" y1="145.7" y2="145.7" stroke="#1a1a1a" stroke-width="1.2"/>
</svg></body></html>
